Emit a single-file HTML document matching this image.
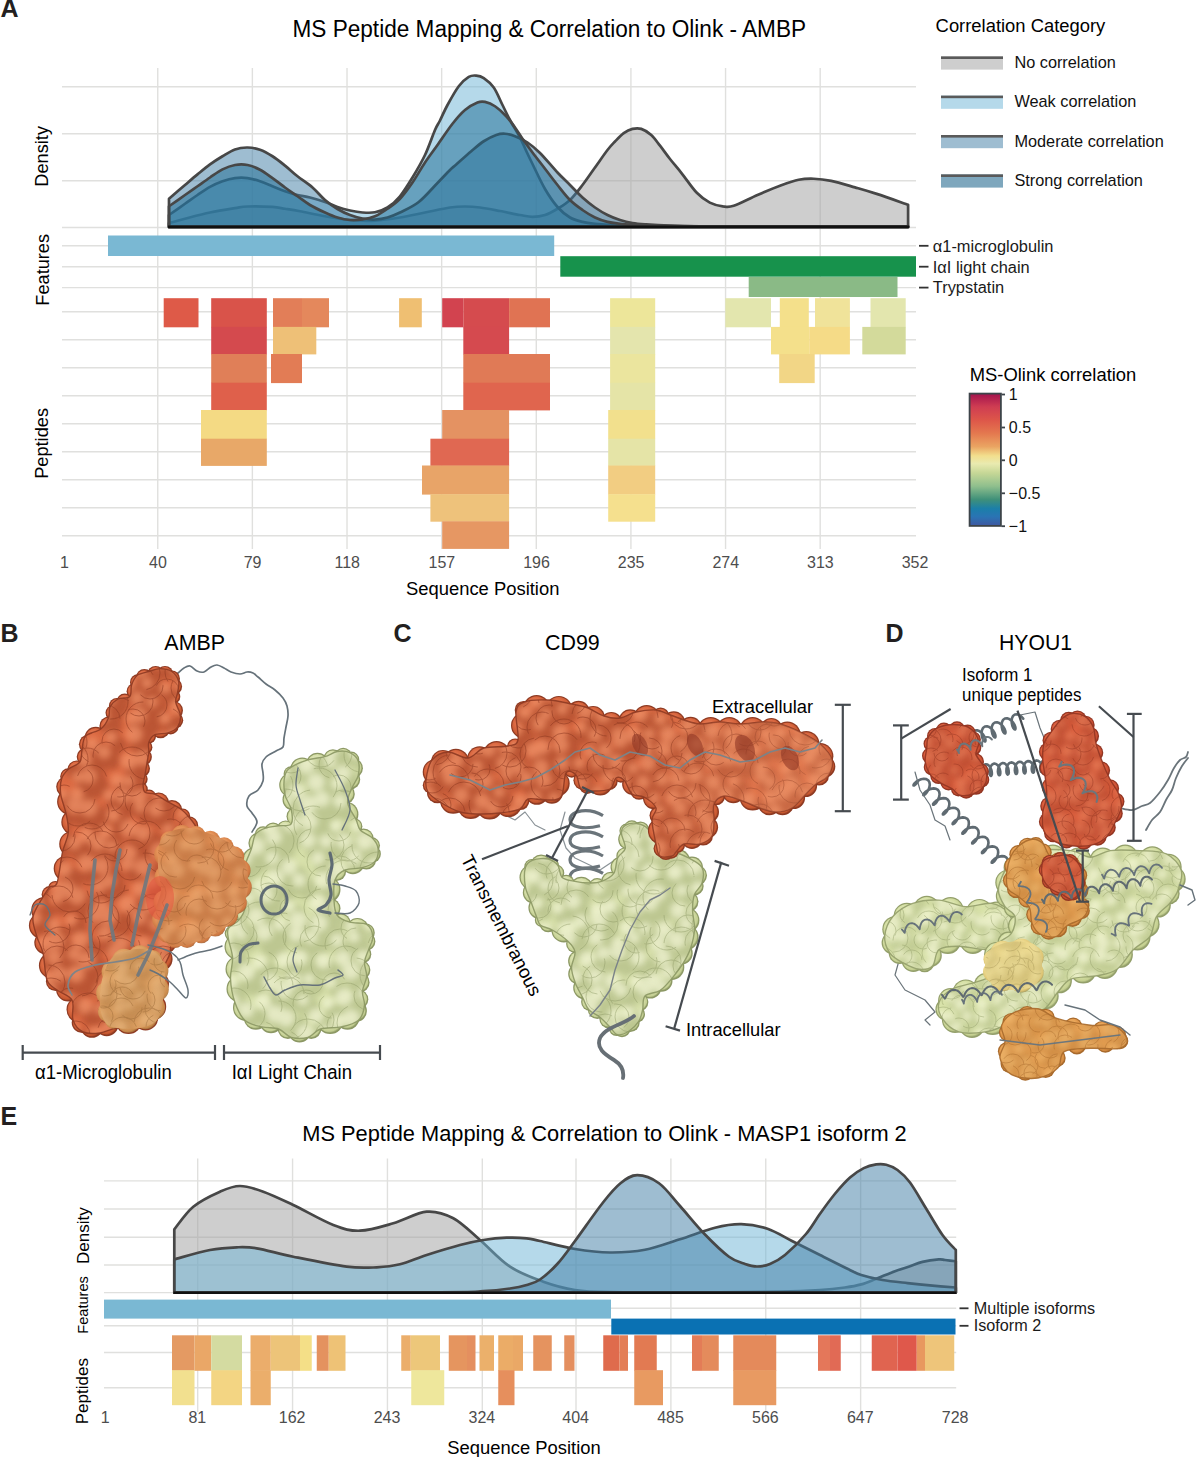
<!DOCTYPE html>
<html><head><meta charset="utf-8"><style>
html,body{margin:0;padding:0;background:#fff;}
body{width:1200px;height:1457px;overflow:hidden;}
svg{display:block;font-family:"Liberation Sans", sans-serif;}
</style></head><body>
<svg width="1200" height="1457" viewBox="0 0 1200 1457">
<rect width="1200" height="1457" fill="#fff"/>
<text transform="translate(0.5,17.4) scale(1,1.04)" font-size="25" text-anchor="start" fill="#231f20" font-weight="bold" >A</text>
<text transform="translate(292.5,37) scale(1,1.04)" font-size="22.6" text-anchor="start" fill="#000" font-weight="normal" >MS Peptide Mapping &amp; Correlation to Olink - AMBP</text>
<line x1="157.75" y1="68" x2="157.75" y2="549" stroke="#e0e0de" stroke-width="1.4" />
<line x1="252.38" y1="68" x2="252.38" y2="549" stroke="#e0e0de" stroke-width="1.4" />
<line x1="347.02" y1="68" x2="347.02" y2="549" stroke="#e0e0de" stroke-width="1.4" />
<line x1="441.65" y1="68" x2="441.65" y2="549" stroke="#e0e0de" stroke-width="1.4" />
<line x1="536.28" y1="68" x2="536.28" y2="549" stroke="#e0e0de" stroke-width="1.4" />
<line x1="630.92" y1="68" x2="630.92" y2="549" stroke="#e0e0de" stroke-width="1.4" />
<line x1="725.55" y1="68" x2="725.55" y2="549" stroke="#e0e0de" stroke-width="1.4" />
<line x1="820.18" y1="68" x2="820.18" y2="549" stroke="#e0e0de" stroke-width="1.4" />
<line x1="62" y1="86.75" x2="916" y2="86.75" stroke="#e0e0de" stroke-width="1.4" />
<line x1="62" y1="133.75" x2="916" y2="133.75" stroke="#e0e0de" stroke-width="1.4" />
<line x1="62" y1="180.75" x2="916" y2="180.75" stroke="#e0e0de" stroke-width="1.4" />
<line x1="62" y1="227.5" x2="916" y2="227.5" stroke="#e0e0de" stroke-width="1.4" />
<line x1="62" y1="245.8" x2="916" y2="245.8" stroke="#e0e0de" stroke-width="1.4" />
<line x1="62" y1="266.7" x2="916" y2="266.7" stroke="#e0e0de" stroke-width="1.4" />
<line x1="62" y1="287.6" x2="916" y2="287.6" stroke="#e0e0de" stroke-width="1.4" />
<line x1="62" y1="311.7" x2="916" y2="311.7" stroke="#e0e0de" stroke-width="1.4" />
<line x1="62" y1="339.7" x2="916" y2="339.7" stroke="#e0e0de" stroke-width="1.4" />
<line x1="62" y1="367.7" x2="916" y2="367.7" stroke="#e0e0de" stroke-width="1.4" />
<line x1="62" y1="395.7" x2="916" y2="395.7" stroke="#e0e0de" stroke-width="1.4" />
<line x1="62" y1="423.7" x2="916" y2="423.7" stroke="#e0e0de" stroke-width="1.4" />
<line x1="62" y1="451.7" x2="916" y2="451.7" stroke="#e0e0de" stroke-width="1.4" />
<line x1="62" y1="479.7" x2="916" y2="479.7" stroke="#e0e0de" stroke-width="1.4" />
<line x1="62" y1="507.7" x2="916" y2="507.7" stroke="#e0e0de" stroke-width="1.4" />
<line x1="62" y1="535.7" x2="916" y2="535.7" stroke="#e0e0de" stroke-width="1.4" />
<path d="M169,226.9 L169,223.1 C171.67,222.38 178.17,220.52 185.00,218.75 C191.83,216.98 201.67,214.28 210.00,212.50 C218.33,210.72 228.75,209.10 235.00,208.10 C241.25,207.10 241.25,206.70 247.50,206.50 C253.75,206.30 266.25,206.53 272.50,206.90 C278.75,207.28 280.42,208.03 285.00,208.75 C289.58,209.47 293.33,210.00 300.00,211.25 C306.67,212.50 316.67,214.79 325.00,216.25 C333.33,217.71 341.67,219.28 350.00,220.00 C358.33,220.72 366.67,221.02 375.00,220.60 C383.33,220.18 391.67,218.85 400.00,217.50 C408.33,216.15 416.67,214.17 425.00,212.50 C433.33,210.83 443.33,208.50 450.00,207.50 C456.67,206.50 460.00,206.50 465.00,206.50 C470.00,206.50 474.17,206.75 480.00,207.50 C485.83,208.25 493.33,209.75 500.00,211.00 C506.67,212.25 514.58,214.02 520.00,215.00 C525.42,215.98 528.33,216.90 532.50,216.90 C536.67,216.90 540.83,216.36 545.00,215.00 C549.17,213.64 553.33,211.25 557.50,208.75 C561.67,206.25 565.83,203.96 570.00,200.00 C574.17,196.04 578.33,190.42 582.50,185.00 C586.67,179.58 590.83,173.33 595.00,167.50 C599.17,161.67 604.17,154.33 607.50,150.00 C610.83,145.67 612.29,144.32 615.00,141.50 C617.71,138.68 620.83,135.20 623.75,133.10 C626.67,131.00 629.58,129.60 632.50,128.90 C635.42,128.20 638.12,127.88 641.25,128.90 C644.38,129.92 648.12,132.20 651.25,135.00 C654.38,137.80 656.88,141.70 660.00,145.70 C663.12,149.70 666.38,154.40 670.00,159.00 C673.62,163.60 677.23,167.67 681.70,173.30 C686.17,178.93 692.12,187.92 696.80,192.80 C701.48,197.68 705.47,200.35 709.80,202.60 C714.13,204.85 718.82,205.77 722.80,206.30 C726.78,206.83 727.92,207.68 733.70,205.80 C739.48,203.92 749.57,198.43 757.50,195.00 C765.43,191.57 774.43,187.78 781.30,185.25 C788.17,182.72 793.28,180.88 798.70,179.80 C804.12,178.72 808.38,178.57 813.80,178.75 C819.22,178.93 824.33,179.46 831.20,180.90 C838.07,182.34 847.42,185.23 855.00,187.40 C862.58,189.57 867.85,191.01 876.70,193.90 C885.55,196.79 902.87,202.94 908.10,204.75 L908.1,226.9 Z" fill="#9d9d9d" fill-opacity="0.5" stroke="none"/>
<path d="M169,226.9 L169,223.1 C171.67,222.38 178.17,220.52 185.00,218.75 C191.83,216.98 201.67,214.28 210.00,212.50 C218.33,210.72 228.75,209.10 235.00,208.10 C241.25,207.10 241.25,206.70 247.50,206.50 C253.75,206.30 266.25,206.53 272.50,206.90 C278.75,207.28 280.42,208.03 285.00,208.75 C289.58,209.47 293.33,210.00 300.00,211.25 C306.67,212.50 316.67,214.79 325.00,216.25 C333.33,217.71 341.67,219.28 350.00,220.00 C358.33,220.72 366.67,221.02 375.00,220.60 C383.33,220.18 391.67,218.85 400.00,217.50 C408.33,216.15 416.67,214.17 425.00,212.50 C433.33,210.83 443.33,208.50 450.00,207.50 C456.67,206.50 460.00,206.50 465.00,206.50 C470.00,206.50 474.17,206.75 480.00,207.50 C485.83,208.25 493.33,209.75 500.00,211.00 C506.67,212.25 514.58,214.02 520.00,215.00 C525.42,215.98 528.33,216.90 532.50,216.90 C536.67,216.90 540.83,216.36 545.00,215.00 C549.17,213.64 553.33,211.25 557.50,208.75 C561.67,206.25 565.83,203.96 570.00,200.00 C574.17,196.04 578.33,190.42 582.50,185.00 C586.67,179.58 590.83,173.33 595.00,167.50 C599.17,161.67 604.17,154.33 607.50,150.00 C610.83,145.67 612.29,144.32 615.00,141.50 C617.71,138.68 620.83,135.20 623.75,133.10 C626.67,131.00 629.58,129.60 632.50,128.90 C635.42,128.20 638.12,127.88 641.25,128.90 C644.38,129.92 648.12,132.20 651.25,135.00 C654.38,137.80 656.88,141.70 660.00,145.70 C663.12,149.70 666.38,154.40 670.00,159.00 C673.62,163.60 677.23,167.67 681.70,173.30 C686.17,178.93 692.12,187.92 696.80,192.80 C701.48,197.68 705.47,200.35 709.80,202.60 C714.13,204.85 718.82,205.77 722.80,206.30 C726.78,206.83 727.92,207.68 733.70,205.80 C739.48,203.92 749.57,198.43 757.50,195.00 C765.43,191.57 774.43,187.78 781.30,185.25 C788.17,182.72 793.28,180.88 798.70,179.80 C804.12,178.72 808.38,178.57 813.80,178.75 C819.22,178.93 824.33,179.46 831.20,180.90 C838.07,182.34 847.42,185.23 855.00,187.40 C862.58,189.57 867.85,191.01 876.70,193.90 C885.55,196.79 902.87,202.94 908.10,204.75 L908.1,226.9 Z" fill="none" stroke="#474747" stroke-width="2.7" stroke-linejoin="round"/>
<path d="M169,226.9 L169,215 C171.67,213.12 180.25,207.08 185.00,203.75 C189.75,200.42 193.33,197.81 197.50,195.00 C201.67,192.19 205.83,189.19 210.00,186.90 C214.17,184.61 218.33,182.72 222.50,181.25 C226.67,179.78 230.83,178.62 235.00,178.10 C239.17,177.57 243.33,177.57 247.50,178.10 C251.67,178.62 255.83,179.89 260.00,181.25 C264.17,182.61 268.33,184.58 272.50,186.25 C276.67,187.92 280.83,189.79 285.00,191.25 C289.17,192.71 293.33,193.96 297.50,195.00 C301.67,196.04 305.42,196.33 310.00,197.50 C314.58,198.67 320.42,200.42 325.00,202.00 C329.58,203.58 333.33,205.58 337.50,207.00 C341.67,208.42 345.83,209.58 350.00,210.50 C354.17,211.42 358.33,212.20 362.50,212.50 C366.67,212.80 370.83,213.13 375.00,212.30 C379.17,211.47 383.33,210.18 387.50,207.50 C391.67,204.82 395.83,201.25 400.00,196.25 C404.17,191.25 408.33,184.38 412.50,177.50 C416.67,170.62 421.25,162.92 425.00,155.00 C428.75,147.08 432.50,135.75 435.00,130.00 C437.50,124.25 437.92,124.67 440.00,120.50 C442.08,116.33 444.38,110.71 447.50,105.00 C450.62,99.29 455.21,90.93 458.75,86.25 C462.29,81.57 465.83,78.68 468.75,76.90 C471.67,75.12 473.75,75.40 476.25,75.60 C478.75,75.80 480.83,76.12 483.75,78.10 C486.67,80.08 490.62,83.02 493.75,87.50 C496.88,91.98 499.79,99.58 502.50,105.00 C505.21,110.42 507.08,114.58 510.00,120.00 C512.92,125.42 517.29,132.33 520.00,137.50 C522.71,142.67 524.17,146.58 526.25,151.00 C528.33,155.42 529.38,157.67 532.50,164.00 C535.62,170.33 540.83,181.83 545.00,189.00 C549.17,196.17 553.33,202.25 557.50,207.00 C561.67,211.75 565.83,215.02 570.00,217.50 C574.17,219.98 578.33,220.86 582.50,221.90 C586.67,222.94 588.75,223.15 595.00,223.75 C601.25,224.35 609.17,225.07 620.00,225.50 C630.83,225.93 612.00,226.12 660.00,226.30 C708.00,226.48 866.67,226.55 908.00,226.60 L908,226.9 Z" fill="#6cb4d6" fill-opacity="0.5" stroke="none"/>
<path d="M169,226.9 L169,215 C171.67,213.12 180.25,207.08 185.00,203.75 C189.75,200.42 193.33,197.81 197.50,195.00 C201.67,192.19 205.83,189.19 210.00,186.90 C214.17,184.61 218.33,182.72 222.50,181.25 C226.67,179.78 230.83,178.62 235.00,178.10 C239.17,177.57 243.33,177.57 247.50,178.10 C251.67,178.62 255.83,179.89 260.00,181.25 C264.17,182.61 268.33,184.58 272.50,186.25 C276.67,187.92 280.83,189.79 285.00,191.25 C289.17,192.71 293.33,193.96 297.50,195.00 C301.67,196.04 305.42,196.33 310.00,197.50 C314.58,198.67 320.42,200.42 325.00,202.00 C329.58,203.58 333.33,205.58 337.50,207.00 C341.67,208.42 345.83,209.58 350.00,210.50 C354.17,211.42 358.33,212.20 362.50,212.50 C366.67,212.80 370.83,213.13 375.00,212.30 C379.17,211.47 383.33,210.18 387.50,207.50 C391.67,204.82 395.83,201.25 400.00,196.25 C404.17,191.25 408.33,184.38 412.50,177.50 C416.67,170.62 421.25,162.92 425.00,155.00 C428.75,147.08 432.50,135.75 435.00,130.00 C437.50,124.25 437.92,124.67 440.00,120.50 C442.08,116.33 444.38,110.71 447.50,105.00 C450.62,99.29 455.21,90.93 458.75,86.25 C462.29,81.57 465.83,78.68 468.75,76.90 C471.67,75.12 473.75,75.40 476.25,75.60 C478.75,75.80 480.83,76.12 483.75,78.10 C486.67,80.08 490.62,83.02 493.75,87.50 C496.88,91.98 499.79,99.58 502.50,105.00 C505.21,110.42 507.08,114.58 510.00,120.00 C512.92,125.42 517.29,132.33 520.00,137.50 C522.71,142.67 524.17,146.58 526.25,151.00 C528.33,155.42 529.38,157.67 532.50,164.00 C535.62,170.33 540.83,181.83 545.00,189.00 C549.17,196.17 553.33,202.25 557.50,207.00 C561.67,211.75 565.83,215.02 570.00,217.50 C574.17,219.98 578.33,220.86 582.50,221.90 C586.67,222.94 588.75,223.15 595.00,223.75 C601.25,224.35 609.17,225.07 620.00,225.50 C630.83,225.93 612.00,226.12 660.00,226.30 C708.00,226.48 866.67,226.55 908.00,226.60 L908,226.9 Z" fill="none" stroke="#474747" stroke-width="2.7" stroke-linejoin="round"/>
<path d="M169,226.9 L169,198.75 C171.67,196.46 180.25,189.06 185.00,185.00 C189.75,180.94 193.33,177.83 197.50,174.40 C201.67,170.97 205.83,167.43 210.00,164.40 C214.17,161.38 218.33,158.75 222.50,156.25 C226.67,153.75 230.83,150.86 235.00,149.40 C239.17,147.94 243.33,147.44 247.50,147.50 C251.67,147.56 255.83,148.29 260.00,149.75 C264.17,151.21 268.33,153.61 272.50,156.25 C276.67,158.89 280.83,162.27 285.00,165.60 C289.17,168.93 292.92,172.60 297.50,176.25 C302.08,179.90 307.92,183.54 312.50,187.50 C317.08,191.46 320.83,196.42 325.00,200.00 C329.17,203.58 333.33,206.50 337.50,209.00 C341.67,211.50 345.83,213.42 350.00,215.00 C354.17,216.58 358.33,217.75 362.50,218.50 C366.67,219.25 370.83,219.67 375.00,219.50 C379.17,219.33 383.33,218.67 387.50,217.50 C391.67,216.33 394.79,215.08 400.00,212.50 C405.21,209.92 412.50,206.92 418.75,202.00 C425.00,197.08 432.29,188.33 437.50,183.00 C442.71,177.67 446.88,173.08 450.00,170.00 C453.12,166.92 452.71,167.62 456.25,164.50 C459.79,161.38 466.67,155.12 471.25,151.25 C475.83,147.38 479.58,143.96 483.75,141.25 C487.92,138.54 492.71,136.25 496.25,135.00 C499.79,133.75 501.88,133.54 505.00,133.75 C508.12,133.96 511.25,134.79 515.00,136.25 C518.75,137.71 523.33,139.71 527.50,142.50 C531.67,145.29 535.00,148.00 540.00,153.00 C545.00,158.00 552.50,167.17 557.50,172.50 C562.50,177.83 565.83,180.83 570.00,185.00 C574.17,189.17 578.33,193.75 582.50,197.50 C586.67,201.25 590.83,204.58 595.00,207.50 C599.17,210.42 603.33,212.92 607.50,215.00 C611.67,217.08 615.83,218.65 620.00,220.00 C624.17,221.35 628.33,222.37 632.50,223.10 C636.67,223.83 638.75,223.98 645.00,224.40 C651.25,224.82 657.50,225.27 670.00,225.60 C682.50,225.93 680.33,226.23 720.00,226.40 C759.67,226.57 876.67,226.57 908.00,226.60 L908,226.9 Z" fill="#3d7ca3" fill-opacity="0.5" stroke="none"/>
<path d="M169,226.9 L169,198.75 C171.67,196.46 180.25,189.06 185.00,185.00 C189.75,180.94 193.33,177.83 197.50,174.40 C201.67,170.97 205.83,167.43 210.00,164.40 C214.17,161.38 218.33,158.75 222.50,156.25 C226.67,153.75 230.83,150.86 235.00,149.40 C239.17,147.94 243.33,147.44 247.50,147.50 C251.67,147.56 255.83,148.29 260.00,149.75 C264.17,151.21 268.33,153.61 272.50,156.25 C276.67,158.89 280.83,162.27 285.00,165.60 C289.17,168.93 292.92,172.60 297.50,176.25 C302.08,179.90 307.92,183.54 312.50,187.50 C317.08,191.46 320.83,196.42 325.00,200.00 C329.17,203.58 333.33,206.50 337.50,209.00 C341.67,211.50 345.83,213.42 350.00,215.00 C354.17,216.58 358.33,217.75 362.50,218.50 C366.67,219.25 370.83,219.67 375.00,219.50 C379.17,219.33 383.33,218.67 387.50,217.50 C391.67,216.33 394.79,215.08 400.00,212.50 C405.21,209.92 412.50,206.92 418.75,202.00 C425.00,197.08 432.29,188.33 437.50,183.00 C442.71,177.67 446.88,173.08 450.00,170.00 C453.12,166.92 452.71,167.62 456.25,164.50 C459.79,161.38 466.67,155.12 471.25,151.25 C475.83,147.38 479.58,143.96 483.75,141.25 C487.92,138.54 492.71,136.25 496.25,135.00 C499.79,133.75 501.88,133.54 505.00,133.75 C508.12,133.96 511.25,134.79 515.00,136.25 C518.75,137.71 523.33,139.71 527.50,142.50 C531.67,145.29 535.00,148.00 540.00,153.00 C545.00,158.00 552.50,167.17 557.50,172.50 C562.50,177.83 565.83,180.83 570.00,185.00 C574.17,189.17 578.33,193.75 582.50,197.50 C586.67,201.25 590.83,204.58 595.00,207.50 C599.17,210.42 603.33,212.92 607.50,215.00 C611.67,217.08 615.83,218.65 620.00,220.00 C624.17,221.35 628.33,222.37 632.50,223.10 C636.67,223.83 638.75,223.98 645.00,224.40 C651.25,224.82 657.50,225.27 670.00,225.60 C682.50,225.93 680.33,226.23 720.00,226.40 C759.67,226.57 876.67,226.57 908.00,226.60 L908,226.9 Z" fill="none" stroke="#474747" stroke-width="2.7" stroke-linejoin="round"/>
<path d="M169,226.9 L169,206.25 C171.67,204.38 180.25,198.33 185.00,195.00 C189.75,191.67 193.33,189.17 197.50,186.25 C201.67,183.33 205.83,180.31 210.00,177.50 C214.17,174.69 218.33,171.48 222.50,169.40 C226.67,167.32 230.83,165.73 235.00,165.00 C239.17,164.27 243.33,164.21 247.50,165.00 C251.67,165.79 255.83,167.57 260.00,169.75 C264.17,171.93 268.33,175.14 272.50,178.10 C276.67,181.06 280.83,184.47 285.00,187.50 C289.17,190.53 293.33,193.33 297.50,196.25 C301.67,199.17 305.42,202.29 310.00,205.00 C314.58,207.71 320.42,210.42 325.00,212.50 C329.58,214.58 333.33,216.25 337.50,217.50 C341.67,218.75 345.83,219.68 350.00,220.00 C354.17,220.32 358.33,220.03 362.50,219.40 C366.67,218.78 370.83,218.03 375.00,216.25 C379.17,214.47 383.33,211.67 387.50,208.75 C391.67,205.83 395.83,203.12 400.00,198.75 C404.17,194.38 408.33,188.54 412.50,182.50 C416.67,176.46 420.83,168.75 425.00,162.50 C429.17,156.25 432.92,151.46 437.50,145.00 C442.08,138.54 447.92,129.58 452.50,123.75 C457.08,117.92 460.83,113.54 465.00,110.00 C469.17,106.46 474.17,103.85 477.50,102.50 C480.83,101.15 482.08,101.28 485.00,101.90 C487.92,102.53 491.46,103.86 495.00,106.25 C498.54,108.64 502.92,112.71 506.25,116.25 C509.58,119.79 512.29,123.75 515.00,127.50 C517.71,131.25 519.58,134.58 522.50,138.75 C525.42,142.92 528.75,147.50 532.50,152.50 C536.25,157.50 540.83,163.33 545.00,168.75 C549.17,174.17 553.33,179.79 557.50,185.00 C561.67,190.21 565.83,195.83 570.00,200.00 C574.17,204.17 578.33,207.08 582.50,210.00 C586.67,212.92 590.83,215.52 595.00,217.50 C599.17,219.48 603.33,220.86 607.50,221.90 C611.67,222.94 615.83,223.30 620.00,223.75 C624.17,224.20 625.83,224.26 632.50,224.60 C639.17,224.94 645.42,225.50 660.00,225.80 C674.58,226.10 678.67,226.27 720.00,226.40 C761.33,226.53 876.67,226.57 908.00,226.60 L908,226.9 Z" fill="#1a6a92" fill-opacity="0.5" stroke="none"/>
<path d="M169,226.9 L169,206.25 C171.67,204.38 180.25,198.33 185.00,195.00 C189.75,191.67 193.33,189.17 197.50,186.25 C201.67,183.33 205.83,180.31 210.00,177.50 C214.17,174.69 218.33,171.48 222.50,169.40 C226.67,167.32 230.83,165.73 235.00,165.00 C239.17,164.27 243.33,164.21 247.50,165.00 C251.67,165.79 255.83,167.57 260.00,169.75 C264.17,171.93 268.33,175.14 272.50,178.10 C276.67,181.06 280.83,184.47 285.00,187.50 C289.17,190.53 293.33,193.33 297.50,196.25 C301.67,199.17 305.42,202.29 310.00,205.00 C314.58,207.71 320.42,210.42 325.00,212.50 C329.58,214.58 333.33,216.25 337.50,217.50 C341.67,218.75 345.83,219.68 350.00,220.00 C354.17,220.32 358.33,220.03 362.50,219.40 C366.67,218.78 370.83,218.03 375.00,216.25 C379.17,214.47 383.33,211.67 387.50,208.75 C391.67,205.83 395.83,203.12 400.00,198.75 C404.17,194.38 408.33,188.54 412.50,182.50 C416.67,176.46 420.83,168.75 425.00,162.50 C429.17,156.25 432.92,151.46 437.50,145.00 C442.08,138.54 447.92,129.58 452.50,123.75 C457.08,117.92 460.83,113.54 465.00,110.00 C469.17,106.46 474.17,103.85 477.50,102.50 C480.83,101.15 482.08,101.28 485.00,101.90 C487.92,102.53 491.46,103.86 495.00,106.25 C498.54,108.64 502.92,112.71 506.25,116.25 C509.58,119.79 512.29,123.75 515.00,127.50 C517.71,131.25 519.58,134.58 522.50,138.75 C525.42,142.92 528.75,147.50 532.50,152.50 C536.25,157.50 540.83,163.33 545.00,168.75 C549.17,174.17 553.33,179.79 557.50,185.00 C561.67,190.21 565.83,195.83 570.00,200.00 C574.17,204.17 578.33,207.08 582.50,210.00 C586.67,212.92 590.83,215.52 595.00,217.50 C599.17,219.48 603.33,220.86 607.50,221.90 C611.67,222.94 615.83,223.30 620.00,223.75 C624.17,224.20 625.83,224.26 632.50,224.60 C639.17,224.94 645.42,225.50 660.00,225.80 C674.58,226.10 678.67,226.27 720.00,226.40 C761.33,226.53 876.67,226.57 908.00,226.60 L908,226.9 Z" fill="none" stroke="#474747" stroke-width="2.7" stroke-linejoin="round"/>
<line x1="168" y1="226.9" x2="909.2" y2="226.9" stroke="#111" stroke-width="2.6" />
<rect x="108.00" y="235.50" width="446.20" height="20.50" fill="#7ab8d3" />
<rect x="560.30" y="256.20" width="355.70" height="20.50" fill="#17924c" />
<rect x="748.70" y="277.00" width="148.80" height="20.00" fill="#8aba86" />
<line x1="919" y1="245.8" x2="928.5" y2="245.8" stroke="#333" stroke-width="1.8" />
<line x1="919" y1="266.7" x2="928.5" y2="266.7" stroke="#333" stroke-width="1.8" />
<line x1="919" y1="287.6" x2="928.5" y2="287.6" stroke="#333" stroke-width="1.8" />
<text transform="translate(932.8,252.1) scale(1,1.04)" font-size="16.4" text-anchor="start" fill="#1a1a1a" font-weight="normal" >α1-microglobulin</text>
<text transform="translate(932.8,272.8) scale(1,1.04)" font-size="16.4" text-anchor="start" fill="#1a1a1a" font-weight="normal" >IαI light chain</text>
<text transform="translate(932.8,293.2) scale(1,1.04)" font-size="16.4" text-anchor="start" fill="#1a1a1a" font-weight="normal" >Trypstatin</text>
<rect x="163.70" y="298.20" width="34.80" height="29.10" fill="#de5a48" />
<rect x="211.20" y="298.20" width="55.60" height="29.10" fill="#d9534a" />
<rect x="211.20" y="326.90" width="55.60" height="27.50" fill="#d44a4e" />
<rect x="211.20" y="354.00" width="55.60" height="29.10" fill="#e07f58" />
<rect x="211.20" y="382.70" width="55.60" height="27.70" fill="#df604b" />
<rect x="201.00" y="410.00" width="65.80" height="29.10" fill="#f4da84" />
<rect x="201.00" y="438.70" width="65.80" height="27.20" fill="#e8a868" />
<rect x="273.00" y="298.20" width="29.00" height="29.10" fill="#e27e58" />
<rect x="302.00" y="298.20" width="27.00" height="29.10" fill="#e4885c" />
<rect x="273.00" y="326.90" width="43.30" height="27.50" fill="#eec077" />
<rect x="271.00" y="354.00" width="31.00" height="29.10" fill="#e27c55" />
<rect x="399.10" y="298.20" width="22.70" height="29.10" fill="#efbf72" />
<rect x="442.20" y="298.20" width="21.10" height="29.10" fill="#d2434f" />
<rect x="463.30" y="298.20" width="45.80" height="29.10" fill="#d54b4e" />
<rect x="463.30" y="326.90" width="45.80" height="27.50" fill="#d54a4f" />
<rect x="509.10" y="298.20" width="40.90" height="29.10" fill="#e07353" />
<rect x="463.30" y="354.00" width="86.70" height="29.10" fill="#e07a56" />
<rect x="463.30" y="382.70" width="86.70" height="27.70" fill="#e0654e" />
<rect x="442.20" y="410.00" width="66.90" height="29.10" fill="#e49262" />
<rect x="430.40" y="438.70" width="78.70" height="27.20" fill="#e06852" />
<rect x="422.00" y="465.50" width="87.10" height="29.10" fill="#e8a468" />
<rect x="430.40" y="494.20" width="78.70" height="27.50" fill="#eec27b" />
<rect x="442.20" y="521.30" width="66.90" height="27.60" fill="#e69763" />
<rect x="610.10" y="298.20" width="45.10" height="29.10" fill="#ede69a" />
<rect x="610.10" y="326.90" width="45.10" height="27.50" fill="#e4e5ad" />
<rect x="610.10" y="354.00" width="45.10" height="29.10" fill="#ebe59e" />
<rect x="610.10" y="382.70" width="45.10" height="27.70" fill="#e5e4a7" />
<rect x="608.20" y="410.00" width="47.00" height="29.10" fill="#f2e08d" />
<rect x="608.20" y="438.70" width="47.00" height="27.20" fill="#e5e4a7" />
<rect x="608.20" y="465.50" width="47.00" height="29.10" fill="#f2cd82" />
<rect x="608.20" y="494.20" width="47.00" height="27.50" fill="#f5e08e" />
<rect x="725.30" y="298.20" width="45.70" height="29.10" fill="#e3e6ae" />
<rect x="779.80" y="298.20" width="29.00" height="29.10" fill="#f4e08b" />
<rect x="815.00" y="298.20" width="34.90" height="29.10" fill="#f0e39a" />
<rect x="870.50" y="298.20" width="35.20" height="29.10" fill="#e3e6ae" />
<rect x="771.00" y="326.90" width="38.20" height="27.50" fill="#f4e08b" />
<rect x="809.20" y="326.90" width="40.70" height="27.50" fill="#f5db87" />
<rect x="862.30" y="326.90" width="43.40" height="27.50" fill="#d3da9b" />
<rect x="779.20" y="354.00" width="35.50" height="29.10" fill="#f2d686" />
<text transform="translate(64.52,568) scale(1,1.04)" font-size="16" text-anchor="middle" fill="#4d4d4d" font-weight="normal" >1</text>
<text transform="translate(157.95,568) scale(1,1.04)" font-size="16" text-anchor="middle" fill="#4d4d4d" font-weight="normal" >40</text>
<text transform="translate(252.58,568) scale(1,1.04)" font-size="16" text-anchor="middle" fill="#4d4d4d" font-weight="normal" >79</text>
<text transform="translate(347.22,568) scale(1,1.04)" font-size="16" text-anchor="middle" fill="#4d4d4d" font-weight="normal" >118</text>
<text transform="translate(441.85,568) scale(1,1.04)" font-size="16" text-anchor="middle" fill="#4d4d4d" font-weight="normal" >157</text>
<text transform="translate(536.48,568) scale(1,1.04)" font-size="16" text-anchor="middle" fill="#4d4d4d" font-weight="normal" >196</text>
<text transform="translate(631.12,568) scale(1,1.04)" font-size="16" text-anchor="middle" fill="#4d4d4d" font-weight="normal" >235</text>
<text transform="translate(725.75,568) scale(1,1.04)" font-size="16" text-anchor="middle" fill="#4d4d4d" font-weight="normal" >274</text>
<text transform="translate(820.38,568) scale(1,1.04)" font-size="16" text-anchor="middle" fill="#4d4d4d" font-weight="normal" >313</text>
<text transform="translate(915.02,568) scale(1,1.04)" font-size="16" text-anchor="middle" fill="#4d4d4d" font-weight="normal" >352</text>
<text transform="translate(482.7,595.3) scale(1,1.04)" font-size="18.4" text-anchor="middle" fill="#000" font-weight="normal" >Sequence Position</text>
<text x="0" y="0" font-size="18.2" text-anchor="middle" fill="#000" transform="translate(47.6,156.3) rotate(-90)">Density</text>
<text x="0" y="0" font-size="18.2" text-anchor="middle" fill="#000" transform="translate(48.6,269.8) rotate(-90)">Features</text>
<text x="0" y="0" font-size="18.2" text-anchor="middle" fill="#000" transform="translate(47.6,443.4) rotate(-90)">Peptides</text>
<text transform="translate(935.6,31.8) scale(1,1.04)" font-size="18.4" text-anchor="start" fill="#000" font-weight="normal" >Correlation Category</text>
<rect x="941.00" y="56.40" width="62.00" height="13.20" fill="#cecece" />
<rect x="941.00" y="56.40" width="62.00" height="2.60" fill="#5a5a5a" />
<text transform="translate(1014.4,68.2) scale(1,1.04)" font-size="16.3" text-anchor="start" fill="#111" font-weight="normal" >No correlation</text>
<rect x="941.00" y="95.60" width="62.00" height="13.20" fill="#b5d9ea" />
<rect x="941.00" y="95.60" width="62.00" height="2.60" fill="#5a5a5a" />
<text transform="translate(1014.4,107.39999999999999) scale(1,1.04)" font-size="16.3" text-anchor="start" fill="#111" font-weight="normal" >Weak correlation</text>
<rect x="941.00" y="135.00" width="62.00" height="13.20" fill="#9ebdd1" />
<rect x="941.00" y="135.00" width="62.00" height="2.60" fill="#5a5a5a" />
<text transform="translate(1014.4,146.8) scale(1,1.04)" font-size="16.3" text-anchor="start" fill="#111" font-weight="normal" >Moderate correlation</text>
<rect x="941.00" y="174.40" width="62.00" height="13.20" fill="#7ea7bd" />
<rect x="941.00" y="174.40" width="62.00" height="2.60" fill="#5a5a5a" />
<text transform="translate(1014.4,186.20000000000002) scale(1,1.04)" font-size="16.3" text-anchor="start" fill="#111" font-weight="normal" >Strong correlation</text>
<defs><linearGradient id="cb" x1="0" y1="0" x2="0" y2="1">
<stop offset="0" stop-color="#a3124d"/><stop offset="0.1" stop-color="#cf3d52"/><stop offset="0.2" stop-color="#dd5649"/>
<stop offset="0.3" stop-color="#e4784f"/><stop offset="0.4" stop-color="#eaa462"/><stop offset="0.47" stop-color="#f2df8d"/>
<stop offset="0.53" stop-color="#e9eab0"/><stop offset="0.6" stop-color="#c6d796"/><stop offset="0.7" stop-color="#8fbf8d"/>
<stop offset="0.8" stop-color="#3f9079"/><stop offset="0.87" stop-color="#1b7fa9"/><stop offset="0.93" stop-color="#2a74b4"/><stop offset="1" stop-color="#3f57a0"/>
</linearGradient></defs>
<rect x="969.6" y="393.6" width="31.3" height="132.3" fill="url(#cb)" stroke="#3d4449" stroke-width="1.8"/>
<text transform="translate(969.7,380.8) scale(1,1.04)" font-size="18.4" text-anchor="start" fill="#000" font-weight="normal" >MS-Olink correlation</text>
<line x1="1001.5" y1="394.5" x2="1005" y2="394.5" stroke="#3d4449" stroke-width="1.8" />
<text transform="translate(1008.8,400.1) scale(1,1.04)" font-size="16" text-anchor="start" fill="#111" font-weight="normal" >1</text>
<line x1="1001.5" y1="427.5" x2="1005" y2="427.5" stroke="#3d4449" stroke-width="1.8" />
<text transform="translate(1008.8,433.1) scale(1,1.04)" font-size="16" text-anchor="start" fill="#111" font-weight="normal" >0.5</text>
<line x1="1001.5" y1="460.3" x2="1005" y2="460.3" stroke="#3d4449" stroke-width="1.8" />
<text transform="translate(1008.8,465.90000000000003) scale(1,1.04)" font-size="16" text-anchor="start" fill="#111" font-weight="normal" >0</text>
<line x1="1001.5" y1="493.3" x2="1005" y2="493.3" stroke="#3d4449" stroke-width="1.8" />
<text transform="translate(1008.8,498.90000000000003) scale(1,1.04)" font-size="16" text-anchor="start" fill="#111" font-weight="normal" >−0.5</text>
<line x1="1001.5" y1="526.2" x2="1005" y2="526.2" stroke="#3d4449" stroke-width="1.8" />
<text transform="translate(1008.8,531.8000000000001) scale(1,1.04)" font-size="16" text-anchor="start" fill="#111" font-weight="normal" >−1</text>
<defs>
<radialGradient id="g_or" cx="0.42" cy="0.38" r="0.62" fx="0.38" fy="0.32"><stop offset="0" stop-color="#f2946a"/><stop offset="0.45" stop-color="#dc6a43"/><stop offset="0.85" stop-color="#c5572f"/><stop offset="1" stop-color="#8e3a22"/></radialGradient>
<radialGradient id="g_rd" cx="0.42" cy="0.38" r="0.62" fx="0.38" fy="0.32"><stop offset="0" stop-color="#f08a64"/><stop offset="0.45" stop-color="#dc5f3e"/><stop offset="0.85" stop-color="#c44c30"/><stop offset="1" stop-color="#923522"/></radialGradient>
<radialGradient id="g_yo" cx="0.42" cy="0.38" r="0.62" fx="0.38" fy="0.32"><stop offset="0" stop-color="#f6c47a"/><stop offset="0.45" stop-color="#e8a255"/><stop offset="0.85" stop-color="#d48a40"/><stop offset="1" stop-color="#a86a2c"/></radialGradient>
<radialGradient id="g_tan" cx="0.42" cy="0.38" r="0.62" fx="0.38" fy="0.32"><stop offset="0" stop-color="#f4c98a"/><stop offset="0.45" stop-color="#e7ad68"/><stop offset="0.85" stop-color="#d49650"/><stop offset="1" stop-color="#a87838"/></radialGradient>
<radialGradient id="g_gr" cx="0.42" cy="0.38" r="0.62" fx="0.38" fy="0.32"><stop offset="0" stop-color="#f4f7d8"/><stop offset="0.45" stop-color="#d8e1ab"/><stop offset="0.85" stop-color="#c3ce92"/><stop offset="1" stop-color="#8c9864"/></radialGradient>
<radialGradient id="g_ye" cx="0.42" cy="0.38" r="0.62" fx="0.38" fy="0.32"><stop offset="0" stop-color="#f8eaa8"/><stop offset="0.45" stop-color="#ecd88c"/><stop offset="0.85" stop-color="#dcc474"/><stop offset="1" stop-color="#a89858"/></radialGradient>
<radialGradient id="g_gl" cx="0.42" cy="0.38" r="0.62" fx="0.38" fy="0.32"><stop offset="0" stop-color="#f4f7d6"/><stop offset="0.45" stop-color="#d8e2a8"/><stop offset="0.85" stop-color="#c4cf90"/><stop offset="1" stop-color="#939f6a"/></radialGradient>
<radialGradient id="g_yb" cx="0.42" cy="0.38" r="0.62" fx="0.38" fy="0.32"><stop offset="0" stop-color="#f2b27a"/><stop offset="0.45" stop-color="#e28f55"/><stop offset="0.85" stop-color="#cc7842"/><stop offset="1" stop-color="#9a5a2e"/></radialGradient>
<radialGradient id="g_tb" cx="0.42" cy="0.38" r="0.62" fx="0.38" fy="0.32"><stop offset="0" stop-color="#f0c088"/><stop offset="0.45" stop-color="#dea062"/><stop offset="0.85" stop-color="#c88a4c"/><stop offset="1" stop-color="#9a6a38"/></radialGradient>
<radialGradient id="s_or" cx="0.45" cy="0.42" r="0.6" fx="0.4" fy="0.35"><stop offset="0" stop-color="#f2946a" stop-opacity="0.85"/><stop offset="0.55" stop-color="#dc6a43"/><stop offset="0.88" stop-color="#c5572f"/><stop offset="1" stop-color="#8e3a22" stop-opacity="0.85"/></radialGradient>
<radialGradient id="s_rd" cx="0.45" cy="0.42" r="0.6" fx="0.4" fy="0.35"><stop offset="0" stop-color="#f08a64" stop-opacity="0.85"/><stop offset="0.55" stop-color="#dc5f3e"/><stop offset="0.88" stop-color="#c44c30"/><stop offset="1" stop-color="#923522" stop-opacity="0.85"/></radialGradient>
<radialGradient id="s_yo" cx="0.45" cy="0.42" r="0.6" fx="0.4" fy="0.35"><stop offset="0" stop-color="#f6c47a" stop-opacity="0.85"/><stop offset="0.55" stop-color="#e8a255"/><stop offset="0.88" stop-color="#d48a40"/><stop offset="1" stop-color="#a86a2c" stop-opacity="0.85"/></radialGradient>
<radialGradient id="s_tan" cx="0.45" cy="0.42" r="0.6" fx="0.4" fy="0.35"><stop offset="0" stop-color="#f4c98a" stop-opacity="0.85"/><stop offset="0.55" stop-color="#e7ad68"/><stop offset="0.88" stop-color="#d49650"/><stop offset="1" stop-color="#a87838" stop-opacity="0.85"/></radialGradient>
<radialGradient id="s_gr" cx="0.45" cy="0.42" r="0.6" fx="0.4" fy="0.35"><stop offset="0" stop-color="#f4f7d8" stop-opacity="0.85"/><stop offset="0.55" stop-color="#d8e1ab"/><stop offset="0.88" stop-color="#c3ce92"/><stop offset="1" stop-color="#8c9864" stop-opacity="0.85"/></radialGradient>
<radialGradient id="s_ye" cx="0.45" cy="0.42" r="0.6" fx="0.4" fy="0.35"><stop offset="0" stop-color="#f8eaa8" stop-opacity="0.85"/><stop offset="0.55" stop-color="#ecd88c"/><stop offset="0.88" stop-color="#dcc474"/><stop offset="1" stop-color="#a89858" stop-opacity="0.85"/></radialGradient>
<radialGradient id="s_gl" cx="0.45" cy="0.42" r="0.6" fx="0.4" fy="0.35"><stop offset="0" stop-color="#f4f7d6" stop-opacity="0.85"/><stop offset="0.55" stop-color="#d8e2a8"/><stop offset="0.88" stop-color="#c4cf90"/><stop offset="1" stop-color="#939f6a" stop-opacity="0.85"/></radialGradient>
<radialGradient id="s_yb" cx="0.45" cy="0.42" r="0.6" fx="0.4" fy="0.35"><stop offset="0" stop-color="#f2b27a" stop-opacity="0.85"/><stop offset="0.55" stop-color="#e28f55"/><stop offset="0.88" stop-color="#cc7842"/><stop offset="1" stop-color="#9a5a2e" stop-opacity="0.85"/></radialGradient>
<radialGradient id="s_tb" cx="0.45" cy="0.42" r="0.6" fx="0.4" fy="0.35"><stop offset="0" stop-color="#f0c088" stop-opacity="0.85"/><stop offset="0.55" stop-color="#dea062"/><stop offset="0.88" stop-color="#c88a4c"/><stop offset="1" stop-color="#9a6a38" stop-opacity="0.85"/></radialGradient>
<filter id="blur3" x="-20%" y="-20%" width="140%" height="140%"><feGaussianBlur stdDeviation="3"/></filter>
</defs>
<text transform="translate(0.5,641.8) scale(1,1.04)" font-size="25" text-anchor="start" fill="#231f20" font-weight="bold" >B</text>
<text transform="translate(194.7,650) scale(1,1.04)" font-size="21.4" text-anchor="middle" fill="#000" font-weight="normal" >AMBP</text>
<path d="M178.0,673.0 C179.0,672.2 182.0,669.2 184.0,668.0 C186.0,666.8 187.8,665.5 190.0,666.0 C192.2,666.5 194.7,670.0 197.0,671.0 C199.3,672.0 201.7,672.7 204.0,672.0 C206.3,671.3 208.8,668.2 211.0,667.0 C213.2,665.8 214.8,664.8 217.0,665.0 C219.2,665.2 221.7,666.8 224.0,668.0 C226.3,669.2 228.3,671.0 231.0,672.0 C233.7,673.0 237.3,674.0 240.0,674.0 C242.7,674.0 244.8,672.2 247.0,672.0 C249.2,671.8 251.2,672.2 253.0,673.0 C254.8,673.8 255.8,675.2 258.0,677.0 C260.2,678.8 263.2,681.8 266.0,684.0 C268.8,686.2 272.2,687.7 275.0,690.0 C277.8,692.3 281.0,695.3 283.0,698.0 C285.0,700.7 286.2,703.0 287.0,706.0 C287.8,709.0 288.2,712.5 288.0,716.0 C287.8,719.5 286.7,723.3 286.0,727.0 C285.3,730.7 284.5,734.7 284.0,738.0 C283.5,741.3 284.3,744.8 283.0,747.0 C281.7,749.2 278.8,749.3 276.0,751.0 C273.2,752.7 268.3,754.8 266.0,757.0 C263.7,759.2 262.5,761.3 262.0,764.0 C261.5,766.7 262.8,770.2 263.0,773.0 C263.2,775.8 263.8,778.2 263.0,781.0 C262.2,783.8 260.3,787.5 258.0,790.0 C255.7,792.5 250.8,793.3 249.0,796.0 C247.2,798.7 246.5,803.2 247.0,806.0 C247.5,808.8 250.3,810.3 252.0,813.0 C253.7,815.7 257.0,818.8 257.0,822.0 C257.0,825.2 252.8,830.3 252.0,832.0" fill="none" stroke="#66727a" stroke-width="1.7" stroke-linecap="round" />
<clipPath id="clp1"><path d="M284.9,775.6 C285.9,771.1 287.4,769.8 291.2,767.2 C295.0,764.6 302.3,761.6 307.9,759.9 C313.5,758.1 319.8,758.1 324.7,756.7 C329.6,755.3 333.1,752.2 337.3,751.5 C341.5,750.8 346.3,751.0 349.8,752.6 C353.3,754.2 356.8,757.1 358.2,760.9 C359.6,764.7 359.2,771.0 358.2,775.6 C357.1,780.2 353.6,783.7 351.9,788.2 C350.1,792.7 347.0,797.6 347.7,802.8 C348.4,808.0 354.0,815.1 356.1,819.6 C358.2,824.1 357.5,826.9 360.3,830.0 C363.1,833.1 369.8,835.2 372.8,838.4 C375.8,841.5 377.8,845.1 378.1,848.9 C378.5,852.7 377.5,858.3 374.9,861.4 C372.3,864.5 367.4,866.3 362.4,867.7 C357.4,869.1 349.6,868.0 345.0,870.0 C340.4,872.0 336.8,875.0 335.0,880.0 C333.2,885.0 333.7,894.2 334.0,900.0 C334.3,905.8 334.4,911.3 337.0,915.0 C339.6,918.7 344.9,920.7 349.8,922.2 C354.7,923.8 362.8,921.9 366.6,924.3 C370.4,926.7 372.5,932.6 372.8,936.8 C373.1,941.0 370.1,945.2 368.7,949.4 C367.3,953.6 364.9,957.5 364.5,962.0 C364.1,966.5 367.0,971.7 366.6,976.6 C366.2,981.5 362.8,986.4 362.4,991.3 C362.0,996.2 365.2,1001.0 364.5,1005.9 C363.8,1010.8 362.1,1017.1 358.2,1020.6 C354.3,1024.1 347.7,1025.5 341.4,1026.9 C335.1,1028.3 326.1,1027.3 320.5,1029.0 C314.9,1030.7 312.8,1035.9 307.9,1037.3 C303.0,1038.7 296.1,1038.7 291.2,1037.3 C286.3,1035.9 283.5,1030.7 278.6,1029.0 C273.7,1027.3 267.5,1028.3 261.9,1026.9 C256.3,1025.5 249.6,1024.8 245.1,1020.6 C240.6,1016.4 237.1,1008.7 234.7,1001.7 C232.3,994.7 230.8,986.0 230.5,978.7 C230.2,971.4 232.9,964.4 232.6,957.8 C232.2,951.2 229.1,943.8 228.4,938.9 C227.7,934.0 226.7,931.5 228.4,928.4 C230.1,925.3 236.0,923.6 238.8,920.1 C241.6,916.6 244.4,913.1 245.1,907.5 C245.8,901.9 243.0,893.6 243.0,886.6 C243.0,879.6 243.7,871.9 245.1,865.6 C246.5,859.3 249.7,854.1 251.4,848.9 C253.2,843.7 253.1,837.7 255.6,834.2 C258.1,830.7 262.3,829.3 266.1,827.9 C269.9,826.5 274.4,826.5 278.6,825.8 C282.8,825.1 289.1,826.6 291.2,823.8 C293.3,821.0 292.2,814.0 291.2,809.1 C290.1,804.2 285.9,800.0 284.9,794.4 C283.8,788.8 283.8,780.1 284.9,775.6Z"/></clipPath>
<circle cx="291.1" cy="773.7" r="7.5" fill="#8c9864"/>
<circle cx="302.2" cy="769.6" r="12.1" fill="#8c9864"/>
<circle cx="317.5" cy="764.3" r="11.5" fill="#8c9864"/>
<circle cx="332.9" cy="758.6" r="9.4" fill="#8c9864"/>
<circle cx="343.2" cy="756.5" r="8.7" fill="#8c9864"/>
<circle cx="351.0" cy="759.8" r="8.3" fill="#8c9864"/>
<circle cx="352.9" cy="768.2" r="10.0" fill="#8c9864"/>
<circle cx="350.5" cy="779.6" r="9.7" fill="#8c9864"/>
<circle cx="344.5" cy="794.0" r="10.3" fill="#8c9864"/>
<circle cx="345.9" cy="814.2" r="12.5" fill="#8c9864"/>
<circle cx="354.5" cy="826.3" r="7.9" fill="#8c9864"/>
<circle cx="363.5" cy="838.7" r="10.2" fill="#8c9864"/>
<circle cx="371.7" cy="845.6" r="8.3" fill="#8c9864"/>
<circle cx="372.0" cy="854.0" r="8.9" fill="#8c9864"/>
<circle cx="366.4" cy="860.0" r="9.6" fill="#8c9864"/>
<circle cx="352.9" cy="862.6" r="11.7" fill="#8c9864"/>
<circle cx="336.4" cy="871.4" r="9.7" fill="#8c9864"/>
<circle cx="327.3" cy="889.6" r="13.2" fill="#8c9864"/>
<circle cx="330.1" cy="908.6" r="10.4" fill="#8c9864"/>
<circle cx="340.8" cy="923.2" r="10.0" fill="#8c9864"/>
<circle cx="357.4" cy="929.3" r="11.4" fill="#8c9864"/>
<circle cx="365.2" cy="932.8" r="9.6" fill="#8c9864"/>
<circle cx="366.2" cy="941.6" r="9.2" fill="#8c9864"/>
<circle cx="362.1" cy="954.2" r="9.2" fill="#8c9864"/>
<circle cx="360.3" cy="970.1" r="10.1" fill="#8c9864"/>
<circle cx="359.2" cy="982.4" r="10.4" fill="#8c9864"/>
<circle cx="358.2" cy="999.4" r="10.1" fill="#8c9864"/>
<circle cx="356.1" cy="1011.0" r="10.8" fill="#8c9864"/>
<circle cx="347.5" cy="1017.7" r="12.0" fill="#8c9864"/>
<circle cx="330.2" cy="1020.8" r="13.2" fill="#8c9864"/>
<circle cx="311.2" cy="1028.6" r="10.3" fill="#8c9864"/>
<circle cx="299.5" cy="1031.3" r="11.2" fill="#8c9864"/>
<circle cx="287.9" cy="1028.6" r="10.3" fill="#8c9864"/>
<circle cx="271.0" cy="1021.9" r="11.3" fill="#8c9864"/>
<circle cx="255.8" cy="1017.7" r="12.0" fill="#8c9864"/>
<circle cx="246.2" cy="1007.7" r="13.2" fill="#8c9864"/>
<circle cx="239.7" cy="988.9" r="13.2" fill="#8c9864"/>
<circle cx="238.7" cy="969.0" r="13.2" fill="#8c9864"/>
<circle cx="237.3" cy="946.8" r="12.8" fill="#8c9864"/>
<circle cx="232.2" cy="933.6" r="7.5" fill="#8c9864"/>
<circle cx="236.6" cy="928.0" r="9.2" fill="#8c9864"/>
<circle cx="246.5" cy="916.1" r="9.7" fill="#8c9864"/>
<circle cx="251.2" cy="896.3" r="13.2" fill="#8c9864"/>
<circle cx="251.2" cy="876.8" r="13.2" fill="#8c9864"/>
<circle cx="254.3" cy="859.5" r="11.9" fill="#8c9864"/>
<circle cx="258.8" cy="843.1" r="10.4" fill="#8c9864"/>
<circle cx="263.1" cy="834.8" r="8.5" fill="#8c9864"/>
<circle cx="273.1" cy="831.3" r="8.8" fill="#8c9864"/>
<circle cx="285.6" cy="829.3" r="8.9" fill="#8c9864"/>
<circle cx="296.5" cy="816.5" r="10.0" fill="#8c9864"/>
<circle cx="293.3" cy="799.5" r="10.8" fill="#8c9864"/>
<circle cx="291.7" cy="785.0" r="12.5" fill="#8c9864"/>
<circle cx="291.1" cy="773.7" r="6.3" fill="url(#s_gr)"/>
<circle cx="302.2" cy="769.6" r="10.9" fill="url(#s_gr)"/>
<circle cx="317.5" cy="764.3" r="10.3" fill="url(#s_gr)"/>
<circle cx="332.9" cy="758.6" r="8.2" fill="url(#s_gr)"/>
<circle cx="343.2" cy="756.5" r="7.5" fill="url(#s_gr)"/>
<circle cx="351.0" cy="759.8" r="7.1" fill="url(#s_gr)"/>
<circle cx="352.9" cy="768.2" r="8.8" fill="url(#s_gr)"/>
<circle cx="350.5" cy="779.6" r="8.5" fill="url(#s_gr)"/>
<circle cx="344.5" cy="794.0" r="9.1" fill="url(#s_gr)"/>
<circle cx="345.9" cy="814.2" r="11.3" fill="url(#s_gr)"/>
<circle cx="354.5" cy="826.3" r="6.7" fill="url(#s_gr)"/>
<circle cx="363.5" cy="838.7" r="9.0" fill="url(#s_gr)"/>
<circle cx="371.7" cy="845.6" r="7.1" fill="url(#s_gr)"/>
<circle cx="372.0" cy="854.0" r="7.7" fill="url(#s_gr)"/>
<circle cx="366.4" cy="860.0" r="8.4" fill="url(#s_gr)"/>
<circle cx="352.9" cy="862.6" r="10.5" fill="url(#s_gr)"/>
<circle cx="336.4" cy="871.4" r="8.5" fill="url(#s_gr)"/>
<circle cx="327.3" cy="889.6" r="12.0" fill="url(#s_gr)"/>
<circle cx="330.1" cy="908.6" r="9.2" fill="url(#s_gr)"/>
<circle cx="340.8" cy="923.2" r="8.8" fill="url(#s_gr)"/>
<circle cx="357.4" cy="929.3" r="10.2" fill="url(#s_gr)"/>
<circle cx="365.2" cy="932.8" r="8.4" fill="url(#s_gr)"/>
<circle cx="366.2" cy="941.6" r="8.0" fill="url(#s_gr)"/>
<circle cx="362.1" cy="954.2" r="8.0" fill="url(#s_gr)"/>
<circle cx="360.3" cy="970.1" r="8.9" fill="url(#s_gr)"/>
<circle cx="359.2" cy="982.4" r="9.2" fill="url(#s_gr)"/>
<circle cx="358.2" cy="999.4" r="8.9" fill="url(#s_gr)"/>
<circle cx="356.1" cy="1011.0" r="9.6" fill="url(#s_gr)"/>
<circle cx="347.5" cy="1017.7" r="10.8" fill="url(#s_gr)"/>
<circle cx="330.2" cy="1020.8" r="12.0" fill="url(#s_gr)"/>
<circle cx="311.2" cy="1028.6" r="9.1" fill="url(#s_gr)"/>
<circle cx="299.5" cy="1031.3" r="10.0" fill="url(#s_gr)"/>
<circle cx="287.9" cy="1028.6" r="9.1" fill="url(#s_gr)"/>
<circle cx="271.0" cy="1021.9" r="10.1" fill="url(#s_gr)"/>
<circle cx="255.8" cy="1017.7" r="10.8" fill="url(#s_gr)"/>
<circle cx="246.2" cy="1007.7" r="12.0" fill="url(#s_gr)"/>
<circle cx="239.7" cy="988.9" r="12.0" fill="url(#s_gr)"/>
<circle cx="238.7" cy="969.0" r="12.0" fill="url(#s_gr)"/>
<circle cx="237.3" cy="946.8" r="11.6" fill="url(#s_gr)"/>
<circle cx="232.2" cy="933.6" r="6.3" fill="url(#s_gr)"/>
<circle cx="236.6" cy="928.0" r="8.0" fill="url(#s_gr)"/>
<circle cx="246.5" cy="916.1" r="8.5" fill="url(#s_gr)"/>
<circle cx="251.2" cy="896.3" r="12.0" fill="url(#s_gr)"/>
<circle cx="251.2" cy="876.8" r="12.0" fill="url(#s_gr)"/>
<circle cx="254.3" cy="859.5" r="10.7" fill="url(#s_gr)"/>
<circle cx="258.8" cy="843.1" r="9.2" fill="url(#s_gr)"/>
<circle cx="263.1" cy="834.8" r="7.3" fill="url(#s_gr)"/>
<circle cx="273.1" cy="831.3" r="7.6" fill="url(#s_gr)"/>
<circle cx="285.6" cy="829.3" r="7.7" fill="url(#s_gr)"/>
<circle cx="296.5" cy="816.5" r="8.8" fill="url(#s_gr)"/>
<circle cx="293.3" cy="799.5" r="9.6" fill="url(#s_gr)"/>
<circle cx="291.7" cy="785.0" r="11.3" fill="url(#s_gr)"/>
<path d="M284.9,775.6 C285.9,771.1 287.4,769.8 291.2,767.2 C295.0,764.6 302.3,761.6 307.9,759.9 C313.5,758.1 319.8,758.1 324.7,756.7 C329.6,755.3 333.1,752.2 337.3,751.5 C341.5,750.8 346.3,751.0 349.8,752.6 C353.3,754.2 356.8,757.1 358.2,760.9 C359.6,764.7 359.2,771.0 358.2,775.6 C357.1,780.2 353.6,783.7 351.9,788.2 C350.1,792.7 347.0,797.6 347.7,802.8 C348.4,808.0 354.0,815.1 356.1,819.6 C358.2,824.1 357.5,826.9 360.3,830.0 C363.1,833.1 369.8,835.2 372.8,838.4 C375.8,841.5 377.8,845.1 378.1,848.9 C378.5,852.7 377.5,858.3 374.9,861.4 C372.3,864.5 367.4,866.3 362.4,867.7 C357.4,869.1 349.6,868.0 345.0,870.0 C340.4,872.0 336.8,875.0 335.0,880.0 C333.2,885.0 333.7,894.2 334.0,900.0 C334.3,905.8 334.4,911.3 337.0,915.0 C339.6,918.7 344.9,920.7 349.8,922.2 C354.7,923.8 362.8,921.9 366.6,924.3 C370.4,926.7 372.5,932.6 372.8,936.8 C373.1,941.0 370.1,945.2 368.7,949.4 C367.3,953.6 364.9,957.5 364.5,962.0 C364.1,966.5 367.0,971.7 366.6,976.6 C366.2,981.5 362.8,986.4 362.4,991.3 C362.0,996.2 365.2,1001.0 364.5,1005.9 C363.8,1010.8 362.1,1017.1 358.2,1020.6 C354.3,1024.1 347.7,1025.5 341.4,1026.9 C335.1,1028.3 326.1,1027.3 320.5,1029.0 C314.9,1030.7 312.8,1035.9 307.9,1037.3 C303.0,1038.7 296.1,1038.7 291.2,1037.3 C286.3,1035.9 283.5,1030.7 278.6,1029.0 C273.7,1027.3 267.5,1028.3 261.9,1026.9 C256.3,1025.5 249.6,1024.8 245.1,1020.6 C240.6,1016.4 237.1,1008.7 234.7,1001.7 C232.3,994.7 230.8,986.0 230.5,978.7 C230.2,971.4 232.9,964.4 232.6,957.8 C232.2,951.2 229.1,943.8 228.4,938.9 C227.7,934.0 226.7,931.5 228.4,928.4 C230.1,925.3 236.0,923.6 238.8,920.1 C241.6,916.6 244.4,913.1 245.1,907.5 C245.8,901.9 243.0,893.6 243.0,886.6 C243.0,879.6 243.7,871.9 245.1,865.6 C246.5,859.3 249.7,854.1 251.4,848.9 C253.2,843.7 253.1,837.7 255.6,834.2 C258.1,830.7 262.3,829.3 266.1,827.9 C269.9,826.5 274.4,826.5 278.6,825.8 C282.8,825.1 289.1,826.6 291.2,823.8 C293.3,821.0 292.2,814.0 291.2,809.1 C290.1,804.2 285.9,800.0 284.9,794.4 C283.8,788.8 283.8,780.1 284.9,775.6Z" fill="#d8e1ab"/>
<g clip-path="url(#clp1)">
<g filter="url(#blur3)" opacity="0.35" fill="#8c9864">
<circle cx="296" cy="764" r="11"/>
<circle cx="327" cy="758" r="12"/>
<circle cx="340" cy="761" r="14"/>
<circle cx="367" cy="761" r="13"/>
<circle cx="291" cy="782" r="11"/>
<circle cx="316" cy="777" r="14"/>
<circle cx="337" cy="771" r="10"/>
<circle cx="351" cy="783" r="11"/>
<circle cx="281" cy="793" r="14"/>
<circle cx="306" cy="802" r="12"/>
<circle cx="325" cy="793" r="13"/>
<circle cx="344" cy="792" r="9"/>
<circle cx="293" cy="814" r="14"/>
<circle cx="318" cy="817" r="14"/>
<circle cx="331" cy="810" r="12"/>
<circle cx="348" cy="811" r="11"/>
<circle cx="256" cy="836" r="12"/>
<circle cx="280" cy="837" r="14"/>
<circle cx="300" cy="834" r="13"/>
<circle cx="320" cy="833" r="14"/>
<circle cx="343" cy="834" r="9"/>
<circle cx="364" cy="834" r="9"/>
<circle cx="247" cy="853" r="13"/>
<circle cx="265" cy="857" r="13"/>
<circle cx="283" cy="848" r="13"/>
<circle cx="317" cy="850" r="11"/>
<circle cx="334" cy="851" r="11"/>
<circle cx="353" cy="852" r="12"/>
<circle cx="375" cy="853" r="13"/>
<circle cx="393" cy="855" r="13"/>
<circle cx="252" cy="868" r="11"/>
<circle cx="280" cy="867" r="11"/>
<circle cx="297" cy="877" r="11"/>
<circle cx="326" cy="868" r="11"/>
<circle cx="346" cy="877" r="11"/>
<circle cx="362" cy="868" r="12"/>
<circle cx="385" cy="878" r="13"/>
<circle cx="241" cy="890" r="13"/>
<circle cx="268" cy="895" r="11"/>
<circle cx="285" cy="890" r="13"/>
<circle cx="308" cy="889" r="11"/>
<circle cx="333" cy="892" r="14"/>
<circle cx="351" cy="886" r="14"/>
<circle cx="237" cy="916" r="12"/>
<circle cx="256" cy="908" r="11"/>
<circle cx="274" cy="905" r="12"/>
<circle cx="296" cy="914" r="9"/>
<circle cx="328" cy="915" r="14"/>
<circle cx="349" cy="916" r="12"/>
<circle cx="244" cy="936" r="12"/>
<circle cx="266" cy="928" r="14"/>
<circle cx="288" cy="933" r="11"/>
<circle cx="308" cy="931" r="13"/>
<circle cx="330" cy="935" r="14"/>
<circle cx="358" cy="933" r="9"/>
<circle cx="377" cy="933" r="9"/>
<circle cx="233" cy="950" r="13"/>
<circle cx="248" cy="942" r="10"/>
<circle cx="274" cy="945" r="14"/>
<circle cx="305" cy="944" r="12"/>
<circle cx="319" cy="946" r="11"/>
<circle cx="345" cy="950" r="11"/>
<circle cx="361" cy="946" r="10"/>
<circle cx="388" cy="952" r="11"/>
<circle cx="239" cy="964" r="11"/>
<circle cx="268" cy="972" r="11"/>
<circle cx="293" cy="970" r="11"/>
<circle cx="310" cy="969" r="13"/>
<circle cx="332" cy="971" r="11"/>
<circle cx="352" cy="969" r="13"/>
<circle cx="371" cy="967" r="11"/>
<circle cx="238" cy="991" r="10"/>
<circle cx="256" cy="983" r="13"/>
<circle cx="281" cy="993" r="13"/>
<circle cx="302" cy="991" r="12"/>
<circle cx="315" cy="987" r="9"/>
<circle cx="338" cy="990" r="9"/>
<circle cx="361" cy="983" r="14"/>
<circle cx="384" cy="982" r="13"/>
<circle cx="240" cy="1012" r="13"/>
<circle cx="271" cy="1013" r="12"/>
<circle cx="293" cy="1001" r="13"/>
<circle cx="310" cy="1008" r="10"/>
<circle cx="335" cy="1011" r="9"/>
<circle cx="353" cy="1008" r="13"/>
<circle cx="373" cy="1002" r="10"/>
<circle cx="255" cy="1020" r="12"/>
<circle cx="285" cy="1025" r="13"/>
<circle cx="296" cy="1029" r="13"/>
<circle cx="324" cy="1026" r="12"/>
<circle cx="345" cy="1030" r="10"/>
<circle cx="362" cy="1030" r="14"/>
<circle cx="267" cy="1042" r="10"/>
<circle cx="291" cy="1050" r="11"/>
<circle cx="314" cy="1045" r="13"/>
<circle cx="333" cy="1041" r="10"/>
<circle cx="348" cy="1044" r="11"/>
</g>
<g filter="url(#blur3)" opacity="0.7" fill="#f4f7d8">
<circle cx="288" cy="754" r="8"/>
<circle cx="318" cy="747" r="8"/>
<circle cx="330" cy="749" r="9"/>
<circle cx="357" cy="751" r="8"/>
<circle cx="283" cy="773" r="7"/>
<circle cx="306" cy="765" r="9"/>
<circle cx="330" cy="762" r="6"/>
<circle cx="343" cy="773" r="8"/>
<circle cx="271" cy="781" r="9"/>
<circle cx="297" cy="791" r="8"/>
<circle cx="316" cy="782" r="9"/>
<circle cx="337" cy="784" r="6"/>
<circle cx="283" cy="802" r="9"/>
<circle cx="308" cy="804" r="9"/>
<circle cx="322" cy="799" r="8"/>
<circle cx="340" cy="801" r="7"/>
<circle cx="247" cy="826" r="8"/>
<circle cx="269" cy="825" r="9"/>
<circle cx="291" cy="823" r="9"/>
<circle cx="309" cy="821" r="9"/>
<circle cx="336" cy="826" r="6"/>
<circle cx="357" cy="826" r="6"/>
<circle cx="238" cy="843" r="8"/>
<circle cx="256" cy="846" r="9"/>
<circle cx="274" cy="837" r="8"/>
<circle cx="308" cy="840" r="8"/>
<circle cx="326" cy="841" r="7"/>
<circle cx="344" cy="841" r="8"/>
<circle cx="365" cy="841" r="9"/>
<circle cx="384" cy="844" r="9"/>
<circle cx="244" cy="858" r="8"/>
<circle cx="272" cy="858" r="7"/>
<circle cx="289" cy="867" r="8"/>
<circle cx="318" cy="858" r="7"/>
<circle cx="337" cy="868" r="8"/>
<circle cx="354" cy="857" r="8"/>
<circle cx="375" cy="866" r="9"/>
<circle cx="232" cy="878" r="9"/>
<circle cx="260" cy="886" r="7"/>
<circle cx="275" cy="878" r="9"/>
<circle cx="299" cy="880" r="7"/>
<circle cx="323" cy="880" r="9"/>
<circle cx="341" cy="874" r="9"/>
<circle cx="228" cy="905" r="8"/>
<circle cx="248" cy="898" r="7"/>
<circle cx="266" cy="895" r="8"/>
<circle cx="289" cy="906" r="6"/>
<circle cx="318" cy="903" r="9"/>
<circle cx="340" cy="906" r="8"/>
<circle cx="235" cy="925" r="8"/>
<circle cx="256" cy="916" r="9"/>
<circle cx="280" cy="924" r="7"/>
<circle cx="298" cy="920" r="9"/>
<circle cx="319" cy="923" r="9"/>
<circle cx="351" cy="925" r="6"/>
<circle cx="371" cy="925" r="6"/>
<circle cx="224" cy="938" r="9"/>
<circle cx="241" cy="934" r="6"/>
<circle cx="264" cy="932" r="9"/>
<circle cx="296" cy="934" r="8"/>
<circle cx="311" cy="937" r="7"/>
<circle cx="337" cy="940" r="7"/>
<circle cx="354" cy="937" r="6"/>
<circle cx="380" cy="942" r="7"/>
<circle cx="231" cy="954" r="7"/>
<circle cx="260" cy="962" r="7"/>
<circle cx="284" cy="960" r="8"/>
<circle cx="300" cy="958" r="8"/>
<circle cx="323" cy="961" r="8"/>
<circle cx="343" cy="958" r="8"/>
<circle cx="363" cy="957" r="7"/>
<circle cx="231" cy="982" r="7"/>
<circle cx="246" cy="972" r="9"/>
<circle cx="271" cy="982" r="9"/>
<circle cx="293" cy="980" r="8"/>
<circle cx="309" cy="979" r="6"/>
<circle cx="331" cy="982" r="6"/>
<circle cx="351" cy="971" r="9"/>
<circle cx="375" cy="970" r="9"/>
<circle cx="231" cy="1001" r="8"/>
<circle cx="263" cy="1002" r="8"/>
<circle cx="284" cy="990" r="9"/>
<circle cx="303" cy="1000" r="6"/>
<circle cx="328" cy="1003" r="6"/>
<circle cx="344" cy="997" r="9"/>
<circle cx="365" cy="993" r="7"/>
<circle cx="246" cy="1010" r="8"/>
<circle cx="275" cy="1014" r="9"/>
<circle cx="286" cy="1018" r="9"/>
<circle cx="316" cy="1016" r="8"/>
<circle cx="338" cy="1021" r="7"/>
<circle cx="351" cy="1018" r="9"/>
<circle cx="260" cy="1033" r="7"/>
<circle cx="283" cy="1041" r="7"/>
<circle cx="305" cy="1033" r="9"/>
<circle cx="326" cy="1032" r="7"/>
<circle cx="340" cy="1035" r="7"/>
</g>
<g fill="none" stroke="#8c9864" stroke-width="1" opacity="0.45">
<circle cx="291" cy="758" r="15" stroke-dasharray="38 58" stroke-dashoffset="82"/>
<circle cx="321" cy="751" r="16" stroke-dasharray="41 62" stroke-dashoffset="93"/>
<circle cx="334" cy="753" r="18" stroke-dasharray="45 68" stroke-dashoffset="29"/>
<circle cx="361" cy="755" r="17" stroke-dasharray="42 63" stroke-dashoffset="91"/>
<circle cx="286" cy="776" r="15" stroke-dasharray="37 56" stroke-dashoffset="29"/>
<circle cx="309" cy="770" r="19" stroke-dasharray="47 70" stroke-dashoffset="49"/>
<circle cx="332" cy="765" r="13" stroke-dasharray="33 49" stroke-dashoffset="59"/>
<circle cx="346" cy="777" r="15" stroke-dasharray="38 57" stroke-dashoffset="8"/>
<circle cx="275" cy="785" r="18" stroke-dasharray="45 68" stroke-dashoffset="10"/>
<circle cx="301" cy="795" r="16" stroke-dasharray="40 60" stroke-dashoffset="84"/>
<circle cx="319" cy="786" r="18" stroke-dasharray="45 67" stroke-dashoffset="33"/>
<circle cx="339" cy="787" r="12" stroke-dasharray="31 47" stroke-dashoffset="28"/>
<circle cx="286" cy="807" r="18" stroke-dasharray="46 68" stroke-dashoffset="66"/>
<circle cx="312" cy="809" r="19" stroke-dasharray="48 72" stroke-dashoffset="81"/>
<circle cx="325" cy="803" r="16" stroke-dasharray="41 61" stroke-dashoffset="1"/>
<circle cx="343" cy="805" r="15" stroke-dasharray="37 56" stroke-dashoffset="31"/>
<circle cx="251" cy="830" r="16" stroke-dasharray="41 61" stroke-dashoffset="44"/>
<circle cx="273" cy="830" r="19" stroke-dasharray="47 70" stroke-dashoffset="57"/>
<circle cx="294" cy="827" r="17" stroke-dasharray="43 64" stroke-dashoffset="22"/>
<circle cx="313" cy="825" r="19" stroke-dasharray="47 71" stroke-dashoffset="69"/>
<circle cx="339" cy="829" r="12" stroke-dasharray="30 46" stroke-dashoffset="73"/>
<circle cx="359" cy="829" r="12" stroke-dasharray="31 46" stroke-dashoffset="30"/>
<circle cx="241" cy="847" r="17" stroke-dasharray="42 63" stroke-dashoffset="57"/>
<circle cx="259" cy="850" r="17" stroke-dasharray="43 65" stroke-dashoffset="13"/>
<circle cx="277" cy="841" r="17" stroke-dasharray="42 63" stroke-dashoffset="29"/>
<circle cx="312" cy="844" r="15" stroke-dasharray="38 57" stroke-dashoffset="64"/>
<circle cx="329" cy="845" r="15" stroke-dasharray="37 55" stroke-dashoffset="10"/>
<circle cx="347" cy="845" r="16" stroke-dasharray="41 61" stroke-dashoffset="90"/>
<circle cx="369" cy="846" r="17" stroke-dasharray="44 66" stroke-dashoffset="99"/>
<circle cx="387" cy="848" r="17" stroke-dasharray="43 65" stroke-dashoffset="10"/>
<circle cx="247" cy="862" r="15" stroke-dasharray="38 57" stroke-dashoffset="89"/>
<circle cx="275" cy="861" r="14" stroke-dasharray="36 54" stroke-dashoffset="34"/>
<circle cx="292" cy="871" r="15" stroke-dasharray="38 57" stroke-dashoffset="73"/>
<circle cx="321" cy="862" r="14" stroke-dasharray="36 54" stroke-dashoffset="68"/>
<circle cx="340" cy="871" r="15" stroke-dasharray="38 57" stroke-dashoffset="28"/>
<circle cx="357" cy="861" r="16" stroke-dasharray="39 59" stroke-dashoffset="67"/>
<circle cx="378" cy="870" r="18" stroke-dasharray="45 67" stroke-dashoffset="73"/>
<circle cx="235" cy="883" r="18" stroke-dasharray="44 67" stroke-dashoffset="89"/>
<circle cx="263" cy="890" r="14" stroke-dasharray="36 54" stroke-dashoffset="24"/>
<circle cx="279" cy="883" r="18" stroke-dasharray="44 66" stroke-dashoffset="83"/>
<circle cx="302" cy="883" r="15" stroke-dasharray="37 56" stroke-dashoffset="90"/>
<circle cx="326" cy="884" r="18" stroke-dasharray="46 70" stroke-dashoffset="78"/>
<circle cx="345" cy="879" r="19" stroke-dasharray="47 70" stroke-dashoffset="63"/>
<circle cx="232" cy="909" r="17" stroke-dasharray="42 63" stroke-dashoffset="12"/>
<circle cx="251" cy="902" r="14" stroke-dasharray="36 54" stroke-dashoffset="45"/>
<circle cx="269" cy="899" r="16" stroke-dasharray="41 61" stroke-dashoffset="36"/>
<circle cx="292" cy="909" r="12" stroke-dasharray="31 46" stroke-dashoffset="56"/>
<circle cx="322" cy="907" r="18" stroke-dasharray="46 70" stroke-dashoffset="79"/>
<circle cx="344" cy="910" r="16" stroke-dasharray="40 60" stroke-dashoffset="57"/>
<circle cx="238" cy="930" r="16" stroke-dasharray="41 61" stroke-dashoffset="19"/>
<circle cx="259" cy="920" r="18" stroke-dasharray="45 68" stroke-dashoffset="73"/>
<circle cx="283" cy="927" r="14" stroke-dasharray="36 55" stroke-dashoffset="57"/>
<circle cx="301" cy="924" r="18" stroke-dasharray="45 67" stroke-dashoffset="20"/>
<circle cx="323" cy="928" r="18" stroke-dasharray="46 70" stroke-dashoffset="103"/>
<circle cx="353" cy="928" r="12" stroke-dasharray="30 45" stroke-dashoffset="50"/>
<circle cx="373" cy="929" r="12" stroke-dasharray="31 47" stroke-dashoffset="10"/>
<circle cx="227" cy="943" r="17" stroke-dasharray="44 66" stroke-dashoffset="102"/>
<circle cx="244" cy="937" r="13" stroke-dasharray="32 49" stroke-dashoffset="11"/>
<circle cx="267" cy="937" r="19" stroke-dasharray="47 71" stroke-dashoffset="39"/>
<circle cx="299" cy="937" r="16" stroke-dasharray="39 58" stroke-dashoffset="70"/>
<circle cx="314" cy="940" r="14" stroke-dasharray="36 55" stroke-dashoffset="54"/>
<circle cx="340" cy="944" r="15" stroke-dasharray="37 55" stroke-dashoffset="51"/>
<circle cx="356" cy="941" r="13" stroke-dasharray="32 49" stroke-dashoffset="52"/>
<circle cx="383" cy="946" r="15" stroke-dasharray="37 55" stroke-dashoffset="42"/>
<circle cx="234" cy="958" r="15" stroke-dasharray="37 55" stroke-dashoffset="29"/>
<circle cx="263" cy="966" r="15" stroke-dasharray="37 55" stroke-dashoffset="16"/>
<circle cx="287" cy="964" r="15" stroke-dasharray="38 57" stroke-dashoffset="6"/>
<circle cx="304" cy="962" r="17" stroke-dasharray="43 64" stroke-dashoffset="76"/>
<circle cx="326" cy="965" r="15" stroke-dasharray="38 57" stroke-dashoffset="72"/>
<circle cx="346" cy="963" r="17" stroke-dasharray="42 64" stroke-dashoffset="58"/>
<circle cx="366" cy="961" r="15" stroke-dasharray="38 56" stroke-dashoffset="70"/>
<circle cx="234" cy="985" r="14" stroke-dasharray="35 52" stroke-dashoffset="31"/>
<circle cx="250" cy="976" r="18" stroke-dasharray="44 67" stroke-dashoffset="30"/>
<circle cx="275" cy="986" r="18" stroke-dasharray="44 66" stroke-dashoffset="42"/>
<circle cx="297" cy="984" r="16" stroke-dasharray="40 60" stroke-dashoffset="87"/>
<circle cx="311" cy="982" r="12" stroke-dasharray="30 45" stroke-dashoffset="3"/>
<circle cx="334" cy="985" r="12" stroke-dasharray="31 46" stroke-dashoffset="39"/>
<circle cx="355" cy="976" r="18" stroke-dasharray="46 68" stroke-dashoffset="28"/>
<circle cx="378" cy="975" r="18" stroke-dasharray="45 67" stroke-dashoffset="86"/>
<circle cx="234" cy="1005" r="17" stroke-dasharray="42 63" stroke-dashoffset="37"/>
<circle cx="266" cy="1006" r="16" stroke-dasharray="40 61" stroke-dashoffset="34"/>
<circle cx="287" cy="994" r="17" stroke-dasharray="44 65" stroke-dashoffset="44"/>
<circle cx="306" cy="1003" r="13" stroke-dasharray="32 48" stroke-dashoffset="43"/>
<circle cx="331" cy="1006" r="12" stroke-dasharray="31 47" stroke-dashoffset="60"/>
<circle cx="347" cy="1001" r="18" stroke-dasharray="45 67" stroke-dashoffset="39"/>
<circle cx="368" cy="996" r="14" stroke-dasharray="35 52" stroke-dashoffset="73"/>
<circle cx="249" cy="1014" r="16" stroke-dasharray="39 58" stroke-dashoffset="11"/>
<circle cx="279" cy="1018" r="17" stroke-dasharray="43 65" stroke-dashoffset="29"/>
<circle cx="290" cy="1022" r="17" stroke-dasharray="43 65" stroke-dashoffset="11"/>
<circle cx="319" cy="1020" r="15" stroke-dasharray="39 58" stroke-dashoffset="11"/>
<circle cx="340" cy="1025" r="13" stroke-dasharray="33 49" stroke-dashoffset="64"/>
<circle cx="355" cy="1023" r="18" stroke-dasharray="46 69" stroke-dashoffset="84"/>
<circle cx="263" cy="1036" r="14" stroke-dasharray="34 51" stroke-dashoffset="16"/>
<circle cx="286" cy="1045" r="14" stroke-dasharray="35 53" stroke-dashoffset="17"/>
<circle cx="308" cy="1037" r="18" stroke-dasharray="45 68" stroke-dashoffset="47"/>
<circle cx="329" cy="1036" r="14" stroke-dasharray="34 51" stroke-dashoffset="63"/>
<circle cx="343" cy="1038" r="15" stroke-dasharray="37 55" stroke-dashoffset="75"/>
</g></g>
<path d="M284.9,775.6 C285.9,771.1 287.4,769.8 291.2,767.2 C295.0,764.6 302.3,761.6 307.9,759.9 C313.5,758.1 319.8,758.1 324.7,756.7 C329.6,755.3 333.1,752.2 337.3,751.5 C341.5,750.8 346.3,751.0 349.8,752.6 C353.3,754.2 356.8,757.1 358.2,760.9 C359.6,764.7 359.2,771.0 358.2,775.6 C357.1,780.2 353.6,783.7 351.9,788.2 C350.1,792.7 347.0,797.6 347.7,802.8 C348.4,808.0 354.0,815.1 356.1,819.6 C358.2,824.1 357.5,826.9 360.3,830.0 C363.1,833.1 369.8,835.2 372.8,838.4 C375.8,841.5 377.8,845.1 378.1,848.9 C378.5,852.7 377.5,858.3 374.9,861.4 C372.3,864.5 367.4,866.3 362.4,867.7 C357.4,869.1 349.6,868.0 345.0,870.0 C340.4,872.0 336.8,875.0 335.0,880.0 C333.2,885.0 333.7,894.2 334.0,900.0 C334.3,905.8 334.4,911.3 337.0,915.0 C339.6,918.7 344.9,920.7 349.8,922.2 C354.7,923.8 362.8,921.9 366.6,924.3 C370.4,926.7 372.5,932.6 372.8,936.8 C373.1,941.0 370.1,945.2 368.7,949.4 C367.3,953.6 364.9,957.5 364.5,962.0 C364.1,966.5 367.0,971.7 366.6,976.6 C366.2,981.5 362.8,986.4 362.4,991.3 C362.0,996.2 365.2,1001.0 364.5,1005.9 C363.8,1010.8 362.1,1017.1 358.2,1020.6 C354.3,1024.1 347.7,1025.5 341.4,1026.9 C335.1,1028.3 326.1,1027.3 320.5,1029.0 C314.9,1030.7 312.8,1035.9 307.9,1037.3 C303.0,1038.7 296.1,1038.7 291.2,1037.3 C286.3,1035.9 283.5,1030.7 278.6,1029.0 C273.7,1027.3 267.5,1028.3 261.9,1026.9 C256.3,1025.5 249.6,1024.8 245.1,1020.6 C240.6,1016.4 237.1,1008.7 234.7,1001.7 C232.3,994.7 230.8,986.0 230.5,978.7 C230.2,971.4 232.9,964.4 232.6,957.8 C232.2,951.2 229.1,943.8 228.4,938.9 C227.7,934.0 226.7,931.5 228.4,928.4 C230.1,925.3 236.0,923.6 238.8,920.1 C241.6,916.6 244.4,913.1 245.1,907.5 C245.8,901.9 243.0,893.6 243.0,886.6 C243.0,879.6 243.7,871.9 245.1,865.6 C246.5,859.3 249.7,854.1 251.4,848.9 C253.2,843.7 253.1,837.7 255.6,834.2 C258.1,830.7 262.3,829.3 266.1,827.9 C269.9,826.5 274.4,826.5 278.6,825.8 C282.8,825.1 289.1,826.6 291.2,823.8 C293.3,821.0 292.2,814.0 291.2,809.1 C290.1,804.2 285.9,800.0 284.9,794.4 C283.8,788.8 283.8,780.1 284.9,775.6Z" fill="none" stroke="#8c9864" stroke-width="1.4" stroke-opacity="0.9"/>
<clipPath id="clp2"><path d="M131.6,684.9 C132.9,681.4 134.4,677.5 137.3,675.3 C140.2,673.1 145.0,672.6 148.8,671.5 C152.6,670.4 156.5,668.6 160.3,668.6 C164.1,668.6 168.8,669.4 171.8,671.5 C174.9,673.6 177.6,677.6 178.6,681.1 C179.6,684.6 178.1,689.1 177.6,692.6 C177.1,696.1 175.2,698.4 175.7,702.2 C176.2,706.0 180.2,711.5 180.5,715.6 C180.8,719.8 179.7,724.2 177.6,727.1 C175.5,730.0 171.8,731.5 168.0,732.8 C164.2,734.1 157.8,733.2 154.6,734.8 C151.4,736.4 149.8,739.6 148.8,742.5 C147.8,745.4 149.1,748.5 148.8,752.0 C148.5,755.5 147.5,759.7 146.9,763.5 C146.3,767.3 145.6,771.5 145.0,775.0 C144.4,778.5 143.1,781.7 143.1,784.6 C143.1,787.5 143.1,790.7 145.0,792.3 C146.9,793.9 150.8,792.6 154.6,794.2 C158.4,795.8 163.5,799.2 168.0,801.8 C172.5,804.3 177.9,806.9 181.4,809.5 C184.9,812.1 186.5,814.0 189.1,817.2 C191.7,820.4 195.0,824.1 196.8,828.7 C198.6,833.3 201.1,838.1 200.0,845.0 C198.9,851.9 193.3,860.8 190.0,870.0 C186.7,879.2 183.0,890.0 180.0,900.0 C177.0,910.0 173.7,921.2 172.0,930.0 C170.3,938.8 171.5,946.3 170.0,953.0 C168.5,959.7 164.2,962.7 163.0,970.0 C161.8,977.3 164.0,988.7 163.0,997.0 C162.0,1005.3 160.8,1014.8 157.0,1020.0 C153.2,1025.2 146.7,1026.7 140.0,1028.0 C133.3,1029.3 123.7,1027.2 117.0,1028.0 C110.3,1028.8 105.7,1032.3 100.0,1033.0 C94.3,1033.7 87.5,1034.2 83.0,1032.0 C78.5,1029.8 74.8,1025.3 73.0,1020.0 C71.2,1014.7 74.7,1005.0 72.0,1000.0 C69.3,995.0 61.2,993.3 57.0,990.0 C52.8,986.7 49.3,986.2 47.0,980.0 C44.7,973.8 44.7,960.2 43.0,953.0 C41.3,945.8 38.7,943.0 37.0,937.0 C35.3,931.0 32.0,923.7 33.0,917.0 C34.0,910.3 40.2,902.0 43.0,897.0 C45.8,892.0 47.7,889.3 50.0,887.0 C52.3,884.7 54.9,888.9 57.0,883.0 C59.1,877.1 60.7,860.1 62.6,851.7 C64.5,843.3 67.7,838.9 68.3,832.5 C68.9,826.1 67.3,819.7 66.0,813.3 C64.7,806.9 61.4,800.0 60.7,794.2 C60.0,788.5 60.3,782.9 61.6,778.8 C62.9,774.6 65.3,772.1 68.3,769.3 C71.3,766.5 77.5,765.2 79.8,762.0 C82.1,758.8 81.0,754.3 82.0,750.0 C83.0,745.7 82.4,739.5 85.6,736.0 C88.8,732.5 97.1,732.1 100.9,729.0 C104.7,725.9 107.1,721.2 108.6,717.5 C110.1,713.8 108.4,710.1 110.0,707.0 C111.6,703.9 114.7,700.8 118.0,699.0 C121.3,697.2 127.4,698.8 129.7,696.4 C132.0,694.0 130.3,688.4 131.6,684.9Z"/></clipPath>
<circle cx="137.9" cy="682.2" r="7.9" fill="#8e3a22"/>
<circle cx="144.4" cy="677.5" r="8.5" fill="#8e3a22"/>
<circle cx="155.6" cy="674.2" r="8.3" fill="#8e3a22"/>
<circle cx="165.0" cy="674.2" r="8.3" fill="#8e3a22"/>
<circle cx="171.7" cy="678.7" r="8.3" fill="#8e3a22"/>
<circle cx="174.0" cy="686.5" r="8.1" fill="#8e3a22"/>
<circle cx="173.1" cy="696.7" r="7.2" fill="#8e3a22"/>
<circle cx="173.3" cy="710.6" r="9.7" fill="#8e3a22"/>
<circle cx="174.9" cy="720.3" r="8.3" fill="#8e3a22"/>
<circle cx="170.7" cy="726.5" r="7.9" fill="#8e3a22"/>
<circle cx="160.6" cy="729.0" r="9.3" fill="#8e3a22"/>
<circle cx="148.8" cy="736.5" r="7.2" fill="#8e3a22"/>
<circle cx="145.2" cy="747.2" r="7.2" fill="#8e3a22"/>
<circle cx="143.7" cy="757.1" r="8.2" fill="#8e3a22"/>
<circle cx="141.8" cy="768.6" r="8.2" fill="#8e3a22"/>
<circle cx="140.5" cy="779.1" r="7.2" fill="#8e3a22"/>
<circle cx="140.6" cy="789.3" r="7.2" fill="#8e3a22"/>
<circle cx="149.1" cy="796.8" r="7.2" fill="#8e3a22"/>
<circle cx="158.6" cy="802.8" r="10.4" fill="#8e3a22"/>
<circle cx="171.9" cy="810.5" r="10.5" fill="#8e3a22"/>
<circle cx="182.5" cy="816.1" r="7.7" fill="#8e3a22"/>
<circle cx="188.8" cy="825.7" r="9.5" fill="#8e3a22"/>
<circle cx="192.5" cy="838.0" r="11.2" fill="#8e3a22"/>
<circle cx="188.3" cy="854.8" r="13.2" fill="#8e3a22"/>
<circle cx="178.2" cy="882.7" r="13.2" fill="#8e3a22"/>
<circle cx="169.0" cy="913.1" r="13.2" fill="#8e3a22"/>
<circle cx="163.8" cy="940.9" r="13.2" fill="#8e3a22"/>
<circle cx="160.4" cy="959.0" r="12.2" fill="#8e3a22"/>
<circle cx="155.8" cy="983.5" r="13.2" fill="#8e3a22"/>
<circle cx="153.0" cy="1006.7" r="13.2" fill="#8e3a22"/>
<circle cx="145.6" cy="1017.9" r="12.5" fill="#8e3a22"/>
<circle cx="128.5" cy="1020.8" r="13.2" fill="#8e3a22"/>
<circle cx="106.7" cy="1024.4" r="11.8" fill="#8e3a22"/>
<circle cx="91.9" cy="1026.4" r="11.4" fill="#8e3a22"/>
<circle cx="82.3" cy="1022.4" r="10.6" fill="#8e3a22"/>
<circle cx="79.7" cy="1009.6" r="13.2" fill="#8e3a22"/>
<circle cx="68.1" cy="989.6" r="12.0" fill="#8e3a22"/>
<circle cx="55.6" cy="981.4" r="9.7" fill="#8e3a22"/>
<circle cx="52.1" cy="965.4" r="13.2" fill="#8e3a22"/>
<circle cx="45.8" cy="942.8" r="11.5" fill="#8e3a22"/>
<circle cx="42.1" cy="925.6" r="13.2" fill="#8e3a22"/>
<circle cx="44.4" cy="910.2" r="13.2" fill="#8e3a22"/>
<circle cx="50.1" cy="894.5" r="8.5" fill="#8e3a22"/>
<circle cx="55.3" cy="888.1" r="7.2" fill="#8e3a22"/>
<circle cx="66.9" cy="868.6" r="13.2" fill="#8e3a22"/>
<circle cx="72.4" cy="844.1" r="13.2" fill="#8e3a22"/>
<circle cx="74.1" cy="822.1" r="12.8" fill="#8e3a22"/>
<circle cx="70.2" cy="801.8" r="13.1" fill="#8e3a22"/>
<circle cx="66.7" cy="786.8" r="10.5" fill="#8e3a22"/>
<circle cx="68.4" cy="776.5" r="8.2" fill="#8e3a22"/>
<circle cx="76.7" cy="769.8" r="9.4" fill="#8e3a22"/>
<circle cx="85.2" cy="756.8" r="8.5" fill="#8e3a22"/>
<circle cx="88.8" cy="744.3" r="9.9" fill="#8e3a22"/>
<circle cx="95.8" cy="738.0" r="11.3" fill="#8e3a22"/>
<circle cx="108.9" cy="726.0" r="9.5" fill="#8e3a22"/>
<circle cx="113.1" cy="712.8" r="7.6" fill="#8e3a22"/>
<circle cx="116.9" cy="705.9" r="8.0" fill="#8e3a22"/>
<circle cx="124.8" cy="701.9" r="8.4" fill="#8e3a22"/>
<circle cx="134.8" cy="691.3" r="8.2" fill="#8e3a22"/>
<circle cx="137.9" cy="682.2" r="6.7" fill="url(#s_or)"/>
<circle cx="144.4" cy="677.5" r="7.3" fill="url(#s_or)"/>
<circle cx="155.6" cy="674.2" r="7.1" fill="url(#s_or)"/>
<circle cx="165.0" cy="674.2" r="7.1" fill="url(#s_or)"/>
<circle cx="171.7" cy="678.7" r="7.1" fill="url(#s_or)"/>
<circle cx="174.0" cy="686.5" r="6.9" fill="url(#s_or)"/>
<circle cx="173.1" cy="696.7" r="6.0" fill="url(#s_or)"/>
<circle cx="173.3" cy="710.6" r="8.5" fill="url(#s_or)"/>
<circle cx="174.9" cy="720.3" r="7.1" fill="url(#s_or)"/>
<circle cx="170.7" cy="726.5" r="6.7" fill="url(#s_or)"/>
<circle cx="160.6" cy="729.0" r="8.1" fill="url(#s_or)"/>
<circle cx="148.8" cy="736.5" r="6.0" fill="url(#s_or)"/>
<circle cx="145.2" cy="747.2" r="6.0" fill="url(#s_or)"/>
<circle cx="143.7" cy="757.1" r="7.0" fill="url(#s_or)"/>
<circle cx="141.8" cy="768.6" r="7.0" fill="url(#s_or)"/>
<circle cx="140.5" cy="779.1" r="6.0" fill="url(#s_or)"/>
<circle cx="140.6" cy="789.3" r="6.0" fill="url(#s_or)"/>
<circle cx="149.1" cy="796.8" r="6.0" fill="url(#s_or)"/>
<circle cx="158.6" cy="802.8" r="9.2" fill="url(#s_or)"/>
<circle cx="171.9" cy="810.5" r="9.3" fill="url(#s_or)"/>
<circle cx="182.5" cy="816.1" r="6.5" fill="url(#s_or)"/>
<circle cx="188.8" cy="825.7" r="8.3" fill="url(#s_or)"/>
<circle cx="192.5" cy="838.0" r="10.0" fill="url(#s_or)"/>
<circle cx="188.3" cy="854.8" r="12.0" fill="url(#s_or)"/>
<circle cx="178.2" cy="882.7" r="12.0" fill="url(#s_or)"/>
<circle cx="169.0" cy="913.1" r="12.0" fill="url(#s_or)"/>
<circle cx="163.8" cy="940.9" r="12.0" fill="url(#s_or)"/>
<circle cx="160.4" cy="959.0" r="11.0" fill="url(#s_or)"/>
<circle cx="155.8" cy="983.5" r="12.0" fill="url(#s_or)"/>
<circle cx="153.0" cy="1006.7" r="12.0" fill="url(#s_or)"/>
<circle cx="145.6" cy="1017.9" r="11.3" fill="url(#s_or)"/>
<circle cx="128.5" cy="1020.8" r="12.0" fill="url(#s_or)"/>
<circle cx="106.7" cy="1024.4" r="10.6" fill="url(#s_or)"/>
<circle cx="91.9" cy="1026.4" r="10.2" fill="url(#s_or)"/>
<circle cx="82.3" cy="1022.4" r="9.4" fill="url(#s_or)"/>
<circle cx="79.7" cy="1009.6" r="12.0" fill="url(#s_or)"/>
<circle cx="68.1" cy="989.6" r="10.8" fill="url(#s_or)"/>
<circle cx="55.6" cy="981.4" r="8.5" fill="url(#s_or)"/>
<circle cx="52.1" cy="965.4" r="12.0" fill="url(#s_or)"/>
<circle cx="45.8" cy="942.8" r="10.3" fill="url(#s_or)"/>
<circle cx="42.1" cy="925.6" r="12.0" fill="url(#s_or)"/>
<circle cx="44.4" cy="910.2" r="12.0" fill="url(#s_or)"/>
<circle cx="50.1" cy="894.5" r="7.3" fill="url(#s_or)"/>
<circle cx="55.3" cy="888.1" r="6.0" fill="url(#s_or)"/>
<circle cx="66.9" cy="868.6" r="12.0" fill="url(#s_or)"/>
<circle cx="72.4" cy="844.1" r="12.0" fill="url(#s_or)"/>
<circle cx="74.1" cy="822.1" r="11.6" fill="url(#s_or)"/>
<circle cx="70.2" cy="801.8" r="11.9" fill="url(#s_or)"/>
<circle cx="66.7" cy="786.8" r="9.3" fill="url(#s_or)"/>
<circle cx="68.4" cy="776.5" r="7.0" fill="url(#s_or)"/>
<circle cx="76.7" cy="769.8" r="8.2" fill="url(#s_or)"/>
<circle cx="85.2" cy="756.8" r="7.3" fill="url(#s_or)"/>
<circle cx="88.8" cy="744.3" r="8.7" fill="url(#s_or)"/>
<circle cx="95.8" cy="738.0" r="10.1" fill="url(#s_or)"/>
<circle cx="108.9" cy="726.0" r="8.3" fill="url(#s_or)"/>
<circle cx="113.1" cy="712.8" r="6.4" fill="url(#s_or)"/>
<circle cx="116.9" cy="705.9" r="6.8" fill="url(#s_or)"/>
<circle cx="124.8" cy="701.9" r="7.2" fill="url(#s_or)"/>
<circle cx="134.8" cy="691.3" r="7.0" fill="url(#s_or)"/>
<path d="M131.6,684.9 C132.9,681.4 134.4,677.5 137.3,675.3 C140.2,673.1 145.0,672.6 148.8,671.5 C152.6,670.4 156.5,668.6 160.3,668.6 C164.1,668.6 168.8,669.4 171.8,671.5 C174.9,673.6 177.6,677.6 178.6,681.1 C179.6,684.6 178.1,689.1 177.6,692.6 C177.1,696.1 175.2,698.4 175.7,702.2 C176.2,706.0 180.2,711.5 180.5,715.6 C180.8,719.8 179.7,724.2 177.6,727.1 C175.5,730.0 171.8,731.5 168.0,732.8 C164.2,734.1 157.8,733.2 154.6,734.8 C151.4,736.4 149.8,739.6 148.8,742.5 C147.8,745.4 149.1,748.5 148.8,752.0 C148.5,755.5 147.5,759.7 146.9,763.5 C146.3,767.3 145.6,771.5 145.0,775.0 C144.4,778.5 143.1,781.7 143.1,784.6 C143.1,787.5 143.1,790.7 145.0,792.3 C146.9,793.9 150.8,792.6 154.6,794.2 C158.4,795.8 163.5,799.2 168.0,801.8 C172.5,804.3 177.9,806.9 181.4,809.5 C184.9,812.1 186.5,814.0 189.1,817.2 C191.7,820.4 195.0,824.1 196.8,828.7 C198.6,833.3 201.1,838.1 200.0,845.0 C198.9,851.9 193.3,860.8 190.0,870.0 C186.7,879.2 183.0,890.0 180.0,900.0 C177.0,910.0 173.7,921.2 172.0,930.0 C170.3,938.8 171.5,946.3 170.0,953.0 C168.5,959.7 164.2,962.7 163.0,970.0 C161.8,977.3 164.0,988.7 163.0,997.0 C162.0,1005.3 160.8,1014.8 157.0,1020.0 C153.2,1025.2 146.7,1026.7 140.0,1028.0 C133.3,1029.3 123.7,1027.2 117.0,1028.0 C110.3,1028.8 105.7,1032.3 100.0,1033.0 C94.3,1033.7 87.5,1034.2 83.0,1032.0 C78.5,1029.8 74.8,1025.3 73.0,1020.0 C71.2,1014.7 74.7,1005.0 72.0,1000.0 C69.3,995.0 61.2,993.3 57.0,990.0 C52.8,986.7 49.3,986.2 47.0,980.0 C44.7,973.8 44.7,960.2 43.0,953.0 C41.3,945.8 38.7,943.0 37.0,937.0 C35.3,931.0 32.0,923.7 33.0,917.0 C34.0,910.3 40.2,902.0 43.0,897.0 C45.8,892.0 47.7,889.3 50.0,887.0 C52.3,884.7 54.9,888.9 57.0,883.0 C59.1,877.1 60.7,860.1 62.6,851.7 C64.5,843.3 67.7,838.9 68.3,832.5 C68.9,826.1 67.3,819.7 66.0,813.3 C64.7,806.9 61.4,800.0 60.7,794.2 C60.0,788.5 60.3,782.9 61.6,778.8 C62.9,774.6 65.3,772.1 68.3,769.3 C71.3,766.5 77.5,765.2 79.8,762.0 C82.1,758.8 81.0,754.3 82.0,750.0 C83.0,745.7 82.4,739.5 85.6,736.0 C88.8,732.5 97.1,732.1 100.9,729.0 C104.7,725.9 107.1,721.2 108.6,717.5 C110.1,713.8 108.4,710.1 110.0,707.0 C111.6,703.9 114.7,700.8 118.0,699.0 C121.3,697.2 127.4,698.8 129.7,696.4 C132.0,694.0 130.3,688.4 131.6,684.9Z" fill="#dc6a43"/>
<g clip-path="url(#clp2)">
<g filter="url(#blur3)" opacity="0.42" fill="#8e3a22">
<circle cx="149" cy="679" r="13"/>
<circle cx="168" cy="670" r="10"/>
<circle cx="188" cy="678" r="13"/>
<circle cx="118" cy="695" r="13"/>
<circle cx="137" cy="693" r="11"/>
<circle cx="154" cy="691" r="10"/>
<circle cx="171" cy="696" r="9"/>
<circle cx="190" cy="694" r="10"/>
<circle cx="117" cy="708" r="12"/>
<circle cx="144" cy="707" r="10"/>
<circle cx="159" cy="710" r="9"/>
<circle cx="189" cy="717" r="13"/>
<circle cx="111" cy="725" r="11"/>
<circle cx="138" cy="726" r="9"/>
<circle cx="149" cy="726" r="13"/>
<circle cx="172" cy="726" r="9"/>
<circle cx="76" cy="749" r="12"/>
<circle cx="100" cy="754" r="11"/>
<circle cx="118" cy="745" r="9"/>
<circle cx="143" cy="745" r="13"/>
<circle cx="167" cy="747" r="9"/>
<circle cx="182" cy="744" r="10"/>
<circle cx="77" cy="766" r="13"/>
<circle cx="93" cy="770" r="12"/>
<circle cx="111" cy="760" r="10"/>
<circle cx="138" cy="772" r="13"/>
<circle cx="152" cy="769" r="13"/>
<circle cx="85" cy="785" r="9"/>
<circle cx="97" cy="786" r="12"/>
<circle cx="125" cy="789" r="10"/>
<circle cx="136" cy="788" r="9"/>
<circle cx="68" cy="802" r="9"/>
<circle cx="85" cy="804" r="11"/>
<circle cx="116" cy="803" r="10"/>
<circle cx="131" cy="806" r="11"/>
<circle cx="148" cy="808" r="13"/>
<circle cx="169" cy="803" r="11"/>
<circle cx="60" cy="821" r="13"/>
<circle cx="85" cy="816" r="13"/>
<circle cx="98" cy="819" r="13"/>
<circle cx="121" cy="824" r="10"/>
<circle cx="147" cy="816" r="10"/>
<circle cx="164" cy="819" r="11"/>
<circle cx="189" cy="822" r="9"/>
<circle cx="204" cy="821" r="11"/>
<circle cx="66" cy="843" r="11"/>
<circle cx="94" cy="845" r="12"/>
<circle cx="114" cy="840" r="10"/>
<circle cx="139" cy="840" r="13"/>
<circle cx="152" cy="844" r="13"/>
<circle cx="175" cy="837" r="10"/>
<circle cx="200" cy="838" r="12"/>
<circle cx="211" cy="833" r="10"/>
<circle cx="57" cy="858" r="11"/>
<circle cx="82" cy="852" r="11"/>
<circle cx="107" cy="854" r="12"/>
<circle cx="119" cy="854" r="9"/>
<circle cx="138" cy="864" r="13"/>
<circle cx="169" cy="862" r="13"/>
<circle cx="181" cy="858" r="11"/>
<circle cx="208" cy="863" r="12"/>
<circle cx="72" cy="879" r="12"/>
<circle cx="96" cy="874" r="13"/>
<circle cx="111" cy="878" r="13"/>
<circle cx="135" cy="873" r="10"/>
<circle cx="153" cy="878" r="13"/>
<circle cx="180" cy="874" r="11"/>
<circle cx="200" cy="873" r="11"/>
<circle cx="40" cy="895" r="11"/>
<circle cx="64" cy="895" r="10"/>
<circle cx="76" cy="901" r="13"/>
<circle cx="106" cy="895" r="10"/>
<circle cx="117" cy="890" r="10"/>
<circle cx="149" cy="899" r="13"/>
<circle cx="159" cy="890" r="10"/>
<circle cx="192" cy="890" r="13"/>
<circle cx="45" cy="912" r="10"/>
<circle cx="64" cy="906" r="10"/>
<circle cx="87" cy="908" r="13"/>
<circle cx="110" cy="918" r="12"/>
<circle cx="137" cy="915" r="13"/>
<circle cx="159" cy="915" r="12"/>
<circle cx="177" cy="915" r="11"/>
<circle cx="197" cy="909" r="13"/>
<circle cx="43" cy="927" r="11"/>
<circle cx="61" cy="935" r="10"/>
<circle cx="78" cy="928" r="9"/>
<circle cx="107" cy="925" r="13"/>
<circle cx="119" cy="927" r="13"/>
<circle cx="147" cy="927" r="11"/>
<circle cx="163" cy="932" r="10"/>
<circle cx="190" cy="937" r="12"/>
<circle cx="53" cy="953" r="12"/>
<circle cx="66" cy="951" r="13"/>
<circle cx="89" cy="951" r="13"/>
<circle cx="113" cy="943" r="12"/>
<circle cx="130" cy="954" r="12"/>
<circle cx="152" cy="954" r="12"/>
<circle cx="174" cy="954" r="13"/>
<circle cx="44" cy="964" r="9"/>
<circle cx="62" cy="967" r="11"/>
<circle cx="81" cy="963" r="10"/>
<circle cx="97" cy="971" r="13"/>
<circle cx="126" cy="963" r="13"/>
<circle cx="146" cy="966" r="9"/>
<circle cx="169" cy="969" r="12"/>
<circle cx="178" cy="969" r="9"/>
<circle cx="54" cy="989" r="13"/>
<circle cx="67" cy="984" r="12"/>
<circle cx="86" cy="985" r="13"/>
<circle cx="115" cy="989" r="10"/>
<circle cx="136" cy="989" r="12"/>
<circle cx="152" cy="980" r="9"/>
<circle cx="57" cy="1002" r="13"/>
<circle cx="75" cy="1006" r="9"/>
<circle cx="107" cy="998" r="9"/>
<circle cx="119" cy="1009" r="12"/>
<circle cx="147" cy="1003" r="10"/>
<circle cx="163" cy="1004" r="13"/>
<circle cx="182" cy="1001" r="13"/>
<circle cx="94" cy="1016" r="12"/>
<circle cx="107" cy="1017" r="9"/>
<circle cx="132" cy="1021" r="13"/>
<circle cx="156" cy="1021" r="13"/>
<circle cx="172" cy="1019" r="13"/>
<circle cx="81" cy="1040" r="11"/>
<circle cx="105" cy="1045" r="12"/>
<circle cx="116" cy="1035" r="10"/>
<circle cx="139" cy="1040" r="10"/>
<circle cx="166" cy="1038" r="11"/>
</g>
<g filter="url(#blur3)" opacity="0.7" fill="#f2946a">
<circle cx="140" cy="669" r="8"/>
<circle cx="160" cy="661" r="7"/>
<circle cx="178" cy="667" r="9"/>
<circle cx="108" cy="683" r="9"/>
<circle cx="129" cy="683" r="7"/>
<circle cx="147" cy="683" r="6"/>
<circle cx="165" cy="688" r="6"/>
<circle cx="182" cy="685" r="7"/>
<circle cx="108" cy="698" r="8"/>
<circle cx="137" cy="698" r="7"/>
<circle cx="152" cy="702" r="6"/>
<circle cx="179" cy="706" r="9"/>
<circle cx="103" cy="715" r="7"/>
<circle cx="131" cy="718" r="6"/>
<circle cx="139" cy="715" r="8"/>
<circle cx="165" cy="718" r="6"/>
<circle cx="67" cy="738" r="8"/>
<circle cx="92" cy="744" r="7"/>
<circle cx="111" cy="737" r="6"/>
<circle cx="134" cy="734" r="9"/>
<circle cx="161" cy="739" r="6"/>
<circle cx="174" cy="735" r="7"/>
<circle cx="67" cy="754" r="9"/>
<circle cx="84" cy="759" r="8"/>
<circle cx="104" cy="752" r="7"/>
<circle cx="129" cy="761" r="9"/>
<circle cx="143" cy="758" r="8"/>
<circle cx="78" cy="777" r="6"/>
<circle cx="89" cy="776" r="8"/>
<circle cx="117" cy="780" r="7"/>
<circle cx="129" cy="781" r="6"/>
<circle cx="62" cy="794" r="6"/>
<circle cx="77" cy="794" r="7"/>
<circle cx="109" cy="795" r="6"/>
<circle cx="123" cy="796" r="8"/>
<circle cx="139" cy="797" r="8"/>
<circle cx="161" cy="793" r="7"/>
<circle cx="51" cy="810" r="9"/>
<circle cx="75" cy="805" r="9"/>
<circle cx="89" cy="808" r="9"/>
<circle cx="113" cy="815" r="7"/>
<circle cx="140" cy="807" r="6"/>
<circle cx="156" cy="809" r="8"/>
<circle cx="183" cy="814" r="6"/>
<circle cx="196" cy="812" r="7"/>
<circle cx="58" cy="834" r="7"/>
<circle cx="86" cy="835" r="8"/>
<circle cx="106" cy="831" r="7"/>
<circle cx="129" cy="828" r="9"/>
<circle cx="143" cy="833" r="8"/>
<circle cx="168" cy="829" r="6"/>
<circle cx="191" cy="827" r="8"/>
<circle cx="204" cy="825" r="6"/>
<circle cx="50" cy="849" r="7"/>
<circle cx="74" cy="843" r="7"/>
<circle cx="98" cy="843" r="8"/>
<circle cx="112" cy="846" r="6"/>
<circle cx="129" cy="853" r="8"/>
<circle cx="159" cy="851" r="9"/>
<circle cx="173" cy="849" r="7"/>
<circle cx="199" cy="853" r="8"/>
<circle cx="64" cy="869" r="8"/>
<circle cx="86" cy="863" r="9"/>
<circle cx="102" cy="866" r="9"/>
<circle cx="127" cy="864" r="7"/>
<circle cx="143" cy="867" r="9"/>
<circle cx="172" cy="865" r="7"/>
<circle cx="192" cy="863" r="7"/>
<circle cx="33" cy="886" r="7"/>
<circle cx="57" cy="886" r="6"/>
<circle cx="66" cy="889" r="9"/>
<circle cx="99" cy="886" r="7"/>
<circle cx="109" cy="881" r="7"/>
<circle cx="140" cy="889" r="8"/>
<circle cx="152" cy="881" r="7"/>
<circle cx="182" cy="879" r="8"/>
<circle cx="38" cy="903" r="6"/>
<circle cx="57" cy="897" r="7"/>
<circle cx="77" cy="896" r="9"/>
<circle cx="101" cy="907" r="8"/>
<circle cx="127" cy="904" r="9"/>
<circle cx="150" cy="905" r="8"/>
<circle cx="169" cy="905" r="8"/>
<circle cx="187" cy="897" r="9"/>
<circle cx="35" cy="918" r="7"/>
<circle cx="54" cy="925" r="7"/>
<circle cx="71" cy="920" r="6"/>
<circle cx="97" cy="914" r="9"/>
<circle cx="109" cy="916" r="9"/>
<circle cx="139" cy="917" r="8"/>
<circle cx="156" cy="924" r="7"/>
<circle cx="181" cy="927" r="8"/>
<circle cx="45" cy="943" r="8"/>
<circle cx="56" cy="940" r="9"/>
<circle cx="80" cy="940" r="9"/>
<circle cx="105" cy="933" r="8"/>
<circle cx="121" cy="943" r="8"/>
<circle cx="143" cy="944" r="8"/>
<circle cx="164" cy="943" r="9"/>
<circle cx="37" cy="956" r="6"/>
<circle cx="54" cy="957" r="8"/>
<circle cx="74" cy="954" r="7"/>
<circle cx="87" cy="960" r="9"/>
<circle cx="116" cy="952" r="9"/>
<circle cx="140" cy="958" r="6"/>
<circle cx="160" cy="959" r="8"/>
<circle cx="171" cy="961" r="6"/>
<circle cx="45" cy="978" r="8"/>
<circle cx="59" cy="974" r="8"/>
<circle cx="76" cy="974" r="9"/>
<circle cx="107" cy="980" r="7"/>
<circle cx="127" cy="979" r="8"/>
<circle cx="145" cy="972" r="6"/>
<circle cx="48" cy="990" r="9"/>
<circle cx="68" cy="998" r="6"/>
<circle cx="100" cy="990" r="6"/>
<circle cx="110" cy="999" r="8"/>
<circle cx="140" cy="994" r="6"/>
<circle cx="153" cy="992" r="9"/>
<circle cx="172" cy="990" r="9"/>
<circle cx="85" cy="1006" r="8"/>
<circle cx="100" cy="1009" r="6"/>
<circle cx="122" cy="1009" r="9"/>
<circle cx="146" cy="1010" r="9"/>
<circle cx="162" cy="1008" r="9"/>
<circle cx="73" cy="1031" r="7"/>
<circle cx="96" cy="1034" r="8"/>
<circle cx="109" cy="1026" r="7"/>
<circle cx="132" cy="1032" r="7"/>
<circle cx="158" cy="1028" r="7"/>
</g>
<g fill="none" stroke="#8e3a22" stroke-width="1" opacity="0.55">
<circle cx="143" cy="673" r="17" stroke-dasharray="42 63" stroke-dashoffset="19"/>
<circle cx="163" cy="665" r="14" stroke-dasharray="35 52" stroke-dashoffset="54"/>
<circle cx="182" cy="672" r="17" stroke-dasharray="43 65" stroke-dashoffset="65"/>
<circle cx="112" cy="688" r="17" stroke-dasharray="43 65" stroke-dashoffset="65"/>
<circle cx="132" cy="687" r="14" stroke-dasharray="36 55" stroke-dashoffset="66"/>
<circle cx="150" cy="686" r="13" stroke-dasharray="33 49" stroke-dashoffset="2"/>
<circle cx="167" cy="691" r="12" stroke-dasharray="31 46" stroke-dashoffset="34"/>
<circle cx="185" cy="688" r="14" stroke-dasharray="34 52" stroke-dashoffset="69"/>
<circle cx="111" cy="702" r="17" stroke-dasharray="42 63" stroke-dashoffset="14"/>
<circle cx="139" cy="702" r="14" stroke-dasharray="35 53" stroke-dashoffset="4"/>
<circle cx="155" cy="705" r="12" stroke-dasharray="31 46" stroke-dashoffset="14"/>
<circle cx="182" cy="710" r="18" stroke-dasharray="45 67" stroke-dashoffset="32"/>
<circle cx="106" cy="719" r="14" stroke-dasharray="36 54" stroke-dashoffset="39"/>
<circle cx="133" cy="721" r="12" stroke-dasharray="30 45" stroke-dashoffset="24"/>
<circle cx="143" cy="719" r="17" stroke-dasharray="42 63" stroke-dashoffset="67"/>
<circle cx="168" cy="721" r="13" stroke-dasharray="32 47" stroke-dashoffset="13"/>
<circle cx="70" cy="742" r="17" stroke-dasharray="42 63" stroke-dashoffset="36"/>
<circle cx="95" cy="748" r="15" stroke-dasharray="37 56" stroke-dashoffset="63"/>
<circle cx="114" cy="741" r="12" stroke-dasharray="31 46" stroke-dashoffset="42"/>
<circle cx="137" cy="739" r="17" stroke-dasharray="44 65" stroke-dashoffset="104"/>
<circle cx="163" cy="742" r="12" stroke-dasharray="31 46" stroke-dashoffset="72"/>
<circle cx="177" cy="738" r="13" stroke-dasharray="33 50" stroke-dashoffset="21"/>
<circle cx="71" cy="759" r="17" stroke-dasharray="44 66" stroke-dashoffset="37"/>
<circle cx="87" cy="764" r="16" stroke-dasharray="41 62" stroke-dashoffset="56"/>
<circle cx="106" cy="755" r="13" stroke-dasharray="33 50" stroke-dashoffset="45"/>
<circle cx="132" cy="765" r="18" stroke-dasharray="44 66" stroke-dashoffset="40"/>
<circle cx="146" cy="762" r="17" stroke-dasharray="42 63" stroke-dashoffset="91"/>
<circle cx="81" cy="780" r="12" stroke-dasharray="31 47" stroke-dashoffset="15"/>
<circle cx="92" cy="780" r="15" stroke-dasharray="39 58" stroke-dashoffset="46"/>
<circle cx="120" cy="784" r="13" stroke-dasharray="33 50" stroke-dashoffset="10"/>
<circle cx="132" cy="784" r="12" stroke-dasharray="30 46" stroke-dashoffset="67"/>
<circle cx="64" cy="797" r="12" stroke-dasharray="31 46" stroke-dashoffset="46"/>
<circle cx="80" cy="798" r="15" stroke-dasharray="38 56" stroke-dashoffset="93"/>
<circle cx="111" cy="798" r="13" stroke-dasharray="32 48" stroke-dashoffset="12"/>
<circle cx="126" cy="800" r="15" stroke-dasharray="38 57" stroke-dashoffset="68"/>
<circle cx="142" cy="801" r="17" stroke-dasharray="43 64" stroke-dashoffset="64"/>
<circle cx="164" cy="797" r="14" stroke-dasharray="36 54" stroke-dashoffset="5"/>
<circle cx="54" cy="814" r="17" stroke-dasharray="43 65" stroke-dashoffset="88"/>
<circle cx="78" cy="809" r="17" stroke-dasharray="43 65" stroke-dashoffset="95"/>
<circle cx="92" cy="812" r="17" stroke-dasharray="43 64" stroke-dashoffset="9"/>
<circle cx="116" cy="819" r="13" stroke-dasharray="33 49" stroke-dashoffset="77"/>
<circle cx="143" cy="811" r="13" stroke-dasharray="32 49" stroke-dashoffset="64"/>
<circle cx="159" cy="813" r="15" stroke-dasharray="38 57" stroke-dashoffset="58"/>
<circle cx="185" cy="817" r="12" stroke-dasharray="30 45" stroke-dashoffset="41"/>
<circle cx="199" cy="815" r="15" stroke-dasharray="37 56" stroke-dashoffset="25"/>
<circle cx="61" cy="837" r="14" stroke-dasharray="36 53" stroke-dashoffset="5"/>
<circle cx="89" cy="839" r="16" stroke-dasharray="40 59" stroke-dashoffset="47"/>
<circle cx="109" cy="834" r="14" stroke-dasharray="35 52" stroke-dashoffset="76"/>
<circle cx="133" cy="833" r="17" stroke-dasharray="44 66" stroke-dashoffset="23"/>
<circle cx="146" cy="838" r="17" stroke-dasharray="42 63" stroke-dashoffset="50"/>
<circle cx="171" cy="832" r="13" stroke-dasharray="32 48" stroke-dashoffset="23"/>
<circle cx="194" cy="831" r="16" stroke-dasharray="40 60" stroke-dashoffset="69"/>
<circle cx="207" cy="828" r="13" stroke-dasharray="32 48" stroke-dashoffset="78"/>
<circle cx="52" cy="852" r="14" stroke-dasharray="35 53" stroke-dashoffset="79"/>
<circle cx="77" cy="846" r="14" stroke-dasharray="36 54" stroke-dashoffset="26"/>
<circle cx="101" cy="847" r="16" stroke-dasharray="40 60" stroke-dashoffset="42"/>
<circle cx="115" cy="849" r="12" stroke-dasharray="31 46" stroke-dashoffset="0"/>
<circle cx="132" cy="857" r="17" stroke-dasharray="43 64" stroke-dashoffset="56"/>
<circle cx="163" cy="855" r="18" stroke-dasharray="45 67" stroke-dashoffset="95"/>
<circle cx="176" cy="852" r="15" stroke-dasharray="38 56" stroke-dashoffset="79"/>
<circle cx="202" cy="857" r="17" stroke-dasharray="42 62" stroke-dashoffset="7"/>
<circle cx="67" cy="873" r="16" stroke-dasharray="39 59" stroke-dashoffset="43"/>
<circle cx="90" cy="867" r="18" stroke-dasharray="44 66" stroke-dashoffset="9"/>
<circle cx="105" cy="871" r="17" stroke-dasharray="44 66" stroke-dashoffset="46"/>
<circle cx="130" cy="867" r="13" stroke-dasharray="34 50" stroke-dashoffset="77"/>
<circle cx="146" cy="871" r="18" stroke-dasharray="45 68" stroke-dashoffset="32"/>
<circle cx="175" cy="868" r="14" stroke-dasharray="36 54" stroke-dashoffset="77"/>
<circle cx="195" cy="867" r="14" stroke-dasharray="36 55" stroke-dashoffset="87"/>
<circle cx="35" cy="889" r="14" stroke-dasharray="36 53" stroke-dashoffset="73"/>
<circle cx="60" cy="889" r="13" stroke-dasharray="33 49" stroke-dashoffset="16"/>
<circle cx="70" cy="894" r="18" stroke-dasharray="45 68" stroke-dashoffset="103"/>
<circle cx="101" cy="889" r="14" stroke-dasharray="35 52" stroke-dashoffset="80"/>
<circle cx="112" cy="885" r="13" stroke-dasharray="34 50" stroke-dashoffset="84"/>
<circle cx="143" cy="893" r="17" stroke-dasharray="42 63" stroke-dashoffset="1"/>
<circle cx="155" cy="885" r="14" stroke-dasharray="35 52" stroke-dashoffset="0"/>
<circle cx="186" cy="884" r="17" stroke-dasharray="42 63" stroke-dashoffset="31"/>
<circle cx="41" cy="906" r="13" stroke-dasharray="33 49" stroke-dashoffset="42"/>
<circle cx="59" cy="900" r="14" stroke-dasharray="35 52" stroke-dashoffset="37"/>
<circle cx="81" cy="901" r="18" stroke-dasharray="45 68" stroke-dashoffset="10"/>
<circle cx="104" cy="911" r="16" stroke-dasharray="41 61" stroke-dashoffset="65"/>
<circle cx="130" cy="908" r="18" stroke-dasharray="45 67" stroke-dashoffset="74"/>
<circle cx="153" cy="909" r="15" stroke-dasharray="39 58" stroke-dashoffset="61"/>
<circle cx="172" cy="909" r="15" stroke-dasharray="38 58" stroke-dashoffset="49"/>
<circle cx="191" cy="902" r="17" stroke-dasharray="43 64" stroke-dashoffset="59"/>
<circle cx="38" cy="921" r="14" stroke-dasharray="36 54" stroke-dashoffset="62"/>
<circle cx="56" cy="929" r="14" stroke-dasharray="35 53" stroke-dashoffset="6"/>
<circle cx="74" cy="923" r="12" stroke-dasharray="31 46" stroke-dashoffset="33"/>
<circle cx="101" cy="918" r="18" stroke-dasharray="45 67" stroke-dashoffset="15"/>
<circle cx="113" cy="920" r="17" stroke-dasharray="43 64" stroke-dashoffset="11"/>
<circle cx="142" cy="921" r="15" stroke-dasharray="39 58" stroke-dashoffset="73"/>
<circle cx="159" cy="927" r="13" stroke-dasharray="33 49" stroke-dashoffset="27"/>
<circle cx="184" cy="931" r="16" stroke-dasharray="41 61" stroke-dashoffset="35"/>
<circle cx="48" cy="947" r="16" stroke-dasharray="39 59" stroke-dashoffset="27"/>
<circle cx="60" cy="944" r="17" stroke-dasharray="44 66" stroke-dashoffset="64"/>
<circle cx="83" cy="945" r="17" stroke-dasharray="44 66" stroke-dashoffset="13"/>
<circle cx="108" cy="937" r="16" stroke-dasharray="40 60" stroke-dashoffset="64"/>
<circle cx="124" cy="947" r="16" stroke-dasharray="40 60" stroke-dashoffset="7"/>
<circle cx="146" cy="948" r="16" stroke-dasharray="40 59" stroke-dashoffset="95"/>
<circle cx="167" cy="947" r="17" stroke-dasharray="44 65" stroke-dashoffset="17"/>
<circle cx="39" cy="959" r="12" stroke-dasharray="31 47" stroke-dashoffset="60"/>
<circle cx="57" cy="961" r="15" stroke-dasharray="38 58" stroke-dashoffset="52"/>
<circle cx="76" cy="958" r="13" stroke-dasharray="33 50" stroke-dashoffset="35"/>
<circle cx="91" cy="964" r="17" stroke-dasharray="44 66" stroke-dashoffset="33"/>
<circle cx="119" cy="956" r="18" stroke-dasharray="45 67" stroke-dashoffset="40"/>
<circle cx="142" cy="961" r="12" stroke-dasharray="30 45" stroke-dashoffset="57"/>
<circle cx="163" cy="962" r="16" stroke-dasharray="40 59" stroke-dashoffset="52"/>
<circle cx="174" cy="964" r="12" stroke-dasharray="31 46" stroke-dashoffset="41"/>
<circle cx="48" cy="982" r="17" stroke-dasharray="42 64" stroke-dashoffset="26"/>
<circle cx="62" cy="978" r="16" stroke-dasharray="39 59" stroke-dashoffset="61"/>
<circle cx="80" cy="978" r="18" stroke-dasharray="45 67" stroke-dashoffset="19"/>
<circle cx="110" cy="984" r="14" stroke-dasharray="35 52" stroke-dashoffset="42"/>
<circle cx="130" cy="983" r="16" stroke-dasharray="41 61" stroke-dashoffset="66"/>
<circle cx="148" cy="975" r="12" stroke-dasharray="30 46" stroke-dashoffset="41"/>
<circle cx="51" cy="995" r="17" stroke-dasharray="44 66" stroke-dashoffset="64"/>
<circle cx="70" cy="1001" r="13" stroke-dasharray="31 47" stroke-dashoffset="45"/>
<circle cx="102" cy="993" r="13" stroke-dasharray="32 47" stroke-dashoffset="15"/>
<circle cx="113" cy="1003" r="16" stroke-dasharray="40 60" stroke-dashoffset="96"/>
<circle cx="143" cy="997" r="13" stroke-dasharray="32 48" stroke-dashoffset="54"/>
<circle cx="157" cy="997" r="18" stroke-dasharray="45 68" stroke-dashoffset="82"/>
<circle cx="176" cy="994" r="17" stroke-dasharray="43 64" stroke-dashoffset="102"/>
<circle cx="88" cy="1010" r="17" stroke-dasharray="42 63" stroke-dashoffset="47"/>
<circle cx="102" cy="1012" r="12" stroke-dasharray="31 46" stroke-dashoffset="26"/>
<circle cx="125" cy="1014" r="18" stroke-dasharray="45 67" stroke-dashoffset="34"/>
<circle cx="150" cy="1014" r="18" stroke-dasharray="45 68" stroke-dashoffset="36"/>
<circle cx="165" cy="1012" r="18" stroke-dasharray="45 67" stroke-dashoffset="33"/>
<circle cx="76" cy="1035" r="14" stroke-dasharray="36 53" stroke-dashoffset="28"/>
<circle cx="99" cy="1038" r="17" stroke-dasharray="42 62" stroke-dashoffset="22"/>
<circle cx="111" cy="1030" r="13" stroke-dasharray="33 50" stroke-dashoffset="40"/>
<circle cx="135" cy="1035" r="13" stroke-dasharray="33 50" stroke-dashoffset="24"/>
<circle cx="161" cy="1032" r="14" stroke-dasharray="36 53" stroke-dashoffset="33"/>
</g></g>
<path d="M131.6,684.9 C132.9,681.4 134.4,677.5 137.3,675.3 C140.2,673.1 145.0,672.6 148.8,671.5 C152.6,670.4 156.5,668.6 160.3,668.6 C164.1,668.6 168.8,669.4 171.8,671.5 C174.9,673.6 177.6,677.6 178.6,681.1 C179.6,684.6 178.1,689.1 177.6,692.6 C177.1,696.1 175.2,698.4 175.7,702.2 C176.2,706.0 180.2,711.5 180.5,715.6 C180.8,719.8 179.7,724.2 177.6,727.1 C175.5,730.0 171.8,731.5 168.0,732.8 C164.2,734.1 157.8,733.2 154.6,734.8 C151.4,736.4 149.8,739.6 148.8,742.5 C147.8,745.4 149.1,748.5 148.8,752.0 C148.5,755.5 147.5,759.7 146.9,763.5 C146.3,767.3 145.6,771.5 145.0,775.0 C144.4,778.5 143.1,781.7 143.1,784.6 C143.1,787.5 143.1,790.7 145.0,792.3 C146.9,793.9 150.8,792.6 154.6,794.2 C158.4,795.8 163.5,799.2 168.0,801.8 C172.5,804.3 177.9,806.9 181.4,809.5 C184.9,812.1 186.5,814.0 189.1,817.2 C191.7,820.4 195.0,824.1 196.8,828.7 C198.6,833.3 201.1,838.1 200.0,845.0 C198.9,851.9 193.3,860.8 190.0,870.0 C186.7,879.2 183.0,890.0 180.0,900.0 C177.0,910.0 173.7,921.2 172.0,930.0 C170.3,938.8 171.5,946.3 170.0,953.0 C168.5,959.7 164.2,962.7 163.0,970.0 C161.8,977.3 164.0,988.7 163.0,997.0 C162.0,1005.3 160.8,1014.8 157.0,1020.0 C153.2,1025.2 146.7,1026.7 140.0,1028.0 C133.3,1029.3 123.7,1027.2 117.0,1028.0 C110.3,1028.8 105.7,1032.3 100.0,1033.0 C94.3,1033.7 87.5,1034.2 83.0,1032.0 C78.5,1029.8 74.8,1025.3 73.0,1020.0 C71.2,1014.7 74.7,1005.0 72.0,1000.0 C69.3,995.0 61.2,993.3 57.0,990.0 C52.8,986.7 49.3,986.2 47.0,980.0 C44.7,973.8 44.7,960.2 43.0,953.0 C41.3,945.8 38.7,943.0 37.0,937.0 C35.3,931.0 32.0,923.7 33.0,917.0 C34.0,910.3 40.2,902.0 43.0,897.0 C45.8,892.0 47.7,889.3 50.0,887.0 C52.3,884.7 54.9,888.9 57.0,883.0 C59.1,877.1 60.7,860.1 62.6,851.7 C64.5,843.3 67.7,838.9 68.3,832.5 C68.9,826.1 67.3,819.7 66.0,813.3 C64.7,806.9 61.4,800.0 60.7,794.2 C60.0,788.5 60.3,782.9 61.6,778.8 C62.9,774.6 65.3,772.1 68.3,769.3 C71.3,766.5 77.5,765.2 79.8,762.0 C82.1,758.8 81.0,754.3 82.0,750.0 C83.0,745.7 82.4,739.5 85.6,736.0 C88.8,732.5 97.1,732.1 100.9,729.0 C104.7,725.9 107.1,721.2 108.6,717.5 C110.1,713.8 108.4,710.1 110.0,707.0 C111.6,703.9 114.7,700.8 118.0,699.0 C121.3,697.2 127.4,698.8 129.7,696.4 C132.0,694.0 130.3,688.4 131.6,684.9Z" fill="none" stroke="#8e3a22" stroke-width="1.4" stroke-opacity="0.9"/>
<clipPath id="clp3"><path d="M112.0,958.0 C116.7,953.0 123.7,951.3 130.0,950.0 C136.3,948.7 144.7,948.3 150.0,950.0 C155.3,951.7 159.5,955.0 162.0,960.0 C164.5,965.0 164.8,973.3 165.0,980.0 C165.2,986.7 164.3,993.3 163.0,1000.0 C161.7,1006.7 160.8,1015.3 157.0,1020.0 C153.2,1024.7 146.7,1026.7 140.0,1028.0 C133.3,1029.3 122.8,1029.0 117.0,1028.0 C111.2,1027.0 107.8,1025.8 105.0,1022.0 C102.2,1018.2 100.5,1012.0 100.0,1005.0 C99.5,998.0 100.0,987.8 102.0,980.0 C104.0,972.2 107.3,963.0 112.0,958.0Z"/></clipPath>
<circle cx="123.9" cy="960.5" r="11.8" fill="url(#s_tb)"/>
<circle cx="140.0" cy="957.2" r="12.0" fill="url(#s_tb)"/>
<circle cx="152.4" cy="959.3" r="9.4" fill="url(#s_tb)"/>
<circle cx="156.4" cy="971.1" r="12.0" fill="url(#s_tb)"/>
<circle cx="156.8" cy="989.3" r="12.0" fill="url(#s_tb)"/>
<circle cx="153.1" cy="1007.9" r="12.0" fill="url(#s_tb)"/>
<circle cx="145.6" cy="1017.9" r="11.3" fill="url(#s_tb)"/>
<circle cx="128.5" cy="1020.8" r="12.0" fill="url(#s_tb)"/>
<circle cx="113.2" cy="1020.7" r="8.0" fill="url(#s_tb)"/>
<circle cx="108.6" cy="1011.7" r="10.6" fill="url(#s_tb)"/>
<circle cx="108.2" cy="993.1" r="12.0" fill="url(#s_tb)"/>
<circle cx="113.6" cy="972.0" r="12.0" fill="url(#s_tb)"/>
<path d="M112.0,958.0 C116.7,953.0 123.7,951.3 130.0,950.0 C136.3,948.7 144.7,948.3 150.0,950.0 C155.3,951.7 159.5,955.0 162.0,960.0 C164.5,965.0 164.8,973.3 165.0,980.0 C165.2,986.7 164.3,993.3 163.0,1000.0 C161.7,1006.7 160.8,1015.3 157.0,1020.0 C153.2,1024.7 146.7,1026.7 140.0,1028.0 C133.3,1029.3 122.8,1029.0 117.0,1028.0 C111.2,1027.0 107.8,1025.8 105.0,1022.0 C102.2,1018.2 100.5,1012.0 100.0,1005.0 C99.5,998.0 100.0,987.8 102.0,980.0 C104.0,972.2 107.3,963.0 112.0,958.0Z" fill="#dea062"/>
<g clip-path="url(#clp3)">
<g filter="url(#blur3)" opacity="0.35" fill="#9a6a38">
<circle cx="106" cy="958" r="10"/>
<circle cx="128" cy="958" r="11"/>
<circle cx="136" cy="956" r="11"/>
<circle cx="159" cy="959" r="8"/>
<circle cx="114" cy="965" r="8"/>
<circle cx="129" cy="976" r="10"/>
<circle cx="145" cy="973" r="8"/>
<circle cx="168" cy="966" r="8"/>
<circle cx="109" cy="990" r="9"/>
<circle cx="128" cy="987" r="10"/>
<circle cx="138" cy="991" r="10"/>
<circle cx="163" cy="990" r="9"/>
<circle cx="174" cy="982" r="8"/>
<circle cx="109" cy="1000" r="10"/>
<circle cx="126" cy="1004" r="9"/>
<circle cx="147" cy="1005" r="9"/>
<circle cx="166" cy="1002" r="10"/>
<circle cx="106" cy="1020" r="8"/>
<circle cx="126" cy="1016" r="10"/>
<circle cx="135" cy="1012" r="8"/>
<circle cx="164" cy="1015" r="10"/>
<circle cx="112" cy="1034" r="10"/>
<circle cx="128" cy="1037" r="10"/>
<circle cx="154" cy="1029" r="11"/>
<circle cx="163" cy="1032" r="10"/>
</g>
<g filter="url(#blur3)" opacity="0.55" fill="#f0c088">
<circle cx="99" cy="949" r="7"/>
<circle cx="120" cy="949" r="7"/>
<circle cx="128" cy="946" r="7"/>
<circle cx="153" cy="952" r="5"/>
<circle cx="108" cy="958" r="6"/>
<circle cx="122" cy="967" r="7"/>
<circle cx="139" cy="966" r="5"/>
<circle cx="162" cy="959" r="5"/>
<circle cx="103" cy="982" r="6"/>
<circle cx="120" cy="978" r="7"/>
<circle cx="130" cy="983" r="7"/>
<circle cx="157" cy="983" r="6"/>
<circle cx="168" cy="975" r="5"/>
<circle cx="102" cy="992" r="7"/>
<circle cx="119" cy="996" r="6"/>
<circle cx="140" cy="997" r="6"/>
<circle cx="158" cy="993" r="7"/>
<circle cx="101" cy="1014" r="5"/>
<circle cx="119" cy="1008" r="6"/>
<circle cx="129" cy="1005" r="5"/>
<circle cx="156" cy="1006" r="7"/>
<circle cx="105" cy="1025" r="7"/>
<circle cx="120" cy="1027" r="7"/>
<circle cx="146" cy="1020" r="7"/>
<circle cx="156" cy="1023" r="7"/>
</g>
<g fill="none" stroke="#9a6a38" stroke-width="1" opacity="0.45">
<circle cx="101" cy="953" r="14" stroke-dasharray="35 53" stroke-dashoffset="73"/>
<circle cx="123" cy="953" r="15" stroke-dasharray="37 55" stroke-dashoffset="42"/>
<circle cx="131" cy="950" r="15" stroke-dasharray="37 55" stroke-dashoffset="39"/>
<circle cx="156" cy="954" r="11" stroke-dasharray="27 40" stroke-dashoffset="4"/>
<circle cx="110" cy="960" r="11" stroke-dasharray="28 42" stroke-dashoffset="64"/>
<circle cx="125" cy="970" r="14" stroke-dasharray="35 52" stroke-dashoffset="3"/>
<circle cx="141" cy="969" r="11" stroke-dasharray="27 40" stroke-dashoffset="33"/>
<circle cx="164" cy="962" r="10" stroke-dasharray="25 38" stroke-dashoffset="53"/>
<circle cx="105" cy="985" r="11" stroke-dasharray="29 43" stroke-dashoffset="9"/>
<circle cx="123" cy="982" r="13" stroke-dasharray="34 50" stroke-dashoffset="62"/>
<circle cx="133" cy="986" r="13" stroke-dasharray="34 51" stroke-dashoffset="80"/>
<circle cx="159" cy="986" r="11" stroke-dasharray="29 43" stroke-dashoffset="46"/>
<circle cx="171" cy="978" r="11" stroke-dasharray="27 40" stroke-dashoffset="53"/>
<circle cx="104" cy="995" r="13" stroke-dasharray="33 49" stroke-dashoffset="9"/>
<circle cx="122" cy="999" r="12" stroke-dasharray="29 44" stroke-dashoffset="32"/>
<circle cx="143" cy="1000" r="12" stroke-dasharray="31 47" stroke-dashoffset="12"/>
<circle cx="161" cy="997" r="14" stroke-dasharray="34 51" stroke-dashoffset="72"/>
<circle cx="103" cy="1016" r="10" stroke-dasharray="25 38" stroke-dashoffset="19"/>
<circle cx="121" cy="1011" r="13" stroke-dasharray="32 49" stroke-dashoffset="37"/>
<circle cx="131" cy="1008" r="11" stroke-dasharray="27 41" stroke-dashoffset="68"/>
<circle cx="159" cy="1009" r="14" stroke-dasharray="35 52" stroke-dashoffset="74"/>
<circle cx="107" cy="1029" r="14" stroke-dasharray="35 52" stroke-dashoffset="85"/>
<circle cx="123" cy="1031" r="14" stroke-dasharray="35 53" stroke-dashoffset="40"/>
<circle cx="149" cy="1023" r="15" stroke-dasharray="37 56" stroke-dashoffset="45"/>
<circle cx="159" cy="1027" r="13" stroke-dasharray="33 49" stroke-dashoffset="60"/>
</g></g>
<clipPath id="clp4"><path d="M160.0,842.0 C162.3,836.2 167.0,833.3 172.0,831.0 C177.0,828.7 184.5,827.8 190.0,828.0 C195.5,828.2 200.0,830.3 205.0,832.0 C210.0,833.7 215.2,835.7 220.0,838.0 C224.8,840.3 230.0,842.3 234.0,846.0 C238.0,849.7 241.7,854.7 244.0,860.0 C246.3,865.3 247.7,871.7 248.0,878.0 C248.3,884.3 247.7,892.0 246.0,898.0 C244.3,904.0 241.3,909.2 238.0,914.0 C234.7,918.8 230.5,923.3 226.0,927.0 C221.5,930.7 216.0,933.5 211.0,936.0 C206.0,938.5 201.0,940.3 196.0,942.0 C191.0,943.7 185.8,945.8 181.0,946.0 C176.2,946.2 170.8,945.7 167.0,943.0 C163.2,940.3 159.8,935.5 158.0,930.0 C156.2,924.5 155.5,916.7 156.0,910.0 C156.5,903.3 160.7,897.3 161.0,890.0 C161.3,882.7 158.2,874.0 158.0,866.0 C157.8,858.0 157.7,847.8 160.0,842.0Z"/></clipPath>
<circle cx="170.0" cy="840.8" r="9.8" fill="url(#s_yb)"/>
<circle cx="182.1" cy="836.0" r="10.9" fill="url(#s_yb)"/>
<circle cx="196.1" cy="835.4" r="9.3" fill="url(#s_yb)"/>
<circle cx="210.3" cy="840.4" r="9.7" fill="url(#s_yb)"/>
<circle cx="224.1" cy="847.0" r="9.7" fill="url(#s_yb)"/>
<circle cx="234.0" cy="856.6" r="10.3" fill="url(#s_yb)"/>
<circle cx="239.5" cy="870.4" r="11.1" fill="url(#s_yb)"/>
<circle cx="239.8" cy="887.3" r="12.0" fill="url(#s_yb)"/>
<circle cx="236.2" cy="903.1" r="10.7" fill="url(#s_yb)"/>
<circle cx="227.3" cy="916.2" r="10.6" fill="url(#s_yb)"/>
<circle cx="215.3" cy="926.1" r="10.5" fill="url(#s_yb)"/>
<circle cx="201.3" cy="933.6" r="9.7" fill="url(#s_yb)"/>
<circle cx="187.1" cy="938.6" r="9.3" fill="url(#s_yb)"/>
<circle cx="175.1" cy="939.5" r="8.6" fill="url(#s_yb)"/>
<circle cx="167.2" cy="933.3" r="9.5" fill="url(#s_yb)"/>
<circle cx="164.2" cy="919.3" r="12.0" fill="url(#s_yb)"/>
<circle cx="165.5" cy="901.7" r="12.0" fill="url(#s_yb)"/>
<circle cx="166.6" cy="877.1" r="12.0" fill="url(#s_yb)"/>
<circle cx="166.2" cy="854.6" r="12.0" fill="url(#s_yb)"/>
<path d="M160.0,842.0 C162.3,836.2 167.0,833.3 172.0,831.0 C177.0,828.7 184.5,827.8 190.0,828.0 C195.5,828.2 200.0,830.3 205.0,832.0 C210.0,833.7 215.2,835.7 220.0,838.0 C224.8,840.3 230.0,842.3 234.0,846.0 C238.0,849.7 241.7,854.7 244.0,860.0 C246.3,865.3 247.7,871.7 248.0,878.0 C248.3,884.3 247.7,892.0 246.0,898.0 C244.3,904.0 241.3,909.2 238.0,914.0 C234.7,918.8 230.5,923.3 226.0,927.0 C221.5,930.7 216.0,933.5 211.0,936.0 C206.0,938.5 201.0,940.3 196.0,942.0 C191.0,943.7 185.8,945.8 181.0,946.0 C176.2,946.2 170.8,945.7 167.0,943.0 C163.2,940.3 159.8,935.5 158.0,930.0 C156.2,924.5 155.5,916.7 156.0,910.0 C156.5,903.3 160.7,897.3 161.0,890.0 C161.3,882.7 158.2,874.0 158.0,866.0 C157.8,858.0 157.7,847.8 160.0,842.0Z" fill="#e28f55"/>
<g clip-path="url(#clp4)">
<g filter="url(#blur3)" opacity="0.35" fill="#9a5a2e">
<circle cx="164" cy="837" r="10"/>
<circle cx="177" cy="828" r="11"/>
<circle cx="198" cy="836" r="10"/>
<circle cx="221" cy="831" r="11"/>
<circle cx="174" cy="848" r="11"/>
<circle cx="191" cy="854" r="10"/>
<circle cx="204" cy="854" r="11"/>
<circle cx="226" cy="845" r="9"/>
<circle cx="249" cy="848" r="12"/>
<circle cx="160" cy="872" r="12"/>
<circle cx="180" cy="869" r="11"/>
<circle cx="201" cy="871" r="8"/>
<circle cx="216" cy="867" r="9"/>
<circle cx="238" cy="863" r="12"/>
<circle cx="256" cy="862" r="11"/>
<circle cx="168" cy="879" r="10"/>
<circle cx="186" cy="880" r="11"/>
<circle cx="211" cy="878" r="11"/>
<circle cx="222" cy="882" r="12"/>
<circle cx="247" cy="881" r="10"/>
<circle cx="265" cy="880" r="12"/>
<circle cx="156" cy="899" r="11"/>
<circle cx="178" cy="904" r="9"/>
<circle cx="204" cy="904" r="11"/>
<circle cx="223" cy="900" r="11"/>
<circle cx="240" cy="900" r="10"/>
<circle cx="257" cy="898" r="9"/>
<circle cx="173" cy="913" r="10"/>
<circle cx="192" cy="911" r="8"/>
<circle cx="204" cy="917" r="10"/>
<circle cx="225" cy="916" r="12"/>
<circle cx="244" cy="916" r="12"/>
<circle cx="160" cy="928" r="10"/>
<circle cx="177" cy="936" r="9"/>
<circle cx="201" cy="939" r="12"/>
<circle cx="216" cy="933" r="9"/>
<circle cx="236" cy="933" r="11"/>
<circle cx="169" cy="943" r="8"/>
<circle cx="193" cy="945" r="11"/>
<circle cx="207" cy="955" r="11"/>
<circle cx="223" cy="947" r="12"/>
</g>
<g filter="url(#blur3)" opacity="0.55" fill="#f2b27a">
<circle cx="157" cy="828" r="7"/>
<circle cx="169" cy="819" r="7"/>
<circle cx="191" cy="828" r="6"/>
<circle cx="213" cy="822" r="8"/>
<circle cx="166" cy="838" r="8"/>
<circle cx="184" cy="845" r="6"/>
<circle cx="196" cy="844" r="8"/>
<circle cx="219" cy="837" r="6"/>
<circle cx="240" cy="838" r="8"/>
<circle cx="151" cy="862" r="8"/>
<circle cx="172" cy="859" r="7"/>
<circle cx="195" cy="864" r="6"/>
<circle cx="209" cy="859" r="6"/>
<circle cx="230" cy="853" r="8"/>
<circle cx="248" cy="853" r="7"/>
<circle cx="161" cy="871" r="7"/>
<circle cx="177" cy="870" r="8"/>
<circle cx="203" cy="868" r="7"/>
<circle cx="214" cy="872" r="8"/>
<circle cx="240" cy="872" r="6"/>
<circle cx="256" cy="869" r="8"/>
<circle cx="148" cy="890" r="7"/>
<circle cx="171" cy="897" r="6"/>
<circle cx="197" cy="895" r="7"/>
<circle cx="214" cy="890" r="8"/>
<circle cx="233" cy="891" r="7"/>
<circle cx="251" cy="890" r="6"/>
<circle cx="166" cy="905" r="7"/>
<circle cx="186" cy="904" r="6"/>
<circle cx="197" cy="908" r="6"/>
<circle cx="217" cy="906" r="8"/>
<circle cx="236" cy="906" r="8"/>
<circle cx="153" cy="920" r="6"/>
<circle cx="170" cy="927" r="6"/>
<circle cx="193" cy="929" r="8"/>
<circle cx="209" cy="925" r="6"/>
<circle cx="228" cy="923" r="7"/>
<circle cx="163" cy="936" r="6"/>
<circle cx="185" cy="936" r="7"/>
<circle cx="199" cy="945" r="8"/>
<circle cx="214" cy="936" r="8"/>
</g>
<g fill="none" stroke="#9a5a2e" stroke-width="1" opacity="0.45">
<circle cx="159" cy="832" r="13" stroke-dasharray="34 51" stroke-dashoffset="77"/>
<circle cx="172" cy="822" r="14" stroke-dasharray="36 54" stroke-dashoffset="82"/>
<circle cx="194" cy="831" r="13" stroke-dasharray="32 49" stroke-dashoffset="72"/>
<circle cx="216" cy="825" r="15" stroke-dasharray="38 57" stroke-dashoffset="43"/>
<circle cx="169" cy="842" r="15" stroke-dasharray="38 57" stroke-dashoffset="65"/>
<circle cx="187" cy="848" r="13" stroke-dasharray="32 48" stroke-dashoffset="63"/>
<circle cx="199" cy="848" r="15" stroke-dasharray="38 57" stroke-dashoffset="13"/>
<circle cx="222" cy="840" r="12" stroke-dasharray="30 45" stroke-dashoffset="71"/>
<circle cx="243" cy="842" r="16" stroke-dasharray="40 59" stroke-dashoffset="90"/>
<circle cx="154" cy="866" r="16" stroke-dasharray="39 59" stroke-dashoffset="43"/>
<circle cx="175" cy="863" r="14" stroke-dasharray="36 55" stroke-dashoffset="71"/>
<circle cx="197" cy="866" r="11" stroke-dasharray="28 42" stroke-dashoffset="31"/>
<circle cx="211" cy="862" r="13" stroke-dasharray="31 47" stroke-dashoffset="22"/>
<circle cx="233" cy="856" r="15" stroke-dasharray="39 58" stroke-dashoffset="69"/>
<circle cx="251" cy="857" r="14" stroke-dasharray="36 54" stroke-dashoffset="6"/>
<circle cx="163" cy="874" r="13" stroke-dasharray="34 51" stroke-dashoffset="67"/>
<circle cx="180" cy="874" r="15" stroke-dasharray="39 58" stroke-dashoffset="94"/>
<circle cx="206" cy="872" r="15" stroke-dasharray="37 56" stroke-dashoffset="27"/>
<circle cx="217" cy="876" r="16" stroke-dasharray="39 59" stroke-dashoffset="92"/>
<circle cx="243" cy="875" r="13" stroke-dasharray="32 49" stroke-dashoffset="7"/>
<circle cx="259" cy="873" r="16" stroke-dasharray="40 60" stroke-dashoffset="86"/>
<circle cx="151" cy="893" r="15" stroke-dasharray="37 56" stroke-dashoffset="26"/>
<circle cx="174" cy="900" r="12" stroke-dasharray="31 46" stroke-dashoffset="74"/>
<circle cx="199" cy="899" r="14" stroke-dasharray="36 54" stroke-dashoffset="39"/>
<circle cx="217" cy="894" r="15" stroke-dasharray="38 57" stroke-dashoffset="88"/>
<circle cx="235" cy="894" r="13" stroke-dasharray="34 50" stroke-dashoffset="3"/>
<circle cx="253" cy="893" r="11" stroke-dasharray="29 43" stroke-dashoffset="6"/>
<circle cx="168" cy="908" r="13" stroke-dasharray="34 51" stroke-dashoffset="69"/>
<circle cx="188" cy="907" r="11" stroke-dasharray="28 42" stroke-dashoffset="45"/>
<circle cx="199" cy="912" r="13" stroke-dasharray="32 48" stroke-dashoffset="43"/>
<circle cx="220" cy="910" r="16" stroke-dasharray="39 59" stroke-dashoffset="3"/>
<circle cx="239" cy="910" r="15" stroke-dasharray="39 58" stroke-dashoffset="17"/>
<circle cx="156" cy="923" r="13" stroke-dasharray="32 49" stroke-dashoffset="30"/>
<circle cx="173" cy="931" r="13" stroke-dasharray="32 48" stroke-dashoffset="4"/>
<circle cx="196" cy="933" r="16" stroke-dasharray="39 59" stroke-dashoffset="97"/>
<circle cx="212" cy="928" r="13" stroke-dasharray="32 48" stroke-dashoffset="61"/>
<circle cx="231" cy="927" r="15" stroke-dasharray="38 56" stroke-dashoffset="89"/>
<circle cx="165" cy="939" r="11" stroke-dasharray="28 42" stroke-dashoffset="49"/>
<circle cx="188" cy="939" r="15" stroke-dasharray="37 55" stroke-dashoffset="31"/>
<circle cx="202" cy="949" r="15" stroke-dasharray="38 58" stroke-dashoffset="7"/>
<circle cx="218" cy="940" r="16" stroke-dasharray="40 59" stroke-dashoffset="72"/>
</g></g>
<ellipse cx="160" cy="898" rx="14" ry="22" fill="#e5553f" opacity="0.55"/>
<polyline points="120.0,850.0 116.0,870.0 112.0,895.0 110.0,920.0 114.0,940.0" fill="none" stroke="#6f787e" stroke-width="3.6" stroke-linejoin="round" stroke-linecap="round" opacity="0.9"/>
<polyline points="150.0,865.0 144.0,890.0 138.0,915.0 132.0,945.0" fill="none" stroke="#6f787e" stroke-width="3.6" stroke-linejoin="round" stroke-linecap="round" opacity="0.9"/>
<polyline points="167.0,905.0 158.0,930.0 148.0,955.0 138.0,975.0" fill="none" stroke="#6f787e" stroke-width="3.6" stroke-linejoin="round" stroke-linecap="round" opacity="0.9"/>
<polyline points="95.0,860.0 92.0,890.0 90.0,930.0 92.0,960.0" fill="none" stroke="#6f787e" stroke-width="3.6" stroke-linejoin="round" stroke-linecap="round" opacity="0.9"/>
<path d="M72.0,995.0 C71.3,993.3 67.5,988.8 68.0,985.0 C68.5,981.2 70.5,975.3 75.0,972.0 C79.5,968.7 88.3,966.7 95.0,965.0 C101.7,963.3 108.3,963.2 115.0,962.0 C121.7,960.8 129.2,960.0 135.0,958.0 C140.8,956.0 147.5,951.3 150.0,950.0" fill="none" stroke="#7d8489" stroke-width="1.6" stroke-linecap="round" />
<path d="M148.0,945.0 C150.0,945.5 156.0,946.7 160.0,948.0 C164.0,949.3 168.7,950.7 172.0,953.0 C175.3,955.3 178.2,958.3 180.0,962.0 C181.8,965.7 181.7,970.3 183.0,975.0 C184.3,979.7 187.5,986.2 188.0,990.0 C188.5,993.8 187.7,998.0 186.0,998.0 C184.3,998.0 180.7,992.7 178.0,990.0 C175.3,987.3 173.0,984.5 170.0,982.0 C167.0,979.5 163.3,977.0 160.0,975.0 C156.7,973.0 151.7,970.8 150.0,970.0" fill="none" stroke="#66727a" stroke-width="1.5" stroke-linecap="round" />
<path d="M178.0,960.0 C180.0,959.2 186.3,956.3 190.0,955.0 C193.7,953.7 196.7,952.8 200.0,952.0 C203.3,951.2 206.3,951.0 210.0,950.0 C213.7,949.0 220.0,946.7 222.0,946.0" fill="none" stroke="#66727a" stroke-width="1.5" stroke-linecap="round" />
<ellipse cx="274" cy="900" rx="13" ry="14" fill="none" stroke="#5f6b73" stroke-width="3"/>
<path d="M330.0,853.0 C330.3,855.0 332.2,860.5 332.0,865.0 C331.8,869.5 329.2,875.0 329.0,880.0 C328.8,885.0 331.5,890.8 331.0,895.0 C330.5,899.2 328.2,902.5 326.0,905.0 C323.8,907.5 317.3,908.7 318.0,910.0 C318.7,911.3 328.0,912.5 330.0,913.0" fill="none" stroke="#5f6b73" stroke-width="3.2" stroke-linecap="round" />
<path d="M333.0,884.0 C335.0,884.3 341.2,884.8 345.0,886.0 C348.8,887.2 353.7,888.2 356.0,891.0 C358.3,893.8 360.0,899.3 359.0,903.0 C358.0,906.7 354.0,911.3 350.0,913.0 C346.0,914.7 337.5,913.0 335.0,913.0" fill="none" stroke="#66727a" stroke-width="1.4" stroke-linecap="round" />
<path d="M258.0,943.0 C256.3,943.3 250.8,943.5 248.0,945.0 C245.2,946.5 242.3,949.2 241.0,952.0 C239.7,954.8 240.2,960.3 240.0,962.0" fill="none" stroke="#5f6b73" stroke-width="3" stroke-linecap="round" />
<path d="M264.0,977.0 C265.0,978.8 268.0,985.0 270.0,988.0 C272.0,991.0 273.5,994.7 276.0,995.0 C278.5,995.3 281.0,991.7 285.0,990.0 C289.0,988.3 294.2,985.8 300.0,985.0 C305.8,984.2 314.2,986.2 320.0,985.0 C325.8,983.8 331.2,979.7 335.0,978.0 C338.8,976.3 342.5,976.3 343.0,975.0 C343.5,973.7 338.8,970.8 338.0,970.0" fill="none" stroke="#66727a" stroke-width="1.5" stroke-linecap="round" />
<path d="M296.0,948.0 C295.5,950.0 292.8,956.0 293.0,960.0 C293.2,964.0 296.3,970.0 297.0,972.0" fill="none" stroke="#66727a" stroke-width="1.3" stroke-linecap="round" />
<path d="M298.0,768.0 C297.7,770.8 295.7,779.7 296.0,785.0 C296.3,790.3 298.5,795.0 300.0,800.0 C301.5,805.0 304.2,812.5 305.0,815.0" fill="none" stroke="#66727a" stroke-width="1.3" stroke-linecap="round" />
<path d="M335.0,770.0 C336.7,773.3 342.5,783.3 345.0,790.0 C347.5,796.7 350.5,803.3 350.0,810.0 C349.5,816.7 343.3,826.7 342.0,830.0" fill="none" stroke="#66727a" stroke-width="1.3" stroke-linecap="round" />
<path d="M30.0,915.0 C30.8,913.3 32.5,906.7 35.0,905.0 C37.5,903.3 42.5,903.3 45.0,905.0 C47.5,906.7 50.0,911.7 50.0,915.0 C50.0,918.3 44.2,921.7 45.0,925.0 C45.8,928.3 53.3,933.3 55.0,935.0" fill="none" stroke="#66727a" stroke-width="1.3" stroke-linecap="round" />
<line x1="22.7" y1="1052.7" x2="215.0" y2="1052.7" stroke="#464b50" stroke-width="2.2" />
<line x1="22.7" y1="1045.0" x2="22.7" y2="1060.0" stroke="#464b50" stroke-width="2.2" />
<line x1="215.0" y1="1045.0" x2="215.0" y2="1060.0" stroke="#464b50" stroke-width="2.2" />
<line x1="224.0" y1="1052.7" x2="380.0" y2="1052.7" stroke="#464b50" stroke-width="2.2" />
<line x1="224.0" y1="1045.0" x2="224.0" y2="1060.0" stroke="#464b50" stroke-width="2.2" />
<line x1="380.0" y1="1045.0" x2="380.0" y2="1060.0" stroke="#464b50" stroke-width="2.2" />
<text transform="translate(35,1079.3) scale(1,1.04)" font-size="18.6" text-anchor="start" fill="#000" font-weight="normal" >α1-Microglobulin</text>
<text transform="translate(231.7,1079.3) scale(1,1.04)" font-size="18.6" text-anchor="start" fill="#000" font-weight="normal" >IαI Light Chain</text>
<text transform="translate(393.5,642) scale(1,1.04)" font-size="25" text-anchor="start" fill="#231f20" font-weight="bold" >C</text>
<text transform="translate(572.4,650) scale(1,1.04)" font-size="21.4" text-anchor="middle" fill="#000" font-weight="normal" >CD99</text>
<polyline points="565.0,812.0 560.0,830.0 566.0,848.0 575.0,858.0 600.0,870.0 615.0,860.0" fill="none" stroke="#8a9297" stroke-width="1.2" stroke-linejoin="round" stroke-linecap="round" />
<path d="M603,815.7 C590,807.7 570,809.7 570,819.7 C570,827.7 585,829.7 600,825.7" fill="none" stroke="#6a747a" stroke-width="3.2"/>
<path d="M603,836.8 C590,828.8 570,830.8 570,840.8 C570,848.8 585,850.8 600,846.8" fill="none" stroke="#6a747a" stroke-width="3.2"/>
<path d="M603,856 C590,848 570,850 570,860 C570,868 585,870 600,866" fill="none" stroke="#6a747a" stroke-width="3.2"/>
<path d="M603,873.3 C590,865.3 570,867.3 570,877.3 C570,885.3 585,887.3 600,883.3" fill="none" stroke="#6a747a" stroke-width="3.2"/>
<polyline points="637.0,780.0 650.0,800.0 662.0,818.0 675.0,828.0 690.0,832.0 705.0,830.0" fill="none" stroke="#6a747a" stroke-width="2.6" stroke-linejoin="round" stroke-linecap="round" />
<polyline points="500.0,800.0 505.0,815.0 515.0,820.0 525.0,812.0 535.0,825.0 545.0,830.0" fill="none" stroke="#8a9297" stroke-width="1.2" stroke-linejoin="round" stroke-linecap="round" />
<clipPath id="clp5"><path d="M525.4,867.6 C526.7,863.1 529.2,861.4 533.0,860.0 C536.8,858.6 544.2,858.0 548.4,859.0 C552.6,860.0 555.8,862.7 558.0,865.7 C560.2,868.7 559.3,874.6 561.9,877.2 C564.5,879.8 568.6,880.1 573.4,881.1 C578.2,882.1 585.9,883.0 590.7,883.0 C595.5,883.0 598.4,882.7 602.2,881.1 C606.1,879.5 611.2,877.2 613.8,873.4 C616.4,869.5 615.7,862.2 617.6,858.0 C619.5,853.8 624.7,852.6 625.3,848.4 C625.9,844.2 621.4,836.8 621.4,833.0 C621.4,829.2 622.7,827.0 625.3,825.4 C627.9,823.8 633.0,822.8 636.8,823.4 C640.6,824.0 645.1,825.7 648.3,829.2 C651.5,832.7 654.1,840.4 656.0,844.6 C657.9,848.8 657.0,852.9 659.9,854.2 C662.8,855.5 668.5,851.7 673.3,852.3 C678.1,852.9 683.9,855.5 688.7,858.0 C693.5,860.5 699.9,863.4 702.1,867.6 C704.3,871.8 703.4,878.5 702.1,883.0 C700.8,887.5 696.1,890.0 694.5,894.5 C692.9,899.0 692.5,904.1 692.5,909.9 C692.5,915.7 694.8,922.7 694.5,929.1 C694.2,935.5 692.5,942.5 690.6,948.3 C688.7,954.1 686.1,958.6 682.9,963.7 C679.7,968.8 675.2,974.6 671.4,979.1 C667.6,983.6 664.3,987.8 659.9,990.6 C655.5,993.4 647.9,992.8 645.0,996.0 C642.1,999.2 643.6,1005.6 642.6,1009.8 C641.6,1014.0 641.0,1017.9 638.7,1021.4 C636.5,1024.9 632.6,1028.8 629.1,1031.0 C625.6,1033.2 620.8,1035.5 617.6,1034.8 C614.4,1034.1 612.8,1030.0 609.9,1027.1 C607.0,1024.2 603.8,1020.4 600.3,1017.5 C596.8,1014.6 591.7,1013.0 588.8,1009.8 C585.9,1006.6 585.2,1002.8 583.0,998.3 C580.8,993.8 577.2,988.0 575.3,982.9 C573.4,977.8 571.5,972.8 571.5,967.6 C571.5,962.5 575.6,956.4 575.0,952.0 C574.4,947.6 571.4,944.7 567.6,941.0 C563.8,937.3 556.8,932.6 552.3,930.0 C547.8,927.4 543.3,927.4 540.7,925.3 C538.1,923.2 538.5,921.5 536.9,917.6 C535.3,913.8 533.0,907.3 531.1,902.2 C529.2,897.1 526.4,892.7 525.4,886.9 C524.4,881.1 524.1,872.1 525.4,867.6Z"/></clipPath>
<circle cx="531.9" cy="866.5" r="7.6" fill="#8c9864"/>
<circle cx="541.1" cy="865.0" r="10.5" fill="#8c9864"/>
<circle cx="550.8" cy="865.8" r="8.2" fill="#8c9864"/>
<circle cx="555.8" cy="872.9" r="8.5" fill="#8c9864"/>
<circle cx="566.2" cy="883.3" r="8.5" fill="#8c9864"/>
<circle cx="581.4" cy="888.3" r="11.6" fill="#8c9864"/>
<circle cx="597.1" cy="886.2" r="8.2" fill="#8c9864"/>
<circle cx="610.8" cy="881.4" r="9.6" fill="#8c9864"/>
<circle cx="621.2" cy="867.1" r="10.7" fill="#8c9864"/>
<circle cx="624.9" cy="856.0" r="8.6" fill="#8c9864"/>
<circle cx="628.9" cy="839.3" r="10.7" fill="#8c9864"/>
<circle cx="626.6" cy="830.8" r="7.2" fill="#8c9864"/>
<circle cx="631.8" cy="828.5" r="8.2" fill="#8c9864"/>
<circle cx="640.5" cy="830.4" r="8.9" fill="#8c9864"/>
<circle cx="646.6" cy="839.7" r="11.5" fill="#8c9864"/>
<circle cx="654.5" cy="850.8" r="7.4" fill="#8c9864"/>
<circle cx="667.3" cy="858.1" r="9.3" fill="#8c9864"/>
<circle cx="678.9" cy="860.7" r="11.1" fill="#8c9864"/>
<circle cx="691.9" cy="867.6" r="11.1" fill="#8c9864"/>
<circle cx="696.6" cy="875.3" r="10.4" fill="#8c9864"/>
<circle cx="694.2" cy="886.0" r="9.5" fill="#8c9864"/>
<circle cx="688.0" cy="901.5" r="10.5" fill="#8c9864"/>
<circle cx="686.6" cy="920.2" r="12.8" fill="#8c9864"/>
<circle cx="685.6" cy="937.3" r="13.0" fill="#8c9864"/>
<circle cx="681.2" cy="953.2" r="11.5" fill="#8c9864"/>
<circle cx="671.6" cy="967.3" r="12.7" fill="#8c9864"/>
<circle cx="661.5" cy="980.7" r="11.0" fill="#8c9864"/>
<circle cx="650.5" cy="987.9" r="10.7" fill="#8c9864"/>
<circle cx="638.8" cy="1002.0" r="9.6" fill="#8c9864"/>
<circle cx="636.5" cy="1014.2" r="8.5" fill="#8c9864"/>
<circle cx="630.4" cy="1022.7" r="9.3" fill="#8c9864"/>
<circle cx="622.0" cy="1028.8" r="8.5" fill="#8c9864"/>
<circle cx="616.5" cy="1028.2" r="7.7" fill="#8c9864"/>
<circle cx="608.6" cy="1018.8" r="9.3" fill="#8c9864"/>
<circle cx="597.3" cy="1009.5" r="9.5" fill="#8c9864"/>
<circle cx="590.0" cy="1002.0" r="8.9" fill="#8c9864"/>
<circle cx="584.7" cy="987.8" r="11.5" fill="#8c9864"/>
<circle cx="578.9" cy="973.9" r="10.7" fill="#8c9864"/>
<circle cx="578.9" cy="961.1" r="10.8" fill="#8c9864"/>
<circle cx="575.3" cy="943.8" r="9.2" fill="#8c9864"/>
<circle cx="563.9" cy="930.0" r="12.5" fill="#8c9864"/>
<circle cx="548.2" cy="923.5" r="8.7" fill="#8c9864"/>
<circle cx="542.0" cy="919.9" r="7.2" fill="#8c9864"/>
<circle cx="539.5" cy="907.8" r="11.1" fill="#8c9864"/>
<circle cx="533.8" cy="892.5" r="11.0" fill="#8c9864"/>
<circle cx="532.3" cy="877.2" r="12.8" fill="#8c9864"/>
<circle cx="531.9" cy="866.5" r="6.4" fill="url(#s_gr)"/>
<circle cx="541.1" cy="865.0" r="9.3" fill="url(#s_gr)"/>
<circle cx="550.8" cy="865.8" r="7.0" fill="url(#s_gr)"/>
<circle cx="555.8" cy="872.9" r="7.3" fill="url(#s_gr)"/>
<circle cx="566.2" cy="883.3" r="7.3" fill="url(#s_gr)"/>
<circle cx="581.4" cy="888.3" r="10.4" fill="url(#s_gr)"/>
<circle cx="597.1" cy="886.2" r="7.0" fill="url(#s_gr)"/>
<circle cx="610.8" cy="881.4" r="8.4" fill="url(#s_gr)"/>
<circle cx="621.2" cy="867.1" r="9.5" fill="url(#s_gr)"/>
<circle cx="624.9" cy="856.0" r="7.4" fill="url(#s_gr)"/>
<circle cx="628.9" cy="839.3" r="9.5" fill="url(#s_gr)"/>
<circle cx="626.6" cy="830.8" r="6.0" fill="url(#s_gr)"/>
<circle cx="631.8" cy="828.5" r="7.0" fill="url(#s_gr)"/>
<circle cx="640.5" cy="830.4" r="7.7" fill="url(#s_gr)"/>
<circle cx="646.6" cy="839.7" r="10.3" fill="url(#s_gr)"/>
<circle cx="654.5" cy="850.8" r="6.2" fill="url(#s_gr)"/>
<circle cx="667.3" cy="858.1" r="8.1" fill="url(#s_gr)"/>
<circle cx="678.9" cy="860.7" r="9.9" fill="url(#s_gr)"/>
<circle cx="691.9" cy="867.6" r="9.9" fill="url(#s_gr)"/>
<circle cx="696.6" cy="875.3" r="9.2" fill="url(#s_gr)"/>
<circle cx="694.2" cy="886.0" r="8.3" fill="url(#s_gr)"/>
<circle cx="688.0" cy="901.5" r="9.3" fill="url(#s_gr)"/>
<circle cx="686.6" cy="920.2" r="11.6" fill="url(#s_gr)"/>
<circle cx="685.6" cy="937.3" r="11.8" fill="url(#s_gr)"/>
<circle cx="681.2" cy="953.2" r="10.3" fill="url(#s_gr)"/>
<circle cx="671.6" cy="967.3" r="11.5" fill="url(#s_gr)"/>
<circle cx="661.5" cy="980.7" r="9.8" fill="url(#s_gr)"/>
<circle cx="650.5" cy="987.9" r="9.5" fill="url(#s_gr)"/>
<circle cx="638.8" cy="1002.0" r="8.4" fill="url(#s_gr)"/>
<circle cx="636.5" cy="1014.2" r="7.3" fill="url(#s_gr)"/>
<circle cx="630.4" cy="1022.7" r="8.1" fill="url(#s_gr)"/>
<circle cx="622.0" cy="1028.8" r="7.3" fill="url(#s_gr)"/>
<circle cx="616.5" cy="1028.2" r="6.5" fill="url(#s_gr)"/>
<circle cx="608.6" cy="1018.8" r="8.1" fill="url(#s_gr)"/>
<circle cx="597.3" cy="1009.5" r="8.3" fill="url(#s_gr)"/>
<circle cx="590.0" cy="1002.0" r="7.7" fill="url(#s_gr)"/>
<circle cx="584.7" cy="987.8" r="10.3" fill="url(#s_gr)"/>
<circle cx="578.9" cy="973.9" r="9.5" fill="url(#s_gr)"/>
<circle cx="578.9" cy="961.1" r="9.6" fill="url(#s_gr)"/>
<circle cx="575.3" cy="943.8" r="8.0" fill="url(#s_gr)"/>
<circle cx="563.9" cy="930.0" r="11.3" fill="url(#s_gr)"/>
<circle cx="548.2" cy="923.5" r="7.5" fill="url(#s_gr)"/>
<circle cx="542.0" cy="919.9" r="6.0" fill="url(#s_gr)"/>
<circle cx="539.5" cy="907.8" r="9.9" fill="url(#s_gr)"/>
<circle cx="533.8" cy="892.5" r="9.8" fill="url(#s_gr)"/>
<circle cx="532.3" cy="877.2" r="11.6" fill="url(#s_gr)"/>
<path d="M525.4,867.6 C526.7,863.1 529.2,861.4 533.0,860.0 C536.8,858.6 544.2,858.0 548.4,859.0 C552.6,860.0 555.8,862.7 558.0,865.7 C560.2,868.7 559.3,874.6 561.9,877.2 C564.5,879.8 568.6,880.1 573.4,881.1 C578.2,882.1 585.9,883.0 590.7,883.0 C595.5,883.0 598.4,882.7 602.2,881.1 C606.1,879.5 611.2,877.2 613.8,873.4 C616.4,869.5 615.7,862.2 617.6,858.0 C619.5,853.8 624.7,852.6 625.3,848.4 C625.9,844.2 621.4,836.8 621.4,833.0 C621.4,829.2 622.7,827.0 625.3,825.4 C627.9,823.8 633.0,822.8 636.8,823.4 C640.6,824.0 645.1,825.7 648.3,829.2 C651.5,832.7 654.1,840.4 656.0,844.6 C657.9,848.8 657.0,852.9 659.9,854.2 C662.8,855.5 668.5,851.7 673.3,852.3 C678.1,852.9 683.9,855.5 688.7,858.0 C693.5,860.5 699.9,863.4 702.1,867.6 C704.3,871.8 703.4,878.5 702.1,883.0 C700.8,887.5 696.1,890.0 694.5,894.5 C692.9,899.0 692.5,904.1 692.5,909.9 C692.5,915.7 694.8,922.7 694.5,929.1 C694.2,935.5 692.5,942.5 690.6,948.3 C688.7,954.1 686.1,958.6 682.9,963.7 C679.7,968.8 675.2,974.6 671.4,979.1 C667.6,983.6 664.3,987.8 659.9,990.6 C655.5,993.4 647.9,992.8 645.0,996.0 C642.1,999.2 643.6,1005.6 642.6,1009.8 C641.6,1014.0 641.0,1017.9 638.7,1021.4 C636.5,1024.9 632.6,1028.8 629.1,1031.0 C625.6,1033.2 620.8,1035.5 617.6,1034.8 C614.4,1034.1 612.8,1030.0 609.9,1027.1 C607.0,1024.2 603.8,1020.4 600.3,1017.5 C596.8,1014.6 591.7,1013.0 588.8,1009.8 C585.9,1006.6 585.2,1002.8 583.0,998.3 C580.8,993.8 577.2,988.0 575.3,982.9 C573.4,977.8 571.5,972.8 571.5,967.6 C571.5,962.5 575.6,956.4 575.0,952.0 C574.4,947.6 571.4,944.7 567.6,941.0 C563.8,937.3 556.8,932.6 552.3,930.0 C547.8,927.4 543.3,927.4 540.7,925.3 C538.1,923.2 538.5,921.5 536.9,917.6 C535.3,913.8 533.0,907.3 531.1,902.2 C529.2,897.1 526.4,892.7 525.4,886.9 C524.4,881.1 524.1,872.1 525.4,867.6Z" fill="#d8e1ab"/>
<g clip-path="url(#clp5)">
<g filter="url(#blur3)" opacity="0.35" fill="#8c9864">
<circle cx="628" cy="832" r="13"/>
<circle cx="653" cy="829" r="13"/>
<circle cx="665" cy="833" r="10"/>
<circle cx="624" cy="849" r="10"/>
<circle cx="642" cy="848" r="13"/>
<circle cx="664" cy="845" r="13"/>
<circle cx="677" cy="846" r="12"/>
<circle cx="536" cy="862" r="12"/>
<circle cx="552" cy="865" r="11"/>
<circle cx="575" cy="869" r="11"/>
<circle cx="613" cy="871" r="13"/>
<circle cx="628" cy="863" r="12"/>
<circle cx="644" cy="863" r="10"/>
<circle cx="667" cy="860" r="12"/>
<circle cx="686" cy="861" r="11"/>
<circle cx="542" cy="887" r="13"/>
<circle cx="565" cy="879" r="11"/>
<circle cx="580" cy="887" r="13"/>
<circle cx="596" cy="877" r="10"/>
<circle cx="618" cy="882" r="12"/>
<circle cx="638" cy="875" r="11"/>
<circle cx="660" cy="883" r="13"/>
<circle cx="683" cy="882" r="12"/>
<circle cx="704" cy="877" r="13"/>
<circle cx="529" cy="897" r="9"/>
<circle cx="551" cy="893" r="9"/>
<circle cx="567" cy="895" r="11"/>
<circle cx="585" cy="892" r="10"/>
<circle cx="605" cy="896" r="9"/>
<circle cx="634" cy="900" r="10"/>
<circle cx="647" cy="897" r="11"/>
<circle cx="667" cy="904" r="13"/>
<circle cx="689" cy="898" r="9"/>
<circle cx="705" cy="897" r="10"/>
<circle cx="544" cy="911" r="9"/>
<circle cx="565" cy="916" r="10"/>
<circle cx="581" cy="911" r="11"/>
<circle cx="607" cy="921" r="12"/>
<circle cx="617" cy="914" r="10"/>
<circle cx="644" cy="917" r="13"/>
<circle cx="659" cy="914" r="13"/>
<circle cx="687" cy="921" r="13"/>
<circle cx="704" cy="919" r="10"/>
<circle cx="553" cy="939" r="11"/>
<circle cx="577" cy="941" r="13"/>
<circle cx="588" cy="930" r="10"/>
<circle cx="607" cy="931" r="12"/>
<circle cx="635" cy="938" r="11"/>
<circle cx="652" cy="936" r="9"/>
<circle cx="673" cy="939" r="13"/>
<circle cx="693" cy="933" r="10"/>
<circle cx="715" cy="933" r="13"/>
<circle cx="565" cy="953" r="10"/>
<circle cx="577" cy="948" r="13"/>
<circle cx="605" cy="948" r="13"/>
<circle cx="626" cy="953" r="11"/>
<circle cx="640" cy="946" r="9"/>
<circle cx="666" cy="953" r="11"/>
<circle cx="687" cy="951" r="13"/>
<circle cx="704" cy="947" r="10"/>
<circle cx="571" cy="973" r="11"/>
<circle cx="596" cy="969" r="11"/>
<circle cx="611" cy="963" r="11"/>
<circle cx="627" cy="963" r="13"/>
<circle cx="647" cy="969" r="12"/>
<circle cx="671" cy="967" r="11"/>
<circle cx="690" cy="971" r="9"/>
<circle cx="582" cy="986" r="11"/>
<circle cx="603" cy="986" r="11"/>
<circle cx="621" cy="992" r="12"/>
<circle cx="645" cy="991" r="10"/>
<circle cx="662" cy="992" r="13"/>
<circle cx="676" cy="981" r="11"/>
<circle cx="591" cy="1010" r="13"/>
<circle cx="607" cy="1003" r="11"/>
<circle cx="628" cy="999" r="10"/>
<circle cx="653" cy="998" r="11"/>
<circle cx="670" cy="997" r="10"/>
<circle cx="599" cy="1018" r="13"/>
<circle cx="621" cy="1022" r="9"/>
<circle cx="635" cy="1023" r="11"/>
<circle cx="656" cy="1026" r="12"/>
<circle cx="610" cy="1034" r="11"/>
<circle cx="624" cy="1034" r="9"/>
<circle cx="617" cy="1051" r="9"/>
</g>
<g filter="url(#blur3)" opacity="0.7" fill="#f4f7d8">
<circle cx="619" cy="821" r="9"/>
<circle cx="643" cy="818" r="9"/>
<circle cx="657" cy="824" r="7"/>
<circle cx="616" cy="840" r="7"/>
<circle cx="633" cy="837" r="9"/>
<circle cx="655" cy="834" r="9"/>
<circle cx="668" cy="836" r="8"/>
<circle cx="527" cy="852" r="8"/>
<circle cx="544" cy="855" r="7"/>
<circle cx="567" cy="860" r="7"/>
<circle cx="604" cy="860" r="8"/>
<circle cx="620" cy="853" r="8"/>
<circle cx="637" cy="854" r="7"/>
<circle cx="657" cy="849" r="8"/>
<circle cx="678" cy="852" r="7"/>
<circle cx="533" cy="876" r="8"/>
<circle cx="557" cy="869" r="7"/>
<circle cx="570" cy="876" r="9"/>
<circle cx="589" cy="868" r="7"/>
<circle cx="609" cy="872" r="8"/>
<circle cx="630" cy="866" r="7"/>
<circle cx="650" cy="872" r="9"/>
<circle cx="675" cy="872" r="8"/>
<circle cx="694" cy="866" r="9"/>
<circle cx="522" cy="889" r="6"/>
<circle cx="545" cy="885" r="6"/>
<circle cx="559" cy="885" r="7"/>
<circle cx="577" cy="884" r="6"/>
<circle cx="598" cy="888" r="6"/>
<circle cx="627" cy="891" r="6"/>
<circle cx="640" cy="888" r="7"/>
<circle cx="657" cy="893" r="9"/>
<circle cx="682" cy="890" r="6"/>
<circle cx="698" cy="888" r="7"/>
<circle cx="537" cy="903" r="6"/>
<circle cx="558" cy="908" r="6"/>
<circle cx="573" cy="901" r="8"/>
<circle cx="598" cy="911" r="8"/>
<circle cx="610" cy="906" r="7"/>
<circle cx="635" cy="907" r="8"/>
<circle cx="650" cy="903" r="8"/>
<circle cx="678" cy="910" r="8"/>
<circle cx="697" cy="910" r="7"/>
<circle cx="545" cy="930" r="7"/>
<circle cx="567" cy="929" r="9"/>
<circle cx="581" cy="921" r="7"/>
<circle cx="599" cy="920" r="8"/>
<circle cx="627" cy="928" r="7"/>
<circle cx="645" cy="928" r="6"/>
<circle cx="664" cy="929" r="8"/>
<circle cx="686" cy="924" r="7"/>
<circle cx="706" cy="922" r="8"/>
<circle cx="558" cy="945" r="7"/>
<circle cx="567" cy="937" r="9"/>
<circle cx="596" cy="937" r="8"/>
<circle cx="618" cy="944" r="7"/>
<circle cx="634" cy="938" r="6"/>
<circle cx="658" cy="943" r="8"/>
<circle cx="677" cy="940" r="9"/>
<circle cx="697" cy="938" r="7"/>
<circle cx="563" cy="964" r="7"/>
<circle cx="587" cy="959" r="8"/>
<circle cx="603" cy="953" r="7"/>
<circle cx="618" cy="952" r="8"/>
<circle cx="638" cy="958" r="8"/>
<circle cx="663" cy="957" r="8"/>
<circle cx="684" cy="963" r="6"/>
<circle cx="574" cy="976" r="8"/>
<circle cx="595" cy="976" r="8"/>
<circle cx="612" cy="981" r="8"/>
<circle cx="637" cy="982" r="7"/>
<circle cx="653" cy="981" r="9"/>
<circle cx="668" cy="972" r="7"/>
<circle cx="582" cy="999" r="8"/>
<circle cx="598" cy="993" r="8"/>
<circle cx="621" cy="990" r="7"/>
<circle cx="645" cy="988" r="8"/>
<circle cx="662" cy="988" r="7"/>
<circle cx="589" cy="1006" r="9"/>
<circle cx="614" cy="1014" r="6"/>
<circle cx="627" cy="1013" r="7"/>
<circle cx="647" cy="1016" r="8"/>
<circle cx="603" cy="1025" r="7"/>
<circle cx="617" cy="1026" r="6"/>
<circle cx="610" cy="1042" r="6"/>
</g>
<g fill="none" stroke="#8c9864" stroke-width="1" opacity="0.45">
<circle cx="622" cy="825" r="18" stroke-dasharray="44 67" stroke-dashoffset="34"/>
<circle cx="646" cy="822" r="18" stroke-dasharray="45 67" stroke-dashoffset="40"/>
<circle cx="660" cy="828" r="14" stroke-dasharray="35 52" stroke-dashoffset="0"/>
<circle cx="619" cy="843" r="13" stroke-dasharray="34 51" stroke-dashoffset="32"/>
<circle cx="636" cy="841" r="17" stroke-dasharray="43 65" stroke-dashoffset="51"/>
<circle cx="658" cy="838" r="18" stroke-dasharray="45 67" stroke-dashoffset="56"/>
<circle cx="671" cy="840" r="17" stroke-dasharray="42 62" stroke-dashoffset="21"/>
<circle cx="530" cy="856" r="16" stroke-dasharray="41 61" stroke-dashoffset="51"/>
<circle cx="547" cy="859" r="15" stroke-dasharray="37 56" stroke-dashoffset="0"/>
<circle cx="569" cy="864" r="15" stroke-dasharray="37 56" stroke-dashoffset="25"/>
<circle cx="607" cy="864" r="17" stroke-dasharray="43 64" stroke-dashoffset="10"/>
<circle cx="623" cy="857" r="16" stroke-dasharray="40 60" stroke-dashoffset="40"/>
<circle cx="640" cy="858" r="13" stroke-dasharray="33 49" stroke-dashoffset="3"/>
<circle cx="661" cy="853" r="17" stroke-dasharray="42 63" stroke-dashoffset="2"/>
<circle cx="681" cy="855" r="14" stroke-dasharray="36 54" stroke-dashoffset="27"/>
<circle cx="536" cy="880" r="17" stroke-dasharray="43 64" stroke-dashoffset="25"/>
<circle cx="560" cy="873" r="14" stroke-dasharray="36 55" stroke-dashoffset="53"/>
<circle cx="574" cy="880" r="18" stroke-dasharray="45 67" stroke-dashoffset="59"/>
<circle cx="591" cy="872" r="13" stroke-dasharray="34 50" stroke-dashoffset="63"/>
<circle cx="612" cy="875" r="16" stroke-dasharray="39 59" stroke-dashoffset="64"/>
<circle cx="633" cy="870" r="15" stroke-dasharray="36 55" stroke-dashoffset="65"/>
<circle cx="654" cy="876" r="18" stroke-dasharray="45 67" stroke-dashoffset="98"/>
<circle cx="678" cy="876" r="16" stroke-dasharray="39 59" stroke-dashoffset="38"/>
<circle cx="698" cy="870" r="17" stroke-dasharray="44 66" stroke-dashoffset="36"/>
<circle cx="524" cy="892" r="13" stroke-dasharray="32 48" stroke-dashoffset="78"/>
<circle cx="547" cy="888" r="12" stroke-dasharray="31 47" stroke-dashoffset="12"/>
<circle cx="562" cy="889" r="14" stroke-dasharray="35 53" stroke-dashoffset="64"/>
<circle cx="580" cy="887" r="13" stroke-dasharray="32 49" stroke-dashoffset="52"/>
<circle cx="601" cy="891" r="12" stroke-dasharray="31 46" stroke-dashoffset="3"/>
<circle cx="630" cy="894" r="13" stroke-dasharray="32 49" stroke-dashoffset="68"/>
<circle cx="642" cy="891" r="14" stroke-dasharray="36 53" stroke-dashoffset="79"/>
<circle cx="661" cy="897" r="18" stroke-dasharray="45 68" stroke-dashoffset="71"/>
<circle cx="685" cy="893" r="13" stroke-dasharray="31 47" stroke-dashoffset="58"/>
<circle cx="701" cy="891" r="14" stroke-dasharray="34 51" stroke-dashoffset="69"/>
<circle cx="539" cy="906" r="12" stroke-dasharray="31 46" stroke-dashoffset="11"/>
<circle cx="561" cy="911" r="13" stroke-dasharray="32 49" stroke-dashoffset="42"/>
<circle cx="576" cy="905" r="15" stroke-dasharray="38 57" stroke-dashoffset="48"/>
<circle cx="601" cy="915" r="16" stroke-dasharray="41 61" stroke-dashoffset="85"/>
<circle cx="613" cy="909" r="13" stroke-dasharray="33 49" stroke-dashoffset="66"/>
<circle cx="639" cy="911" r="17" stroke-dasharray="42 63" stroke-dashoffset="87"/>
<circle cx="653" cy="907" r="17" stroke-dasharray="42 64" stroke-dashoffset="62"/>
<circle cx="681" cy="915" r="17" stroke-dasharray="42 63" stroke-dashoffset="94"/>
<circle cx="699" cy="913" r="13" stroke-dasharray="34 50" stroke-dashoffset="57"/>
<circle cx="548" cy="933" r="15" stroke-dasharray="37 55" stroke-dashoffset="64"/>
<circle cx="571" cy="934" r="18" stroke-dasharray="45 67" stroke-dashoffset="26"/>
<circle cx="584" cy="924" r="13" stroke-dasharray="34 50" stroke-dashoffset="3"/>
<circle cx="602" cy="924" r="16" stroke-dasharray="40 59" stroke-dashoffset="13"/>
<circle cx="630" cy="932" r="15" stroke-dasharray="37 56" stroke-dashoffset="34"/>
<circle cx="647" cy="931" r="13" stroke-dasharray="31 47" stroke-dashoffset="8"/>
<circle cx="667" cy="933" r="17" stroke-dasharray="42 63" stroke-dashoffset="88"/>
<circle cx="688" cy="928" r="13" stroke-dasharray="33 49" stroke-dashoffset="46"/>
<circle cx="709" cy="926" r="17" stroke-dasharray="42 63" stroke-dashoffset="66"/>
<circle cx="561" cy="948" r="13" stroke-dasharray="33 49" stroke-dashoffset="51"/>
<circle cx="571" cy="941" r="17" stroke-dasharray="44 66" stroke-dashoffset="75"/>
<circle cx="599" cy="941" r="17" stroke-dasharray="43 64" stroke-dashoffset="52"/>
<circle cx="621" cy="947" r="14" stroke-dasharray="35 53" stroke-dashoffset="0"/>
<circle cx="636" cy="941" r="12" stroke-dasharray="30 46" stroke-dashoffset="61"/>
<circle cx="661" cy="947" r="15" stroke-dasharray="38 57" stroke-dashoffset="71"/>
<circle cx="681" cy="944" r="17" stroke-dasharray="43 65" stroke-dashoffset="54"/>
<circle cx="699" cy="942" r="14" stroke-dasharray="34 51" stroke-dashoffset="45"/>
<circle cx="566" cy="967" r="15" stroke-dasharray="37 55" stroke-dashoffset="60"/>
<circle cx="590" cy="963" r="15" stroke-dasharray="38 57" stroke-dashoffset="6"/>
<circle cx="606" cy="957" r="15" stroke-dasharray="37 55" stroke-dashoffset="68"/>
<circle cx="622" cy="957" r="17" stroke-dasharray="42 63" stroke-dashoffset="27"/>
<circle cx="641" cy="962" r="16" stroke-dasharray="41 62" stroke-dashoffset="8"/>
<circle cx="666" cy="961" r="15" stroke-dasharray="38 57" stroke-dashoffset="25"/>
<circle cx="686" cy="966" r="13" stroke-dasharray="32 48" stroke-dashoffset="58"/>
<circle cx="577" cy="980" r="15" stroke-dasharray="38 57" stroke-dashoffset="19"/>
<circle cx="598" cy="979" r="15" stroke-dasharray="38 57" stroke-dashoffset="71"/>
<circle cx="615" cy="985" r="16" stroke-dasharray="41 61" stroke-dashoffset="99"/>
<circle cx="640" cy="985" r="14" stroke-dasharray="34 51" stroke-dashoffset="42"/>
<circle cx="656" cy="985" r="17" stroke-dasharray="43 64" stroke-dashoffset="41"/>
<circle cx="671" cy="975" r="15" stroke-dasharray="37 55" stroke-dashoffset="44"/>
<circle cx="585" cy="1003" r="17" stroke-dasharray="43 64" stroke-dashoffset="73"/>
<circle cx="601" cy="997" r="15" stroke-dasharray="38 57" stroke-dashoffset="73"/>
<circle cx="623" cy="994" r="14" stroke-dasharray="35 52" stroke-dashoffset="54"/>
<circle cx="648" cy="992" r="15" stroke-dasharray="39 58" stroke-dashoffset="62"/>
<circle cx="665" cy="992" r="14" stroke-dasharray="35 53" stroke-dashoffset="7"/>
<circle cx="593" cy="1011" r="18" stroke-dasharray="44 66" stroke-dashoffset="16"/>
<circle cx="616" cy="1017" r="13" stroke-dasharray="32 47" stroke-dashoffset="20"/>
<circle cx="630" cy="1017" r="15" stroke-dasharray="37 55" stroke-dashoffset="68"/>
<circle cx="650" cy="1020" r="16" stroke-dasharray="40 60" stroke-dashoffset="30"/>
<circle cx="605" cy="1028" r="14" stroke-dasharray="35 53" stroke-dashoffset="50"/>
<circle cx="620" cy="1029" r="12" stroke-dasharray="30 46" stroke-dashoffset="1"/>
<circle cx="612" cy="1046" r="13" stroke-dasharray="31 47" stroke-dashoffset="5"/>
</g></g>
<path d="M525.4,867.6 C526.7,863.1 529.2,861.4 533.0,860.0 C536.8,858.6 544.2,858.0 548.4,859.0 C552.6,860.0 555.8,862.7 558.0,865.7 C560.2,868.7 559.3,874.6 561.9,877.2 C564.5,879.8 568.6,880.1 573.4,881.1 C578.2,882.1 585.9,883.0 590.7,883.0 C595.5,883.0 598.4,882.7 602.2,881.1 C606.1,879.5 611.2,877.2 613.8,873.4 C616.4,869.5 615.7,862.2 617.6,858.0 C619.5,853.8 624.7,852.6 625.3,848.4 C625.9,844.2 621.4,836.8 621.4,833.0 C621.4,829.2 622.7,827.0 625.3,825.4 C627.9,823.8 633.0,822.8 636.8,823.4 C640.6,824.0 645.1,825.7 648.3,829.2 C651.5,832.7 654.1,840.4 656.0,844.6 C657.9,848.8 657.0,852.9 659.9,854.2 C662.8,855.5 668.5,851.7 673.3,852.3 C678.1,852.9 683.9,855.5 688.7,858.0 C693.5,860.5 699.9,863.4 702.1,867.6 C704.3,871.8 703.4,878.5 702.1,883.0 C700.8,887.5 696.1,890.0 694.5,894.5 C692.9,899.0 692.5,904.1 692.5,909.9 C692.5,915.7 694.8,922.7 694.5,929.1 C694.2,935.5 692.5,942.5 690.6,948.3 C688.7,954.1 686.1,958.6 682.9,963.7 C679.7,968.8 675.2,974.6 671.4,979.1 C667.6,983.6 664.3,987.8 659.9,990.6 C655.5,993.4 647.9,992.8 645.0,996.0 C642.1,999.2 643.6,1005.6 642.6,1009.8 C641.6,1014.0 641.0,1017.9 638.7,1021.4 C636.5,1024.9 632.6,1028.8 629.1,1031.0 C625.6,1033.2 620.8,1035.5 617.6,1034.8 C614.4,1034.1 612.8,1030.0 609.9,1027.1 C607.0,1024.2 603.8,1020.4 600.3,1017.5 C596.8,1014.6 591.7,1013.0 588.8,1009.8 C585.9,1006.6 585.2,1002.8 583.0,998.3 C580.8,993.8 577.2,988.0 575.3,982.9 C573.4,977.8 571.5,972.8 571.5,967.6 C571.5,962.5 575.6,956.4 575.0,952.0 C574.4,947.6 571.4,944.7 567.6,941.0 C563.8,937.3 556.8,932.6 552.3,930.0 C547.8,927.4 543.3,927.4 540.7,925.3 C538.1,923.2 538.5,921.5 536.9,917.6 C535.3,913.8 533.0,907.3 531.1,902.2 C529.2,897.1 526.4,892.7 525.4,886.9 C524.4,881.1 524.1,872.1 525.4,867.6Z" fill="none" stroke="#8c9864" stroke-width="1.4" stroke-opacity="0.9"/>
<clipPath id="clp6"><path d="M426.0,780.0 C426.7,774.7 428.3,764.7 432.0,760.0 C435.7,755.3 442.0,752.3 448.0,752.0 C454.0,751.7 462.0,758.7 468.0,758.0 C474.0,757.3 477.3,750.0 484.0,748.0 C490.7,746.0 502.3,747.3 508.0,746.0 C513.7,744.7 516.7,745.7 518.0,740.0 C519.3,734.3 515.0,718.3 516.0,712.0 C517.0,705.7 518.7,704.0 524.0,702.0 C529.3,700.0 540.0,699.7 548.0,700.0 C556.0,700.3 565.3,702.7 572.0,704.0 C578.7,705.3 582.7,706.0 588.0,708.0 C593.3,710.0 598.7,714.3 604.0,716.0 C609.3,717.7 614.7,718.7 620.0,718.0 C625.3,717.3 630.0,713.3 636.0,712.0 C642.0,710.7 650.7,709.7 656.0,710.0 C661.3,710.3 663.3,712.3 668.0,714.0 C672.7,715.7 678.7,718.3 684.0,720.0 C689.3,721.7 694.0,723.7 700.0,724.0 C706.0,724.3 713.3,722.0 720.0,722.0 C726.7,722.0 732.7,724.0 740.0,724.0 C747.3,724.0 757.3,722.0 764.0,722.0 C770.7,722.0 774.0,722.3 780.0,724.0 C786.0,725.7 793.3,728.7 800.0,732.0 C806.7,735.3 814.7,739.3 820.0,744.0 C825.3,748.7 830.7,754.7 832.0,760.0 C833.3,765.3 830.7,772.0 828.0,776.0 C825.3,780.0 820.0,780.7 816.0,784.0 C812.0,787.3 808.0,792.0 804.0,796.0 C800.0,800.0 796.7,805.3 792.0,808.0 C787.3,810.7 781.3,812.0 776.0,812.0 C770.7,812.0 766.0,810.0 760.0,808.0 C754.0,806.0 746.0,802.0 740.0,800.0 C734.0,798.0 728.3,795.3 724.0,796.0 C719.7,796.7 715.7,800.0 714.0,804.0 C712.3,808.0 714.3,814.7 714.0,820.0 C713.7,825.3 714.3,832.0 712.0,836.0 C709.7,840.0 704.7,842.7 700.0,844.0 C695.3,845.3 688.0,842.7 684.0,844.0 C680.0,845.3 678.0,850.0 676.0,852.0 C674.0,854.0 674.7,855.3 672.0,856.0 C669.3,856.7 662.7,858.0 660.0,856.0 C657.3,854.0 657.3,850.0 656.0,844.0 C654.7,838.0 652.0,826.0 652.0,820.0 C652.0,814.0 657.3,811.8 656.0,808.0 C654.7,804.2 648.0,799.3 644.0,797.0 C640.0,794.7 635.3,796.8 632.0,794.0 C628.7,791.2 626.7,782.7 624.0,780.0 C621.3,777.3 618.3,776.5 616.0,778.0 C613.7,779.5 614.0,786.8 610.0,789.0 C606.0,791.2 596.8,791.0 592.0,791.0 C587.2,791.0 583.7,791.7 581.0,789.0 C578.3,786.3 578.5,777.7 576.0,775.0 C573.5,772.3 568.5,769.3 566.0,773.0 C563.5,776.7 564.5,792.5 561.0,797.0 C557.5,801.5 550.5,799.7 545.0,800.0 C539.5,800.3 532.2,797.5 528.0,799.0 C523.8,800.5 524.7,806.7 520.0,809.0 C515.3,811.3 506.7,812.2 500.0,813.0 C493.3,813.8 486.7,814.2 480.0,814.0 C473.3,813.8 466.7,814.0 460.0,812.0 C453.3,810.0 445.3,805.3 440.0,802.0 C434.7,798.7 430.3,795.7 428.0,792.0 C425.7,788.3 425.3,785.3 426.0,780.0Z"/></clipPath>
<circle cx="435.9" cy="772.1" r="13.2" fill="#8e3a22"/>
<circle cx="442.9" cy="761.8" r="11.9" fill="#8e3a22"/>
<circle cx="455.9" cy="761.9" r="13.2" fill="#8e3a22"/>
<circle cx="479.6" cy="758.8" r="12.5" fill="#8e3a22"/>
<circle cx="496.6" cy="754.2" r="13.2" fill="#8e3a22"/>
<circle cx="515.2" cy="746.6" r="8.2" fill="#8e3a22"/>
<circle cx="524.2" cy="725.5" r="13.2" fill="#8e3a22"/>
<circle cx="523.6" cy="709.9" r="8.9" fill="#8e3a22"/>
<circle cx="536.6" cy="708.2" r="13.2" fill="#8e3a22"/>
<circle cx="558.8" cy="709.1" r="13.2" fill="#8e3a22"/>
<circle cx="578.6" cy="711.8" r="11.1" fill="#8e3a22"/>
<circle cx="593.1" cy="717.8" r="11.9" fill="#8e3a22"/>
<circle cx="611.3" cy="722.8" r="10.9" fill="#8e3a22"/>
<circle cx="630.2" cy="720.8" r="11.5" fill="#8e3a22"/>
<circle cx="646.7" cy="718.2" r="13.2" fill="#8e3a22"/>
<circle cx="660.6" cy="716.3" r="8.8" fill="#8e3a22"/>
<circle cx="673.8" cy="722.8" r="11.5" fill="#8e3a22"/>
<circle cx="690.6" cy="727.8" r="11.1" fill="#8e3a22"/>
<circle cx="710.7" cy="730.2" r="13.2" fill="#8e3a22"/>
<circle cx="729.3" cy="730.2" r="13.2" fill="#8e3a22"/>
<circle cx="752.6" cy="730.2" r="13.2" fill="#8e3a22"/>
<circle cx="771.3" cy="728.8" r="10.9" fill="#8e3a22"/>
<circle cx="787.3" cy="734.7" r="13.2" fill="#8e3a22"/>
<circle cx="806.3" cy="744.2" r="13.2" fill="#8e3a22"/>
<circle cx="820.2" cy="756.3" r="13.2" fill="#8e3a22"/>
<circle cx="824.2" cy="766.6" r="11.1" fill="#8e3a22"/>
<circle cx="819.1" cy="775.7" r="9.9" fill="#8e3a22"/>
<circle cx="805.7" cy="785.7" r="11.4" fill="#8e3a22"/>
<circle cx="793.7" cy="797.7" r="11.4" fill="#8e3a22"/>
<circle cx="782.6" cy="804.2" r="11.1" fill="#8e3a22"/>
<circle cx="769.4" cy="804.2" r="11.1" fill="#8e3a22"/>
<circle cx="752.7" cy="797.3" r="13.2" fill="#8e3a22"/>
<circle cx="733.4" cy="792.2" r="11.1" fill="#8e3a22"/>
<circle cx="716.1" cy="796.4" r="8.9" fill="#8e3a22"/>
<circle cx="708.2" cy="812.0" r="10.8" fill="#8e3a22"/>
<circle cx="707.2" cy="827.3" r="10.9" fill="#8e3a22"/>
<circle cx="703.1" cy="835.7" r="9.9" fill="#8e3a22"/>
<circle cx="692.0" cy="838.2" r="10.8" fill="#8e3a22"/>
<circle cx="677.1" cy="845.1" r="8.0" fill="#8e3a22"/>
<circle cx="671.5" cy="851.5" r="7.2" fill="#8e3a22"/>
<circle cx="666.0" cy="851.7" r="8.4" fill="#8e3a22"/>
<circle cx="662.3" cy="848.6" r="8.8" fill="#8e3a22"/>
<circle cx="661.1" cy="830.8" r="13.2" fill="#8e3a22"/>
<circle cx="658.3" cy="815.4" r="8.8" fill="#8e3a22"/>
<circle cx="654.0" cy="798.2" r="11.0" fill="#8e3a22"/>
<circle cx="639.1" cy="791.2" r="8.6" fill="#8e3a22"/>
<circle cx="633.0" cy="784.1" r="10.9" fill="#8e3a22"/>
<circle cx="620.9" cy="775.5" r="7.2" fill="#8e3a22"/>
<circle cx="609.0" cy="781.3" r="8.7" fill="#8e3a22"/>
<circle cx="600.3" cy="783.5" r="12.1" fill="#8e3a22"/>
<circle cx="587.2" cy="786.0" r="7.9" fill="#8e3a22"/>
<circle cx="583.5" cy="780.2" r="10.1" fill="#8e3a22"/>
<circle cx="571.7" cy="770.4" r="7.3" fill="#8e3a22"/>
<circle cx="556.5" cy="783.5" r="13.2" fill="#8e3a22"/>
<circle cx="551.9" cy="792.7" r="11.0" fill="#8e3a22"/>
<circle cx="536.9" cy="793.4" r="11.4" fill="#8e3a22"/>
<circle cx="520.4" cy="801.1" r="8.9" fill="#8e3a22"/>
<circle cx="508.6" cy="803.9" r="13.2" fill="#8e3a22"/>
<circle cx="489.6" cy="806.3" r="13.2" fill="#8e3a22"/>
<circle cx="470.7" cy="805.8" r="13.2" fill="#8e3a22"/>
<circle cx="453.2" cy="800.6" r="13.2" fill="#8e3a22"/>
<circle cx="437.6" cy="792.7" r="10.6" fill="#8e3a22"/>
<circle cx="431.3" cy="785.3" r="8.5" fill="#8e3a22"/>
<circle cx="435.9" cy="772.1" r="12.0" fill="url(#s_or)"/>
<circle cx="442.9" cy="761.8" r="10.7" fill="url(#s_or)"/>
<circle cx="455.9" cy="761.9" r="12.0" fill="url(#s_or)"/>
<circle cx="479.6" cy="758.8" r="11.3" fill="url(#s_or)"/>
<circle cx="496.6" cy="754.2" r="12.0" fill="url(#s_or)"/>
<circle cx="515.2" cy="746.6" r="7.0" fill="url(#s_or)"/>
<circle cx="524.2" cy="725.5" r="12.0" fill="url(#s_or)"/>
<circle cx="523.6" cy="709.9" r="7.7" fill="url(#s_or)"/>
<circle cx="536.6" cy="708.2" r="12.0" fill="url(#s_or)"/>
<circle cx="558.8" cy="709.1" r="12.0" fill="url(#s_or)"/>
<circle cx="578.6" cy="711.8" r="9.9" fill="url(#s_or)"/>
<circle cx="593.1" cy="717.8" r="10.7" fill="url(#s_or)"/>
<circle cx="611.3" cy="722.8" r="9.7" fill="url(#s_or)"/>
<circle cx="630.2" cy="720.8" r="10.3" fill="url(#s_or)"/>
<circle cx="646.7" cy="718.2" r="12.0" fill="url(#s_or)"/>
<circle cx="660.6" cy="716.3" r="7.6" fill="url(#s_or)"/>
<circle cx="673.8" cy="722.8" r="10.3" fill="url(#s_or)"/>
<circle cx="690.6" cy="727.8" r="9.9" fill="url(#s_or)"/>
<circle cx="710.7" cy="730.2" r="12.0" fill="url(#s_or)"/>
<circle cx="729.3" cy="730.2" r="12.0" fill="url(#s_or)"/>
<circle cx="752.6" cy="730.2" r="12.0" fill="url(#s_or)"/>
<circle cx="771.3" cy="728.8" r="9.7" fill="url(#s_or)"/>
<circle cx="787.3" cy="734.7" r="12.0" fill="url(#s_or)"/>
<circle cx="806.3" cy="744.2" r="12.0" fill="url(#s_or)"/>
<circle cx="820.2" cy="756.3" r="12.0" fill="url(#s_or)"/>
<circle cx="824.2" cy="766.6" r="9.9" fill="url(#s_or)"/>
<circle cx="819.1" cy="775.7" r="8.7" fill="url(#s_or)"/>
<circle cx="805.7" cy="785.7" r="10.2" fill="url(#s_or)"/>
<circle cx="793.7" cy="797.7" r="10.2" fill="url(#s_or)"/>
<circle cx="782.6" cy="804.2" r="9.9" fill="url(#s_or)"/>
<circle cx="769.4" cy="804.2" r="9.9" fill="url(#s_or)"/>
<circle cx="752.7" cy="797.3" r="12.0" fill="url(#s_or)"/>
<circle cx="733.4" cy="792.2" r="9.9" fill="url(#s_or)"/>
<circle cx="716.1" cy="796.4" r="7.7" fill="url(#s_or)"/>
<circle cx="708.2" cy="812.0" r="9.6" fill="url(#s_or)"/>
<circle cx="707.2" cy="827.3" r="9.7" fill="url(#s_or)"/>
<circle cx="703.1" cy="835.7" r="8.7" fill="url(#s_or)"/>
<circle cx="692.0" cy="838.2" r="9.6" fill="url(#s_or)"/>
<circle cx="677.1" cy="845.1" r="6.8" fill="url(#s_or)"/>
<circle cx="671.5" cy="851.5" r="6.0" fill="url(#s_or)"/>
<circle cx="666.0" cy="851.7" r="7.2" fill="url(#s_or)"/>
<circle cx="662.3" cy="848.6" r="7.6" fill="url(#s_or)"/>
<circle cx="661.1" cy="830.8" r="12.0" fill="url(#s_or)"/>
<circle cx="658.3" cy="815.4" r="7.6" fill="url(#s_or)"/>
<circle cx="654.0" cy="798.2" r="9.8" fill="url(#s_or)"/>
<circle cx="639.1" cy="791.2" r="7.4" fill="url(#s_or)"/>
<circle cx="633.0" cy="784.1" r="9.7" fill="url(#s_or)"/>
<circle cx="620.9" cy="775.5" r="6.0" fill="url(#s_or)"/>
<circle cx="609.0" cy="781.3" r="7.5" fill="url(#s_or)"/>
<circle cx="600.3" cy="783.5" r="10.9" fill="url(#s_or)"/>
<circle cx="587.2" cy="786.0" r="6.7" fill="url(#s_or)"/>
<circle cx="583.5" cy="780.2" r="8.9" fill="url(#s_or)"/>
<circle cx="571.7" cy="770.4" r="6.1" fill="url(#s_or)"/>
<circle cx="556.5" cy="783.5" r="12.0" fill="url(#s_or)"/>
<circle cx="551.9" cy="792.7" r="9.8" fill="url(#s_or)"/>
<circle cx="536.9" cy="793.4" r="10.2" fill="url(#s_or)"/>
<circle cx="520.4" cy="801.1" r="7.7" fill="url(#s_or)"/>
<circle cx="508.6" cy="803.9" r="12.0" fill="url(#s_or)"/>
<circle cx="489.6" cy="806.3" r="12.0" fill="url(#s_or)"/>
<circle cx="470.7" cy="805.8" r="12.0" fill="url(#s_or)"/>
<circle cx="453.2" cy="800.6" r="12.0" fill="url(#s_or)"/>
<circle cx="437.6" cy="792.7" r="9.4" fill="url(#s_or)"/>
<circle cx="431.3" cy="785.3" r="7.3" fill="url(#s_or)"/>
<path d="M426.0,780.0 C426.7,774.7 428.3,764.7 432.0,760.0 C435.7,755.3 442.0,752.3 448.0,752.0 C454.0,751.7 462.0,758.7 468.0,758.0 C474.0,757.3 477.3,750.0 484.0,748.0 C490.7,746.0 502.3,747.3 508.0,746.0 C513.7,744.7 516.7,745.7 518.0,740.0 C519.3,734.3 515.0,718.3 516.0,712.0 C517.0,705.7 518.7,704.0 524.0,702.0 C529.3,700.0 540.0,699.7 548.0,700.0 C556.0,700.3 565.3,702.7 572.0,704.0 C578.7,705.3 582.7,706.0 588.0,708.0 C593.3,710.0 598.7,714.3 604.0,716.0 C609.3,717.7 614.7,718.7 620.0,718.0 C625.3,717.3 630.0,713.3 636.0,712.0 C642.0,710.7 650.7,709.7 656.0,710.0 C661.3,710.3 663.3,712.3 668.0,714.0 C672.7,715.7 678.7,718.3 684.0,720.0 C689.3,721.7 694.0,723.7 700.0,724.0 C706.0,724.3 713.3,722.0 720.0,722.0 C726.7,722.0 732.7,724.0 740.0,724.0 C747.3,724.0 757.3,722.0 764.0,722.0 C770.7,722.0 774.0,722.3 780.0,724.0 C786.0,725.7 793.3,728.7 800.0,732.0 C806.7,735.3 814.7,739.3 820.0,744.0 C825.3,748.7 830.7,754.7 832.0,760.0 C833.3,765.3 830.7,772.0 828.0,776.0 C825.3,780.0 820.0,780.7 816.0,784.0 C812.0,787.3 808.0,792.0 804.0,796.0 C800.0,800.0 796.7,805.3 792.0,808.0 C787.3,810.7 781.3,812.0 776.0,812.0 C770.7,812.0 766.0,810.0 760.0,808.0 C754.0,806.0 746.0,802.0 740.0,800.0 C734.0,798.0 728.3,795.3 724.0,796.0 C719.7,796.7 715.7,800.0 714.0,804.0 C712.3,808.0 714.3,814.7 714.0,820.0 C713.7,825.3 714.3,832.0 712.0,836.0 C709.7,840.0 704.7,842.7 700.0,844.0 C695.3,845.3 688.0,842.7 684.0,844.0 C680.0,845.3 678.0,850.0 676.0,852.0 C674.0,854.0 674.7,855.3 672.0,856.0 C669.3,856.7 662.7,858.0 660.0,856.0 C657.3,854.0 657.3,850.0 656.0,844.0 C654.7,838.0 652.0,826.0 652.0,820.0 C652.0,814.0 657.3,811.8 656.0,808.0 C654.7,804.2 648.0,799.3 644.0,797.0 C640.0,794.7 635.3,796.8 632.0,794.0 C628.7,791.2 626.7,782.7 624.0,780.0 C621.3,777.3 618.3,776.5 616.0,778.0 C613.7,779.5 614.0,786.8 610.0,789.0 C606.0,791.2 596.8,791.0 592.0,791.0 C587.2,791.0 583.7,791.7 581.0,789.0 C578.3,786.3 578.5,777.7 576.0,775.0 C573.5,772.3 568.5,769.3 566.0,773.0 C563.5,776.7 564.5,792.5 561.0,797.0 C557.5,801.5 550.5,799.7 545.0,800.0 C539.5,800.3 532.2,797.5 528.0,799.0 C523.8,800.5 524.7,806.7 520.0,809.0 C515.3,811.3 506.7,812.2 500.0,813.0 C493.3,813.8 486.7,814.2 480.0,814.0 C473.3,813.8 466.7,814.0 460.0,812.0 C453.3,810.0 445.3,805.3 440.0,802.0 C434.7,798.7 430.3,795.7 428.0,792.0 C425.7,788.3 425.3,785.3 426.0,780.0Z" fill="#dc6a43"/>
<g clip-path="url(#clp6)">
<g filter="url(#blur3)" opacity="0.42" fill="#8e3a22">
<circle cx="522" cy="700" r="9"/>
<circle cx="544" cy="710" r="10"/>
<circle cx="561" cy="704" r="13"/>
<circle cx="578" cy="707" r="10"/>
<circle cx="604" cy="704" r="11"/>
<circle cx="663" cy="705" r="9"/>
<circle cx="514" cy="718" r="10"/>
<circle cx="532" cy="721" r="10"/>
<circle cx="553" cy="723" r="10"/>
<circle cx="568" cy="716" r="9"/>
<circle cx="593" cy="721" r="12"/>
<circle cx="612" cy="726" r="13"/>
<circle cx="625" cy="716" r="9"/>
<circle cx="649" cy="724" r="12"/>
<circle cx="666" cy="726" r="8"/>
<circle cx="692" cy="720" r="12"/>
<circle cx="702" cy="728" r="12"/>
<circle cx="730" cy="722" r="9"/>
<circle cx="749" cy="720" r="9"/>
<circle cx="765" cy="722" r="10"/>
<circle cx="779" cy="718" r="11"/>
<circle cx="484" cy="745" r="12"/>
<circle cx="506" cy="740" r="9"/>
<circle cx="523" cy="740" r="12"/>
<circle cx="547" cy="733" r="11"/>
<circle cx="569" cy="742" r="12"/>
<circle cx="588" cy="735" r="10"/>
<circle cx="602" cy="744" r="10"/>
<circle cx="626" cy="743" r="11"/>
<circle cx="642" cy="745" r="12"/>
<circle cx="656" cy="742" r="9"/>
<circle cx="677" cy="745" r="12"/>
<circle cx="695" cy="737" r="11"/>
<circle cx="721" cy="742" r="12"/>
<circle cx="738" cy="743" r="11"/>
<circle cx="752" cy="738" r="10"/>
<circle cx="773" cy="742" r="9"/>
<circle cx="787" cy="741" r="9"/>
<circle cx="811" cy="735" r="12"/>
<circle cx="828" cy="737" r="12"/>
<circle cx="440" cy="755" r="13"/>
<circle cx="462" cy="757" r="9"/>
<circle cx="483" cy="757" r="12"/>
<circle cx="497" cy="759" r="12"/>
<circle cx="516" cy="758" r="12"/>
<circle cx="542" cy="761" r="12"/>
<circle cx="551" cy="757" r="11"/>
<circle cx="569" cy="756" r="12"/>
<circle cx="596" cy="759" r="9"/>
<circle cx="613" cy="760" r="11"/>
<circle cx="629" cy="751" r="12"/>
<circle cx="653" cy="757" r="10"/>
<circle cx="673" cy="759" r="12"/>
<circle cx="688" cy="753" r="10"/>
<circle cx="705" cy="753" r="11"/>
<circle cx="721" cy="757" r="10"/>
<circle cx="740" cy="752" r="10"/>
<circle cx="762" cy="757" r="9"/>
<circle cx="779" cy="752" r="9"/>
<circle cx="803" cy="750" r="8"/>
<circle cx="822" cy="759" r="12"/>
<circle cx="841" cy="754" r="12"/>
<circle cx="434" cy="772" r="11"/>
<circle cx="456" cy="778" r="12"/>
<circle cx="465" cy="770" r="10"/>
<circle cx="483" cy="774" r="9"/>
<circle cx="512" cy="773" r="11"/>
<circle cx="525" cy="777" r="11"/>
<circle cx="550" cy="777" r="11"/>
<circle cx="569" cy="771" r="10"/>
<circle cx="586" cy="772" r="10"/>
<circle cx="603" cy="771" r="9"/>
<circle cx="626" cy="773" r="13"/>
<circle cx="640" cy="776" r="10"/>
<circle cx="656" cy="773" r="12"/>
<circle cx="681" cy="772" r="9"/>
<circle cx="695" cy="766" r="10"/>
<circle cx="721" cy="770" r="11"/>
<circle cx="737" cy="768" r="11"/>
<circle cx="749" cy="768" r="11"/>
<circle cx="768" cy="777" r="10"/>
<circle cx="793" cy="776" r="9"/>
<circle cx="817" cy="767" r="11"/>
<circle cx="831" cy="777" r="10"/>
<circle cx="436" cy="785" r="10"/>
<circle cx="458" cy="788" r="12"/>
<circle cx="476" cy="789" r="8"/>
<circle cx="494" cy="792" r="12"/>
<circle cx="514" cy="782" r="9"/>
<circle cx="534" cy="787" r="11"/>
<circle cx="553" cy="791" r="12"/>
<circle cx="577" cy="791" r="11"/>
<circle cx="589" cy="792" r="10"/>
<circle cx="616" cy="788" r="11"/>
<circle cx="630" cy="790" r="10"/>
<circle cx="650" cy="791" r="10"/>
<circle cx="669" cy="788" r="10"/>
<circle cx="687" cy="789" r="11"/>
<circle cx="703" cy="785" r="12"/>
<circle cx="721" cy="792" r="12"/>
<circle cx="741" cy="789" r="9"/>
<circle cx="767" cy="784" r="9"/>
<circle cx="777" cy="790" r="9"/>
<circle cx="800" cy="794" r="12"/>
<circle cx="823" cy="789" r="11"/>
<circle cx="833" cy="791" r="10"/>
<circle cx="436" cy="805" r="12"/>
<circle cx="443" cy="809" r="9"/>
<circle cx="470" cy="806" r="13"/>
<circle cx="491" cy="811" r="12"/>
<circle cx="505" cy="800" r="9"/>
<circle cx="529" cy="810" r="11"/>
<circle cx="543" cy="806" r="11"/>
<circle cx="560" cy="806" r="9"/>
<circle cx="577" cy="800" r="10"/>
<circle cx="604" cy="801" r="10"/>
<circle cx="623" cy="802" r="11"/>
<circle cx="640" cy="803" r="9"/>
<circle cx="660" cy="806" r="9"/>
<circle cx="682" cy="807" r="12"/>
<circle cx="701" cy="805" r="11"/>
<circle cx="713" cy="806" r="9"/>
<circle cx="734" cy="806" r="12"/>
<circle cx="757" cy="810" r="12"/>
<circle cx="779" cy="806" r="11"/>
<circle cx="792" cy="802" r="12"/>
<circle cx="812" cy="800" r="9"/>
<circle cx="439" cy="822" r="13"/>
<circle cx="456" cy="819" r="11"/>
<circle cx="482" cy="826" r="10"/>
<circle cx="500" cy="817" r="10"/>
<circle cx="520" cy="823" r="10"/>
<circle cx="537" cy="821" r="11"/>
<circle cx="645" cy="822" r="9"/>
<circle cx="666" cy="820" r="10"/>
<circle cx="687" cy="817" r="10"/>
<circle cx="711" cy="824" r="13"/>
<circle cx="730" cy="821" r="10"/>
<circle cx="765" cy="824" r="11"/>
<circle cx="782" cy="820" r="10"/>
<circle cx="800" cy="824" r="9"/>
<circle cx="659" cy="839" r="11"/>
<circle cx="677" cy="836" r="10"/>
<circle cx="692" cy="834" r="10"/>
<circle cx="717" cy="834" r="12"/>
<circle cx="729" cy="833" r="10"/>
<circle cx="650" cy="856" r="11"/>
<circle cx="669" cy="858" r="13"/>
<circle cx="690" cy="849" r="11"/>
<circle cx="709" cy="856" r="12"/>
<circle cx="721" cy="849" r="12"/>
<circle cx="663" cy="867" r="10"/>
<circle cx="684" cy="874" r="12"/>
</g>
<g filter="url(#blur3)" opacity="0.7" fill="#f2946a">
<circle cx="515" cy="691" r="6"/>
<circle cx="536" cy="701" r="7"/>
<circle cx="551" cy="693" r="8"/>
<circle cx="570" cy="698" r="7"/>
<circle cx="596" cy="694" r="8"/>
<circle cx="657" cy="697" r="6"/>
<circle cx="507" cy="709" r="7"/>
<circle cx="525" cy="712" r="7"/>
<circle cx="546" cy="714" r="6"/>
<circle cx="562" cy="709" r="6"/>
<circle cx="585" cy="711" r="8"/>
<circle cx="603" cy="715" r="8"/>
<circle cx="618" cy="708" r="6"/>
<circle cx="640" cy="714" r="8"/>
<circle cx="660" cy="719" r="6"/>
<circle cx="683" cy="709" r="8"/>
<circle cx="693" cy="718" r="8"/>
<circle cx="724" cy="714" r="6"/>
<circle cx="743" cy="713" r="6"/>
<circle cx="757" cy="713" r="7"/>
<circle cx="771" cy="709" r="7"/>
<circle cx="475" cy="735" r="8"/>
<circle cx="500" cy="732" r="6"/>
<circle cx="515" cy="729" r="8"/>
<circle cx="539" cy="724" r="7"/>
<circle cx="560" cy="732" r="8"/>
<circle cx="581" cy="727" r="6"/>
<circle cx="595" cy="735" r="7"/>
<circle cx="618" cy="734" r="7"/>
<circle cx="633" cy="734" r="8"/>
<circle cx="649" cy="734" r="6"/>
<circle cx="668" cy="734" r="8"/>
<circle cx="687" cy="727" r="7"/>
<circle cx="712" cy="731" r="8"/>
<circle cx="730" cy="733" r="7"/>
<circle cx="745" cy="729" r="7"/>
<circle cx="766" cy="734" r="6"/>
<circle cx="780" cy="733" r="6"/>
<circle cx="802" cy="725" r="8"/>
<circle cx="819" cy="727" r="8"/>
<circle cx="431" cy="744" r="8"/>
<circle cx="455" cy="749" r="6"/>
<circle cx="474" cy="747" r="8"/>
<circle cx="488" cy="749" r="8"/>
<circle cx="507" cy="747" r="8"/>
<circle cx="533" cy="750" r="8"/>
<circle cx="542" cy="747" r="8"/>
<circle cx="561" cy="745" r="8"/>
<circle cx="590" cy="752" r="6"/>
<circle cx="605" cy="750" r="7"/>
<circle cx="620" cy="740" r="8"/>
<circle cx="646" cy="748" r="7"/>
<circle cx="664" cy="749" r="8"/>
<circle cx="681" cy="744" r="6"/>
<circle cx="697" cy="744" r="7"/>
<circle cx="713" cy="749" r="7"/>
<circle cx="733" cy="743" r="7"/>
<circle cx="755" cy="750" r="6"/>
<circle cx="772" cy="744" r="6"/>
<circle cx="797" cy="742" r="6"/>
<circle cx="813" cy="748" r="8"/>
<circle cx="832" cy="744" r="8"/>
<circle cx="426" cy="762" r="7"/>
<circle cx="447" cy="768" r="8"/>
<circle cx="457" cy="761" r="7"/>
<circle cx="477" cy="766" r="6"/>
<circle cx="503" cy="763" r="7"/>
<circle cx="517" cy="767" r="7"/>
<circle cx="541" cy="767" r="8"/>
<circle cx="562" cy="763" r="7"/>
<circle cx="579" cy="763" r="6"/>
<circle cx="597" cy="763" r="6"/>
<circle cx="616" cy="762" r="8"/>
<circle cx="633" cy="768" r="6"/>
<circle cx="648" cy="763" r="8"/>
<circle cx="674" cy="765" r="6"/>
<circle cx="688" cy="758" r="7"/>
<circle cx="713" cy="761" r="8"/>
<circle cx="728" cy="758" r="8"/>
<circle cx="741" cy="759" r="7"/>
<circle cx="761" cy="768" r="7"/>
<circle cx="786" cy="769" r="6"/>
<circle cx="809" cy="757" r="7"/>
<circle cx="824" cy="768" r="7"/>
<circle cx="429" cy="776" r="7"/>
<circle cx="450" cy="777" r="8"/>
<circle cx="470" cy="781" r="6"/>
<circle cx="485" cy="781" r="8"/>
<circle cx="507" cy="774" r="6"/>
<circle cx="526" cy="778" r="7"/>
<circle cx="544" cy="780" r="8"/>
<circle cx="569" cy="782" r="7"/>
<circle cx="582" cy="783" r="6"/>
<circle cx="608" cy="778" r="7"/>
<circle cx="623" cy="781" r="7"/>
<circle cx="643" cy="782" r="7"/>
<circle cx="662" cy="779" r="7"/>
<circle cx="678" cy="779" r="8"/>
<circle cx="695" cy="775" r="8"/>
<circle cx="713" cy="782" r="8"/>
<circle cx="734" cy="781" r="6"/>
<circle cx="761" cy="776" r="6"/>
<circle cx="770" cy="782" r="6"/>
<circle cx="791" cy="784" r="8"/>
<circle cx="815" cy="780" r="7"/>
<circle cx="826" cy="783" r="6"/>
<circle cx="427" cy="794" r="8"/>
<circle cx="437" cy="802" r="6"/>
<circle cx="461" cy="795" r="8"/>
<circle cx="482" cy="801" r="8"/>
<circle cx="499" cy="792" r="6"/>
<circle cx="520" cy="801" r="7"/>
<circle cx="535" cy="797" r="7"/>
<circle cx="554" cy="798" r="6"/>
<circle cx="570" cy="791" r="7"/>
<circle cx="597" cy="793" r="7"/>
<circle cx="615" cy="793" r="7"/>
<circle cx="634" cy="795" r="6"/>
<circle cx="654" cy="798" r="6"/>
<circle cx="673" cy="797" r="8"/>
<circle cx="692" cy="795" r="8"/>
<circle cx="707" cy="798" r="6"/>
<circle cx="725" cy="795" r="8"/>
<circle cx="748" cy="800" r="8"/>
<circle cx="770" cy="797" r="7"/>
<circle cx="783" cy="792" r="8"/>
<circle cx="805" cy="792" r="6"/>
<circle cx="429" cy="811" r="8"/>
<circle cx="447" cy="809" r="7"/>
<circle cx="475" cy="817" r="7"/>
<circle cx="493" cy="808" r="7"/>
<circle cx="513" cy="814" r="7"/>
<circle cx="529" cy="812" r="7"/>
<circle cx="639" cy="814" r="6"/>
<circle cx="659" cy="811" r="6"/>
<circle cx="680" cy="808" r="7"/>
<circle cx="702" cy="813" r="8"/>
<circle cx="723" cy="812" r="7"/>
<circle cx="758" cy="814" r="7"/>
<circle cx="775" cy="811" r="7"/>
<circle cx="794" cy="816" r="6"/>
<circle cx="651" cy="829" r="7"/>
<circle cx="670" cy="827" r="6"/>
<circle cx="685" cy="825" r="7"/>
<circle cx="709" cy="824" r="8"/>
<circle cx="722" cy="825" r="7"/>
<circle cx="642" cy="846" r="7"/>
<circle cx="659" cy="847" r="8"/>
<circle cx="682" cy="840" r="7"/>
<circle cx="700" cy="845" r="8"/>
<circle cx="712" cy="839" r="8"/>
<circle cx="656" cy="858" r="7"/>
<circle cx="676" cy="864" r="8"/>
</g>
<g fill="none" stroke="#8e3a22" stroke-width="1" opacity="0.55">
<circle cx="518" cy="695" r="13" stroke-dasharray="32 48" stroke-dashoffset="17"/>
<circle cx="539" cy="705" r="13" stroke-dasharray="33 50" stroke-dashoffset="31"/>
<circle cx="555" cy="697" r="17" stroke-dasharray="43 64" stroke-dashoffset="60"/>
<circle cx="573" cy="701" r="13" stroke-dasharray="33 50" stroke-dashoffset="17"/>
<circle cx="599" cy="698" r="15" stroke-dasharray="38 57" stroke-dashoffset="43"/>
<circle cx="659" cy="700" r="12" stroke-dasharray="31 46" stroke-dashoffset="23"/>
<circle cx="510" cy="713" r="14" stroke-dasharray="34 51" stroke-dashoffset="62"/>
<circle cx="527" cy="716" r="14" stroke-dasharray="34 52" stroke-dashoffset="68"/>
<circle cx="549" cy="718" r="13" stroke-dasharray="32 48" stroke-dashoffset="47"/>
<circle cx="564" cy="712" r="12" stroke-dasharray="29 44" stroke-dashoffset="63"/>
<circle cx="588" cy="715" r="16" stroke-dasharray="40 60" stroke-dashoffset="49"/>
<circle cx="607" cy="719" r="17" stroke-dasharray="42 64" stroke-dashoffset="79"/>
<circle cx="621" cy="711" r="12" stroke-dasharray="30 45" stroke-dashoffset="7"/>
<circle cx="643" cy="717" r="15" stroke-dasharray="39 58" stroke-dashoffset="38"/>
<circle cx="662" cy="722" r="11" stroke-dasharray="28 42" stroke-dashoffset="22"/>
<circle cx="686" cy="713" r="16" stroke-dasharray="41 61" stroke-dashoffset="91"/>
<circle cx="696" cy="722" r="16" stroke-dasharray="39 59" stroke-dashoffset="49"/>
<circle cx="726" cy="717" r="12" stroke-dasharray="30 45" stroke-dashoffset="29"/>
<circle cx="745" cy="716" r="12" stroke-dasharray="29 43" stroke-dashoffset="48"/>
<circle cx="760" cy="716" r="14" stroke-dasharray="35 52" stroke-dashoffset="83"/>
<circle cx="774" cy="712" r="14" stroke-dasharray="36 55" stroke-dashoffset="76"/>
<circle cx="478" cy="738" r="16" stroke-dasharray="39 59" stroke-dashoffset="78"/>
<circle cx="502" cy="735" r="12" stroke-dasharray="31 46" stroke-dashoffset="51"/>
<circle cx="518" cy="733" r="15" stroke-dasharray="39 58" stroke-dashoffset="78"/>
<circle cx="542" cy="727" r="15" stroke-dasharray="37 55" stroke-dashoffset="52"/>
<circle cx="564" cy="736" r="17" stroke-dasharray="42 62" stroke-dashoffset="40"/>
<circle cx="583" cy="730" r="13" stroke-dasharray="32 48" stroke-dashoffset="25"/>
<circle cx="598" cy="738" r="13" stroke-dasharray="33 50" stroke-dashoffset="22"/>
<circle cx="621" cy="737" r="14" stroke-dasharray="35 53" stroke-dashoffset="30"/>
<circle cx="636" cy="738" r="16" stroke-dasharray="39 59" stroke-dashoffset="49"/>
<circle cx="652" cy="737" r="12" stroke-dasharray="31 46" stroke-dashoffset="66"/>
<circle cx="672" cy="738" r="16" stroke-dasharray="40 61" stroke-dashoffset="24"/>
<circle cx="690" cy="731" r="15" stroke-dasharray="37 55" stroke-dashoffset="36"/>
<circle cx="715" cy="735" r="17" stroke-dasharray="42 63" stroke-dashoffset="27"/>
<circle cx="733" cy="737" r="15" stroke-dasharray="37 55" stroke-dashoffset="44"/>
<circle cx="747" cy="732" r="14" stroke-dasharray="35 53" stroke-dashoffset="5"/>
<circle cx="768" cy="737" r="13" stroke-dasharray="32 48" stroke-dashoffset="49"/>
<circle cx="782" cy="736" r="13" stroke-dasharray="32 48" stroke-dashoffset="68"/>
<circle cx="805" cy="729" r="16" stroke-dasharray="40 60" stroke-dashoffset="91"/>
<circle cx="822" cy="731" r="16" stroke-dasharray="40 60" stroke-dashoffset="36"/>
<circle cx="434" cy="748" r="17" stroke-dasharray="42 63" stroke-dashoffset="18"/>
<circle cx="458" cy="752" r="12" stroke-dasharray="31 47" stroke-dashoffset="57"/>
<circle cx="477" cy="751" r="16" stroke-dasharray="40 60" stroke-dashoffset="76"/>
<circle cx="491" cy="753" r="16" stroke-dasharray="40 59" stroke-dashoffset="19"/>
<circle cx="510" cy="751" r="16" stroke-dasharray="39 59" stroke-dashoffset="6"/>
<circle cx="536" cy="754" r="16" stroke-dasharray="40 59" stroke-dashoffset="66"/>
<circle cx="545" cy="751" r="15" stroke-dasharray="38 57" stroke-dashoffset="36"/>
<circle cx="564" cy="749" r="16" stroke-dasharray="41 61" stroke-dashoffset="53"/>
<circle cx="592" cy="754" r="12" stroke-dasharray="29 44" stroke-dashoffset="41"/>
<circle cx="608" cy="754" r="15" stroke-dasharray="37 56" stroke-dashoffset="83"/>
<circle cx="623" cy="744" r="17" stroke-dasharray="42 62" stroke-dashoffset="13"/>
<circle cx="649" cy="751" r="13" stroke-dasharray="33 50" stroke-dashoffset="22"/>
<circle cx="667" cy="753" r="15" stroke-dasharray="39 58" stroke-dashoffset="3"/>
<circle cx="684" cy="748" r="13" stroke-dasharray="32 48" stroke-dashoffset="55"/>
<circle cx="700" cy="748" r="14" stroke-dasharray="35 53" stroke-dashoffset="7"/>
<circle cx="716" cy="752" r="13" stroke-dasharray="33 49" stroke-dashoffset="70"/>
<circle cx="736" cy="747" r="13" stroke-dasharray="34 50" stroke-dashoffset="51"/>
<circle cx="758" cy="753" r="12" stroke-dasharray="29 44" stroke-dashoffset="37"/>
<circle cx="774" cy="747" r="12" stroke-dasharray="30 45" stroke-dashoffset="20"/>
<circle cx="799" cy="745" r="11" stroke-dasharray="28 43" stroke-dashoffset="62"/>
<circle cx="816" cy="752" r="16" stroke-dasharray="40 60" stroke-dashoffset="11"/>
<circle cx="835" cy="748" r="16" stroke-dasharray="41 61" stroke-dashoffset="59"/>
<circle cx="429" cy="766" r="14" stroke-dasharray="36 54" stroke-dashoffset="75"/>
<circle cx="450" cy="772" r="17" stroke-dasharray="42 63" stroke-dashoffset="69"/>
<circle cx="460" cy="764" r="13" stroke-dasharray="34 51" stroke-dashoffset="4"/>
<circle cx="479" cy="769" r="11" stroke-dasharray="29 43" stroke-dashoffset="8"/>
<circle cx="506" cy="767" r="15" stroke-dasharray="37 55" stroke-dashoffset="26"/>
<circle cx="520" cy="771" r="14" stroke-dasharray="36 55" stroke-dashoffset="66"/>
<circle cx="545" cy="771" r="15" stroke-dasharray="38 57" stroke-dashoffset="13"/>
<circle cx="565" cy="766" r="13" stroke-dasharray="33 50" stroke-dashoffset="79"/>
<circle cx="582" cy="766" r="13" stroke-dasharray="32 48" stroke-dashoffset="72"/>
<circle cx="599" cy="766" r="12" stroke-dasharray="30 44" stroke-dashoffset="42"/>
<circle cx="620" cy="766" r="17" stroke-dasharray="42 63" stroke-dashoffset="93"/>
<circle cx="635" cy="771" r="13" stroke-dasharray="32 48" stroke-dashoffset="51"/>
<circle cx="651" cy="766" r="16" stroke-dasharray="39 59" stroke-dashoffset="16"/>
<circle cx="677" cy="768" r="12" stroke-dasharray="30 44" stroke-dashoffset="30"/>
<circle cx="691" cy="761" r="13" stroke-dasharray="33 50" stroke-dashoffset="2"/>
<circle cx="716" cy="764" r="15" stroke-dasharray="38 57" stroke-dashoffset="42"/>
<circle cx="731" cy="762" r="15" stroke-dasharray="38 57" stroke-dashoffset="94"/>
<circle cx="744" cy="763" r="14" stroke-dasharray="36 55" stroke-dashoffset="37"/>
<circle cx="764" cy="771" r="14" stroke-dasharray="34 51" stroke-dashoffset="57"/>
<circle cx="788" cy="771" r="12" stroke-dasharray="29 44" stroke-dashoffset="26"/>
<circle cx="812" cy="761" r="15" stroke-dasharray="37 55" stroke-dashoffset="62"/>
<circle cx="827" cy="772" r="13" stroke-dasharray="33 50" stroke-dashoffset="28"/>
<circle cx="432" cy="780" r="13" stroke-dasharray="33 50" stroke-dashoffset="76"/>
<circle cx="453" cy="781" r="16" stroke-dasharray="40 60" stroke-dashoffset="41"/>
<circle cx="472" cy="784" r="11" stroke-dasharray="28 42" stroke-dashoffset="19"/>
<circle cx="488" cy="785" r="16" stroke-dasharray="41 62" stroke-dashoffset="44"/>
<circle cx="509" cy="777" r="12" stroke-dasharray="31 47" stroke-dashoffset="6"/>
<circle cx="529" cy="781" r="14" stroke-dasharray="36 54" stroke-dashoffset="30"/>
<circle cx="547" cy="784" r="16" stroke-dasharray="39 59" stroke-dashoffset="73"/>
<circle cx="572" cy="785" r="15" stroke-dasharray="36 55" stroke-dashoffset="37"/>
<circle cx="585" cy="787" r="13" stroke-dasharray="32 48" stroke-dashoffset="36"/>
<circle cx="611" cy="782" r="15" stroke-dasharray="37 56" stroke-dashoffset="22"/>
<circle cx="625" cy="784" r="13" stroke-dasharray="33 49" stroke-dashoffset="68"/>
<circle cx="645" cy="785" r="13" stroke-dasharray="33 50" stroke-dashoffset="73"/>
<circle cx="665" cy="782" r="14" stroke-dasharray="35 52" stroke-dashoffset="36"/>
<circle cx="681" cy="783" r="15" stroke-dasharray="38 58" stroke-dashoffset="0"/>
<circle cx="698" cy="779" r="16" stroke-dasharray="40 60" stroke-dashoffset="43"/>
<circle cx="716" cy="786" r="16" stroke-dasharray="39 59" stroke-dashoffset="85"/>
<circle cx="736" cy="784" r="13" stroke-dasharray="31 47" stroke-dashoffset="51"/>
<circle cx="763" cy="779" r="12" stroke-dasharray="29 44" stroke-dashoffset="17"/>
<circle cx="772" cy="785" r="12" stroke-dasharray="31 46" stroke-dashoffset="8"/>
<circle cx="794" cy="788" r="15" stroke-dasharray="39 58" stroke-dashoffset="86"/>
<circle cx="818" cy="784" r="15" stroke-dasharray="37 56" stroke-dashoffset="7"/>
<circle cx="829" cy="786" r="13" stroke-dasharray="33 49" stroke-dashoffset="50"/>
<circle cx="430" cy="798" r="16" stroke-dasharray="41 62" stroke-dashoffset="62"/>
<circle cx="439" cy="805" r="12" stroke-dasharray="29 44" stroke-dashoffset="13"/>
<circle cx="464" cy="799" r="17" stroke-dasharray="43 64" stroke-dashoffset="47"/>
<circle cx="485" cy="805" r="16" stroke-dasharray="41 62" stroke-dashoffset="89"/>
<circle cx="501" cy="795" r="12" stroke-dasharray="30 45" stroke-dashoffset="74"/>
<circle cx="523" cy="804" r="15" stroke-dasharray="38 57" stroke-dashoffset="7"/>
<circle cx="538" cy="800" r="15" stroke-dasharray="38 56" stroke-dashoffset="3"/>
<circle cx="556" cy="801" r="12" stroke-dasharray="31 46" stroke-dashoffset="20"/>
<circle cx="573" cy="794" r="14" stroke-dasharray="35 53" stroke-dashoffset="4"/>
<circle cx="599" cy="796" r="13" stroke-dasharray="34 50" stroke-dashoffset="78"/>
<circle cx="618" cy="796" r="14" stroke-dasharray="36 53" stroke-dashoffset="7"/>
<circle cx="636" cy="798" r="12" stroke-dasharray="31 46" stroke-dashoffset="28"/>
<circle cx="656" cy="801" r="12" stroke-dasharray="30 46" stroke-dashoffset="65"/>
<circle cx="677" cy="801" r="16" stroke-dasharray="41 61" stroke-dashoffset="47"/>
<circle cx="695" cy="799" r="15" stroke-dasharray="38 58" stroke-dashoffset="22"/>
<circle cx="709" cy="801" r="11" stroke-dasharray="29 43" stroke-dashoffset="5"/>
<circle cx="728" cy="799" r="16" stroke-dasharray="41 62" stroke-dashoffset="23"/>
<circle cx="751" cy="804" r="16" stroke-dasharray="41 61" stroke-dashoffset="32"/>
<circle cx="773" cy="801" r="15" stroke-dasharray="37 55" stroke-dashoffset="78"/>
<circle cx="787" cy="796" r="16" stroke-dasharray="40 59" stroke-dashoffset="43"/>
<circle cx="807" cy="795" r="12" stroke-dasharray="31 47" stroke-dashoffset="43"/>
<circle cx="433" cy="815" r="17" stroke-dasharray="43 64" stroke-dashoffset="28"/>
<circle cx="450" cy="813" r="15" stroke-dasharray="37 55" stroke-dashoffset="37"/>
<circle cx="477" cy="821" r="13" stroke-dasharray="34 50" stroke-dashoffset="78"/>
<circle cx="496" cy="811" r="13" stroke-dasharray="33 50" stroke-dashoffset="10"/>
<circle cx="516" cy="818" r="14" stroke-dasharray="34 52" stroke-dashoffset="60"/>
<circle cx="532" cy="816" r="14" stroke-dasharray="36 54" stroke-dashoffset="28"/>
<circle cx="641" cy="817" r="11" stroke-dasharray="29 43" stroke-dashoffset="30"/>
<circle cx="662" cy="814" r="13" stroke-dasharray="32 49" stroke-dashoffset="58"/>
<circle cx="682" cy="812" r="14" stroke-dasharray="35 53" stroke-dashoffset="31"/>
<circle cx="705" cy="817" r="17" stroke-dasharray="42 63" stroke-dashoffset="52"/>
<circle cx="726" cy="815" r="14" stroke-dasharray="35 52" stroke-dashoffset="42"/>
<circle cx="760" cy="818" r="14" stroke-dasharray="35 53" stroke-dashoffset="43"/>
<circle cx="778" cy="815" r="14" stroke-dasharray="34 52" stroke-dashoffset="6"/>
<circle cx="796" cy="819" r="12" stroke-dasharray="30 45" stroke-dashoffset="29"/>
<circle cx="654" cy="833" r="14" stroke-dasharray="36 55" stroke-dashoffset="35"/>
<circle cx="672" cy="831" r="13" stroke-dasharray="33 49" stroke-dashoffset="34"/>
<circle cx="688" cy="829" r="14" stroke-dasharray="35 52" stroke-dashoffset="25"/>
<circle cx="712" cy="828" r="16" stroke-dasharray="40 61" stroke-dashoffset="45"/>
<circle cx="725" cy="828" r="14" stroke-dasharray="34 52" stroke-dashoffset="64"/>
<circle cx="645" cy="850" r="15" stroke-dasharray="37 56" stroke-dashoffset="7"/>
<circle cx="663" cy="851" r="17" stroke-dasharray="43 64" stroke-dashoffset="8"/>
<circle cx="685" cy="844" r="15" stroke-dasharray="37 56" stroke-dashoffset="50"/>
<circle cx="703" cy="849" r="17" stroke-dasharray="42 63" stroke-dashoffset="60"/>
<circle cx="715" cy="843" r="15" stroke-dasharray="39 58" stroke-dashoffset="77"/>
<circle cx="658" cy="861" r="14" stroke-dasharray="35 52" stroke-dashoffset="3"/>
<circle cx="679" cy="868" r="16" stroke-dasharray="39 59" stroke-dashoffset="1"/>
</g></g>
<path d="M426.0,780.0 C426.7,774.7 428.3,764.7 432.0,760.0 C435.7,755.3 442.0,752.3 448.0,752.0 C454.0,751.7 462.0,758.7 468.0,758.0 C474.0,757.3 477.3,750.0 484.0,748.0 C490.7,746.0 502.3,747.3 508.0,746.0 C513.7,744.7 516.7,745.7 518.0,740.0 C519.3,734.3 515.0,718.3 516.0,712.0 C517.0,705.7 518.7,704.0 524.0,702.0 C529.3,700.0 540.0,699.7 548.0,700.0 C556.0,700.3 565.3,702.7 572.0,704.0 C578.7,705.3 582.7,706.0 588.0,708.0 C593.3,710.0 598.7,714.3 604.0,716.0 C609.3,717.7 614.7,718.7 620.0,718.0 C625.3,717.3 630.0,713.3 636.0,712.0 C642.0,710.7 650.7,709.7 656.0,710.0 C661.3,710.3 663.3,712.3 668.0,714.0 C672.7,715.7 678.7,718.3 684.0,720.0 C689.3,721.7 694.0,723.7 700.0,724.0 C706.0,724.3 713.3,722.0 720.0,722.0 C726.7,722.0 732.7,724.0 740.0,724.0 C747.3,724.0 757.3,722.0 764.0,722.0 C770.7,722.0 774.0,722.3 780.0,724.0 C786.0,725.7 793.3,728.7 800.0,732.0 C806.7,735.3 814.7,739.3 820.0,744.0 C825.3,748.7 830.7,754.7 832.0,760.0 C833.3,765.3 830.7,772.0 828.0,776.0 C825.3,780.0 820.0,780.7 816.0,784.0 C812.0,787.3 808.0,792.0 804.0,796.0 C800.0,800.0 796.7,805.3 792.0,808.0 C787.3,810.7 781.3,812.0 776.0,812.0 C770.7,812.0 766.0,810.0 760.0,808.0 C754.0,806.0 746.0,802.0 740.0,800.0 C734.0,798.0 728.3,795.3 724.0,796.0 C719.7,796.7 715.7,800.0 714.0,804.0 C712.3,808.0 714.3,814.7 714.0,820.0 C713.7,825.3 714.3,832.0 712.0,836.0 C709.7,840.0 704.7,842.7 700.0,844.0 C695.3,845.3 688.0,842.7 684.0,844.0 C680.0,845.3 678.0,850.0 676.0,852.0 C674.0,854.0 674.7,855.3 672.0,856.0 C669.3,856.7 662.7,858.0 660.0,856.0 C657.3,854.0 657.3,850.0 656.0,844.0 C654.7,838.0 652.0,826.0 652.0,820.0 C652.0,814.0 657.3,811.8 656.0,808.0 C654.7,804.2 648.0,799.3 644.0,797.0 C640.0,794.7 635.3,796.8 632.0,794.0 C628.7,791.2 626.7,782.7 624.0,780.0 C621.3,777.3 618.3,776.5 616.0,778.0 C613.7,779.5 614.0,786.8 610.0,789.0 C606.0,791.2 596.8,791.0 592.0,791.0 C587.2,791.0 583.7,791.7 581.0,789.0 C578.3,786.3 578.5,777.7 576.0,775.0 C573.5,772.3 568.5,769.3 566.0,773.0 C563.5,776.7 564.5,792.5 561.0,797.0 C557.5,801.5 550.5,799.7 545.0,800.0 C539.5,800.3 532.2,797.5 528.0,799.0 C523.8,800.5 524.7,806.7 520.0,809.0 C515.3,811.3 506.7,812.2 500.0,813.0 C493.3,813.8 486.7,814.2 480.0,814.0 C473.3,813.8 466.7,814.0 460.0,812.0 C453.3,810.0 445.3,805.3 440.0,802.0 C434.7,798.7 430.3,795.7 428.0,792.0 C425.7,788.3 425.3,785.3 426.0,780.0Z" fill="none" stroke="#8e3a22" stroke-width="1.4" stroke-opacity="0.9"/>
<defs><linearGradient id="cRight" x1="0" y1="0" x2="1" y2="0"><stop offset="0" stop-color="#f2a070" stop-opacity="0"/><stop offset="1" stop-color="#f2a070" stop-opacity="0.35"/></linearGradient></defs>
<rect x="640" y="690" width="200" height="170" fill="url(#cRight)" clip-path="url(#clp6)"/>
<ellipse cx="745" cy="748" rx="9" ry="14" fill="#8a3322" opacity="0.55" transform="rotate(-25 745 748)"/>
<ellipse cx="790" cy="758" rx="8" ry="13" fill="#8a3322" opacity="0.55" transform="rotate(-25 790 758)"/>
<ellipse cx="640" cy="745" rx="7" ry="12" fill="#8a3322" opacity="0.55" transform="rotate(-25 640 745)"/>
<ellipse cx="695" cy="745" rx="7" ry="12" fill="#8a3322" opacity="0.55" transform="rotate(-25 695 745)"/>
<polyline points="450.0,775.0 470.0,780.0 490.0,790.0 505.0,785.0 520.0,782.0 535.0,778.0 550.0,770.0 565.0,760.0 575.0,752.0 590.0,748.0 600.0,755.0 615.0,760.0 630.0,752.0 650.0,756.0 665.0,765.0 680.0,768.0 690.0,760.0 705.0,752.0 720.0,755.0 740.0,762.0 755.0,760.0 770.0,752.0 785.0,748.0 800.0,752.0 815.0,748.0 822.0,740.0" fill="none" stroke="#7b8388" stroke-width="1.6" stroke-linejoin="round" stroke-linecap="round" />
<polyline points="590.0,1016.0 600.0,1005.0 610.0,990.0 615.0,970.0 622.0,950.0 630.0,930.0 640.0,912.0 650.0,900.0 660.0,895.0 670.0,888.0" fill="none" stroke="#7b8388" stroke-width="1.4" stroke-linejoin="round" stroke-linecap="round" />
<path d="M634,1016 C626,1024 606,1026 600,1038 C596,1048 604,1054 614,1060 C622,1065 624,1072 623,1078" fill="none" stroke="#676f75" stroke-width="3.8" stroke-linecap="round"/>
<line x1="842.8" y1="704.8" x2="842.8" y2="811.2" stroke="#464b50" stroke-width="2.2" />
<line x1="834.8" y1="704.8" x2="850.8" y2="704.8" stroke="#464b50" stroke-width="2.2" />
<line x1="834.8" y1="811.2" x2="850.8" y2="811.2" stroke="#464b50" stroke-width="2.2" />
<text transform="translate(712,712.8) scale(1,1.04)" font-size="18.4" text-anchor="start" fill="#000" font-weight="normal" >Extracellular</text>
<line x1="588.0" y1="790.0" x2="552.0" y2="858.0" stroke="#464b50" stroke-width="2.2" />
<line x1="582.0" y1="787.0" x2="594.0" y2="793.0" stroke="#464b50" stroke-width="2.2" />
<line x1="546.0" y1="855.0" x2="558.0" y2="861.0" stroke="#464b50" stroke-width="2.2" />
<line x1="568.0" y1="826.0" x2="482.0" y2="859.2" stroke="#464b50" stroke-width="2.2" />
<line x1="721.4" y1="861.9" x2="674.3" y2="1028.1" stroke="#464b50" stroke-width="2.2" />
<line x1="714.6" y1="860.9" x2="729.0" y2="865.7" stroke="#464b50" stroke-width="2.2" />
<line x1="665.6" y1="1026.2" x2="680.0" y2="1030.6" stroke="#464b50" stroke-width="2.2" />
<text transform="translate(686,1036) scale(1,1.04)" font-size="18.3" text-anchor="start" fill="#000" font-weight="normal" >Intracellular</text>
<text x="0" y="0" font-size="18.6" fill="#000" transform="translate(460.5,859) rotate(63)">Transmembranous</text>
<text transform="translate(885.5,641.6) scale(1,1.04)" font-size="25" text-anchor="start" fill="#231f20" font-weight="bold" >D</text>
<text transform="translate(1035.5,650.3) scale(1,1.04)" font-size="21.2" text-anchor="middle" fill="#000" font-weight="normal" >HYOU1</text>
<text transform="translate(962.1,681) scale(1,1.04)" font-size="16.9" text-anchor="start" fill="#000" font-weight="normal" >Isoform 1</text>
<text transform="translate(962.1,700.7) scale(1,1.04)" font-size="16.9" text-anchor="start" fill="#000" font-weight="normal" >unique peptides</text>
<polyline points="953.2,746.7 954.6,749.0 955.4,751.2 955.5,752.8 955.1,753.5 954.3,753.3 953.3,752.0 952.4,749.9 951.8,747.3 951.6,744.5 952.1,741.8 953.2,739.7 954.9,738.5 957.0,738.2 959.2,739.0 961.4,740.6 963.2,742.7 964.6,745.0 965.4,747.2 965.5,748.8 965.1,749.5 964.3,749.3 963.3,748.0 962.4,745.9 961.8,743.3 961.6,740.5 962.1,737.8 963.2,735.7 964.9,734.5 967.0,734.2 969.2,735.0 971.4,736.6 973.2,738.7 974.6,741.0 975.4,743.2 975.5,744.8 975.1,745.5 974.3,745.3 973.3,744.0 972.4,741.9 971.8,739.3 971.6,736.5 972.1,733.8 973.2,731.7 974.9,730.5 977.0,730.2 979.2,731.0 981.4,732.6 983.2,734.7 984.6,737.0 985.4,739.2 985.5,740.8 985.1,741.5 984.3,741.3 983.3,740.0 982.4,737.9 981.8,735.3 981.6,732.5 982.1,729.8 983.2,727.7 984.9,726.5 987.0,726.2 989.2,727.0 991.4,728.6 993.2,730.7 994.6,733.0 995.4,735.2 995.5,736.8 995.1,737.5 994.3,737.3 993.3,736.0 992.4,733.9 991.8,731.3 991.6,728.5 992.1,725.8 993.2,723.7 994.9,722.5 997.0,722.2 999.2,723.0 1001.4,724.6 1003.2,726.7 1004.6,729.0 1005.4,731.2 1005.5,732.8 1005.1,733.5 1004.3,733.3 1003.3,732.0 1002.4,729.9 1001.8,727.3 1001.6,724.5 1002.1,721.8 1003.2,719.7 1004.9,718.5 1007.0,718.2 1009.2,719.0 1011.4,720.6 1013.2,722.7 1014.6,725.0 1015.4,727.2 1015.5,728.8 1015.1,729.5 1014.3,729.3 1013.3,728.0 1012.4,725.9 1011.8,723.3 1011.6,720.5 1012.1,717.8 1013.2,715.7 1014.9,714.5 1017.0,714.2 1019.2,715.0 1021.4,716.6 1023.2,718.7" fill="none" stroke="#5f6a71" stroke-width="2.6" stroke-linejoin="round" stroke-linecap="round" />
<polyline points="966.0,771.8 966.5,774.0 966.5,776.0 966.1,777.3 965.6,777.8 964.9,777.4 964.4,776.2 964.1,774.2 964.2,771.9 964.8,769.6 965.9,767.5 967.3,766.1 968.9,765.5 970.6,765.9 972.2,767.1 973.5,768.9 974.4,771.1 974.9,773.4 974.9,775.4 974.6,776.7 974.0,777.2 973.4,776.8 972.8,775.5 972.6,773.6 972.7,771.3 973.3,768.9 974.3,766.9 975.7,765.5 977.3,764.9 979.1,765.2 980.6,766.4 982.0,768.3 982.9,770.5 983.4,772.8 983.4,774.7 983.1,776.0 982.5,776.6 981.8,776.1 981.3,774.9 981.0,772.9 981.1,770.6 981.7,768.3 982.8,766.3 984.2,764.8 985.8,764.3 987.5,764.6 989.1,765.8 990.4,767.6 991.4,769.9 991.8,772.1 991.9,774.1 991.5,775.4 990.9,775.9 990.3,775.5 989.7,774.2 989.5,772.3 989.6,770.0 990.2,767.7 991.2,765.6 992.6,764.2 994.3,763.6 996.0,764.0 997.6,765.1 998.9,767.0 999.8,769.2 1000.3,771.5 1000.3,773.4 1000.0,774.8 999.4,775.3 998.7,774.9 998.2,773.6 997.9,771.7 998.1,769.4 998.6,767.0 999.7,765.0 1001.1,763.6 1002.7,763.0 1004.4,763.3 1006.0,764.5 1007.3,766.4 1008.3,768.6 1008.7,770.9 1008.8,772.8 1008.4,774.1 1007.8,774.6 1007.2,774.2 1006.6,773.0 1006.4,771.0 1006.5,768.7 1007.1,766.4 1008.1,764.3 1009.5,762.9 1011.2,762.4 1012.9,762.7 1014.5,763.9 1015.8,765.7 1016.7,768.0 1017.2,770.2 1017.2,772.2 1016.9,773.5 1016.3,774.0 1015.6,773.6 1015.1,772.3 1014.8,770.4 1015.0,768.1 1015.5,765.7 1016.6,763.7 1018.0,762.3 1019.6,761.7 1021.3,762.1 1022.9,763.2 1024.2,765.1 1025.2,767.3 1025.6,769.6 1025.7,771.5 1025.3,772.9 1024.7,773.4 1024.1,773.0 1023.6,771.7 1023.3,769.8 1023.4,767.5 1024.0,765.1 1025.0,763.1 1026.4,761.7 1028.1,761.1 1029.8,761.4 1031.4,762.6 1032.7,764.5 1033.6,766.7 1034.1,769.0 1034.1,770.9 1033.8,772.2 1033.2,772.7 1032.5,772.3 1032.0,771.1 1031.7,769.1 1031.9,766.8 1032.5,764.5 1033.5,762.4 1034.9,761.0 1036.5,760.4 1038.2,760.8 1039.8,762.0 1041.2,763.8 1042.1,766.0 1042.6,768.3 1042.6,770.3 1042.2,771.6 1041.7,772.1 1041.0,771.7 1040.5,770.4 1040.2,768.5 1040.3,766.2 1040.9,763.8 1041.9,761.8 1043.3,760.4 1045.0,759.8 1046.7,760.1 1048.3,761.3 1049.6,763.2 1050.5,765.4 1051.0,767.7 1051.0,769.6 1050.7,771.0 1050.1,771.5 1049.5,771.1 1048.9,769.8 1048.7,767.9 1048.8,765.5 1049.4,763.2 1050.4,761.2 1051.8,759.8 1053.4,759.2 1055.1,759.5 1056.7,760.7 1058.1,762.5 1059.0,764.8" fill="none" stroke="#5f6a71" stroke-width="2.6" stroke-linejoin="round" stroke-linecap="round" />
<polyline points="918.5,780.5 917.0,782.8 915.5,784.5 914.2,785.4 913.5,785.4 913.6,784.7 914.4,783.4 916.1,781.9 918.4,780.4 921.1,779.3 923.8,778.8 926.3,779.1 928.3,780.3 929.4,782.2 929.8,784.7 929.3,787.4 928.3,790.1 926.8,792.4 925.3,794.1 924.0,795.0 923.3,795.1 923.3,794.3 924.2,793.1 925.9,791.5 928.2,790.0 930.9,788.9 933.6,788.4 936.1,788.8 938.0,789.9 939.2,791.9 939.6,794.3 939.1,797.1 938.0,799.8 936.6,802.1 935.1,803.8 933.8,804.7 933.1,804.7 933.1,804.0 934.0,802.7 935.7,801.2 938.0,799.7 940.6,798.6 943.4,798.1 945.9,798.4 947.8,799.6 949.0,801.5 949.4,804.0 948.9,806.8 947.8,809.5 946.4,811.8 944.8,813.5 943.6,814.4 942.9,814.4 942.9,813.7 943.8,812.4 945.4,810.9 947.7,809.4 950.4,808.3 953.2,807.8 955.6,808.1 957.6,809.3 958.8,811.2 959.1,813.7 958.7,816.4 957.6,819.1 956.1,821.4 954.6,823.1 953.4,824.0 952.6,824.1 952.7,823.3 953.5,822.1 955.2,820.5 957.5,819.0 960.2,817.9 962.9,817.4 965.4,817.8 967.4,818.9 968.6,820.9 968.9,823.3 968.5,826.1 967.4,828.8 965.9,831.1 964.4,832.8 963.1,833.7 962.4,833.7 962.4,833.0 963.3,831.7 965.0,830.2 967.3,828.7 970.0,827.6 972.7,827.1 975.2,827.4 977.1,828.6 978.3,830.5 978.7,833.0 978.2,835.8 977.2,838.5 975.7,840.8 974.2,842.5 972.9,843.4 972.2,843.4 972.2,842.7 973.1,841.4 974.8,839.9 977.1,838.4 979.8,837.3 982.5,836.8 985.0,837.1 986.9,838.3 988.1,840.2 988.5,842.7 988.0,845.4 986.9,848.1 985.5,850.4 983.9,852.1 982.7,853.0 982.0,853.1 982.0,852.3 982.9,851.1 984.5,849.5 986.8,848.0 989.5,846.9 992.3,846.4 994.8,846.8 996.7,847.9 997.9,849.9 998.2,852.3 997.8,855.1 996.7,857.8 995.2,860.1 993.7,861.8 992.5,862.7 991.7,862.7 991.8,862.0 992.6,860.7 994.3,859.2 996.6,857.7 999.3,856.6 1002.1,856.1 1004.5,856.4 1006.5,857.6 1007.7,859.5 1008.0,862.0 1007.6,864.8 1006.5,867.5" fill="none" stroke="#5f6a71" stroke-width="2.6" stroke-linejoin="round" stroke-linecap="round" />
<polyline points="915.0,772.0 920.0,790.0 930.0,805.0 935.0,820.0 945.0,826.0 950.0,840.0" fill="none" stroke="#6a747a" stroke-width="1.2" stroke-linejoin="round" stroke-linecap="round" />
<polyline points="1020.0,715.0 1035.0,712.0 1040.0,728.0 1045.0,740.0" fill="none" stroke="#6a747a" stroke-width="1.2" stroke-linejoin="round" stroke-linecap="round" />
<path d="M1120.0,808.0 C1122.0,808.3 1128.3,810.3 1132.0,810.0 C1135.7,809.7 1139.0,807.2 1142.0,806.0 C1145.0,804.8 1147.0,805.3 1150.0,803.0 C1153.0,800.7 1157.0,795.8 1160.0,792.0 C1163.0,788.2 1165.7,784.0 1168.0,780.0 C1170.3,776.0 1172.0,771.3 1174.0,768.0 C1176.0,764.7 1178.0,761.8 1180.0,760.0 C1182.0,758.2 1184.7,758.3 1186.0,757.0 C1187.3,755.7 1187.7,752.8 1188.0,752.0" fill="none" stroke="#6a747a" stroke-width="1.8" stroke-linecap="round" />
<path d="M1146.0,830.0 C1147.0,828.3 1149.7,823.0 1152.0,820.0 C1154.3,817.0 1157.7,815.3 1160.0,812.0 C1162.3,808.7 1164.0,803.7 1166.0,800.0 C1168.0,796.3 1170.3,793.7 1172.0,790.0 C1173.7,786.3 1174.3,782.0 1176.0,778.0 C1177.7,774.0 1180.0,769.3 1182.0,766.0 C1184.0,762.7 1187.0,759.3 1188.0,758.0" fill="none" stroke="#6a747a" stroke-width="1.8" stroke-linecap="round" />
<polyline points="900.0,957.0 895.0,975.0 905.0,990.0 925.0,1000.0 935.0,1012.0 925.0,1020.0 930.0,1025.0" fill="none" stroke="#6a747a" stroke-width="1.2" stroke-linejoin="round" stroke-linecap="round" />
<clipPath id="clp7"><path d="M884.7,936.3 C885.2,930.2 888.2,922.0 892.9,916.5 C897.6,911.0 905.0,906.1 912.7,903.4 C920.4,900.7 930.3,899.6 939.1,900.1 C947.9,900.6 956.6,906.1 965.4,906.6 C974.2,907.1 984.6,902.3 991.8,903.4 C998.9,904.5 1004.4,908.3 1008.3,913.2 C1012.1,918.1 1015.4,927.5 1014.9,933.0 C1014.4,938.5 1010.0,943.5 1005.0,946.2 C1000.0,949.0 992.9,949.5 985.2,949.5 C977.5,949.5 966.5,946.2 958.8,946.2 C951.1,946.2 943.5,946.2 939.1,949.5 C934.7,952.8 935.8,962.7 932.5,966.0 C929.2,969.3 924.2,969.8 919.3,969.3 C914.3,968.8 907.7,965.5 902.8,962.7 C897.9,960.0 892.7,957.2 889.7,952.8 C886.7,948.4 884.2,942.3 884.7,936.3Z"/></clipPath>
<circle cx="895.5" cy="929.2" r="13.2" fill="#939f6a"/>
<circle cx="906.8" cy="916.0" r="13.2" fill="#939f6a"/>
<circle cx="926.8" cy="908.9" r="13.2" fill="#939f6a"/>
<circle cx="950.5" cy="910.3" r="13.2" fill="#939f6a"/>
<circle cx="979.5" cy="912.1" r="13.2" fill="#939f6a"/>
<circle cx="996.5" cy="914.2" r="12.7" fill="#939f6a"/>
<circle cx="1004.8" cy="925.4" r="13.2" fill="#939f6a"/>
<circle cx="1005.2" cy="936.0" r="11.1" fill="#939f6a"/>
<circle cx="993.9" cy="940.7" r="13.2" fill="#939f6a"/>
<circle cx="972.9" cy="940.7" r="13.2" fill="#939f6a"/>
<circle cx="947.8" cy="940.8" r="13.2" fill="#939f6a"/>
<circle cx="929.9" cy="955.4" r="11.9" fill="#939f6a"/>
<circle cx="924.7" cy="962.9" r="9.4" fill="#939f6a"/>
<circle cx="913.4" cy="960.1" r="11.9" fill="#939f6a"/>
<circle cx="899.8" cy="953.0" r="11.1" fill="#939f6a"/>
<circle cx="893.1" cy="942.8" r="11.5" fill="#939f6a"/>
<circle cx="895.5" cy="929.2" r="12.0" fill="url(#s_gl)"/>
<circle cx="906.8" cy="916.0" r="12.0" fill="url(#s_gl)"/>
<circle cx="926.8" cy="908.9" r="12.0" fill="url(#s_gl)"/>
<circle cx="950.5" cy="910.3" r="12.0" fill="url(#s_gl)"/>
<circle cx="979.5" cy="912.1" r="12.0" fill="url(#s_gl)"/>
<circle cx="996.5" cy="914.2" r="11.5" fill="url(#s_gl)"/>
<circle cx="1004.8" cy="925.4" r="12.0" fill="url(#s_gl)"/>
<circle cx="1005.2" cy="936.0" r="9.9" fill="url(#s_gl)"/>
<circle cx="993.9" cy="940.7" r="12.0" fill="url(#s_gl)"/>
<circle cx="972.9" cy="940.7" r="12.0" fill="url(#s_gl)"/>
<circle cx="947.8" cy="940.8" r="12.0" fill="url(#s_gl)"/>
<circle cx="929.9" cy="955.4" r="10.7" fill="url(#s_gl)"/>
<circle cx="924.7" cy="962.9" r="8.2" fill="url(#s_gl)"/>
<circle cx="913.4" cy="960.1" r="10.7" fill="url(#s_gl)"/>
<circle cx="899.8" cy="953.0" r="9.9" fill="url(#s_gl)"/>
<circle cx="893.1" cy="942.8" r="10.3" fill="url(#s_gl)"/>
<path d="M884.7,936.3 C885.2,930.2 888.2,922.0 892.9,916.5 C897.6,911.0 905.0,906.1 912.7,903.4 C920.4,900.7 930.3,899.6 939.1,900.1 C947.9,900.6 956.6,906.1 965.4,906.6 C974.2,907.1 984.6,902.3 991.8,903.4 C998.9,904.5 1004.4,908.3 1008.3,913.2 C1012.1,918.1 1015.4,927.5 1014.9,933.0 C1014.4,938.5 1010.0,943.5 1005.0,946.2 C1000.0,949.0 992.9,949.5 985.2,949.5 C977.5,949.5 966.5,946.2 958.8,946.2 C951.1,946.2 943.5,946.2 939.1,949.5 C934.7,952.8 935.8,962.7 932.5,966.0 C929.2,969.3 924.2,969.8 919.3,969.3 C914.3,968.8 907.7,965.5 902.8,962.7 C897.9,960.0 892.7,957.2 889.7,952.8 C886.7,948.4 884.2,942.3 884.7,936.3Z" fill="#d8e2a8"/>
<g clip-path="url(#clp7)">
<g filter="url(#blur3)" opacity="0.3" fill="#939f6a">
<circle cx="918" cy="905" r="9"/>
<circle cx="939" cy="900" r="8"/>
<circle cx="949" cy="908" r="9"/>
<circle cx="965" cy="910" r="10"/>
<circle cx="995" cy="904" r="7"/>
<circle cx="897" cy="920" r="9"/>
<circle cx="914" cy="918" r="8"/>
<circle cx="934" cy="924" r="10"/>
<circle cx="946" cy="916" r="8"/>
<circle cx="959" cy="915" r="10"/>
<circle cx="976" cy="922" r="8"/>
<circle cx="996" cy="921" r="7"/>
<circle cx="1006" cy="922" r="9"/>
<circle cx="890" cy="935" r="8"/>
<circle cx="902" cy="932" r="10"/>
<circle cx="923" cy="928" r="8"/>
<circle cx="933" cy="929" r="10"/>
<circle cx="950" cy="933" r="8"/>
<circle cx="965" cy="934" r="7"/>
<circle cx="986" cy="929" r="8"/>
<circle cx="999" cy="931" r="10"/>
<circle cx="1020" cy="931" r="10"/>
<circle cx="1031" cy="932" r="10"/>
<circle cx="899" cy="944" r="10"/>
<circle cx="910" cy="945" r="10"/>
<circle cx="926" cy="944" r="7"/>
<circle cx="940" cy="947" r="8"/>
<circle cx="962" cy="945" r="8"/>
<circle cx="981" cy="946" r="9"/>
<circle cx="996" cy="943" r="7"/>
<circle cx="1012" cy="949" r="8"/>
<circle cx="1023" cy="950" r="10"/>
<circle cx="886" cy="965" r="10"/>
<circle cx="905" cy="959" r="7"/>
<circle cx="916" cy="964" r="8"/>
<circle cx="939" cy="959" r="10"/>
<circle cx="970" cy="956" r="8"/>
<circle cx="985" cy="964" r="9"/>
<circle cx="1012" cy="958" r="8"/>
<circle cx="897" cy="970" r="8"/>
<circle cx="917" cy="979" r="9"/>
<circle cx="930" cy="974" r="7"/>
<circle cx="941" cy="970" r="10"/>
</g>
<g filter="url(#blur3)" opacity="0.75" fill="#f4f7d6">
<circle cx="911" cy="897" r="6"/>
<circle cx="933" cy="894" r="5"/>
<circle cx="942" cy="900" r="6"/>
<circle cx="958" cy="901" r="7"/>
<circle cx="990" cy="898" r="5"/>
<circle cx="891" cy="912" r="6"/>
<circle cx="908" cy="911" r="5"/>
<circle cx="927" cy="915" r="7"/>
<circle cx="941" cy="910" r="5"/>
<circle cx="952" cy="907" r="6"/>
<circle cx="970" cy="915" r="5"/>
<circle cx="991" cy="915" r="5"/>
<circle cx="1000" cy="915" r="6"/>
<circle cx="884" cy="928" r="5"/>
<circle cx="894" cy="923" r="7"/>
<circle cx="917" cy="922" r="5"/>
<circle cx="926" cy="920" r="6"/>
<circle cx="943" cy="926" r="6"/>
<circle cx="960" cy="928" r="5"/>
<circle cx="980" cy="921" r="6"/>
<circle cx="991" cy="922" r="7"/>
<circle cx="1013" cy="923" r="7"/>
<circle cx="1023" cy="924" r="7"/>
<circle cx="891" cy="935" r="7"/>
<circle cx="903" cy="936" r="6"/>
<circle cx="921" cy="938" r="5"/>
<circle cx="935" cy="940" r="5"/>
<circle cx="955" cy="938" r="6"/>
<circle cx="975" cy="939" r="6"/>
<circle cx="990" cy="936" r="5"/>
<circle cx="1007" cy="942" r="5"/>
<circle cx="1015" cy="941" r="7"/>
<circle cx="879" cy="957" r="7"/>
<circle cx="900" cy="953" r="5"/>
<circle cx="910" cy="958" r="5"/>
<circle cx="932" cy="950" r="7"/>
<circle cx="965" cy="949" r="5"/>
<circle cx="979" cy="956" r="6"/>
<circle cx="1006" cy="951" r="6"/>
<circle cx="891" cy="963" r="5"/>
<circle cx="910" cy="971" r="6"/>
<circle cx="925" cy="968" r="5"/>
<circle cx="934" cy="962" r="7"/>
</g>
<g fill="none" stroke="#939f6a" stroke-width="1" opacity="0.45">
<circle cx="914" cy="900" r="12" stroke-dasharray="31 46" stroke-dashoffset="38"/>
<circle cx="936" cy="896" r="11" stroke-dasharray="26 40" stroke-dashoffset="41"/>
<circle cx="945" cy="903" r="12" stroke-dasharray="31 47" stroke-dashoffset="72"/>
<circle cx="960" cy="905" r="14" stroke-dasharray="35 52" stroke-dashoffset="22"/>
<circle cx="992" cy="900" r="9" stroke-dasharray="23 35" stroke-dashoffset="1"/>
<circle cx="893" cy="915" r="11" stroke-dasharray="29 43" stroke-dashoffset="22"/>
<circle cx="910" cy="914" r="10" stroke-dasharray="26 39" stroke-dashoffset="44"/>
<circle cx="929" cy="919" r="13" stroke-dasharray="33 50" stroke-dashoffset="17"/>
<circle cx="943" cy="912" r="10" stroke-dasharray="26 38" stroke-dashoffset="11"/>
<circle cx="955" cy="910" r="13" stroke-dasharray="32 48" stroke-dashoffset="73"/>
<circle cx="972" cy="917" r="11" stroke-dasharray="27 41" stroke-dashoffset="45"/>
<circle cx="993" cy="917" r="9" stroke-dasharray="23 34" stroke-dashoffset="25"/>
<circle cx="1002" cy="918" r="11" stroke-dasharray="29 43" stroke-dashoffset="64"/>
<circle cx="886" cy="931" r="10" stroke-dasharray="26 39" stroke-dashoffset="21"/>
<circle cx="897" cy="926" r="14" stroke-dasharray="35 52" stroke-dashoffset="58"/>
<circle cx="919" cy="924" r="10" stroke-dasharray="26 39" stroke-dashoffset="13"/>
<circle cx="929" cy="924" r="13" stroke-dasharray="33 49" stroke-dashoffset="35"/>
<circle cx="946" cy="929" r="11" stroke-dasharray="28 42" stroke-dashoffset="57"/>
<circle cx="962" cy="930" r="10" stroke-dasharray="24 36" stroke-dashoffset="55"/>
<circle cx="982" cy="924" r="11" stroke-dasharray="28 42" stroke-dashoffset="61"/>
<circle cx="994" cy="926" r="14" stroke-dasharray="35 52" stroke-dashoffset="33"/>
<circle cx="1016" cy="926" r="13" stroke-dasharray="34 51" stroke-dashoffset="49"/>
<circle cx="1026" cy="927" r="13" stroke-dasharray="33 50" stroke-dashoffset="26"/>
<circle cx="894" cy="938" r="14" stroke-dasharray="35 53" stroke-dashoffset="12"/>
<circle cx="906" cy="940" r="13" stroke-dasharray="32 48" stroke-dashoffset="40"/>
<circle cx="923" cy="940" r="9" stroke-dasharray="24 35" stroke-dashoffset="49"/>
<circle cx="937" cy="943" r="10" stroke-dasharray="26 39" stroke-dashoffset="54"/>
<circle cx="958" cy="941" r="11" stroke-dasharray="28 42" stroke-dashoffset="50"/>
<circle cx="977" cy="942" r="12" stroke-dasharray="30 45" stroke-dashoffset="71"/>
<circle cx="992" cy="939" r="10" stroke-dasharray="25 37" stroke-dashoffset="17"/>
<circle cx="1009" cy="945" r="10" stroke-dasharray="26 39" stroke-dashoffset="11"/>
<circle cx="1018" cy="944" r="14" stroke-dasharray="34 52" stroke-dashoffset="39"/>
<circle cx="882" cy="960" r="13" stroke-dasharray="34 51" stroke-dashoffset="23"/>
<circle cx="902" cy="955" r="10" stroke-dasharray="24 36" stroke-dashoffset="13"/>
<circle cx="912" cy="960" r="10" stroke-dasharray="26 38" stroke-dashoffset="27"/>
<circle cx="935" cy="953" r="13" stroke-dasharray="33 49" stroke-dashoffset="52"/>
<circle cx="967" cy="952" r="10" stroke-dasharray="25 38" stroke-dashoffset="31"/>
<circle cx="981" cy="959" r="12" stroke-dasharray="30 46" stroke-dashoffset="24"/>
<circle cx="1008" cy="954" r="11" stroke-dasharray="28 42" stroke-dashoffset="59"/>
<circle cx="893" cy="966" r="11" stroke-dasharray="27 41" stroke-dashoffset="67"/>
<circle cx="912" cy="974" r="12" stroke-dasharray="31 46" stroke-dashoffset="35"/>
<circle cx="927" cy="971" r="10" stroke-dasharray="24 37" stroke-dashoffset="5"/>
<circle cx="936" cy="965" r="14" stroke-dasharray="34 51" stroke-dashoffset="3"/>
</g></g>
<path d="M884.7,936.3 C885.2,930.2 888.2,922.0 892.9,916.5 C897.6,911.0 905.0,906.1 912.7,903.4 C920.4,900.7 930.3,899.6 939.1,900.1 C947.9,900.6 956.6,906.1 965.4,906.6 C974.2,907.1 984.6,902.3 991.8,903.4 C998.9,904.5 1004.4,908.3 1008.3,913.2 C1012.1,918.1 1015.4,927.5 1014.9,933.0 C1014.4,938.5 1010.0,943.5 1005.0,946.2 C1000.0,949.0 992.9,949.5 985.2,949.5 C977.5,949.5 966.5,946.2 958.8,946.2 C951.1,946.2 943.5,946.2 939.1,949.5 C934.7,952.8 935.8,962.7 932.5,966.0 C929.2,969.3 924.2,969.8 919.3,969.3 C914.3,968.8 907.7,965.5 902.8,962.7 C897.9,960.0 892.7,957.2 889.7,952.8 C886.7,948.4 884.2,942.3 884.7,936.3Z" fill="none" stroke="#939f6a" stroke-width="1.4" stroke-opacity="0.9"/>
<clipPath id="clp8"><path d="M1005.0,870.4 C1007.8,864.9 1010.0,860.5 1014.9,857.2 C1019.8,853.9 1025.3,851.7 1034.6,850.6 C1043.9,849.5 1061.6,849.5 1070.9,850.6 C1080.2,851.7 1084.0,857.2 1090.6,857.2 C1097.2,857.2 1102.2,851.7 1110.4,850.6 C1118.6,849.5 1130.7,850.1 1140.0,850.6 C1149.3,851.1 1159.5,850.6 1166.4,853.9 C1173.3,857.2 1179.4,864.3 1181.3,870.4 C1183.2,876.5 1179.9,884.7 1178.0,890.2 C1176.1,895.7 1173.3,899.0 1169.7,903.4 C1166.1,907.8 1159.8,911.0 1156.5,916.5 C1153.2,922.0 1153.8,930.8 1150.0,936.3 C1146.2,941.8 1139.0,944.0 1133.5,949.5 C1128.0,955.0 1123.0,964.9 1117.0,969.3 C1111.0,973.7 1104.9,974.2 1097.2,975.8 C1089.5,977.4 1077.5,976.4 1070.9,979.1 C1064.3,981.9 1062.1,987.3 1057.7,992.3 C1053.3,997.2 1050.0,1004.9 1044.5,1008.8 C1039.0,1012.6 1031.3,1012.6 1024.7,1015.4 C1018.1,1018.1 1011.6,1022.5 1005.0,1025.3 C998.4,1028.0 992.9,1030.8 985.2,1031.9 C977.5,1033.0 965.9,1034.1 958.8,1031.9 C951.7,1029.7 945.7,1023.7 942.4,1018.7 C939.1,1013.8 937.5,1007.2 939.1,1002.2 C940.8,997.2 946.3,992.3 952.3,989.0 C958.3,985.7 968.7,984.6 975.3,982.4 C981.9,980.2 987.9,978.5 991.8,975.8 C995.6,973.1 999.5,969.3 998.4,966.0 C997.3,962.7 985.2,960.0 985.2,956.1 C985.2,952.2 994.0,946.8 998.4,942.9 C1002.8,939.0 1008.9,937.4 1011.6,933.0 C1014.4,928.6 1016.0,920.9 1014.9,916.5 C1013.8,912.1 1007.8,911.0 1005.0,906.6 C1002.2,902.2 998.4,896.2 998.4,890.2 C998.4,884.2 1002.2,875.9 1005.0,870.4Z"/></clipPath>
<circle cx="1014.7" cy="867.4" r="11.1" fill="#939f6a"/>
<circle cx="1027.0" cy="860.7" r="13.2" fill="#939f6a"/>
<circle cx="1052.8" cy="857.8" r="13.2" fill="#939f6a"/>
<circle cx="1078.5" cy="860.7" r="13.2" fill="#939f6a"/>
<circle cx="1102.8" cy="860.7" r="13.2" fill="#939f6a"/>
<circle cx="1125.2" cy="857.8" r="13.2" fill="#939f6a"/>
<circle cx="1152.3" cy="859.4" r="13.2" fill="#939f6a"/>
<circle cx="1168.5" cy="867.0" r="13.2" fill="#939f6a"/>
<circle cx="1172.5" cy="879.1" r="13.2" fill="#939f6a"/>
<circle cx="1169.1" cy="893.8" r="10.6" fill="#939f6a"/>
<circle cx="1158.4" cy="905.2" r="12.4" fill="#939f6a"/>
<circle cx="1146.4" cy="924.2" r="13.2" fill="#939f6a"/>
<circle cx="1137.3" cy="937.3" r="13.2" fill="#939f6a"/>
<circle cx="1119.7" cy="954.8" r="13.2" fill="#939f6a"/>
<circle cx="1104.9" cy="965.7" r="13.2" fill="#939f6a"/>
<circle cx="1083.2" cy="970.3" r="13.2" fill="#939f6a"/>
<circle cx="1059.5" cy="980.9" r="12.4" fill="#939f6a"/>
<circle cx="1045.5" cy="996.1" r="13.2" fill="#939f6a"/>
<circle cx="1032.3" cy="1005.3" r="13.2" fill="#939f6a"/>
<circle cx="1011.6" cy="1013.9" r="13.2" fill="#939f6a"/>
<circle cx="992.8" cy="1021.8" r="13.2" fill="#939f6a"/>
<circle cx="972.0" cy="1024.7" r="13.2" fill="#939f6a"/>
<circle cx="955.1" cy="1019.7" r="13.2" fill="#939f6a"/>
<circle cx="946.7" cy="1009.3" r="11.3" fill="#939f6a"/>
<circle cx="950.5" cy="1000.4" r="12.4" fill="#939f6a"/>
<circle cx="965.8" cy="992.6" r="13.2" fill="#939f6a"/>
<circle cx="985.9" cy="985.0" r="11.9" fill="#939f6a"/>
<circle cx="998.6" cy="973.3" r="8.3" fill="#939f6a"/>
<circle cx="995.4" cy="956.3" r="11.1" fill="#939f6a"/>
<circle cx="996.6" cy="954.3" r="12.4" fill="#939f6a"/>
<circle cx="1008.6" cy="942.7" r="11.1" fill="#939f6a"/>
<circle cx="1019.2" cy="925.9" r="11.3" fill="#939f6a"/>
<circle cx="1013.5" cy="908.0" r="9.6" fill="#939f6a"/>
<circle cx="1007.6" cy="896.0" r="11.8" fill="#939f6a"/>
<circle cx="1008.5" cy="882.6" r="13.2" fill="#939f6a"/>
<circle cx="1014.7" cy="867.4" r="9.9" fill="url(#s_gl)"/>
<circle cx="1027.0" cy="860.7" r="12.0" fill="url(#s_gl)"/>
<circle cx="1052.8" cy="857.8" r="12.0" fill="url(#s_gl)"/>
<circle cx="1078.5" cy="860.7" r="12.0" fill="url(#s_gl)"/>
<circle cx="1102.8" cy="860.7" r="12.0" fill="url(#s_gl)"/>
<circle cx="1125.2" cy="857.8" r="12.0" fill="url(#s_gl)"/>
<circle cx="1152.3" cy="859.4" r="12.0" fill="url(#s_gl)"/>
<circle cx="1168.5" cy="867.0" r="12.0" fill="url(#s_gl)"/>
<circle cx="1172.5" cy="879.1" r="12.0" fill="url(#s_gl)"/>
<circle cx="1169.1" cy="893.8" r="9.4" fill="url(#s_gl)"/>
<circle cx="1158.4" cy="905.2" r="11.2" fill="url(#s_gl)"/>
<circle cx="1146.4" cy="924.2" r="12.0" fill="url(#s_gl)"/>
<circle cx="1137.3" cy="937.3" r="12.0" fill="url(#s_gl)"/>
<circle cx="1119.7" cy="954.8" r="12.0" fill="url(#s_gl)"/>
<circle cx="1104.9" cy="965.7" r="12.0" fill="url(#s_gl)"/>
<circle cx="1083.2" cy="970.3" r="12.0" fill="url(#s_gl)"/>
<circle cx="1059.5" cy="980.9" r="11.2" fill="url(#s_gl)"/>
<circle cx="1045.5" cy="996.1" r="12.0" fill="url(#s_gl)"/>
<circle cx="1032.3" cy="1005.3" r="12.0" fill="url(#s_gl)"/>
<circle cx="1011.6" cy="1013.9" r="12.0" fill="url(#s_gl)"/>
<circle cx="992.8" cy="1021.8" r="12.0" fill="url(#s_gl)"/>
<circle cx="972.0" cy="1024.7" r="12.0" fill="url(#s_gl)"/>
<circle cx="955.1" cy="1019.7" r="12.0" fill="url(#s_gl)"/>
<circle cx="946.7" cy="1009.3" r="10.1" fill="url(#s_gl)"/>
<circle cx="950.5" cy="1000.4" r="11.2" fill="url(#s_gl)"/>
<circle cx="965.8" cy="992.6" r="12.0" fill="url(#s_gl)"/>
<circle cx="985.9" cy="985.0" r="10.7" fill="url(#s_gl)"/>
<circle cx="998.6" cy="973.3" r="7.1" fill="url(#s_gl)"/>
<circle cx="995.4" cy="956.3" r="9.9" fill="url(#s_gl)"/>
<circle cx="996.6" cy="954.3" r="11.2" fill="url(#s_gl)"/>
<circle cx="1008.6" cy="942.7" r="9.9" fill="url(#s_gl)"/>
<circle cx="1019.2" cy="925.9" r="10.1" fill="url(#s_gl)"/>
<circle cx="1013.5" cy="908.0" r="8.4" fill="url(#s_gl)"/>
<circle cx="1007.6" cy="896.0" r="10.6" fill="url(#s_gl)"/>
<circle cx="1008.5" cy="882.6" r="12.0" fill="url(#s_gl)"/>
<path d="M1005.0,870.4 C1007.8,864.9 1010.0,860.5 1014.9,857.2 C1019.8,853.9 1025.3,851.7 1034.6,850.6 C1043.9,849.5 1061.6,849.5 1070.9,850.6 C1080.2,851.7 1084.0,857.2 1090.6,857.2 C1097.2,857.2 1102.2,851.7 1110.4,850.6 C1118.6,849.5 1130.7,850.1 1140.0,850.6 C1149.3,851.1 1159.5,850.6 1166.4,853.9 C1173.3,857.2 1179.4,864.3 1181.3,870.4 C1183.2,876.5 1179.9,884.7 1178.0,890.2 C1176.1,895.7 1173.3,899.0 1169.7,903.4 C1166.1,907.8 1159.8,911.0 1156.5,916.5 C1153.2,922.0 1153.8,930.8 1150.0,936.3 C1146.2,941.8 1139.0,944.0 1133.5,949.5 C1128.0,955.0 1123.0,964.9 1117.0,969.3 C1111.0,973.7 1104.9,974.2 1097.2,975.8 C1089.5,977.4 1077.5,976.4 1070.9,979.1 C1064.3,981.9 1062.1,987.3 1057.7,992.3 C1053.3,997.2 1050.0,1004.9 1044.5,1008.8 C1039.0,1012.6 1031.3,1012.6 1024.7,1015.4 C1018.1,1018.1 1011.6,1022.5 1005.0,1025.3 C998.4,1028.0 992.9,1030.8 985.2,1031.9 C977.5,1033.0 965.9,1034.1 958.8,1031.9 C951.7,1029.7 945.7,1023.7 942.4,1018.7 C939.1,1013.8 937.5,1007.2 939.1,1002.2 C940.8,997.2 946.3,992.3 952.3,989.0 C958.3,985.7 968.7,984.6 975.3,982.4 C981.9,980.2 987.9,978.5 991.8,975.8 C995.6,973.1 999.5,969.3 998.4,966.0 C997.3,962.7 985.2,960.0 985.2,956.1 C985.2,952.2 994.0,946.8 998.4,942.9 C1002.8,939.0 1008.9,937.4 1011.6,933.0 C1014.4,928.6 1016.0,920.9 1014.9,916.5 C1013.8,912.1 1007.8,911.0 1005.0,906.6 C1002.2,902.2 998.4,896.2 998.4,890.2 C998.4,884.2 1002.2,875.9 1005.0,870.4Z" fill="#d8e2a8"/>
<g clip-path="url(#clp8)">
<g filter="url(#blur3)" opacity="0.3" fill="#939f6a">
<circle cx="1028" cy="852" r="10"/>
<circle cx="1035" cy="857" r="8"/>
<circle cx="1053" cy="858" r="7"/>
<circle cx="1067" cy="859" r="9"/>
<circle cx="1084" cy="861" r="10"/>
<circle cx="1099" cy="854" r="7"/>
<circle cx="1117" cy="856" r="7"/>
<circle cx="1136" cy="850" r="7"/>
<circle cx="1154" cy="854" r="8"/>
<circle cx="1168" cy="855" r="8"/>
<circle cx="1179" cy="858" r="10"/>
<circle cx="1015" cy="866" r="8"/>
<circle cx="1029" cy="871" r="7"/>
<circle cx="1048" cy="866" r="9"/>
<circle cx="1058" cy="867" r="8"/>
<circle cx="1080" cy="865" r="8"/>
<circle cx="1092" cy="867" r="9"/>
<circle cx="1116" cy="870" r="10"/>
<circle cx="1124" cy="873" r="8"/>
<circle cx="1141" cy="872" r="10"/>
<circle cx="1155" cy="867" r="10"/>
<circle cx="1173" cy="866" r="7"/>
<circle cx="1188" cy="871" r="10"/>
<circle cx="1011" cy="886" r="7"/>
<circle cx="1021" cy="886" r="8"/>
<circle cx="1044" cy="884" r="9"/>
<circle cx="1057" cy="880" r="8"/>
<circle cx="1069" cy="885" r="9"/>
<circle cx="1083" cy="887" r="8"/>
<circle cx="1101" cy="883" r="10"/>
<circle cx="1120" cy="885" r="10"/>
<circle cx="1139" cy="885" r="8"/>
<circle cx="1152" cy="887" r="10"/>
<circle cx="1168" cy="881" r="8"/>
<circle cx="1185" cy="883" r="7"/>
<circle cx="1001" cy="898" r="9"/>
<circle cx="1012" cy="898" r="9"/>
<circle cx="1030" cy="894" r="8"/>
<circle cx="1045" cy="898" r="7"/>
<circle cx="1060" cy="896" r="9"/>
<circle cx="1082" cy="899" r="10"/>
<circle cx="1094" cy="892" r="9"/>
<circle cx="1111" cy="894" r="9"/>
<circle cx="1125" cy="894" r="8"/>
<circle cx="1147" cy="892" r="8"/>
<circle cx="1157" cy="894" r="8"/>
<circle cx="1172" cy="901" r="9"/>
<circle cx="1193" cy="894" r="8"/>
<circle cx="1012" cy="912" r="9"/>
<circle cx="1021" cy="913" r="8"/>
<circle cx="1039" cy="909" r="8"/>
<circle cx="1052" cy="908" r="9"/>
<circle cx="1069" cy="907" r="10"/>
<circle cx="1085" cy="915" r="9"/>
<circle cx="1103" cy="915" r="10"/>
<circle cx="1118" cy="908" r="9"/>
<circle cx="1139" cy="912" r="10"/>
<circle cx="1150" cy="912" r="8"/>
<circle cx="1166" cy="909" r="8"/>
<circle cx="1018" cy="920" r="8"/>
<circle cx="1026" cy="921" r="7"/>
<circle cx="1049" cy="922" r="7"/>
<circle cx="1061" cy="924" r="10"/>
<circle cx="1080" cy="921" r="9"/>
<circle cx="1096" cy="924" r="9"/>
<circle cx="1113" cy="928" r="9"/>
<circle cx="1129" cy="925" r="9"/>
<circle cx="1142" cy="924" r="9"/>
<circle cx="1162" cy="924" r="10"/>
<circle cx="1010" cy="941" r="10"/>
<circle cx="1028" cy="942" r="10"/>
<circle cx="1035" cy="937" r="10"/>
<circle cx="1055" cy="936" r="10"/>
<circle cx="1070" cy="939" r="8"/>
<circle cx="1085" cy="935" r="9"/>
<circle cx="1108" cy="944" r="10"/>
<circle cx="1123" cy="937" r="8"/>
<circle cx="1139" cy="940" r="9"/>
<circle cx="1146" cy="936" r="9"/>
<circle cx="980" cy="954" r="10"/>
<circle cx="1001" cy="950" r="8"/>
<circle cx="1012" cy="955" r="9"/>
<circle cx="1028" cy="953" r="9"/>
<circle cx="1048" cy="951" r="8"/>
<circle cx="1061" cy="957" r="8"/>
<circle cx="1079" cy="952" r="7"/>
<circle cx="1094" cy="949" r="8"/>
<circle cx="1111" cy="952" r="10"/>
<circle cx="1125" cy="951" r="9"/>
<circle cx="1142" cy="953" r="9"/>
<circle cx="991" cy="971" r="8"/>
<circle cx="1007" cy="966" r="9"/>
<circle cx="1026" cy="964" r="9"/>
<circle cx="1042" cy="967" r="9"/>
<circle cx="1056" cy="968" r="8"/>
<circle cx="1070" cy="963" r="10"/>
<circle cx="1091" cy="966" r="10"/>
<circle cx="1108" cy="964" r="10"/>
<circle cx="1118" cy="964" r="8"/>
<circle cx="1134" cy="961" r="7"/>
<circle cx="955" cy="985" r="9"/>
<circle cx="986" cy="982" r="10"/>
<circle cx="998" cy="982" r="10"/>
<circle cx="1011" cy="981" r="7"/>
<circle cx="1035" cy="984" r="9"/>
<circle cx="1046" cy="976" r="9"/>
<circle cx="1061" cy="979" r="7"/>
<circle cx="1083" cy="981" r="9"/>
<circle cx="1098" cy="984" r="9"/>
<circle cx="1131" cy="977" r="10"/>
<circle cx="956" cy="991" r="10"/>
<circle cx="971" cy="995" r="7"/>
<circle cx="995" cy="994" r="7"/>
<circle cx="1011" cy="999" r="10"/>
<circle cx="1021" cy="994" r="9"/>
<circle cx="1037" cy="995" r="9"/>
<circle cx="1058" cy="998" r="10"/>
<circle cx="1069" cy="997" r="8"/>
<circle cx="1084" cy="990" r="9"/>
<circle cx="1102" cy="990" r="9"/>
<circle cx="955" cy="1004" r="7"/>
<circle cx="967" cy="1012" r="9"/>
<circle cx="988" cy="1011" r="8"/>
<circle cx="1002" cy="1006" r="7"/>
<circle cx="1020" cy="1012" r="9"/>
<circle cx="1030" cy="1005" r="8"/>
<circle cx="1043" cy="1004" r="9"/>
<circle cx="947" cy="1024" r="9"/>
<circle cx="955" cy="1022" r="7"/>
<circle cx="973" cy="1022" r="7"/>
<circle cx="989" cy="1024" r="9"/>
<circle cx="1010" cy="1018" r="7"/>
<circle cx="1028" cy="1024" r="9"/>
<circle cx="1041" cy="1020" r="10"/>
<circle cx="955" cy="1039" r="9"/>
<circle cx="963" cy="1033" r="8"/>
<circle cx="985" cy="1039" r="7"/>
<circle cx="997" cy="1040" r="7"/>
<circle cx="1012" cy="1035" r="10"/>
<circle cx="994" cy="1046" r="10"/>
</g>
<g filter="url(#blur3)" opacity="0.75" fill="#f4f7d6">
<circle cx="1020" cy="843" r="7"/>
<circle cx="1029" cy="850" r="5"/>
<circle cx="1048" cy="852" r="5"/>
<circle cx="1061" cy="852" r="6"/>
<circle cx="1076" cy="852" r="7"/>
<circle cx="1093" cy="847" r="5"/>
<circle cx="1111" cy="849" r="5"/>
<circle cx="1131" cy="844" r="5"/>
<circle cx="1148" cy="847" r="6"/>
<circle cx="1162" cy="848" r="5"/>
<circle cx="1172" cy="849" r="7"/>
<circle cx="1009" cy="859" r="6"/>
<circle cx="1024" cy="865" r="5"/>
<circle cx="1041" cy="858" r="6"/>
<circle cx="1053" cy="860" r="5"/>
<circle cx="1074" cy="857" r="6"/>
<circle cx="1086" cy="860" r="6"/>
<circle cx="1109" cy="861" r="7"/>
<circle cx="1118" cy="866" r="5"/>
<circle cx="1133" cy="864" r="7"/>
<circle cx="1148" cy="859" r="6"/>
<circle cx="1168" cy="860" r="5"/>
<circle cx="1180" cy="862" r="7"/>
<circle cx="1005" cy="880" r="5"/>
<circle cx="1015" cy="879" r="5"/>
<circle cx="1037" cy="875" r="6"/>
<circle cx="1051" cy="873" r="5"/>
<circle cx="1062" cy="877" r="6"/>
<circle cx="1077" cy="879" r="6"/>
<circle cx="1094" cy="874" r="7"/>
<circle cx="1113" cy="876" r="7"/>
<circle cx="1133" cy="878" r="6"/>
<circle cx="1145" cy="879" r="6"/>
<circle cx="1162" cy="874" r="5"/>
<circle cx="1180" cy="877" r="5"/>
<circle cx="994" cy="890" r="6"/>
<circle cx="1005" cy="890" r="6"/>
<circle cx="1024" cy="887" r="6"/>
<circle cx="1039" cy="892" r="5"/>
<circle cx="1053" cy="887" r="6"/>
<circle cx="1075" cy="890" r="7"/>
<circle cx="1088" cy="885" r="6"/>
<circle cx="1104" cy="886" r="6"/>
<circle cx="1119" cy="887" r="5"/>
<circle cx="1141" cy="885" r="5"/>
<circle cx="1151" cy="887" r="6"/>
<circle cx="1166" cy="894" r="6"/>
<circle cx="1187" cy="886" r="6"/>
<circle cx="1005" cy="904" r="6"/>
<circle cx="1016" cy="906" r="5"/>
<circle cx="1033" cy="902" r="5"/>
<circle cx="1045" cy="901" r="6"/>
<circle cx="1062" cy="899" r="7"/>
<circle cx="1079" cy="907" r="6"/>
<circle cx="1095" cy="906" r="7"/>
<circle cx="1111" cy="900" r="6"/>
<circle cx="1132" cy="904" r="6"/>
<circle cx="1144" cy="905" r="5"/>
<circle cx="1160" cy="902" r="5"/>
<circle cx="1013" cy="913" r="5"/>
<circle cx="1020" cy="915" r="5"/>
<circle cx="1043" cy="916" r="5"/>
<circle cx="1053" cy="915" r="7"/>
<circle cx="1074" cy="913" r="6"/>
<circle cx="1089" cy="917" r="6"/>
<circle cx="1106" cy="920" r="6"/>
<circle cx="1122" cy="917" r="6"/>
<circle cx="1136" cy="916" r="6"/>
<circle cx="1154" cy="915" r="7"/>
<circle cx="1002" cy="932" r="7"/>
<circle cx="1021" cy="933" r="7"/>
<circle cx="1028" cy="928" r="7"/>
<circle cx="1048" cy="928" r="6"/>
<circle cx="1064" cy="932" r="5"/>
<circle cx="1078" cy="927" r="6"/>
<circle cx="1101" cy="936" r="6"/>
<circle cx="1117" cy="930" r="5"/>
<circle cx="1133" cy="932" r="6"/>
<circle cx="1140" cy="929" r="6"/>
<circle cx="973" cy="945" r="7"/>
<circle cx="995" cy="943" r="6"/>
<circle cx="1005" cy="947" r="6"/>
<circle cx="1022" cy="946" r="6"/>
<circle cx="1042" cy="944" r="5"/>
<circle cx="1056" cy="950" r="5"/>
<circle cx="1073" cy="945" r="5"/>
<circle cx="1088" cy="943" r="5"/>
<circle cx="1103" cy="943" r="7"/>
<circle cx="1119" cy="943" r="6"/>
<circle cx="1136" cy="945" r="6"/>
<circle cx="985" cy="963" r="5"/>
<circle cx="1000" cy="957" r="6"/>
<circle cx="1019" cy="957" r="6"/>
<circle cx="1035" cy="959" r="6"/>
<circle cx="1050" cy="961" r="5"/>
<circle cx="1063" cy="954" r="7"/>
<circle cx="1083" cy="957" r="7"/>
<circle cx="1100" cy="955" r="7"/>
<circle cx="1112" cy="958" r="5"/>
<circle cx="1128" cy="955" r="5"/>
<circle cx="949" cy="977" r="6"/>
<circle cx="979" cy="973" r="6"/>
<circle cx="990" cy="973" r="7"/>
<circle cx="1005" cy="975" r="5"/>
<circle cx="1028" cy="976" r="6"/>
<circle cx="1040" cy="968" r="6"/>
<circle cx="1056" cy="973" r="5"/>
<circle cx="1077" cy="973" r="6"/>
<circle cx="1092" cy="977" r="6"/>
<circle cx="1124" cy="968" r="6"/>
<circle cx="949" cy="982" r="7"/>
<circle cx="966" cy="988" r="5"/>
<circle cx="990" cy="988" r="5"/>
<circle cx="1003" cy="990" r="7"/>
<circle cx="1014" cy="986" r="6"/>
<circle cx="1031" cy="987" r="6"/>
<circle cx="1051" cy="990" r="6"/>
<circle cx="1063" cy="989" r="6"/>
<circle cx="1078" cy="982" r="6"/>
<circle cx="1095" cy="983" r="6"/>
<circle cx="950" cy="997" r="5"/>
<circle cx="960" cy="1004" r="6"/>
<circle cx="982" cy="1004" r="6"/>
<circle cx="997" cy="1000" r="5"/>
<circle cx="1013" cy="1004" r="6"/>
<circle cx="1025" cy="998" r="5"/>
<circle cx="1037" cy="997" r="6"/>
<circle cx="941" cy="1016" r="6"/>
<circle cx="950" cy="1016" r="5"/>
<circle cx="967" cy="1016" r="5"/>
<circle cx="982" cy="1017" r="6"/>
<circle cx="1005" cy="1012" r="5"/>
<circle cx="1021" cy="1016" r="6"/>
<circle cx="1033" cy="1011" r="7"/>
<circle cx="949" cy="1032" r="6"/>
<circle cx="957" cy="1026" r="5"/>
<circle cx="980" cy="1033" r="5"/>
<circle cx="992" cy="1034" r="5"/>
<circle cx="1004" cy="1026" r="7"/>
<circle cx="987" cy="1038" r="7"/>
</g>
<g fill="none" stroke="#939f6a" stroke-width="1" opacity="0.45">
<circle cx="1023" cy="846" r="13" stroke-dasharray="33 49" stroke-dashoffset="62"/>
<circle cx="1031" cy="852" r="11" stroke-dasharray="27 40" stroke-dashoffset="24"/>
<circle cx="1050" cy="854" r="9" stroke-dasharray="23 34" stroke-dashoffset="27"/>
<circle cx="1063" cy="855" r="12" stroke-dasharray="29 44" stroke-dashoffset="10"/>
<circle cx="1079" cy="855" r="14" stroke-dasharray="35 52" stroke-dashoffset="15"/>
<circle cx="1095" cy="850" r="10" stroke-dasharray="24 36" stroke-dashoffset="30"/>
<circle cx="1113" cy="852" r="10" stroke-dasharray="25 37" stroke-dashoffset="26"/>
<circle cx="1133" cy="846" r="10" stroke-dasharray="25 37" stroke-dashoffset="12"/>
<circle cx="1150" cy="850" r="11" stroke-dasharray="28 42" stroke-dashoffset="10"/>
<circle cx="1164" cy="850" r="11" stroke-dasharray="27 41" stroke-dashoffset="31"/>
<circle cx="1175" cy="853" r="14" stroke-dasharray="35 52" stroke-dashoffset="10"/>
<circle cx="1011" cy="862" r="11" stroke-dasharray="28 42" stroke-dashoffset="4"/>
<circle cx="1026" cy="867" r="10" stroke-dasharray="24 36" stroke-dashoffset="28"/>
<circle cx="1044" cy="861" r="12" stroke-dasharray="31 47" stroke-dashoffset="4"/>
<circle cx="1055" cy="862" r="11" stroke-dasharray="27 40" stroke-dashoffset="49"/>
<circle cx="1076" cy="860" r="11" stroke-dasharray="28 43" stroke-dashoffset="54"/>
<circle cx="1088" cy="862" r="11" stroke-dasharray="29 43" stroke-dashoffset="50"/>
<circle cx="1112" cy="864" r="14" stroke-dasharray="35 52" stroke-dashoffset="82"/>
<circle cx="1120" cy="869" r="11" stroke-dasharray="27 41" stroke-dashoffset="11"/>
<circle cx="1136" cy="867" r="14" stroke-dasharray="34 51" stroke-dashoffset="36"/>
<circle cx="1150" cy="862" r="13" stroke-dasharray="32 48" stroke-dashoffset="34"/>
<circle cx="1170" cy="862" r="9" stroke-dasharray="23 34" stroke-dashoffset="4"/>
<circle cx="1183" cy="866" r="14" stroke-dasharray="35 52" stroke-dashoffset="75"/>
<circle cx="1007" cy="882" r="10" stroke-dasharray="25 37" stroke-dashoffset="3"/>
<circle cx="1017" cy="882" r="10" stroke-dasharray="26 39" stroke-dashoffset="64"/>
<circle cx="1039" cy="879" r="12" stroke-dasharray="31 47" stroke-dashoffset="53"/>
<circle cx="1053" cy="876" r="10" stroke-dasharray="26 39" stroke-dashoffset="65"/>
<circle cx="1065" cy="880" r="12" stroke-dasharray="31 47" stroke-dashoffset="5"/>
<circle cx="1080" cy="882" r="11" stroke-dasharray="28 42" stroke-dashoffset="62"/>
<circle cx="1097" cy="878" r="14" stroke-dasharray="35 52" stroke-dashoffset="84"/>
<circle cx="1116" cy="880" r="14" stroke-dasharray="34 51" stroke-dashoffset="66"/>
<circle cx="1136" cy="881" r="11" stroke-dasharray="28 42" stroke-dashoffset="40"/>
<circle cx="1148" cy="882" r="13" stroke-dasharray="33 49" stroke-dashoffset="53"/>
<circle cx="1164" cy="877" r="11" stroke-dasharray="27 41" stroke-dashoffset="33"/>
<circle cx="1181" cy="879" r="9" stroke-dasharray="23 34" stroke-dashoffset="49"/>
<circle cx="997" cy="893" r="12" stroke-dasharray="30 46" stroke-dashoffset="44"/>
<circle cx="1007" cy="893" r="13" stroke-dasharray="31 47" stroke-dashoffset="43"/>
<circle cx="1026" cy="890" r="11" stroke-dasharray="28 42" stroke-dashoffset="28"/>
<circle cx="1041" cy="894" r="10" stroke-dasharray="24 37" stroke-dashoffset="38"/>
<circle cx="1055" cy="891" r="12" stroke-dasharray="31 47" stroke-dashoffset="46"/>
<circle cx="1078" cy="894" r="14" stroke-dasharray="34 52" stroke-dashoffset="81"/>
<circle cx="1090" cy="888" r="11" stroke-dasharray="29 43" stroke-dashoffset="56"/>
<circle cx="1107" cy="889" r="12" stroke-dasharray="31 47" stroke-dashoffset="26"/>
<circle cx="1122" cy="890" r="11" stroke-dasharray="27 40" stroke-dashoffset="48"/>
<circle cx="1143" cy="888" r="11" stroke-dasharray="27 41" stroke-dashoffset="16"/>
<circle cx="1153" cy="889" r="11" stroke-dasharray="28 42" stroke-dashoffset="34"/>
<circle cx="1168" cy="896" r="12" stroke-dasharray="29 43" stroke-dashoffset="38"/>
<circle cx="1189" cy="889" r="11" stroke-dasharray="28 43" stroke-dashoffset="52"/>
<circle cx="1008" cy="907" r="12" stroke-dasharray="31 47" stroke-dashoffset="6"/>
<circle cx="1018" cy="909" r="11" stroke-dasharray="27 40" stroke-dashoffset="10"/>
<circle cx="1035" cy="905" r="11" stroke-dasharray="26 40" stroke-dashoffset="12"/>
<circle cx="1048" cy="904" r="12" stroke-dasharray="29 44" stroke-dashoffset="46"/>
<circle cx="1065" cy="902" r="13" stroke-dasharray="33 49" stroke-dashoffset="14"/>
<circle cx="1081" cy="910" r="12" stroke-dasharray="30 45" stroke-dashoffset="42"/>
<circle cx="1098" cy="910" r="13" stroke-dasharray="34 51" stroke-dashoffset="75"/>
<circle cx="1113" cy="903" r="12" stroke-dasharray="31 46" stroke-dashoffset="33"/>
<circle cx="1134" cy="907" r="13" stroke-dasharray="32 49" stroke-dashoffset="18"/>
<circle cx="1146" cy="907" r="10" stroke-dasharray="26 39" stroke-dashoffset="39"/>
<circle cx="1162" cy="905" r="11" stroke-dasharray="27 41" stroke-dashoffset="28"/>
<circle cx="1015" cy="916" r="11" stroke-dasharray="26 40" stroke-dashoffset="29"/>
<circle cx="1022" cy="917" r="10" stroke-dasharray="25 37" stroke-dashoffset="11"/>
<circle cx="1045" cy="918" r="10" stroke-dasharray="25 38" stroke-dashoffset="43"/>
<circle cx="1056" cy="918" r="13" stroke-dasharray="33 50" stroke-dashoffset="29"/>
<circle cx="1076" cy="916" r="12" stroke-dasharray="31 47" stroke-dashoffset="77"/>
<circle cx="1091" cy="920" r="12" stroke-dasharray="29 44" stroke-dashoffset="36"/>
<circle cx="1109" cy="923" r="12" stroke-dasharray="29 43" stroke-dashoffset="49"/>
<circle cx="1124" cy="920" r="12" stroke-dasharray="31 46" stroke-dashoffset="71"/>
<circle cx="1138" cy="919" r="12" stroke-dasharray="29 44" stroke-dashoffset="72"/>
<circle cx="1157" cy="918" r="14" stroke-dasharray="34 51" stroke-dashoffset="2"/>
<circle cx="1005" cy="935" r="14" stroke-dasharray="35 52" stroke-dashoffset="81"/>
<circle cx="1024" cy="936" r="14" stroke-dasharray="35 52" stroke-dashoffset="9"/>
<circle cx="1031" cy="932" r="14" stroke-dasharray="34 51" stroke-dashoffset="81"/>
<circle cx="1051" cy="931" r="13" stroke-dasharray="32 48" stroke-dashoffset="63"/>
<circle cx="1066" cy="935" r="11" stroke-dasharray="27 40" stroke-dashoffset="17"/>
<circle cx="1081" cy="930" r="12" stroke-dasharray="30 45" stroke-dashoffset="54"/>
<circle cx="1103" cy="939" r="13" stroke-dasharray="32 48" stroke-dashoffset="45"/>
<circle cx="1119" cy="933" r="10" stroke-dasharray="26 40" stroke-dashoffset="30"/>
<circle cx="1135" cy="935" r="12" stroke-dasharray="31 47" stroke-dashoffset="49"/>
<circle cx="1142" cy="932" r="11" stroke-dasharray="29 43" stroke-dashoffset="33"/>
<circle cx="976" cy="948" r="14" stroke-dasharray="35 52" stroke-dashoffset="57"/>
<circle cx="997" cy="946" r="11" stroke-dasharray="28 42" stroke-dashoffset="48"/>
<circle cx="1007" cy="950" r="12" stroke-dasharray="31 46" stroke-dashoffset="0"/>
<circle cx="1024" cy="949" r="12" stroke-dasharray="30 45" stroke-dashoffset="48"/>
<circle cx="1044" cy="947" r="11" stroke-dasharray="27 40" stroke-dashoffset="47"/>
<circle cx="1058" cy="953" r="11" stroke-dasharray="27 40" stroke-dashoffset="58"/>
<circle cx="1075" cy="948" r="10" stroke-dasharray="25 37" stroke-dashoffset="33"/>
<circle cx="1090" cy="945" r="11" stroke-dasharray="27 40" stroke-dashoffset="36"/>
<circle cx="1106" cy="947" r="14" stroke-dasharray="34 52" stroke-dashoffset="12"/>
<circle cx="1121" cy="946" r="12" stroke-dasharray="31 46" stroke-dashoffset="15"/>
<circle cx="1138" cy="948" r="12" stroke-dasharray="31 46" stroke-dashoffset="69"/>
<circle cx="987" cy="966" r="11" stroke-dasharray="28 41" stroke-dashoffset="4"/>
<circle cx="1003" cy="961" r="13" stroke-dasharray="32 47" stroke-dashoffset="71"/>
<circle cx="1022" cy="959" r="12" stroke-dasharray="29 44" stroke-dashoffset="9"/>
<circle cx="1037" cy="962" r="12" stroke-dasharray="31 46" stroke-dashoffset="30"/>
<circle cx="1052" cy="964" r="11" stroke-dasharray="27 41" stroke-dashoffset="42"/>
<circle cx="1065" cy="957" r="13" stroke-dasharray="34 51" stroke-dashoffset="3"/>
<circle cx="1086" cy="961" r="14" stroke-dasharray="35 52" stroke-dashoffset="39"/>
<circle cx="1103" cy="959" r="13" stroke-dasharray="33 50" stroke-dashoffset="66"/>
<circle cx="1114" cy="960" r="10" stroke-dasharray="26 39" stroke-dashoffset="25"/>
<circle cx="1130" cy="958" r="9" stroke-dasharray="23 35" stroke-dashoffset="10"/>
<circle cx="951" cy="980" r="12" stroke-dasharray="29 44" stroke-dashoffset="4"/>
<circle cx="982" cy="976" r="13" stroke-dasharray="33 49" stroke-dashoffset="77"/>
<circle cx="993" cy="976" r="14" stroke-dasharray="34 51" stroke-dashoffset="9"/>
<circle cx="1007" cy="977" r="10" stroke-dasharray="25 37" stroke-dashoffset="42"/>
<circle cx="1030" cy="979" r="12" stroke-dasharray="31 46" stroke-dashoffset="49"/>
<circle cx="1042" cy="971" r="11" stroke-dasharray="29 43" stroke-dashoffset="20"/>
<circle cx="1058" cy="975" r="9" stroke-dasharray="24 35" stroke-dashoffset="33"/>
<circle cx="1079" cy="976" r="12" stroke-dasharray="30 45" stroke-dashoffset="51"/>
<circle cx="1094" cy="980" r="12" stroke-dasharray="30 44" stroke-dashoffset="15"/>
<circle cx="1127" cy="971" r="13" stroke-dasharray="33 49" stroke-dashoffset="20"/>
<circle cx="951" cy="985" r="14" stroke-dasharray="35 52" stroke-dashoffset="81"/>
<circle cx="968" cy="991" r="10" stroke-dasharray="24 36" stroke-dashoffset="13"/>
<circle cx="992" cy="990" r="10" stroke-dasharray="25 37" stroke-dashoffset="30"/>
<circle cx="1006" cy="993" r="14" stroke-dasharray="35 52" stroke-dashoffset="40"/>
<circle cx="1016" cy="989" r="12" stroke-dasharray="31 46" stroke-dashoffset="60"/>
<circle cx="1033" cy="990" r="13" stroke-dasharray="31 47" stroke-dashoffset="67"/>
<circle cx="1054" cy="993" r="13" stroke-dasharray="32 48" stroke-dashoffset="61"/>
<circle cx="1065" cy="992" r="11" stroke-dasharray="28 42" stroke-dashoffset="44"/>
<circle cx="1080" cy="985" r="12" stroke-dasharray="30 46" stroke-dashoffset="41"/>
<circle cx="1098" cy="986" r="11" stroke-dasharray="29 43" stroke-dashoffset="7"/>
<circle cx="952" cy="1000" r="10" stroke-dasharray="25 37" stroke-dashoffset="36"/>
<circle cx="962" cy="1007" r="12" stroke-dasharray="31 47" stroke-dashoffset="34"/>
<circle cx="984" cy="1006" r="11" stroke-dasharray="28 42" stroke-dashoffset="53"/>
<circle cx="999" cy="1002" r="9" stroke-dasharray="23 35" stroke-dashoffset="22"/>
<circle cx="1016" cy="1007" r="12" stroke-dasharray="31 46" stroke-dashoffset="9"/>
<circle cx="1027" cy="1001" r="10" stroke-dasharray="25 38" stroke-dashoffset="24"/>
<circle cx="1039" cy="1000" r="11" stroke-dasharray="29 43" stroke-dashoffset="60"/>
<circle cx="943" cy="1019" r="12" stroke-dasharray="31 46" stroke-dashoffset="38"/>
<circle cx="952" cy="1018" r="10" stroke-dasharray="25 37" stroke-dashoffset="41"/>
<circle cx="969" cy="1018" r="10" stroke-dasharray="25 37" stroke-dashoffset="3"/>
<circle cx="985" cy="1020" r="11" stroke-dasharray="29 43" stroke-dashoffset="16"/>
<circle cx="1007" cy="1014" r="9" stroke-dasharray="24 36" stroke-dashoffset="16"/>
<circle cx="1023" cy="1019" r="12" stroke-dasharray="31 47" stroke-dashoffset="38"/>
<circle cx="1036" cy="1014" r="14" stroke-dasharray="35 52" stroke-dashoffset="10"/>
<circle cx="951" cy="1035" r="12" stroke-dasharray="29 44" stroke-dashoffset="69"/>
<circle cx="959" cy="1028" r="10" stroke-dasharray="26 39" stroke-dashoffset="22"/>
<circle cx="982" cy="1036" r="9" stroke-dasharray="23 34" stroke-dashoffset="0"/>
<circle cx="994" cy="1036" r="10" stroke-dasharray="25 37" stroke-dashoffset="15"/>
<circle cx="1007" cy="1029" r="13" stroke-dasharray="34 51" stroke-dashoffset="42"/>
<circle cx="989" cy="1041" r="13" stroke-dasharray="34 50" stroke-dashoffset="52"/>
</g></g>
<path d="M1005.0,870.4 C1007.8,864.9 1010.0,860.5 1014.9,857.2 C1019.8,853.9 1025.3,851.7 1034.6,850.6 C1043.9,849.5 1061.6,849.5 1070.9,850.6 C1080.2,851.7 1084.0,857.2 1090.6,857.2 C1097.2,857.2 1102.2,851.7 1110.4,850.6 C1118.6,849.5 1130.7,850.1 1140.0,850.6 C1149.3,851.1 1159.5,850.6 1166.4,853.9 C1173.3,857.2 1179.4,864.3 1181.3,870.4 C1183.2,876.5 1179.9,884.7 1178.0,890.2 C1176.1,895.7 1173.3,899.0 1169.7,903.4 C1166.1,907.8 1159.8,911.0 1156.5,916.5 C1153.2,922.0 1153.8,930.8 1150.0,936.3 C1146.2,941.8 1139.0,944.0 1133.5,949.5 C1128.0,955.0 1123.0,964.9 1117.0,969.3 C1111.0,973.7 1104.9,974.2 1097.2,975.8 C1089.5,977.4 1077.5,976.4 1070.9,979.1 C1064.3,981.9 1062.1,987.3 1057.7,992.3 C1053.3,997.2 1050.0,1004.9 1044.5,1008.8 C1039.0,1012.6 1031.3,1012.6 1024.7,1015.4 C1018.1,1018.1 1011.6,1022.5 1005.0,1025.3 C998.4,1028.0 992.9,1030.8 985.2,1031.9 C977.5,1033.0 965.9,1034.1 958.8,1031.9 C951.7,1029.7 945.7,1023.7 942.4,1018.7 C939.1,1013.8 937.5,1007.2 939.1,1002.2 C940.8,997.2 946.3,992.3 952.3,989.0 C958.3,985.7 968.7,984.6 975.3,982.4 C981.9,980.2 987.9,978.5 991.8,975.8 C995.6,973.1 999.5,969.3 998.4,966.0 C997.3,962.7 985.2,960.0 985.2,956.1 C985.2,952.2 994.0,946.8 998.4,942.9 C1002.8,939.0 1008.9,937.4 1011.6,933.0 C1014.4,928.6 1016.0,920.9 1014.9,916.5 C1013.8,912.1 1007.8,911.0 1005.0,906.6 C1002.2,902.2 998.4,896.2 998.4,890.2 C998.4,884.2 1002.2,875.9 1005.0,870.4Z" fill="none" stroke="#939f6a" stroke-width="1.4" stroke-opacity="0.9"/>
<clipPath id="clp9"><path d="M990.0,950.0 C994.2,946.2 1002.5,942.8 1010.0,942.0 C1017.5,941.2 1029.7,941.2 1035.0,945.0 C1040.3,948.8 1042.0,958.3 1042.0,965.0 C1042.0,971.7 1040.3,980.8 1035.0,985.0 C1029.7,989.2 1017.5,990.5 1010.0,990.0 C1002.5,989.5 994.2,986.2 990.0,982.0 C985.8,977.8 985.0,970.3 985.0,965.0 C985.0,959.7 985.8,953.8 990.0,950.0Z"/></clipPath>
<circle cx="1002.7" cy="952.7" r="12.0" fill="url(#s_ye)"/>
<circle cx="1021.6" cy="950.6" r="12.0" fill="url(#s_ye)"/>
<circle cx="1031.7" cy="957.4" r="12.0" fill="url(#s_ye)"/>
<circle cx="1031.7" cy="972.6" r="12.0" fill="url(#s_ye)"/>
<circle cx="1021.1" cy="980.4" r="12.0" fill="url(#s_ye)"/>
<circle cx="1002.7" cy="979.3" r="12.0" fill="url(#s_ye)"/>
<circle cx="993.6" cy="971.7" r="10.6" fill="url(#s_ye)"/>
<circle cx="992.9" cy="959.3" r="9.5" fill="url(#s_ye)"/>
<path d="M990.0,950.0 C994.2,946.2 1002.5,942.8 1010.0,942.0 C1017.5,941.2 1029.7,941.2 1035.0,945.0 C1040.3,948.8 1042.0,958.3 1042.0,965.0 C1042.0,971.7 1040.3,980.8 1035.0,985.0 C1029.7,989.2 1017.5,990.5 1010.0,990.0 C1002.5,989.5 994.2,986.2 990.0,982.0 C985.8,977.8 985.0,970.3 985.0,965.0 C985.0,959.7 985.8,953.8 990.0,950.0Z" fill="#ecd88c"/>
<g clip-path="url(#clp9)">
<g filter="url(#blur3)" opacity="0.35" fill="#a89858">
<circle cx="987" cy="948" r="8"/>
<circle cx="1005" cy="943" r="7"/>
<circle cx="1014" cy="944" r="8"/>
<circle cx="1043" cy="946" r="9"/>
<circle cx="993" cy="962" r="8"/>
<circle cx="1012" cy="961" r="8"/>
<circle cx="1027" cy="960" r="7"/>
<circle cx="1041" cy="958" r="8"/>
<circle cx="987" cy="968" r="6"/>
<circle cx="1006" cy="974" r="9"/>
<circle cx="1018" cy="971" r="8"/>
<circle cx="1027" cy="972" r="7"/>
<circle cx="1042" cy="968" r="8"/>
<circle cx="995" cy="979" r="7"/>
<circle cx="1007" cy="980" r="7"/>
<circle cx="1023" cy="979" r="8"/>
<circle cx="1042" cy="982" r="8"/>
<circle cx="1000" cy="995" r="9"/>
<circle cx="1019" cy="997" r="7"/>
<circle cx="1034" cy="994" r="8"/>
<circle cx="1042" cy="999" r="8"/>
</g>
<g filter="url(#blur3)" opacity="0.55" fill="#f8eaa8">
<circle cx="981" cy="941" r="5"/>
<circle cx="1000" cy="937" r="4"/>
<circle cx="1008" cy="937" r="5"/>
<circle cx="1037" cy="939" r="6"/>
<circle cx="987" cy="954" r="6"/>
<circle cx="1006" cy="954" r="5"/>
<circle cx="1022" cy="954" r="5"/>
<circle cx="1035" cy="951" r="6"/>
<circle cx="983" cy="963" r="4"/>
<circle cx="999" cy="966" r="6"/>
<circle cx="1012" cy="964" r="5"/>
<circle cx="1022" cy="965" r="5"/>
<circle cx="1036" cy="961" r="5"/>
<circle cx="989" cy="973" r="5"/>
<circle cx="1002" cy="974" r="4"/>
<circle cx="1017" cy="972" r="5"/>
<circle cx="1036" cy="975" r="5"/>
<circle cx="994" cy="987" r="6"/>
<circle cx="1014" cy="991" r="4"/>
<circle cx="1028" cy="987" r="5"/>
<circle cx="1036" cy="992" r="5"/>
</g>
<g fill="none" stroke="#a89858" stroke-width="1" opacity="0.45">
<circle cx="983" cy="944" r="11" stroke-dasharray="27 40" stroke-dashoffset="30"/>
<circle cx="1002" cy="939" r="9" stroke-dasharray="22 34" stroke-dashoffset="19"/>
<circle cx="1010" cy="940" r="11" stroke-dasharray="27 41" stroke-dashoffset="6"/>
<circle cx="1039" cy="941" r="11" stroke-dasharray="29 43" stroke-dashoffset="0"/>
<circle cx="989" cy="957" r="11" stroke-dasharray="28 42" stroke-dashoffset="70"/>
<circle cx="1009" cy="957" r="11" stroke-dasharray="28 41" stroke-dashoffset="8"/>
<circle cx="1024" cy="957" r="9" stroke-dasharray="23 34" stroke-dashoffset="17"/>
<circle cx="1037" cy="954" r="11" stroke-dasharray="28 42" stroke-dashoffset="19"/>
<circle cx="984" cy="965" r="8" stroke-dasharray="21 32" stroke-dashoffset="32"/>
<circle cx="1002" cy="969" r="12" stroke-dasharray="30 45" stroke-dashoffset="6"/>
<circle cx="1015" cy="967" r="11" stroke-dasharray="28 41" stroke-dashoffset="32"/>
<circle cx="1024" cy="968" r="10" stroke-dasharray="25 37" stroke-dashoffset="23"/>
<circle cx="1038" cy="964" r="10" stroke-dasharray="25 38" stroke-dashoffset="53"/>
<circle cx="991" cy="975" r="10" stroke-dasharray="25 38" stroke-dashoffset="0"/>
<circle cx="1004" cy="976" r="9" stroke-dasharray="22 33" stroke-dashoffset="18"/>
<circle cx="1019" cy="975" r="11" stroke-dasharray="27 40" stroke-dashoffset="33"/>
<circle cx="1038" cy="978" r="11" stroke-dasharray="27 41" stroke-dashoffset="66"/>
<circle cx="996" cy="990" r="11" stroke-dasharray="29 43" stroke-dashoffset="37"/>
<circle cx="1016" cy="993" r="9" stroke-dasharray="22 33" stroke-dashoffset="26"/>
<circle cx="1030" cy="990" r="11" stroke-dasharray="27 41" stroke-dashoffset="46"/>
<circle cx="1038" cy="995" r="10" stroke-dasharray="26 39" stroke-dashoffset="19"/>
</g></g>
<clipPath id="clp10"><path d="M1001.7,1025.3 C1003.4,1020.4 1008.9,1014.9 1014.9,1012.1 C1020.9,1009.4 1030.8,1007.7 1037.9,1008.8 C1045.0,1009.9 1048.9,1016.0 1057.7,1018.7 C1066.5,1021.5 1081.3,1024.2 1090.6,1025.3 C1099.9,1026.4 1107.7,1023.1 1113.7,1025.3 C1119.8,1027.5 1125.8,1034.6 1126.9,1038.4 C1128.0,1042.2 1126.3,1046.7 1120.3,1048.3 C1114.2,1049.9 1099.9,1047.8 1090.6,1048.3 C1081.3,1048.8 1069.8,1048.3 1064.3,1051.6 C1058.8,1054.9 1062.1,1063.7 1057.7,1068.1 C1053.3,1072.5 1045.6,1076.9 1037.9,1078.0 C1030.2,1079.1 1017.9,1078.0 1011.6,1074.7 C1005.3,1071.4 1001.1,1063.7 1000.0,1058.2 C998.9,1052.7 1004.7,1047.2 1005.0,1041.7 C1005.3,1036.2 1000.1,1030.2 1001.7,1025.3Z"/></clipPath>
<circle cx="1011.7" cy="1022.1" r="9.2" fill="#a86a2c"/>
<circle cx="1027.1" cy="1015.2" r="9.2" fill="#a86a2c"/>
<circle cx="1045.7" cy="1018.0" r="9.2" fill="#a86a2c"/>
<circle cx="1073.2" cy="1026.7" r="9.2" fill="#a86a2c"/>
<circle cx="1102.2" cy="1030.1" r="9.2" fill="#a86a2c"/>
<circle cx="1116.9" cy="1035.3" r="9.2" fill="#a86a2c"/>
<circle cx="1120.0" cy="1041.0" r="8.3" fill="#a86a2c"/>
<circle cx="1105.4" cy="1043.5" r="9.2" fill="#a86a2c"/>
<circle cx="1076.9" cy="1045.2" r="9.2" fill="#a86a2c"/>
<circle cx="1056.5" cy="1058.1" r="9.2" fill="#a86a2c"/>
<circle cx="1045.7" cy="1068.8" r="9.2" fill="#a86a2c"/>
<circle cx="1025.3" cy="1071.6" r="9.2" fill="#a86a2c"/>
<circle cx="1009.7" cy="1063.7" r="9.2" fill="#a86a2c"/>
<circle cx="1007.1" cy="1051.3" r="9.2" fill="#a86a2c"/>
<circle cx="1008.1" cy="1032.6" r="9.2" fill="#a86a2c"/>
<circle cx="1011.7" cy="1022.1" r="8.0" fill="url(#s_yo)"/>
<circle cx="1027.1" cy="1015.2" r="8.0" fill="url(#s_yo)"/>
<circle cx="1045.7" cy="1018.0" r="8.0" fill="url(#s_yo)"/>
<circle cx="1073.2" cy="1026.7" r="8.0" fill="url(#s_yo)"/>
<circle cx="1102.2" cy="1030.1" r="8.0" fill="url(#s_yo)"/>
<circle cx="1116.9" cy="1035.3" r="8.0" fill="url(#s_yo)"/>
<circle cx="1120.0" cy="1041.0" r="7.1" fill="url(#s_yo)"/>
<circle cx="1105.4" cy="1043.5" r="8.0" fill="url(#s_yo)"/>
<circle cx="1076.9" cy="1045.2" r="8.0" fill="url(#s_yo)"/>
<circle cx="1056.5" cy="1058.1" r="8.0" fill="url(#s_yo)"/>
<circle cx="1045.7" cy="1068.8" r="8.0" fill="url(#s_yo)"/>
<circle cx="1025.3" cy="1071.6" r="8.0" fill="url(#s_yo)"/>
<circle cx="1009.7" cy="1063.7" r="8.0" fill="url(#s_yo)"/>
<circle cx="1007.1" cy="1051.3" r="8.0" fill="url(#s_yo)"/>
<circle cx="1008.1" cy="1032.6" r="8.0" fill="url(#s_yo)"/>
<path d="M1001.7,1025.3 C1003.4,1020.4 1008.9,1014.9 1014.9,1012.1 C1020.9,1009.4 1030.8,1007.7 1037.9,1008.8 C1045.0,1009.9 1048.9,1016.0 1057.7,1018.7 C1066.5,1021.5 1081.3,1024.2 1090.6,1025.3 C1099.9,1026.4 1107.7,1023.1 1113.7,1025.3 C1119.8,1027.5 1125.8,1034.6 1126.9,1038.4 C1128.0,1042.2 1126.3,1046.7 1120.3,1048.3 C1114.2,1049.9 1099.9,1047.8 1090.6,1048.3 C1081.3,1048.8 1069.8,1048.3 1064.3,1051.6 C1058.8,1054.9 1062.1,1063.7 1057.7,1068.1 C1053.3,1072.5 1045.6,1076.9 1037.9,1078.0 C1030.2,1079.1 1017.9,1078.0 1011.6,1074.7 C1005.3,1071.4 1001.1,1063.7 1000.0,1058.2 C998.9,1052.7 1004.7,1047.2 1005.0,1041.7 C1005.3,1036.2 1000.1,1030.2 1001.7,1025.3Z" fill="#e8a255"/>
<g clip-path="url(#clp10)">
<g filter="url(#blur3)" opacity="0.35" fill="#a86a2c">
<circle cx="1022" cy="1010" r="7"/>
<circle cx="1035" cy="1014" r="7"/>
<circle cx="1051" cy="1013" r="9"/>
<circle cx="1061" cy="1011" r="9"/>
<circle cx="1016" cy="1026" r="8"/>
<circle cx="1029" cy="1027" r="6"/>
<circle cx="1041" cy="1027" r="7"/>
<circle cx="1053" cy="1029" r="8"/>
<circle cx="1068" cy="1025" r="7"/>
<circle cx="1088" cy="1025" r="6"/>
<circle cx="1111" cy="1027" r="6"/>
<circle cx="1005" cy="1039" r="8"/>
<circle cx="1019" cy="1039" r="8"/>
<circle cx="1030" cy="1038" r="7"/>
<circle cx="1051" cy="1042" r="6"/>
<circle cx="1061" cy="1041" r="8"/>
<circle cx="1075" cy="1042" r="10"/>
<circle cx="1093" cy="1038" r="8"/>
<circle cx="1112" cy="1037" r="7"/>
<circle cx="1121" cy="1040" r="8"/>
<circle cx="1136" cy="1037" r="6"/>
<circle cx="1010" cy="1057" r="8"/>
<circle cx="1024" cy="1056" r="7"/>
<circle cx="1038" cy="1047" r="7"/>
<circle cx="1054" cy="1050" r="9"/>
<circle cx="1069" cy="1050" r="8"/>
<circle cx="1090" cy="1051" r="9"/>
<circle cx="1100" cy="1053" r="8"/>
<circle cx="1120" cy="1054" r="8"/>
<circle cx="1134" cy="1051" r="7"/>
<circle cx="1008" cy="1066" r="9"/>
<circle cx="1017" cy="1069" r="8"/>
<circle cx="1031" cy="1069" r="8"/>
<circle cx="1047" cy="1062" r="6"/>
<circle cx="1060" cy="1066" r="7"/>
<circle cx="1122" cy="1062" r="9"/>
<circle cx="1012" cy="1079" r="7"/>
<circle cx="1030" cy="1080" r="8"/>
<circle cx="1037" cy="1077" r="7"/>
<circle cx="1057" cy="1083" r="9"/>
<circle cx="1068" cy="1081" r="10"/>
<circle cx="1035" cy="1090" r="10"/>
</g>
<g filter="url(#blur3)" opacity="0.55" fill="#f6c47a">
<circle cx="1017" cy="1004" r="5"/>
<circle cx="1030" cy="1008" r="5"/>
<circle cx="1044" cy="1005" r="6"/>
<circle cx="1054" cy="1003" r="6"/>
<circle cx="1010" cy="1019" r="6"/>
<circle cx="1024" cy="1021" r="4"/>
<circle cx="1037" cy="1021" r="4"/>
<circle cx="1047" cy="1023" r="5"/>
<circle cx="1063" cy="1019" r="5"/>
<circle cx="1083" cy="1020" r="4"/>
<circle cx="1107" cy="1022" r="4"/>
<circle cx="1000" cy="1033" r="5"/>
<circle cx="1013" cy="1032" r="5"/>
<circle cx="1025" cy="1032" r="5"/>
<circle cx="1047" cy="1037" r="4"/>
<circle cx="1055" cy="1034" r="5"/>
<circle cx="1068" cy="1034" r="6"/>
<circle cx="1087" cy="1031" r="5"/>
<circle cx="1107" cy="1030" r="5"/>
<circle cx="1115" cy="1033" r="5"/>
<circle cx="1131" cy="1032" r="4"/>
<circle cx="1004" cy="1050" r="5"/>
<circle cx="1019" cy="1049" r="5"/>
<circle cx="1034" cy="1042" r="4"/>
<circle cx="1047" cy="1042" r="6"/>
<circle cx="1063" cy="1043" r="6"/>
<circle cx="1084" cy="1043" r="6"/>
<circle cx="1094" cy="1046" r="5"/>
<circle cx="1114" cy="1048" r="5"/>
<circle cx="1129" cy="1044" r="5"/>
<circle cx="1002" cy="1058" r="6"/>
<circle cx="1011" cy="1062" r="6"/>
<circle cx="1026" cy="1062" r="5"/>
<circle cx="1042" cy="1057" r="4"/>
<circle cx="1056" cy="1061" r="4"/>
<circle cx="1115" cy="1055" r="6"/>
<circle cx="1007" cy="1073" r="5"/>
<circle cx="1024" cy="1073" r="5"/>
<circle cx="1032" cy="1071" r="5"/>
<circle cx="1050" cy="1075" r="6"/>
<circle cx="1061" cy="1073" r="6"/>
<circle cx="1028" cy="1082" r="6"/>
</g>
<g fill="none" stroke="#a86a2c" stroke-width="1" opacity="0.45">
<circle cx="1019" cy="1007" r="9" stroke-dasharray="23 35" stroke-dashoffset="49"/>
<circle cx="1032" cy="1010" r="10" stroke-dasharray="24 36" stroke-dashoffset="26"/>
<circle cx="1047" cy="1008" r="12" stroke-dasharray="30 45" stroke-dashoffset="67"/>
<circle cx="1057" cy="1006" r="13" stroke-dasharray="31 47" stroke-dashoffset="5"/>
<circle cx="1012" cy="1021" r="11" stroke-dasharray="28 42" stroke-dashoffset="30"/>
<circle cx="1026" cy="1024" r="9" stroke-dasharray="22 32" stroke-dashoffset="31"/>
<circle cx="1038" cy="1023" r="9" stroke-dasharray="22 34" stroke-dashoffset="44"/>
<circle cx="1049" cy="1025" r="11" stroke-dasharray="27 40" stroke-dashoffset="28"/>
<circle cx="1065" cy="1021" r="9" stroke-dasharray="23 34" stroke-dashoffset="39"/>
<circle cx="1085" cy="1022" r="9" stroke-dasharray="21 32" stroke-dashoffset="52"/>
<circle cx="1108" cy="1024" r="9" stroke-dasharray="22 32" stroke-dashoffset="23"/>
<circle cx="1002" cy="1035" r="10" stroke-dasharray="26 39" stroke-dashoffset="13"/>
<circle cx="1015" cy="1034" r="11" stroke-dasharray="28 41" stroke-dashoffset="2"/>
<circle cx="1026" cy="1035" r="9" stroke-dasharray="23 35" stroke-dashoffset="50"/>
<circle cx="1048" cy="1039" r="8" stroke-dasharray="21 31" stroke-dashoffset="25"/>
<circle cx="1057" cy="1037" r="11" stroke-dasharray="27 41" stroke-dashoffset="26"/>
<circle cx="1071" cy="1037" r="13" stroke-dasharray="32 48" stroke-dashoffset="42"/>
<circle cx="1089" cy="1034" r="11" stroke-dasharray="27 41" stroke-dashoffset="8"/>
<circle cx="1109" cy="1033" r="10" stroke-dasharray="24 36" stroke-dashoffset="13"/>
<circle cx="1117" cy="1036" r="10" stroke-dasharray="26 39" stroke-dashoffset="15"/>
<circle cx="1133" cy="1034" r="8" stroke-dasharray="21 31" stroke-dashoffset="13"/>
<circle cx="1006" cy="1052" r="11" stroke-dasharray="27 41" stroke-dashoffset="59"/>
<circle cx="1021" cy="1052" r="10" stroke-dasharray="25 37" stroke-dashoffset="15"/>
<circle cx="1035" cy="1044" r="9" stroke-dasharray="22 33" stroke-dashoffset="5"/>
<circle cx="1050" cy="1046" r="12" stroke-dasharray="31 47" stroke-dashoffset="67"/>
<circle cx="1065" cy="1046" r="11" stroke-dasharray="28 42" stroke-dashoffset="39"/>
<circle cx="1086" cy="1046" r="12" stroke-dasharray="30 45" stroke-dashoffset="2"/>
<circle cx="1096" cy="1049" r="11" stroke-dasharray="28 41" stroke-dashoffset="47"/>
<circle cx="1116" cy="1050" r="11" stroke-dasharray="26 40" stroke-dashoffset="45"/>
<circle cx="1131" cy="1047" r="10" stroke-dasharray="25 37" stroke-dashoffset="40"/>
<circle cx="1004" cy="1061" r="12" stroke-dasharray="30 45" stroke-dashoffset="58"/>
<circle cx="1013" cy="1065" r="11" stroke-dasharray="28 42" stroke-dashoffset="29"/>
<circle cx="1028" cy="1065" r="10" stroke-dasharray="26 39" stroke-dashoffset="15"/>
<circle cx="1044" cy="1059" r="9" stroke-dasharray="21 32" stroke-dashoffset="40"/>
<circle cx="1057" cy="1063" r="9" stroke-dasharray="22 33" stroke-dashoffset="34"/>
<circle cx="1118" cy="1058" r="12" stroke-dasharray="29 44" stroke-dashoffset="51"/>
<circle cx="1009" cy="1075" r="10" stroke-dasharray="25 37" stroke-dashoffset="11"/>
<circle cx="1026" cy="1075" r="11" stroke-dasharray="27 41" stroke-dashoffset="25"/>
<circle cx="1033" cy="1073" r="9" stroke-dasharray="23 35" stroke-dashoffset="41"/>
<circle cx="1052" cy="1078" r="12" stroke-dasharray="31 46" stroke-dashoffset="30"/>
<circle cx="1064" cy="1076" r="13" stroke-dasharray="32 48" stroke-dashoffset="48"/>
<circle cx="1030" cy="1085" r="13" stroke-dasharray="32 48" stroke-dashoffset="38"/>
</g></g>
<path d="M1001.7,1025.3 C1003.4,1020.4 1008.9,1014.9 1014.9,1012.1 C1020.9,1009.4 1030.8,1007.7 1037.9,1008.8 C1045.0,1009.9 1048.9,1016.0 1057.7,1018.7 C1066.5,1021.5 1081.3,1024.2 1090.6,1025.3 C1099.9,1026.4 1107.7,1023.1 1113.7,1025.3 C1119.8,1027.5 1125.8,1034.6 1126.9,1038.4 C1128.0,1042.2 1126.3,1046.7 1120.3,1048.3 C1114.2,1049.9 1099.9,1047.8 1090.6,1048.3 C1081.3,1048.8 1069.8,1048.3 1064.3,1051.6 C1058.8,1054.9 1062.1,1063.7 1057.7,1068.1 C1053.3,1072.5 1045.6,1076.9 1037.9,1078.0 C1030.2,1079.1 1017.9,1078.0 1011.6,1074.7 C1005.3,1071.4 1001.1,1063.7 1000.0,1058.2 C998.9,1052.7 1004.7,1047.2 1005.0,1041.7 C1005.3,1036.2 1000.1,1030.2 1001.7,1025.3Z" fill="none" stroke="#a86a2c" stroke-width="1.4" stroke-opacity="0.9"/>
<clipPath id="clp11"><path d="M1018.7,846.0 C1022.2,843.1 1028.0,839.8 1032.0,839.3 C1036.0,838.8 1039.6,840.4 1042.7,843.3 C1045.8,846.2 1046.7,854.5 1050.7,856.7 C1054.7,858.9 1061.8,855.4 1066.7,856.7 C1071.6,858.0 1076.9,860.3 1080.0,864.7 C1083.1,869.1 1084.8,877.5 1085.3,883.3 C1085.8,889.1 1082.2,895.3 1082.7,899.3 C1083.2,903.3 1088.0,904.2 1088.0,907.3 C1088.0,910.4 1086.2,914.9 1082.7,918.0 C1079.2,921.1 1071.2,922.9 1066.7,926.0 C1062.2,929.1 1060.5,935.4 1056.0,936.7 C1051.5,938.0 1044.0,936.2 1040.0,934.0 C1036.0,931.8 1033.8,927.8 1032.0,923.3 C1030.2,918.8 1031.5,911.7 1029.3,907.3 C1027.1,902.9 1022.2,899.8 1018.7,896.7 C1015.2,893.6 1010.0,892.7 1008.0,888.7 C1006.0,884.7 1006.2,878.0 1006.7,872.7 C1007.2,867.4 1008.7,861.2 1010.7,856.7 C1012.7,852.2 1015.2,848.9 1018.7,846.0Z"/></clipPath>
<circle cx="1027.5" cy="846.9" r="9.2" fill="#a86a2c"/>
<circle cx="1035.9" cy="845.2" r="8.1" fill="#a86a2c"/>
<circle cx="1042.6" cy="852.5" r="9.2" fill="#a86a2c"/>
<circle cx="1058.7" cy="861.5" r="9.2" fill="#a86a2c"/>
<circle cx="1070.9" cy="864.8" r="9.2" fill="#a86a2c"/>
<circle cx="1078.0" cy="875.3" r="9.2" fill="#a86a2c"/>
<circle cx="1079.3" cy="890.5" r="9.2" fill="#a86a2c"/>
<circle cx="1082.3" cy="905.3" r="7.2" fill="#a86a2c"/>
<circle cx="1081.5" cy="910.7" r="8.4" fill="#a86a2c"/>
<circle cx="1072.6" cy="917.7" r="9.2" fill="#a86a2c"/>
<circle cx="1058.0" cy="928.0" r="9.2" fill="#a86a2c"/>
<circle cx="1048.8" cy="930.6" r="9.2" fill="#a86a2c"/>
<circle cx="1039.8" cy="925.8" r="9.2" fill="#a86a2c"/>
<circle cx="1035.4" cy="914.5" r="9.2" fill="#a86a2c"/>
<circle cx="1027.4" cy="898.6" r="9.2" fill="#a86a2c"/>
<circle cx="1016.2" cy="888.9" r="9.2" fill="#a86a2c"/>
<circle cx="1012.1" cy="880.3" r="9.2" fill="#a86a2c"/>
<circle cx="1013.4" cy="865.9" r="9.2" fill="#a86a2c"/>
<circle cx="1018.5" cy="854.2" r="9.2" fill="#a86a2c"/>
<circle cx="1027.5" cy="846.9" r="8.0" fill="url(#s_yo)"/>
<circle cx="1035.9" cy="845.2" r="6.9" fill="url(#s_yo)"/>
<circle cx="1042.6" cy="852.5" r="8.0" fill="url(#s_yo)"/>
<circle cx="1058.7" cy="861.5" r="8.0" fill="url(#s_yo)"/>
<circle cx="1070.9" cy="864.8" r="8.0" fill="url(#s_yo)"/>
<circle cx="1078.0" cy="875.3" r="8.0" fill="url(#s_yo)"/>
<circle cx="1079.3" cy="890.5" r="8.0" fill="url(#s_yo)"/>
<circle cx="1082.3" cy="905.3" r="6.0" fill="url(#s_yo)"/>
<circle cx="1081.5" cy="910.7" r="7.2" fill="url(#s_yo)"/>
<circle cx="1072.6" cy="917.7" r="8.0" fill="url(#s_yo)"/>
<circle cx="1058.0" cy="928.0" r="8.0" fill="url(#s_yo)"/>
<circle cx="1048.8" cy="930.6" r="8.0" fill="url(#s_yo)"/>
<circle cx="1039.8" cy="925.8" r="8.0" fill="url(#s_yo)"/>
<circle cx="1035.4" cy="914.5" r="8.0" fill="url(#s_yo)"/>
<circle cx="1027.4" cy="898.6" r="8.0" fill="url(#s_yo)"/>
<circle cx="1016.2" cy="888.9" r="8.0" fill="url(#s_yo)"/>
<circle cx="1012.1" cy="880.3" r="8.0" fill="url(#s_yo)"/>
<circle cx="1013.4" cy="865.9" r="8.0" fill="url(#s_yo)"/>
<circle cx="1018.5" cy="854.2" r="8.0" fill="url(#s_yo)"/>
<path d="M1018.7,846.0 C1022.2,843.1 1028.0,839.8 1032.0,839.3 C1036.0,838.8 1039.6,840.4 1042.7,843.3 C1045.8,846.2 1046.7,854.5 1050.7,856.7 C1054.7,858.9 1061.8,855.4 1066.7,856.7 C1071.6,858.0 1076.9,860.3 1080.0,864.7 C1083.1,869.1 1084.8,877.5 1085.3,883.3 C1085.8,889.1 1082.2,895.3 1082.7,899.3 C1083.2,903.3 1088.0,904.2 1088.0,907.3 C1088.0,910.4 1086.2,914.9 1082.7,918.0 C1079.2,921.1 1071.2,922.9 1066.7,926.0 C1062.2,929.1 1060.5,935.4 1056.0,936.7 C1051.5,938.0 1044.0,936.2 1040.0,934.0 C1036.0,931.8 1033.8,927.8 1032.0,923.3 C1030.2,918.8 1031.5,911.7 1029.3,907.3 C1027.1,902.9 1022.2,899.8 1018.7,896.7 C1015.2,893.6 1010.0,892.7 1008.0,888.7 C1006.0,884.7 1006.2,878.0 1006.7,872.7 C1007.2,867.4 1008.7,861.2 1010.7,856.7 C1012.7,852.2 1015.2,848.9 1018.7,846.0Z" fill="#e8a255"/>
<g clip-path="url(#clp11)">
<g filter="url(#blur3)" opacity="0.35" fill="#a86a2c">
<circle cx="1021" cy="847" r="6"/>
<circle cx="1044" cy="846" r="9"/>
<circle cx="1018" cy="854" r="8"/>
<circle cx="1032" cy="853" r="8"/>
<circle cx="1047" cy="858" r="9"/>
<circle cx="1065" cy="856" r="9"/>
<circle cx="1083" cy="857" r="10"/>
<circle cx="1015" cy="872" r="9"/>
<circle cx="1024" cy="870" r="9"/>
<circle cx="1036" cy="865" r="6"/>
<circle cx="1055" cy="873" r="8"/>
<circle cx="1069" cy="869" r="7"/>
<circle cx="1089" cy="868" r="7"/>
<circle cx="1021" cy="881" r="8"/>
<circle cx="1030" cy="887" r="9"/>
<circle cx="1048" cy="879" r="8"/>
<circle cx="1063" cy="887" r="9"/>
<circle cx="1079" cy="880" r="6"/>
<circle cx="1096" cy="886" r="7"/>
<circle cx="1011" cy="896" r="10"/>
<circle cx="1022" cy="892" r="9"/>
<circle cx="1041" cy="896" r="9"/>
<circle cx="1056" cy="897" r="7"/>
<circle cx="1066" cy="891" r="7"/>
<circle cx="1086" cy="894" r="7"/>
<circle cx="1036" cy="911" r="6"/>
<circle cx="1049" cy="907" r="7"/>
<circle cx="1063" cy="905" r="7"/>
<circle cx="1083" cy="908" r="9"/>
<circle cx="1094" cy="907" r="7"/>
<circle cx="1043" cy="919" r="9"/>
<circle cx="1057" cy="921" r="9"/>
<circle cx="1067" cy="918" r="7"/>
<circle cx="1087" cy="922" r="8"/>
<circle cx="1035" cy="938" r="8"/>
<circle cx="1049" cy="936" r="9"/>
<circle cx="1062" cy="933" r="8"/>
<circle cx="1078" cy="931" r="8"/>
<circle cx="1093" cy="932" r="9"/>
<circle cx="1038" cy="944" r="7"/>
<circle cx="1061" cy="945" r="9"/>
</g>
<g filter="url(#blur3)" opacity="0.55" fill="#f6c47a">
<circle cx="1017" cy="842" r="4"/>
<circle cx="1038" cy="838" r="6"/>
<circle cx="1012" cy="847" r="5"/>
<circle cx="1026" cy="846" r="5"/>
<circle cx="1040" cy="850" r="6"/>
<circle cx="1058" cy="848" r="6"/>
<circle cx="1076" cy="849" r="6"/>
<circle cx="1008" cy="864" r="6"/>
<circle cx="1017" cy="862" r="6"/>
<circle cx="1031" cy="860" r="4"/>
<circle cx="1049" cy="866" r="5"/>
<circle cx="1064" cy="863" r="4"/>
<circle cx="1084" cy="862" r="5"/>
<circle cx="1016" cy="874" r="5"/>
<circle cx="1023" cy="879" r="6"/>
<circle cx="1042" cy="872" r="5"/>
<circle cx="1056" cy="878" r="6"/>
<circle cx="1075" cy="874" r="4"/>
<circle cx="1091" cy="880" r="4"/>
<circle cx="1004" cy="888" r="6"/>
<circle cx="1015" cy="885" r="6"/>
<circle cx="1035" cy="888" r="6"/>
<circle cx="1051" cy="891" r="5"/>
<circle cx="1061" cy="885" r="5"/>
<circle cx="1081" cy="888" r="5"/>
<circle cx="1031" cy="906" r="4"/>
<circle cx="1044" cy="901" r="5"/>
<circle cx="1058" cy="899" r="5"/>
<circle cx="1076" cy="900" r="6"/>
<circle cx="1089" cy="900" r="5"/>
<circle cx="1036" cy="911" r="6"/>
<circle cx="1050" cy="913" r="6"/>
<circle cx="1061" cy="912" r="5"/>
<circle cx="1082" cy="915" r="5"/>
<circle cx="1028" cy="931" r="6"/>
<circle cx="1043" cy="928" r="6"/>
<circle cx="1056" cy="926" r="5"/>
<circle cx="1072" cy="925" r="5"/>
<circle cx="1087" cy="925" r="6"/>
<circle cx="1033" cy="938" r="5"/>
<circle cx="1054" cy="937" r="6"/>
</g>
<g fill="none" stroke="#a86a2c" stroke-width="1" opacity="0.45">
<circle cx="1019" cy="844" r="8" stroke-dasharray="20 30" stroke-dashoffset="45"/>
<circle cx="1040" cy="841" r="12" stroke-dasharray="31 46" stroke-dashoffset="18"/>
<circle cx="1014" cy="850" r="10" stroke-dasharray="26 39" stroke-dashoffset="10"/>
<circle cx="1028" cy="849" r="11" stroke-dasharray="27 41" stroke-dashoffset="59"/>
<circle cx="1043" cy="853" r="13" stroke-dasharray="32 48" stroke-dashoffset="4"/>
<circle cx="1061" cy="851" r="12" stroke-dasharray="31 46" stroke-dashoffset="32"/>
<circle cx="1079" cy="852" r="13" stroke-dasharray="32 48" stroke-dashoffset="34"/>
<circle cx="1011" cy="867" r="12" stroke-dasharray="29 44" stroke-dashoffset="64"/>
<circle cx="1020" cy="865" r="12" stroke-dasharray="31 47" stroke-dashoffset="29"/>
<circle cx="1033" cy="862" r="8" stroke-dasharray="21 31" stroke-dashoffset="29"/>
<circle cx="1051" cy="868" r="11" stroke-dasharray="27 41" stroke-dashoffset="34"/>
<circle cx="1066" cy="865" r="9" stroke-dasharray="22 34" stroke-dashoffset="27"/>
<circle cx="1086" cy="864" r="9" stroke-dasharray="23 35" stroke-dashoffset="27"/>
<circle cx="1018" cy="877" r="10" stroke-dasharray="26 38" stroke-dashoffset="30"/>
<circle cx="1025" cy="882" r="12" stroke-dasharray="30 45" stroke-dashoffset="45"/>
<circle cx="1044" cy="875" r="10" stroke-dasharray="26 39" stroke-dashoffset="28"/>
<circle cx="1058" cy="882" r="13" stroke-dasharray="32 48" stroke-dashoffset="34"/>
<circle cx="1076" cy="877" r="8" stroke-dasharray="21 31" stroke-dashoffset="48"/>
<circle cx="1093" cy="882" r="9" stroke-dasharray="22 33" stroke-dashoffset="54"/>
<circle cx="1007" cy="891" r="13" stroke-dasharray="32 49" stroke-dashoffset="20"/>
<circle cx="1018" cy="888" r="12" stroke-dasharray="31 46" stroke-dashoffset="73"/>
<circle cx="1037" cy="891" r="12" stroke-dasharray="30 45" stroke-dashoffset="2"/>
<circle cx="1053" cy="893" r="9" stroke-dasharray="23 35" stroke-dashoffset="19"/>
<circle cx="1063" cy="887" r="10" stroke-dasharray="24 36" stroke-dashoffset="55"/>
<circle cx="1083" cy="890" r="10" stroke-dasharray="24 37" stroke-dashoffset="10"/>
<circle cx="1033" cy="908" r="8" stroke-dasharray="20 30" stroke-dashoffset="34"/>
<circle cx="1046" cy="903" r="10" stroke-dasharray="25 37" stroke-dashoffset="62"/>
<circle cx="1059" cy="901" r="9" stroke-dasharray="23 35" stroke-dashoffset="36"/>
<circle cx="1079" cy="903" r="13" stroke-dasharray="32 47" stroke-dashoffset="36"/>
<circle cx="1091" cy="903" r="10" stroke-dasharray="24 36" stroke-dashoffset="2"/>
<circle cx="1039" cy="914" r="12" stroke-dasharray="31 46" stroke-dashoffset="35"/>
<circle cx="1052" cy="916" r="12" stroke-dasharray="31 47" stroke-dashoffset="36"/>
<circle cx="1063" cy="914" r="10" stroke-dasharray="24 37" stroke-dashoffset="48"/>
<circle cx="1084" cy="918" r="10" stroke-dasharray="26 39" stroke-dashoffset="26"/>
<circle cx="1031" cy="934" r="11" stroke-dasharray="28 43" stroke-dashoffset="57"/>
<circle cx="1045" cy="931" r="12" stroke-dasharray="30 44" stroke-dashoffset="30"/>
<circle cx="1058" cy="928" r="11" stroke-dasharray="27 41" stroke-dashoffset="43"/>
<circle cx="1074" cy="927" r="11" stroke-dasharray="27 40" stroke-dashoffset="51"/>
<circle cx="1089" cy="928" r="12" stroke-dasharray="29 43" stroke-dashoffset="12"/>
<circle cx="1035" cy="940" r="9" stroke-dasharray="24 35" stroke-dashoffset="56"/>
<circle cx="1056" cy="940" r="13" stroke-dasharray="32 47" stroke-dashoffset="36"/>
</g></g>
<path d="M1018.7,846.0 C1022.2,843.1 1028.0,839.8 1032.0,839.3 C1036.0,838.8 1039.6,840.4 1042.7,843.3 C1045.8,846.2 1046.7,854.5 1050.7,856.7 C1054.7,858.9 1061.8,855.4 1066.7,856.7 C1071.6,858.0 1076.9,860.3 1080.0,864.7 C1083.1,869.1 1084.8,877.5 1085.3,883.3 C1085.8,889.1 1082.2,895.3 1082.7,899.3 C1083.2,903.3 1088.0,904.2 1088.0,907.3 C1088.0,910.4 1086.2,914.9 1082.7,918.0 C1079.2,921.1 1071.2,922.9 1066.7,926.0 C1062.2,929.1 1060.5,935.4 1056.0,936.7 C1051.5,938.0 1044.0,936.2 1040.0,934.0 C1036.0,931.8 1033.8,927.8 1032.0,923.3 C1030.2,918.8 1031.5,911.7 1029.3,907.3 C1027.1,902.9 1022.2,899.8 1018.7,896.7 C1015.2,893.6 1010.0,892.7 1008.0,888.7 C1006.0,884.7 1006.2,878.0 1006.7,872.7 C1007.2,867.4 1008.7,861.2 1010.7,856.7 C1012.7,852.2 1015.2,848.9 1018.7,846.0Z" fill="none" stroke="#a86a2c" stroke-width="1.4" stroke-opacity="0.9"/>
<clipPath id="clp12"><path d="M1042.7,862.0 C1044.5,858.5 1049.3,857.8 1053.3,856.7 C1057.3,855.6 1062.7,854.4 1066.7,855.3 C1070.7,856.2 1074.6,858.7 1077.3,862.0 C1080.0,865.3 1082.2,870.4 1082.7,875.3 C1083.2,880.2 1081.8,887.3 1080.0,891.3 C1078.2,895.3 1075.1,898.8 1072.0,899.3 C1068.9,899.8 1064.8,895.8 1061.3,894.0 C1057.8,892.2 1053.8,891.4 1050.7,888.7 C1047.6,886.0 1044.0,882.5 1042.7,878.0 C1041.4,873.5 1040.9,865.5 1042.7,862.0Z"/></clipPath>
<circle cx="1049.9" cy="863.1" r="8.2" fill="#923522"/>
<circle cx="1060.4" cy="860.2" r="8.2" fill="#923522"/>
<circle cx="1069.8" cy="862.2" r="8.2" fill="#923522"/>
<circle cx="1076.1" cy="870.2" r="8.2" fill="#923522"/>
<circle cx="1077.2" cy="882.6" r="8.2" fill="#923522"/>
<circle cx="1073.1" cy="892.4" r="8.0" fill="#923522"/>
<circle cx="1068.5" cy="892.9" r="8.2" fill="#923522"/>
<circle cx="1057.9" cy="887.6" r="8.2" fill="#923522"/>
<circle cx="1050.1" cy="880.8" r="8.2" fill="#923522"/>
<circle cx="1046.9" cy="870.0" r="8.2" fill="#923522"/>
<circle cx="1049.9" cy="863.1" r="7.0" fill="url(#s_rd)"/>
<circle cx="1060.4" cy="860.2" r="7.0" fill="url(#s_rd)"/>
<circle cx="1069.8" cy="862.2" r="7.0" fill="url(#s_rd)"/>
<circle cx="1076.1" cy="870.2" r="7.0" fill="url(#s_rd)"/>
<circle cx="1077.2" cy="882.6" r="7.0" fill="url(#s_rd)"/>
<circle cx="1073.1" cy="892.4" r="6.8" fill="url(#s_rd)"/>
<circle cx="1068.5" cy="892.9" r="7.0" fill="url(#s_rd)"/>
<circle cx="1057.9" cy="887.6" r="7.0" fill="url(#s_rd)"/>
<circle cx="1050.1" cy="880.8" r="7.0" fill="url(#s_rd)"/>
<circle cx="1046.9" cy="870.0" r="7.0" fill="url(#s_rd)"/>
<path d="M1042.7,862.0 C1044.5,858.5 1049.3,857.8 1053.3,856.7 C1057.3,855.6 1062.7,854.4 1066.7,855.3 C1070.7,856.2 1074.6,858.7 1077.3,862.0 C1080.0,865.3 1082.2,870.4 1082.7,875.3 C1083.2,880.2 1081.8,887.3 1080.0,891.3 C1078.2,895.3 1075.1,898.8 1072.0,899.3 C1068.9,899.8 1064.8,895.8 1061.3,894.0 C1057.8,892.2 1053.8,891.4 1050.7,888.7 C1047.6,886.0 1044.0,882.5 1042.7,878.0 C1041.4,873.5 1040.9,865.5 1042.7,862.0Z" fill="#dc5f3e"/>
<g clip-path="url(#clp12)">
<g filter="url(#blur3)" opacity="0.35" fill="#923522">
<circle cx="1045" cy="859" r="7"/>
<circle cx="1059" cy="858" r="7"/>
<circle cx="1069" cy="859" r="5"/>
<circle cx="1056" cy="869" r="8"/>
<circle cx="1067" cy="871" r="5"/>
<circle cx="1078" cy="871" r="6"/>
<circle cx="1048" cy="880" r="7"/>
<circle cx="1060" cy="885" r="6"/>
<circle cx="1069" cy="886" r="8"/>
<circle cx="1087" cy="881" r="6"/>
<circle cx="1049" cy="895" r="7"/>
<circle cx="1062" cy="895" r="7"/>
<circle cx="1082" cy="893" r="8"/>
<circle cx="1091" cy="894" r="7"/>
<circle cx="1058" cy="903" r="7"/>
<circle cx="1073" cy="903" r="6"/>
</g>
<g filter="url(#blur3)" opacity="0.55" fill="#f08a64">
<circle cx="1040" cy="853" r="4"/>
<circle cx="1053" cy="852" r="5"/>
<circle cx="1065" cy="855" r="4"/>
<circle cx="1051" cy="862" r="5"/>
<circle cx="1063" cy="866" r="4"/>
<circle cx="1073" cy="866" r="4"/>
<circle cx="1043" cy="875" r="4"/>
<circle cx="1055" cy="879" r="4"/>
<circle cx="1063" cy="879" r="5"/>
<circle cx="1082" cy="876" r="4"/>
<circle cx="1044" cy="888" r="5"/>
<circle cx="1057" cy="890" r="4"/>
<circle cx="1076" cy="886" r="5"/>
<circle cx="1086" cy="888" r="4"/>
<circle cx="1053" cy="897" r="5"/>
<circle cx="1068" cy="898" r="4"/>
</g>
<g fill="none" stroke="#923522" stroke-width="1" opacity="0.45">
<circle cx="1042" cy="855" r="9" stroke-dasharray="22 33" stroke-dashoffset="14"/>
<circle cx="1055" cy="855" r="10" stroke-dasharray="24 36" stroke-dashoffset="11"/>
<circle cx="1067" cy="856" r="7" stroke-dasharray="18 27" stroke-dashoffset="0"/>
<circle cx="1053" cy="865" r="11" stroke-dasharray="27 40" stroke-dashoffset="35"/>
<circle cx="1065" cy="868" r="7" stroke-dasharray="18 27" stroke-dashoffset="41"/>
<circle cx="1075" cy="868" r="8" stroke-dasharray="21 31" stroke-dashoffset="5"/>
<circle cx="1045" cy="877" r="9" stroke-dasharray="22 33" stroke-dashoffset="8"/>
<circle cx="1057" cy="881" r="8" stroke-dasharray="21 31" stroke-dashoffset="20"/>
<circle cx="1065" cy="882" r="10" stroke-dasharray="26 39" stroke-dashoffset="3"/>
<circle cx="1084" cy="878" r="8" stroke-dasharray="20 30" stroke-dashoffset="23"/>
<circle cx="1046" cy="891" r="10" stroke-dasharray="25 37" stroke-dashoffset="45"/>
<circle cx="1058" cy="892" r="9" stroke-dasharray="23 34" stroke-dashoffset="26"/>
<circle cx="1078" cy="889" r="10" stroke-dasharray="26 38" stroke-dashoffset="2"/>
<circle cx="1088" cy="890" r="9" stroke-dasharray="23 34" stroke-dashoffset="2"/>
<circle cx="1055" cy="900" r="9" stroke-dasharray="23 35" stroke-dashoffset="11"/>
<circle cx="1070" cy="900" r="8" stroke-dasharray="21 31" stroke-dashoffset="35"/>
</g></g>
<path d="M1042.7,862.0 C1044.5,858.5 1049.3,857.8 1053.3,856.7 C1057.3,855.6 1062.7,854.4 1066.7,855.3 C1070.7,856.2 1074.6,858.7 1077.3,862.0 C1080.0,865.3 1082.2,870.4 1082.7,875.3 C1083.2,880.2 1081.8,887.3 1080.0,891.3 C1078.2,895.3 1075.1,898.8 1072.0,899.3 C1068.9,899.8 1064.8,895.8 1061.3,894.0 C1057.8,892.2 1053.8,891.4 1050.7,888.7 C1047.6,886.0 1044.0,882.5 1042.7,878.0 C1041.4,873.5 1040.9,865.5 1042.7,862.0Z" fill="none" stroke="#923522" stroke-width="1.4" stroke-opacity="0.9"/>
<clipPath id="clp13"><path d="M928.0,738.0 C929.5,734.7 932.5,730.9 936.0,728.7 C939.5,726.5 944.4,725.2 949.3,724.7 C954.2,724.2 961.1,724.7 965.3,726.0 C969.5,727.3 972.5,729.8 974.7,732.7 C976.9,735.6 978.5,739.8 978.7,743.3 C978.9,746.8 975.3,750.4 976.0,754.0 C976.7,757.6 980.9,761.2 982.7,764.7 C984.5,768.2 986.5,771.8 986.7,775.3 C986.9,778.8 986.2,782.9 984.0,786.0 C981.8,789.1 977.3,792.5 973.3,794.0 C969.3,795.5 963.5,796.2 960.0,795.3 C956.5,794.4 955.1,790.7 952.0,788.7 C948.9,786.7 944.8,785.5 941.3,783.3 C937.8,781.1 933.4,778.8 930.7,775.3 C928.0,771.8 926.0,766.4 925.3,762.0 C924.6,757.6 926.2,752.7 926.7,748.7 C927.2,744.7 926.5,741.3 928.0,738.0Z"/></clipPath>
<circle cx="935.2" cy="736.1" r="8.2" fill="#923522"/>
<circle cx="943.9" cy="730.7" r="8.2" fill="#923522"/>
<circle cx="957.0" cy="729.5" r="8.2" fill="#923522"/>
<circle cx="967.6" cy="732.7" r="8.1" fill="#923522"/>
<circle cx="972.9" cy="739.4" r="8.0" fill="#923522"/>
<circle cx="973.5" cy="747.7" r="7.8" fill="#923522"/>
<circle cx="975.8" cy="761.6" r="8.2" fill="#923522"/>
<circle cx="980.9" cy="771.4" r="8.0" fill="#923522"/>
<circle cx="981.5" cy="779.7" r="7.8" fill="#923522"/>
<circle cx="976.1" cy="786.6" r="8.2" fill="#923522"/>
<circle cx="966.2" cy="790.5" r="8.2" fill="#923522"/>
<circle cx="958.4" cy="789.1" r="7.4" fill="#923522"/>
<circle cx="948.5" cy="782.3" r="8.2" fill="#923522"/>
<circle cx="938.5" cy="775.9" r="8.2" fill="#923522"/>
<circle cx="931.9" cy="767.1" r="8.2" fill="#923522"/>
<circle cx="930.2" cy="755.8" r="8.2" fill="#923522"/>
<circle cx="931.2" cy="743.8" r="7.7" fill="#923522"/>
<circle cx="935.2" cy="736.1" r="7.0" fill="url(#s_rd)"/>
<circle cx="943.9" cy="730.7" r="7.0" fill="url(#s_rd)"/>
<circle cx="957.0" cy="729.5" r="7.0" fill="url(#s_rd)"/>
<circle cx="967.6" cy="732.7" r="6.9" fill="url(#s_rd)"/>
<circle cx="972.9" cy="739.4" r="6.8" fill="url(#s_rd)"/>
<circle cx="973.5" cy="747.7" r="6.6" fill="url(#s_rd)"/>
<circle cx="975.8" cy="761.6" r="7.0" fill="url(#s_rd)"/>
<circle cx="980.9" cy="771.4" r="6.8" fill="url(#s_rd)"/>
<circle cx="981.5" cy="779.7" r="6.6" fill="url(#s_rd)"/>
<circle cx="976.1" cy="786.6" r="7.0" fill="url(#s_rd)"/>
<circle cx="966.2" cy="790.5" r="7.0" fill="url(#s_rd)"/>
<circle cx="958.4" cy="789.1" r="6.2" fill="url(#s_rd)"/>
<circle cx="948.5" cy="782.3" r="7.0" fill="url(#s_rd)"/>
<circle cx="938.5" cy="775.9" r="7.0" fill="url(#s_rd)"/>
<circle cx="931.9" cy="767.1" r="7.0" fill="url(#s_rd)"/>
<circle cx="930.2" cy="755.8" r="7.0" fill="url(#s_rd)"/>
<circle cx="931.2" cy="743.8" r="6.5" fill="url(#s_rd)"/>
<path d="M928.0,738.0 C929.5,734.7 932.5,730.9 936.0,728.7 C939.5,726.5 944.4,725.2 949.3,724.7 C954.2,724.2 961.1,724.7 965.3,726.0 C969.5,727.3 972.5,729.8 974.7,732.7 C976.9,735.6 978.5,739.8 978.7,743.3 C978.9,746.8 975.3,750.4 976.0,754.0 C976.7,757.6 980.9,761.2 982.7,764.7 C984.5,768.2 986.5,771.8 986.7,775.3 C986.9,778.8 986.2,782.9 984.0,786.0 C981.8,789.1 977.3,792.5 973.3,794.0 C969.3,795.5 963.5,796.2 960.0,795.3 C956.5,794.4 955.1,790.7 952.0,788.7 C948.9,786.7 944.8,785.5 941.3,783.3 C937.8,781.1 933.4,778.8 930.7,775.3 C928.0,771.8 926.0,766.4 925.3,762.0 C924.6,757.6 926.2,752.7 926.7,748.7 C927.2,744.7 926.5,741.3 928.0,738.0Z" fill="#dc5f3e"/>
<g clip-path="url(#clp13)">
<g filter="url(#blur3)" opacity="0.35" fill="#923522">
<circle cx="930" cy="732" r="9"/>
<circle cx="941" cy="731" r="8"/>
<circle cx="957" cy="725" r="6"/>
<circle cx="969" cy="730" r="7"/>
<circle cx="933" cy="744" r="9"/>
<circle cx="947" cy="743" r="8"/>
<circle cx="968" cy="739" r="8"/>
<circle cx="981" cy="742" r="7"/>
<circle cx="988" cy="745" r="7"/>
<circle cx="933" cy="751" r="8"/>
<circle cx="945" cy="756" r="6"/>
<circle cx="956" cy="750" r="8"/>
<circle cx="969" cy="757" r="7"/>
<circle cx="987" cy="756" r="7"/>
<circle cx="935" cy="764" r="8"/>
<circle cx="947" cy="766" r="8"/>
<circle cx="964" cy="762" r="8"/>
<circle cx="981" cy="763" r="7"/>
<circle cx="943" cy="776" r="8"/>
<circle cx="958" cy="775" r="6"/>
<circle cx="974" cy="780" r="6"/>
<circle cx="985" cy="779" r="7"/>
<circle cx="935" cy="787" r="7"/>
<circle cx="946" cy="786" r="7"/>
<circle cx="967" cy="790" r="8"/>
<circle cx="981" cy="791" r="6"/>
<circle cx="996" cy="787" r="8"/>
<circle cx="968" cy="800" r="8"/>
<circle cx="985" cy="801" r="7"/>
</g>
<g filter="url(#blur3)" opacity="0.55" fill="#f08a64">
<circle cx="923" cy="724" r="6"/>
<circle cx="935" cy="724" r="5"/>
<circle cx="953" cy="719" r="4"/>
<circle cx="965" cy="725" r="5"/>
<circle cx="926" cy="737" r="6"/>
<circle cx="941" cy="736" r="5"/>
<circle cx="962" cy="732" r="5"/>
<circle cx="976" cy="736" r="5"/>
<circle cx="983" cy="738" r="5"/>
<circle cx="927" cy="743" r="6"/>
<circle cx="940" cy="751" r="4"/>
<circle cx="950" cy="743" r="6"/>
<circle cx="964" cy="751" r="5"/>
<circle cx="982" cy="750" r="4"/>
<circle cx="929" cy="756" r="6"/>
<circle cx="942" cy="760" r="5"/>
<circle cx="959" cy="755" r="5"/>
<circle cx="976" cy="757" r="5"/>
<circle cx="937" cy="769" r="5"/>
<circle cx="954" cy="770" r="4"/>
<circle cx="970" cy="775" r="4"/>
<circle cx="980" cy="773" r="5"/>
<circle cx="930" cy="781" r="5"/>
<circle cx="942" cy="780" r="4"/>
<circle cx="961" cy="783" r="6"/>
<circle cx="976" cy="786" r="4"/>
<circle cx="990" cy="779" r="6"/>
<circle cx="962" cy="793" r="5"/>
<circle cx="979" cy="794" r="5"/>
</g>
<g fill="none" stroke="#923522" stroke-width="1" opacity="0.45">
<circle cx="925" cy="727" r="12" stroke-dasharray="30 45" stroke-dashoffset="72"/>
<circle cx="938" cy="727" r="11" stroke-dasharray="27 41" stroke-dashoffset="51"/>
<circle cx="955" cy="721" r="8" stroke-dasharray="20 31" stroke-dashoffset="12"/>
<circle cx="966" cy="727" r="9" stroke-dasharray="23 34" stroke-dashoffset="18"/>
<circle cx="929" cy="740" r="12" stroke-dasharray="29 43" stroke-dashoffset="14"/>
<circle cx="943" cy="739" r="10" stroke-dasharray="26 39" stroke-dashoffset="23"/>
<circle cx="964" cy="734" r="10" stroke-dasharray="26 38" stroke-dashoffset="2"/>
<circle cx="978" cy="738" r="9" stroke-dasharray="23 35" stroke-dashoffset="43"/>
<circle cx="985" cy="741" r="10" stroke-dasharray="25 37" stroke-dashoffset="35"/>
<circle cx="929" cy="746" r="11" stroke-dasharray="28 42" stroke-dashoffset="30"/>
<circle cx="942" cy="753" r="8" stroke-dasharray="20 30" stroke-dashoffset="45"/>
<circle cx="952" cy="745" r="11" stroke-dasharray="28 41" stroke-dashoffset="23"/>
<circle cx="966" cy="753" r="9" stroke-dasharray="24 36" stroke-dashoffset="35"/>
<circle cx="984" cy="752" r="9" stroke-dasharray="23 34" stroke-dashoffset="52"/>
<circle cx="931" cy="759" r="11" stroke-dasharray="28 42" stroke-dashoffset="39"/>
<circle cx="944" cy="762" r="10" stroke-dasharray="26 39" stroke-dashoffset="39"/>
<circle cx="961" cy="758" r="11" stroke-dasharray="27 40" stroke-dashoffset="25"/>
<circle cx="978" cy="760" r="9" stroke-dasharray="23 35" stroke-dashoffset="58"/>
<circle cx="939" cy="772" r="11" stroke-dasharray="26 40" stroke-dashoffset="50"/>
<circle cx="955" cy="772" r="8" stroke-dasharray="21 31" stroke-dashoffset="16"/>
<circle cx="971" cy="777" r="8" stroke-dasharray="20 30" stroke-dashoffset="18"/>
<circle cx="982" cy="775" r="10" stroke-dasharray="24 36" stroke-dashoffset="36"/>
<circle cx="931" cy="783" r="9" stroke-dasharray="23 34" stroke-dashoffset="29"/>
<circle cx="943" cy="782" r="9" stroke-dasharray="22 33" stroke-dashoffset="29"/>
<circle cx="963" cy="786" r="11" stroke-dasharray="28 42" stroke-dashoffset="14"/>
<circle cx="978" cy="788" r="8" stroke-dasharray="21 31" stroke-dashoffset="30"/>
<circle cx="992" cy="782" r="11" stroke-dasharray="28 42" stroke-dashoffset="49"/>
<circle cx="964" cy="796" r="11" stroke-dasharray="27 41" stroke-dashoffset="52"/>
<circle cx="981" cy="797" r="10" stroke-dasharray="25 37" stroke-dashoffset="28"/>
</g></g>
<path d="M928.0,738.0 C929.5,734.7 932.5,730.9 936.0,728.7 C939.5,726.5 944.4,725.2 949.3,724.7 C954.2,724.2 961.1,724.7 965.3,726.0 C969.5,727.3 972.5,729.8 974.7,732.7 C976.9,735.6 978.5,739.8 978.7,743.3 C978.9,746.8 975.3,750.4 976.0,754.0 C976.7,757.6 980.9,761.2 982.7,764.7 C984.5,768.2 986.5,771.8 986.7,775.3 C986.9,778.8 986.2,782.9 984.0,786.0 C981.8,789.1 977.3,792.5 973.3,794.0 C969.3,795.5 963.5,796.2 960.0,795.3 C956.5,794.4 955.1,790.7 952.0,788.7 C948.9,786.7 944.8,785.5 941.3,783.3 C937.8,781.1 933.4,778.8 930.7,775.3 C928.0,771.8 926.0,766.4 925.3,762.0 C924.6,757.6 926.2,752.7 926.7,748.7 C927.2,744.7 926.5,741.3 928.0,738.0Z" fill="none" stroke="#923522" stroke-width="1.4" stroke-opacity="0.9"/>
<clipPath id="clp14"><path d="M1050.7,732.7 C1053.6,728.7 1057.8,722.5 1061.3,719.3 C1064.8,716.1 1068.0,713.9 1072.0,713.5 C1076.0,713.1 1081.8,714.4 1085.3,716.7 C1088.8,719.0 1091.5,722.9 1093.3,727.3 C1095.1,731.7 1094.7,738.0 1096.0,743.3 C1097.3,748.6 1099.1,753.5 1101.3,759.3 C1103.5,765.1 1106.4,772.2 1109.3,778.0 C1112.2,783.8 1116.7,789.1 1118.7,794.0 C1120.7,798.9 1122.0,802.4 1121.3,807.3 C1120.6,812.2 1117.1,818.4 1114.7,823.3 C1112.3,828.2 1110.3,833.1 1106.7,836.7 C1103.1,840.3 1098.6,843.2 1093.3,844.7 C1088.0,846.2 1080.9,846.5 1074.7,846.0 C1068.5,845.5 1061.1,844.5 1056.0,842.0 C1050.9,839.5 1046.2,836.2 1044.0,831.3 C1041.8,826.4 1042.2,818.5 1042.7,812.7 C1043.2,806.9 1046.3,802.5 1046.7,796.7 C1047.1,790.9 1046.0,784.2 1045.3,778.0 C1044.6,771.8 1042.9,765.1 1042.7,759.3 C1042.5,753.5 1042.7,747.7 1044.0,743.3 C1045.3,738.9 1047.8,736.7 1050.7,732.7Z"/></clipPath>
<circle cx="1059.8" cy="729.0" r="9.2" fill="#923522"/>
<circle cx="1068.7" cy="720.3" r="8.5" fill="#923522"/>
<circle cx="1077.5" cy="719.8" r="9.2" fill="#923522"/>
<circle cx="1085.5" cy="724.9" r="9.2" fill="#923522"/>
<circle cx="1089.9" cy="736.1" r="9.2" fill="#923522"/>
<circle cx="1094.1" cy="752.8" r="9.2" fill="#923522"/>
<circle cx="1100.9" cy="770.5" r="9.2" fill="#923522"/>
<circle cx="1109.9" cy="788.4" r="9.2" fill="#923522"/>
<circle cx="1115.3" cy="801.6" r="9.2" fill="#923522"/>
<circle cx="1113.6" cy="813.5" r="9.2" fill="#923522"/>
<circle cx="1106.6" cy="827.5" r="9.2" fill="#923522"/>
<circle cx="1097.5" cy="836.6" r="9.2" fill="#923522"/>
<circle cx="1083.7" cy="840.6" r="9.2" fill="#923522"/>
<circle cx="1066.4" cy="839.3" r="9.2" fill="#923522"/>
<circle cx="1053.2" cy="833.1" r="9.2" fill="#923522"/>
<circle cx="1048.1" cy="821.7" r="9.2" fill="#923522"/>
<circle cx="1049.4" cy="805.9" r="9.2" fill="#923522"/>
<circle cx="1050.8" cy="787.0" r="9.2" fill="#923522"/>
<circle cx="1048.8" cy="768.0" r="9.2" fill="#923522"/>
<circle cx="1048.1" cy="751.7" r="9.2" fill="#923522"/>
<circle cx="1051.2" cy="740.4" r="8.7" fill="#923522"/>
<circle cx="1059.8" cy="729.0" r="8.0" fill="url(#s_rd)"/>
<circle cx="1068.7" cy="720.3" r="7.3" fill="url(#s_rd)"/>
<circle cx="1077.5" cy="719.8" r="8.0" fill="url(#s_rd)"/>
<circle cx="1085.5" cy="724.9" r="8.0" fill="url(#s_rd)"/>
<circle cx="1089.9" cy="736.1" r="8.0" fill="url(#s_rd)"/>
<circle cx="1094.1" cy="752.8" r="8.0" fill="url(#s_rd)"/>
<circle cx="1100.9" cy="770.5" r="8.0" fill="url(#s_rd)"/>
<circle cx="1109.9" cy="788.4" r="8.0" fill="url(#s_rd)"/>
<circle cx="1115.3" cy="801.6" r="8.0" fill="url(#s_rd)"/>
<circle cx="1113.6" cy="813.5" r="8.0" fill="url(#s_rd)"/>
<circle cx="1106.6" cy="827.5" r="8.0" fill="url(#s_rd)"/>
<circle cx="1097.5" cy="836.6" r="8.0" fill="url(#s_rd)"/>
<circle cx="1083.7" cy="840.6" r="8.0" fill="url(#s_rd)"/>
<circle cx="1066.4" cy="839.3" r="8.0" fill="url(#s_rd)"/>
<circle cx="1053.2" cy="833.1" r="8.0" fill="url(#s_rd)"/>
<circle cx="1048.1" cy="821.7" r="8.0" fill="url(#s_rd)"/>
<circle cx="1049.4" cy="805.9" r="8.0" fill="url(#s_rd)"/>
<circle cx="1050.8" cy="787.0" r="8.0" fill="url(#s_rd)"/>
<circle cx="1048.8" cy="768.0" r="8.0" fill="url(#s_rd)"/>
<circle cx="1048.1" cy="751.7" r="8.0" fill="url(#s_rd)"/>
<circle cx="1051.2" cy="740.4" r="7.5" fill="url(#s_rd)"/>
<path d="M1050.7,732.7 C1053.6,728.7 1057.8,722.5 1061.3,719.3 C1064.8,716.1 1068.0,713.9 1072.0,713.5 C1076.0,713.1 1081.8,714.4 1085.3,716.7 C1088.8,719.0 1091.5,722.9 1093.3,727.3 C1095.1,731.7 1094.7,738.0 1096.0,743.3 C1097.3,748.6 1099.1,753.5 1101.3,759.3 C1103.5,765.1 1106.4,772.2 1109.3,778.0 C1112.2,783.8 1116.7,789.1 1118.7,794.0 C1120.7,798.9 1122.0,802.4 1121.3,807.3 C1120.6,812.2 1117.1,818.4 1114.7,823.3 C1112.3,828.2 1110.3,833.1 1106.7,836.7 C1103.1,840.3 1098.6,843.2 1093.3,844.7 C1088.0,846.2 1080.9,846.5 1074.7,846.0 C1068.5,845.5 1061.1,844.5 1056.0,842.0 C1050.9,839.5 1046.2,836.2 1044.0,831.3 C1041.8,826.4 1042.2,818.5 1042.7,812.7 C1043.2,806.9 1046.3,802.5 1046.7,796.7 C1047.1,790.9 1046.0,784.2 1045.3,778.0 C1044.6,771.8 1042.9,765.1 1042.7,759.3 C1042.5,753.5 1042.7,747.7 1044.0,743.3 C1045.3,738.9 1047.8,736.7 1050.7,732.7Z" fill="#dc5f3e"/>
<g clip-path="url(#clp14)">
<g filter="url(#blur3)" opacity="0.35" fill="#923522">
<circle cx="1059" cy="718" r="8"/>
<circle cx="1076" cy="717" r="7"/>
<circle cx="1089" cy="719" r="7"/>
<circle cx="1056" cy="735" r="9"/>
<circle cx="1065" cy="728" r="6"/>
<circle cx="1089" cy="729" r="9"/>
<circle cx="1099" cy="732" r="8"/>
<circle cx="1043" cy="746" r="8"/>
<circle cx="1059" cy="742" r="9"/>
<circle cx="1076" cy="743" r="8"/>
<circle cx="1088" cy="746" r="8"/>
<circle cx="1107" cy="743" r="9"/>
<circle cx="1055" cy="757" r="7"/>
<circle cx="1073" cy="759" r="9"/>
<circle cx="1087" cy="759" r="8"/>
<circle cx="1104" cy="754" r="9"/>
<circle cx="1045" cy="771" r="7"/>
<circle cx="1060" cy="773" r="7"/>
<circle cx="1073" cy="774" r="8"/>
<circle cx="1086" cy="770" r="7"/>
<circle cx="1104" cy="772" r="8"/>
<circle cx="1056" cy="782" r="8"/>
<circle cx="1070" cy="783" r="8"/>
<circle cx="1087" cy="786" r="7"/>
<circle cx="1097" cy="786" r="10"/>
<circle cx="1115" cy="780" r="6"/>
<circle cx="1049" cy="800" r="8"/>
<circle cx="1065" cy="793" r="6"/>
<circle cx="1080" cy="798" r="9"/>
<circle cx="1088" cy="794" r="8"/>
<circle cx="1103" cy="795" r="8"/>
<circle cx="1125" cy="798" r="7"/>
<circle cx="1059" cy="806" r="9"/>
<circle cx="1071" cy="804" r="7"/>
<circle cx="1081" cy="806" r="7"/>
<circle cx="1095" cy="811" r="8"/>
<circle cx="1111" cy="813" r="9"/>
<circle cx="1127" cy="813" r="9"/>
<circle cx="1047" cy="819" r="9"/>
<circle cx="1066" cy="826" r="10"/>
<circle cx="1073" cy="826" r="6"/>
<circle cx="1090" cy="823" r="8"/>
<circle cx="1107" cy="826" r="9"/>
<circle cx="1125" cy="824" r="8"/>
<circle cx="1050" cy="839" r="6"/>
<circle cx="1068" cy="838" r="9"/>
<circle cx="1084" cy="833" r="7"/>
<circle cx="1095" cy="835" r="6"/>
<circle cx="1110" cy="837" r="8"/>
<circle cx="1125" cy="835" r="9"/>
<circle cx="1061" cy="845" r="7"/>
<circle cx="1073" cy="850" r="9"/>
<circle cx="1091" cy="849" r="7"/>
<circle cx="1112" cy="847" r="9"/>
<circle cx="1118" cy="850" r="9"/>
</g>
<g filter="url(#blur3)" opacity="0.55" fill="#f08a64">
<circle cx="1053" cy="711" r="5"/>
<circle cx="1071" cy="711" r="5"/>
<circle cx="1084" cy="713" r="5"/>
<circle cx="1049" cy="727" r="6"/>
<circle cx="1061" cy="723" r="4"/>
<circle cx="1082" cy="721" r="6"/>
<circle cx="1093" cy="725" r="5"/>
<circle cx="1037" cy="738" r="6"/>
<circle cx="1052" cy="734" r="6"/>
<circle cx="1070" cy="736" r="5"/>
<circle cx="1082" cy="739" r="5"/>
<circle cx="1101" cy="735" r="6"/>
<circle cx="1050" cy="751" r="5"/>
<circle cx="1067" cy="751" r="6"/>
<circle cx="1081" cy="752" r="5"/>
<circle cx="1097" cy="746" r="6"/>
<circle cx="1040" cy="765" r="4"/>
<circle cx="1054" cy="766" r="5"/>
<circle cx="1067" cy="767" r="5"/>
<circle cx="1082" cy="764" r="4"/>
<circle cx="1097" cy="765" r="6"/>
<circle cx="1051" cy="776" r="5"/>
<circle cx="1064" cy="776" r="5"/>
<circle cx="1082" cy="780" r="4"/>
<circle cx="1090" cy="778" r="6"/>
<circle cx="1111" cy="775" r="4"/>
<circle cx="1043" cy="793" r="5"/>
<circle cx="1060" cy="788" r="4"/>
<circle cx="1073" cy="791" r="6"/>
<circle cx="1082" cy="787" r="5"/>
<circle cx="1097" cy="788" r="6"/>
<circle cx="1120" cy="791" r="5"/>
<circle cx="1052" cy="797" r="6"/>
<circle cx="1066" cy="798" r="5"/>
<circle cx="1076" cy="800" r="4"/>
<circle cx="1090" cy="804" r="5"/>
<circle cx="1104" cy="805" r="6"/>
<circle cx="1121" cy="805" r="6"/>
<circle cx="1041" cy="811" r="6"/>
<circle cx="1059" cy="818" r="6"/>
<circle cx="1068" cy="820" r="4"/>
<circle cx="1084" cy="815" r="6"/>
<circle cx="1101" cy="819" r="6"/>
<circle cx="1119" cy="817" r="5"/>
<circle cx="1046" cy="833" r="4"/>
<circle cx="1062" cy="830" r="6"/>
<circle cx="1079" cy="827" r="5"/>
<circle cx="1090" cy="830" r="4"/>
<circle cx="1105" cy="830" r="5"/>
<circle cx="1118" cy="827" r="6"/>
<circle cx="1056" cy="839" r="5"/>
<circle cx="1066" cy="842" r="6"/>
<circle cx="1086" cy="843" r="5"/>
<circle cx="1105" cy="839" r="6"/>
<circle cx="1111" cy="842" r="6"/>
</g>
<g fill="none" stroke="#923522" stroke-width="1" opacity="0.45">
<circle cx="1055" cy="713" r="10" stroke-dasharray="26 39" stroke-dashoffset="55"/>
<circle cx="1073" cy="713" r="9" stroke-dasharray="23 35" stroke-dashoffset="19"/>
<circle cx="1085" cy="715" r="10" stroke-dasharray="24 36" stroke-dashoffset="56"/>
<circle cx="1052" cy="730" r="12" stroke-dasharray="31 46" stroke-dashoffset="53"/>
<circle cx="1063" cy="725" r="8" stroke-dasharray="20 30" stroke-dashoffset="27"/>
<circle cx="1084" cy="724" r="12" stroke-dasharray="29 44" stroke-dashoffset="65"/>
<circle cx="1096" cy="727" r="11" stroke-dasharray="27 40" stroke-dashoffset="25"/>
<circle cx="1040" cy="741" r="11" stroke-dasharray="28 42" stroke-dashoffset="2"/>
<circle cx="1055" cy="737" r="11" stroke-dasharray="29 43" stroke-dashoffset="47"/>
<circle cx="1072" cy="739" r="10" stroke-dasharray="26 39" stroke-dashoffset="4"/>
<circle cx="1084" cy="741" r="11" stroke-dasharray="27 41" stroke-dashoffset="64"/>
<circle cx="1103" cy="738" r="12" stroke-dasharray="30 45" stroke-dashoffset="74"/>
<circle cx="1052" cy="753" r="9" stroke-dasharray="23 34" stroke-dashoffset="22"/>
<circle cx="1069" cy="754" r="12" stroke-dasharray="30 45" stroke-dashoffset="7"/>
<circle cx="1083" cy="754" r="11" stroke-dasharray="27 40" stroke-dashoffset="64"/>
<circle cx="1100" cy="749" r="11" stroke-dasharray="29 43" stroke-dashoffset="19"/>
<circle cx="1042" cy="768" r="9" stroke-dasharray="22 33" stroke-dashoffset="53"/>
<circle cx="1056" cy="769" r="10" stroke-dasharray="24 36" stroke-dashoffset="28"/>
<circle cx="1069" cy="770" r="11" stroke-dasharray="27 40" stroke-dashoffset="60"/>
<circle cx="1083" cy="766" r="9" stroke-dasharray="22 33" stroke-dashoffset="48"/>
<circle cx="1100" cy="768" r="11" stroke-dasharray="28 42" stroke-dashoffset="11"/>
<circle cx="1053" cy="778" r="10" stroke-dasharray="25 38" stroke-dashoffset="21"/>
<circle cx="1066" cy="778" r="10" stroke-dasharray="25 38" stroke-dashoffset="27"/>
<circle cx="1084" cy="782" r="9" stroke-dasharray="22 33" stroke-dashoffset="11"/>
<circle cx="1092" cy="781" r="13" stroke-dasharray="32 48" stroke-dashoffset="75"/>
<circle cx="1112" cy="777" r="8" stroke-dasharray="21 31" stroke-dashoffset="11"/>
<circle cx="1045" cy="796" r="11" stroke-dasharray="27 40" stroke-dashoffset="16"/>
<circle cx="1062" cy="790" r="8" stroke-dasharray="21 32" stroke-dashoffset="10"/>
<circle cx="1076" cy="794" r="12" stroke-dasharray="30 45" stroke-dashoffset="11"/>
<circle cx="1084" cy="790" r="11" stroke-dasharray="27 41" stroke-dashoffset="56"/>
<circle cx="1099" cy="790" r="11" stroke-dasharray="28 42" stroke-dashoffset="14"/>
<circle cx="1122" cy="794" r="10" stroke-dasharray="25 38" stroke-dashoffset="37"/>
<circle cx="1055" cy="800" r="13" stroke-dasharray="32 48" stroke-dashoffset="10"/>
<circle cx="1068" cy="801" r="9" stroke-dasharray="23 35" stroke-dashoffset="47"/>
<circle cx="1078" cy="802" r="9" stroke-dasharray="22 33" stroke-dashoffset="43"/>
<circle cx="1092" cy="806" r="10" stroke-dasharray="26 38" stroke-dashoffset="60"/>
<circle cx="1107" cy="808" r="12" stroke-dasharray="31 46" stroke-dashoffset="4"/>
<circle cx="1123" cy="808" r="12" stroke-dasharray="30 45" stroke-dashoffset="50"/>
<circle cx="1043" cy="814" r="12" stroke-dasharray="29 44" stroke-dashoffset="53"/>
<circle cx="1061" cy="821" r="13" stroke-dasharray="32 48" stroke-dashoffset="27"/>
<circle cx="1070" cy="822" r="8" stroke-dasharray="21 32" stroke-dashoffset="37"/>
<circle cx="1086" cy="818" r="11" stroke-dasharray="28 42" stroke-dashoffset="23"/>
<circle cx="1103" cy="822" r="12" stroke-dasharray="30 45" stroke-dashoffset="44"/>
<circle cx="1121" cy="819" r="10" stroke-dasharray="26 39" stroke-dashoffset="55"/>
<circle cx="1047" cy="835" r="8" stroke-dasharray="20 30" stroke-dashoffset="42"/>
<circle cx="1064" cy="833" r="12" stroke-dasharray="29 44" stroke-dashoffset="24"/>
<circle cx="1081" cy="829" r="9" stroke-dasharray="23 35" stroke-dashoffset="15"/>
<circle cx="1092" cy="832" r="8" stroke-dasharray="20 31" stroke-dashoffset="48"/>
<circle cx="1107" cy="833" r="10" stroke-dasharray="26 39" stroke-dashoffset="15"/>
<circle cx="1121" cy="830" r="13" stroke-dasharray="32 48" stroke-dashoffset="37"/>
<circle cx="1058" cy="842" r="9" stroke-dasharray="24 35" stroke-dashoffset="25"/>
<circle cx="1069" cy="845" r="12" stroke-dasharray="30 45" stroke-dashoffset="27"/>
<circle cx="1088" cy="845" r="9" stroke-dasharray="24 36" stroke-dashoffset="32"/>
<circle cx="1107" cy="842" r="13" stroke-dasharray="32 47" stroke-dashoffset="9"/>
<circle cx="1113" cy="845" r="12" stroke-dasharray="31 47" stroke-dashoffset="36"/>
</g></g>
<path d="M1050.7,732.7 C1053.6,728.7 1057.8,722.5 1061.3,719.3 C1064.8,716.1 1068.0,713.9 1072.0,713.5 C1076.0,713.1 1081.8,714.4 1085.3,716.7 C1088.8,719.0 1091.5,722.9 1093.3,727.3 C1095.1,731.7 1094.7,738.0 1096.0,743.3 C1097.3,748.6 1099.1,753.5 1101.3,759.3 C1103.5,765.1 1106.4,772.2 1109.3,778.0 C1112.2,783.8 1116.7,789.1 1118.7,794.0 C1120.7,798.9 1122.0,802.4 1121.3,807.3 C1120.6,812.2 1117.1,818.4 1114.7,823.3 C1112.3,828.2 1110.3,833.1 1106.7,836.7 C1103.1,840.3 1098.6,843.2 1093.3,844.7 C1088.0,846.2 1080.9,846.5 1074.7,846.0 C1068.5,845.5 1061.1,844.5 1056.0,842.0 C1050.9,839.5 1046.2,836.2 1044.0,831.3 C1041.8,826.4 1042.2,818.5 1042.7,812.7 C1043.2,806.9 1046.3,802.5 1046.7,796.7 C1047.1,790.9 1046.0,784.2 1045.3,778.0 C1044.6,771.8 1042.9,765.1 1042.7,759.3 C1042.5,753.5 1042.7,747.7 1044.0,743.3 C1045.3,738.9 1047.8,736.7 1050.7,732.7Z" fill="none" stroke="#923522" stroke-width="1.4" stroke-opacity="0.9"/>
<polyline points="956.9,749.5 957.9,750.8 958.6,751.9 958.9,752.7 959.0,753.0 958.9,752.7 958.8,751.9 958.7,750.5 958.9,748.9 959.4,747.2 960.2,745.6 961.3,744.4 962.7,743.7 964.2,743.5 965.8,744.0 967.3,744.9 968.6,746.1 969.6,747.4 970.3,748.6 970.6,749.4 970.7,749.7 970.6,749.4 970.5,748.5 970.4,747.2 970.6,745.5 971.0,743.8 971.8,742.3 972.9,741.0 974.3,740.3 975.9,740.2 977.5,740.6 979.0,741.6 980.3,742.8 981.3,744.1 981.9,745.2 982.3,746.1 982.3,746.3 982.3,746.1 982.1,745.2 982.1,743.9 982.2,742.2 982.7,740.5 983.5,738.9 984.6,737.7 986.0,737.0 987.5,736.9 989.1,737.3 990.6,738.2 991.9,739.5" fill="none" stroke="#6c767c" stroke-width="2.0" stroke-linejoin="round" stroke-linecap="round" />
<polyline points="1061.6,761.9 1060.8,763.8 1060.0,765.3 1059.3,766.3 1059.2,766.6 1059.5,766.5 1060.6,766.0 1062.1,765.4 1064.2,764.8 1066.5,764.5 1068.8,764.7 1070.9,765.4 1072.5,766.7 1073.6,768.5 1074.0,770.7 1073.9,773.0 1073.3,775.2 1072.5,777.2 1071.6,778.7 1071.0,779.6 1070.8,780.0 1071.2,779.8 1072.2,779.3 1073.8,778.7 1075.9,778.1 1078.1,777.8 1080.5,778.0 1082.5,778.7 1084.2,780.0 1085.3,781.8 1085.7,784.0 1085.6,786.3 1085.0,788.5 1084.1,790.5 1083.3,792.0 1082.7,792.9 1082.5,793.3 1082.9,793.2 1083.9,792.7 1085.5,792.0 1087.5,791.5 1089.8,791.2 1092.1,791.3 1094.2,792.1 1095.8,793.4 1096.9,795.2 1097.4,797.3 1097.2,799.6 1096.6,801.9" fill="none" stroke="#6c767c" stroke-width="2.0" stroke-linejoin="round" stroke-linecap="round" />
<polyline points="1042.0,899.6 1043.0,901.0 1043.6,902.2 1044.0,903.0 1044.2,903.3 1044.2,903.0 1044.3,902.1 1044.5,900.7 1044.9,899.1 1045.6,897.4 1046.7,895.9 1048.0,894.8 1049.6,894.2 1051.3,894.2 1052.9,894.8 1054.4,895.8 1055.7,897.1 1056.7,898.5 1057.4,899.7 1057.7,900.5 1057.9,900.8 1058.0,900.5 1058.0,899.6 1058.2,898.2 1058.7,896.6 1059.4,894.9 1060.4,893.4 1061.8,892.3 1063.3,891.7 1065.0,891.7 1066.7,892.3 1068.2,893.3 1069.5,894.6 1070.5,896.0 1071.1,897.2 1071.5,898.0 1071.7,898.3 1071.7,898.0 1071.8,897.1 1072.0,895.7 1072.4,894.1 1073.1,892.4 1074.2,890.9 1075.5,889.8 1077.1,889.2 1078.8,889.2 1080.4,889.8 1081.9,890.8 1083.2,892.1 1084.2,893.5 1084.9,894.7 1085.2,895.5 1085.4,895.8 1085.5,895.5 1085.5,894.6 1085.7,893.2 1086.2,891.6 1086.9,889.9 1087.9,888.4 1089.3,887.3 1090.8,886.7 1092.5,886.7 1094.2,887.3 1095.7,888.3 1097.0,889.6 1098.0,891.0 1098.6,892.2 1099.0,893.0 1099.2,893.3 1099.2,893.0 1099.3,892.1 1099.5,890.7 1099.9,889.1 1100.6,887.4 1101.7,885.9 1103.0,884.8 1104.6,884.2 1106.3,884.2 1107.9,884.8 1109.4,885.8 1110.7,887.1 1111.7,888.5 1112.4,889.7 1112.7,890.5 1112.9,890.8 1113.0,890.5 1113.0,889.6 1113.2,888.2 1113.7,886.6 1114.4,884.9 1115.4,883.4 1116.8,882.3 1118.3,881.7 1120.0,881.7 1121.7,882.3 1123.2,883.3 1124.5,884.6 1125.5,886.0 1126.1,887.2 1126.5,888.0 1126.7,888.3 1126.7,888.0 1126.8,887.1 1127.0,885.7 1127.4,884.1 1128.1,882.4 1129.2,880.9 1130.5,879.8 1132.1,879.2 1133.8,879.2 1135.4,879.8 1136.9,880.8 1138.2,882.1 1139.2,883.5 1139.9,884.7 1140.2,885.5 1140.4,885.8 1140.5,885.5 1140.5,884.6 1140.7,883.2 1141.2,881.6 1141.9,879.9 1142.9,878.4 1144.3,877.3 1145.8,876.7 1147.5,876.7 1149.2,877.3 1150.7,878.3 1152.0,879.6" fill="none" stroke="#5f6a71" stroke-width="2.0" stroke-linejoin="round" stroke-linecap="round" />
<polyline points="942.0,994.8 943.1,996.3 944.0,997.5 944.5,998.3 944.9,998.6 945.3,998.2 945.7,997.3 946.3,996.0 947.2,994.3 948.3,992.7 949.8,991.3 951.5,990.2 953.4,989.8 955.3,989.9 957.2,990.6 958.9,991.7 960.3,993.2 961.5,994.6 962.3,995.8 962.9,996.6 963.3,996.9 963.6,996.6 964.1,995.7 964.7,994.3 965.5,992.7 966.7,991.0 968.1,989.6 969.8,988.6 971.7,988.1 973.7,988.2 975.5,988.9 977.2,990.1 978.7,991.5 979.8,992.9 980.6,994.1 981.2,995.0 981.6,995.2 982.0,994.9 982.4,994.0 983.0,992.6 983.8,991.0 985.0,989.4 986.5,987.9 988.2,986.9 990.1,986.4 992.0,986.6 993.9,987.3 995.6,988.4 997.0,989.8 998.1,991.3 999.0,992.5 999.5,993.3 999.9,993.6 1000.3,993.2 1000.7,992.3 1001.3,991.0 1002.2,989.3 1003.3,987.7 1004.8,986.3 1006.5,985.2 1008.4,984.8 1010.3,984.9 1012.2,985.6 1013.9,986.7 1015.3,988.2 1016.5,989.6 1017.3,990.8 1017.9,991.6 1018.3,991.9 1018.6,991.6 1019.1,990.7 1019.7,989.3 1020.5,987.7 1021.7,986.0 1023.1,984.6 1024.8,983.6 1026.7,983.1 1028.7,983.2 1030.5,983.9 1032.2,985.1 1033.7,986.5 1034.8,987.9 1035.6,989.1 1036.2,990.0 1036.6,990.2 1037.0,989.9 1037.4,989.0 1038.0,987.6 1038.8,986.0 1040.0,984.4 1041.5,982.9 1043.2,981.9 1045.1,981.4 1047.0,981.6 1048.9,982.3 1050.6,983.4 1052.0,984.8" fill="none" stroke="#5f6a71" stroke-width="2.0" stroke-linejoin="round" stroke-linecap="round" />
<polyline points="1000.0,1040.0 1040.0,1045.0 1080.0,1040.0 1120.0,1035.0" fill="none" stroke="#6c767c" stroke-width="1.4" stroke-linejoin="round" stroke-linecap="round" />
<polyline points="901.9,929.5 903.1,930.8 903.9,931.9 904.5,932.7 904.7,932.9 904.8,932.6 904.9,931.7 905.1,930.3 905.6,928.6 906.3,926.9 907.3,925.3 908.7,924.0 910.3,923.3 912.0,923.2 913.8,923.6 915.5,924.6 916.9,925.8 918.1,927.1 918.9,928.2 919.5,928.9 919.7,929.2 919.8,928.8 919.9,927.9 920.1,926.5 920.6,924.9 921.3,923.1 922.3,921.5 923.7,920.3 925.3,919.6 927.0,919.4 928.8,919.9 930.5,920.8 931.9,922.0 933.1,923.3 933.9,924.4 934.5,925.2 934.7,925.4 934.8,925.1 934.9,924.2 935.1,922.8 935.6,921.1 936.3,919.4 937.3,917.8 938.7,916.5 940.3,915.8 942.0,915.7 943.8,916.1 945.5,917.1 946.9,918.3 948.1,919.6 948.9,920.7 949.5,921.4 949.7,921.7 949.8,921.3 949.9,920.4 950.1,919.0 950.6,917.4 951.3,915.6 952.3,914.0 953.7,912.8 955.3,912.1 957.0,911.9 958.8,912.4 960.5,913.3 961.9,914.5" fill="none" stroke="#66727a" stroke-width="1.8" stroke-linejoin="round" stroke-linecap="round" />
<polyline points="962.0,999.8 962.9,1001.2 963.4,1002.4 963.7,1003.3 963.8,1003.6 963.9,1003.2 963.9,1002.4 964.2,1001.0 964.7,999.4 965.5,997.8 966.6,996.3 967.9,995.3 969.5,994.8 971.1,994.9 972.7,995.6 974.1,996.7 975.3,998.1 976.2,999.5 976.8,1000.8 977.1,1001.6 977.2,1001.9 977.2,1001.6 977.3,1000.7 977.5,999.4 978.0,997.7 978.8,996.1 979.9,994.7 981.3,993.6 982.8,993.1 984.5,993.2 986.1,993.9 987.5,995.0 988.7,996.4 989.5,997.9 990.1,999.1 990.4,999.9 990.5,1000.2 990.5,999.9 990.6,999.0 990.9,997.7 991.3,996.1 992.1,994.4 993.2,993.0 994.6,991.9 996.2,991.4 997.8,991.6 999.4,992.2 1000.8,993.4 1002.0,994.8" fill="none" stroke="#66727a" stroke-width="1.8" stroke-linejoin="round" stroke-linecap="round" />
<polyline points="1102.0,874.8 1103.0,876.2 1103.6,877.4 1104.0,878.3 1104.2,878.5 1104.4,878.2 1104.5,877.3 1104.9,876.0 1105.5,874.4 1106.4,872.7 1107.6,871.3 1109.1,870.2 1110.8,869.7 1112.5,869.8 1114.2,870.5 1115.7,871.6 1117.0,873.0 1118.0,874.4 1118.6,875.7 1119.0,876.5 1119.2,876.8 1119.4,876.5 1119.5,875.6 1119.9,874.2 1120.5,872.6 1121.4,871.0 1122.6,869.5 1124.1,868.5 1125.8,868.0 1127.5,868.1 1129.2,868.7 1130.7,869.9 1132.0,871.3 1133.0,872.7 1133.6,873.9 1134.0,874.8 1134.2,875.0 1134.4,874.7 1134.5,873.8 1134.9,872.5 1135.5,870.9 1136.4,869.2 1137.6,867.8 1139.1,866.7 1140.8,866.2 1142.5,866.3 1144.2,867.0 1145.7,868.1 1147.0,869.5 1148.0,870.9 1148.6,872.2 1149.0,873.0 1149.2,873.3 1149.4,873.0 1149.5,872.1 1149.9,870.7 1150.5,869.1 1151.4,867.5 1152.6,866.0 1154.1,865.0 1155.8,864.5 1157.5,864.6 1159.2,865.2 1160.7,866.4 1162.0,867.8" fill="none" stroke="#66727a" stroke-width="1.8" stroke-linejoin="round" stroke-linecap="round" />
<polyline points="1111.6,933.8 1113.2,934.5 1114.5,935.2 1115.3,935.6 1115.7,935.7 1115.8,935.3 1115.6,934.4 1115.3,933.0 1115.1,931.2 1115.1,929.3 1115.5,927.3 1116.3,925.6 1117.6,924.3 1119.2,923.5 1121.1,923.1 1123.1,923.3 1124.9,923.8 1126.6,924.5 1127.8,925.2 1128.7,925.6 1129.1,925.7 1129.1,925.3 1128.9,924.4 1128.6,923.0 1128.4,921.2 1128.4,919.3 1128.8,917.3 1129.7,915.6 1130.9,914.3 1132.6,913.5 1134.4,913.1 1136.4,913.3 1138.3,913.8 1139.9,914.5 1141.2,915.2 1142.0,915.6 1142.4,915.7 1142.4,915.3 1142.2,914.4 1141.9,913.0 1141.7,911.2 1141.8,909.3 1142.2,907.3 1143.0,905.6 1144.3,904.3 1145.9,903.5 1147.8,903.1 1149.7,903.3 1151.6,903.8" fill="none" stroke="#66727a" stroke-width="1.8" stroke-linejoin="round" stroke-linecap="round" />
<polyline points="1020.9,881.8 1020.0,883.4 1019.1,884.6 1018.6,885.5 1018.5,886.0 1019.0,886.2 1020.0,886.2 1021.5,886.3 1023.3,886.5 1025.2,887.0 1027.1,887.9 1028.7,889.1 1029.8,890.7 1030.4,892.6 1030.5,894.6 1030.0,896.6 1029.2,898.5 1028.3,900.0 1027.5,901.3 1026.9,902.1 1026.8,902.6 1027.3,902.8 1028.3,902.9 1029.8,903.0 1031.6,903.2 1033.6,903.7 1035.4,904.6 1037.0,905.8 1038.2,907.4 1038.8,909.2 1038.8,911.2 1038.3,913.3 1037.6,915.1 1036.6,916.7 1035.8,917.9 1035.3,918.8 1035.2,919.3 1035.6,919.5 1036.6,919.6 1038.1,919.7 1039.9,919.9 1041.9,920.4 1043.8,921.2 1045.4,922.5 1046.5,924.0 1047.1,925.9 1047.1,927.9 1046.7,929.9 1045.9,931.8" fill="none" stroke="#66727a" stroke-width="1.8" stroke-linejoin="round" stroke-linecap="round" />
<polyline points="1065.0,1005.0 1085.0,1010.0 1100.0,1020.0 1120.0,1027.0 1130.0,1035.0" fill="none" stroke="#66727a" stroke-width="1.4" stroke-linejoin="round" stroke-linecap="round" />
<polyline points="1180.0,885.0 1192.0,890.0 1195.0,900.0 1188.0,905.0" fill="none" stroke="#66727a" stroke-width="1.4" stroke-linejoin="round" stroke-linecap="round" />
<line x1="901.2" y1="725.4" x2="901.2" y2="799.6" stroke="#464b50" stroke-width="2.2" />
<line x1="893.0" y1="725.4" x2="908.8" y2="725.4" stroke="#464b50" stroke-width="2.2" />
<line x1="893.0" y1="799.6" x2="908.8" y2="799.6" stroke="#464b50" stroke-width="2.2" />
<line x1="901.2" y1="738.6" x2="950.6" y2="709.0" stroke="#464b50" stroke-width="2.2" />
<line x1="1133.5" y1="713.9" x2="1133.5" y2="840.8" stroke="#464b50" stroke-width="2.2" />
<line x1="1126.9" y1="713.9" x2="1141.7" y2="713.9" stroke="#464b50" stroke-width="2.2" />
<line x1="1126.9" y1="840.8" x2="1141.7" y2="840.8" stroke="#464b50" stroke-width="2.2" />
<line x1="1133.5" y1="737.0" x2="1098.9" y2="706.3" stroke="#464b50" stroke-width="2.2" />
<line x1="1017.5" y1="710.6" x2="1080.1" y2="901.7" stroke="#464b50" stroke-width="2.2" />
<line x1="1082.7" y1="850.6" x2="1082.7" y2="901.7" stroke="#464b50" stroke-width="2.2" />
<line x1="1076.0" y1="850.6" x2="1089.0" y2="850.6" stroke="#464b50" stroke-width="2.2" />
<line x1="1076.0" y1="901.7" x2="1089.0" y2="901.7" stroke="#464b50" stroke-width="2.2" />
<text transform="translate(0.5,1124.8) scale(1,1.04)" font-size="25" text-anchor="start" fill="#231f20" font-weight="bold" >E</text>
<text transform="translate(302.3,1141) scale(1,1.04)" font-size="21.8" text-anchor="start" fill="#000" font-weight="normal" >MS Peptide Mapping &amp; Correlation to Olink - MASP1 isoform 2</text>
<line x1="197.70" y1="1158.5" x2="197.70" y2="1412" stroke="#e0e0de" stroke-width="1.4" />
<line x1="292.57" y1="1158.5" x2="292.57" y2="1412" stroke="#e0e0de" stroke-width="1.4" />
<line x1="387.44" y1="1158.5" x2="387.44" y2="1412" stroke="#e0e0de" stroke-width="1.4" />
<line x1="482.31" y1="1158.5" x2="482.31" y2="1412" stroke="#e0e0de" stroke-width="1.4" />
<line x1="576.01" y1="1158.5" x2="576.01" y2="1412" stroke="#e0e0de" stroke-width="1.4" />
<line x1="670.89" y1="1158.5" x2="670.89" y2="1412" stroke="#e0e0de" stroke-width="1.4" />
<line x1="765.76" y1="1158.5" x2="765.76" y2="1412" stroke="#e0e0de" stroke-width="1.4" />
<line x1="860.63" y1="1158.5" x2="860.63" y2="1412" stroke="#e0e0de" stroke-width="1.4" />
<line x1="104" y1="1180.9" x2="956.2" y2="1180.9" stroke="#e0e0de" stroke-width="1.4" />
<line x1="104" y1="1209" x2="956.2" y2="1209" stroke="#e0e0de" stroke-width="1.4" />
<line x1="104" y1="1237.2" x2="956.2" y2="1237.2" stroke="#e0e0de" stroke-width="1.4" />
<line x1="104" y1="1265" x2="956.2" y2="1265" stroke="#e0e0de" stroke-width="1.4" />
<line x1="104" y1="1292.6" x2="956.2" y2="1292.6" stroke="#e0e0de" stroke-width="1.4" />
<line x1="104" y1="1308.3" x2="956.2" y2="1308.3" stroke="#e0e0de" stroke-width="1.4" />
<line x1="104" y1="1325.8" x2="956.2" y2="1325.8" stroke="#e0e0de" stroke-width="1.4" />
<line x1="104" y1="1352.5" x2="956.2" y2="1352.5" stroke="#e0e0de" stroke-width="1.4" />
<line x1="104" y1="1387.8" x2="956.2" y2="1387.8" stroke="#e0e0de" stroke-width="1.4" />
<path d="M174.3,1292.7 L174.3,1229.3 C177.47,1225.53 185.68,1212.97 193.30,1206.70 C200.92,1200.43 212.22,1195.15 220.00,1191.70 C227.78,1188.25 232.78,1186.00 240.00,1186.00 C247.22,1186.00 254.42,1188.53 263.30,1191.70 C272.18,1194.87 281.63,1199.45 293.30,1205.00 C304.97,1210.55 322.18,1220.72 333.30,1225.00 C344.42,1229.28 350.00,1230.98 360.00,1230.70 C370.00,1230.42 382.18,1226.47 393.30,1223.30 C404.42,1220.13 416.70,1212.53 426.70,1211.70 C436.70,1210.87 444.42,1213.58 453.30,1218.30 C462.18,1223.02 470.55,1231.93 480.00,1240.00 C489.45,1248.07 499.45,1259.75 510.00,1266.70 C520.55,1273.65 532.47,1277.82 543.30,1281.70 C554.13,1285.58 563.88,1288.25 575.00,1290.00 C586.12,1291.75 589.17,1291.80 610.00,1292.20 C630.83,1292.60 671.67,1292.50 700.00,1292.40 C728.33,1292.30 760.00,1292.00 780.00,1291.60 C800.00,1291.20 809.17,1290.68 820.00,1290.00 C830.83,1289.32 838.12,1288.43 845.00,1287.50 C851.88,1286.57 856.04,1285.86 861.25,1284.40 C866.46,1282.94 870.62,1280.94 876.25,1278.75 C881.88,1276.56 889.38,1273.33 895.00,1271.25 C900.62,1269.17 905.42,1267.81 910.00,1266.25 C914.58,1264.69 917.71,1263.04 922.50,1261.90 C927.29,1260.76 935.00,1259.72 938.75,1259.40 C942.50,1259.08 942.16,1259.69 945.00,1260.00 C947.84,1260.31 954.00,1261.04 955.80,1261.25 L955.8,1292.7 Z" fill="#9d9d9d" fill-opacity="0.5" stroke="none"/>
<path d="M174.3,1292.7 L174.3,1229.3 C177.47,1225.53 185.68,1212.97 193.30,1206.70 C200.92,1200.43 212.22,1195.15 220.00,1191.70 C227.78,1188.25 232.78,1186.00 240.00,1186.00 C247.22,1186.00 254.42,1188.53 263.30,1191.70 C272.18,1194.87 281.63,1199.45 293.30,1205.00 C304.97,1210.55 322.18,1220.72 333.30,1225.00 C344.42,1229.28 350.00,1230.98 360.00,1230.70 C370.00,1230.42 382.18,1226.47 393.30,1223.30 C404.42,1220.13 416.70,1212.53 426.70,1211.70 C436.70,1210.87 444.42,1213.58 453.30,1218.30 C462.18,1223.02 470.55,1231.93 480.00,1240.00 C489.45,1248.07 499.45,1259.75 510.00,1266.70 C520.55,1273.65 532.47,1277.82 543.30,1281.70 C554.13,1285.58 563.88,1288.25 575.00,1290.00 C586.12,1291.75 589.17,1291.80 610.00,1292.20 C630.83,1292.60 671.67,1292.50 700.00,1292.40 C728.33,1292.30 760.00,1292.00 780.00,1291.60 C800.00,1291.20 809.17,1290.68 820.00,1290.00 C830.83,1289.32 838.12,1288.43 845.00,1287.50 C851.88,1286.57 856.04,1285.86 861.25,1284.40 C866.46,1282.94 870.62,1280.94 876.25,1278.75 C881.88,1276.56 889.38,1273.33 895.00,1271.25 C900.62,1269.17 905.42,1267.81 910.00,1266.25 C914.58,1264.69 917.71,1263.04 922.50,1261.90 C927.29,1260.76 935.00,1259.72 938.75,1259.40 C942.50,1259.08 942.16,1259.69 945.00,1260.00 C947.84,1260.31 954.00,1261.04 955.80,1261.25 L955.8,1292.7 Z" fill="none" stroke="#474747" stroke-width="2.7" stroke-linejoin="round"/>
<path d="M174.3,1292.7 L174.3,1259.3 C180.25,1257.75 199.60,1252.00 210.00,1250.00 C220.40,1248.00 228.92,1247.58 236.70,1247.30 C244.48,1247.02 247.27,1246.73 256.70,1248.30 C266.13,1249.87 278.30,1253.63 293.30,1256.70 C308.30,1259.77 332.80,1264.93 346.70,1266.70 C360.60,1268.47 367.82,1267.70 376.70,1267.30 C385.58,1266.90 391.67,1266.35 400.00,1264.30 C408.33,1262.25 416.70,1258.22 426.70,1255.00 C436.70,1251.78 450.57,1247.50 460.00,1245.00 C469.43,1242.50 475.52,1241.22 483.30,1240.00 C491.08,1238.78 499.47,1237.98 506.70,1237.70 C513.93,1237.42 521.15,1237.75 526.70,1238.30 C532.25,1238.85 531.95,1239.22 540.00,1241.00 C548.05,1242.78 563.33,1247.08 575.00,1249.00 C586.67,1250.92 598.33,1252.38 610.00,1252.50 C621.67,1252.62 633.33,1251.96 645.00,1249.75 C656.67,1247.54 668.33,1242.92 680.00,1239.25 C691.67,1235.58 704.79,1230.21 715.00,1227.70 C725.21,1225.19 732.50,1224.03 741.25,1224.20 C750.00,1224.38 759.04,1225.95 767.50,1228.75 C775.96,1231.55 783.25,1236.62 792.00,1241.00 C800.75,1245.38 810.67,1250.33 820.00,1255.00 C829.33,1259.67 841.12,1265.67 848.00,1269.00 C854.88,1272.33 855.50,1273.17 861.25,1275.00 C867.00,1276.83 874.79,1278.65 882.50,1280.00 C890.21,1281.35 899.17,1282.17 907.50,1283.10 C915.83,1284.03 924.45,1284.87 932.50,1285.60 C940.55,1286.33 951.92,1287.18 955.80,1287.50 L955.8,1292.7 Z" fill="#6cb4d6" fill-opacity="0.5" stroke="none"/>
<path d="M174.3,1292.7 L174.3,1259.3 C180.25,1257.75 199.60,1252.00 210.00,1250.00 C220.40,1248.00 228.92,1247.58 236.70,1247.30 C244.48,1247.02 247.27,1246.73 256.70,1248.30 C266.13,1249.87 278.30,1253.63 293.30,1256.70 C308.30,1259.77 332.80,1264.93 346.70,1266.70 C360.60,1268.47 367.82,1267.70 376.70,1267.30 C385.58,1266.90 391.67,1266.35 400.00,1264.30 C408.33,1262.25 416.70,1258.22 426.70,1255.00 C436.70,1251.78 450.57,1247.50 460.00,1245.00 C469.43,1242.50 475.52,1241.22 483.30,1240.00 C491.08,1238.78 499.47,1237.98 506.70,1237.70 C513.93,1237.42 521.15,1237.75 526.70,1238.30 C532.25,1238.85 531.95,1239.22 540.00,1241.00 C548.05,1242.78 563.33,1247.08 575.00,1249.00 C586.67,1250.92 598.33,1252.38 610.00,1252.50 C621.67,1252.62 633.33,1251.96 645.00,1249.75 C656.67,1247.54 668.33,1242.92 680.00,1239.25 C691.67,1235.58 704.79,1230.21 715.00,1227.70 C725.21,1225.19 732.50,1224.03 741.25,1224.20 C750.00,1224.38 759.04,1225.95 767.50,1228.75 C775.96,1231.55 783.25,1236.62 792.00,1241.00 C800.75,1245.38 810.67,1250.33 820.00,1255.00 C829.33,1259.67 841.12,1265.67 848.00,1269.00 C854.88,1272.33 855.50,1273.17 861.25,1275.00 C867.00,1276.83 874.79,1278.65 882.50,1280.00 C890.21,1281.35 899.17,1282.17 907.50,1283.10 C915.83,1284.03 924.45,1284.87 932.50,1285.60 C940.55,1286.33 951.92,1287.18 955.80,1287.50 L955.8,1292.7 Z" fill="none" stroke="#474747" stroke-width="2.7" stroke-linejoin="round"/>
<path d="M174.3,1292.7 L174.3,1292.5 C218.58,1292.47 388.50,1292.52 440.00,1292.30 C491.50,1292.08 471.63,1291.83 483.30,1291.20 C494.97,1290.57 502.77,1289.53 510.00,1288.50 C517.23,1287.47 521.70,1286.50 526.70,1285.00 C531.70,1283.50 534.87,1283.04 540.00,1279.50 C545.13,1275.96 551.67,1270.17 557.50,1263.75 C563.33,1257.33 567.42,1251.21 575.00,1241.00 C582.58,1230.79 595.42,1212.12 603.00,1202.50 C610.58,1192.88 614.78,1187.80 620.50,1183.25 C626.22,1178.70 630.88,1175.20 637.30,1175.20 C643.72,1175.20 651.88,1178.12 659.00,1183.25 C666.12,1188.38 672.42,1197.54 680.00,1206.00 C687.58,1214.46 696.33,1225.54 704.50,1234.00 C712.67,1242.46 722.25,1251.75 729.00,1256.75 C735.75,1261.75 740.33,1262.38 745.00,1264.00 C749.67,1265.62 752.83,1266.50 757.00,1266.50 C761.17,1266.50 765.33,1265.92 770.00,1264.00 C774.67,1262.08 779.00,1260.00 785.00,1255.00 C791.00,1250.00 800.17,1240.88 806.00,1234.00 C811.83,1227.12 815.17,1220.46 820.00,1213.75 C824.83,1207.04 830.00,1199.79 835.00,1193.75 C840.00,1187.71 845.21,1181.78 850.00,1177.50 C854.79,1173.22 859.38,1170.28 863.75,1168.10 C868.12,1165.92 872.50,1164.96 876.25,1164.40 C880.00,1163.84 882.71,1163.82 886.25,1164.75 C889.79,1165.68 893.54,1167.04 897.50,1170.00 C901.46,1172.96 905.21,1176.04 910.00,1182.50 C914.79,1188.96 920.83,1200.00 926.25,1208.75 C931.67,1217.50 937.58,1228.12 942.50,1235.00 C947.42,1241.88 953.58,1247.50 955.80,1250.00 L955.8,1292.7 Z" fill="#3d7ca3" fill-opacity="0.5" stroke="none"/>
<path d="M174.3,1292.7 L174.3,1292.5 C218.58,1292.47 388.50,1292.52 440.00,1292.30 C491.50,1292.08 471.63,1291.83 483.30,1291.20 C494.97,1290.57 502.77,1289.53 510.00,1288.50 C517.23,1287.47 521.70,1286.50 526.70,1285.00 C531.70,1283.50 534.87,1283.04 540.00,1279.50 C545.13,1275.96 551.67,1270.17 557.50,1263.75 C563.33,1257.33 567.42,1251.21 575.00,1241.00 C582.58,1230.79 595.42,1212.12 603.00,1202.50 C610.58,1192.88 614.78,1187.80 620.50,1183.25 C626.22,1178.70 630.88,1175.20 637.30,1175.20 C643.72,1175.20 651.88,1178.12 659.00,1183.25 C666.12,1188.38 672.42,1197.54 680.00,1206.00 C687.58,1214.46 696.33,1225.54 704.50,1234.00 C712.67,1242.46 722.25,1251.75 729.00,1256.75 C735.75,1261.75 740.33,1262.38 745.00,1264.00 C749.67,1265.62 752.83,1266.50 757.00,1266.50 C761.17,1266.50 765.33,1265.92 770.00,1264.00 C774.67,1262.08 779.00,1260.00 785.00,1255.00 C791.00,1250.00 800.17,1240.88 806.00,1234.00 C811.83,1227.12 815.17,1220.46 820.00,1213.75 C824.83,1207.04 830.00,1199.79 835.00,1193.75 C840.00,1187.71 845.21,1181.78 850.00,1177.50 C854.79,1173.22 859.38,1170.28 863.75,1168.10 C868.12,1165.92 872.50,1164.96 876.25,1164.40 C880.00,1163.84 882.71,1163.82 886.25,1164.75 C889.79,1165.68 893.54,1167.04 897.50,1170.00 C901.46,1172.96 905.21,1176.04 910.00,1182.50 C914.79,1188.96 920.83,1200.00 926.25,1208.75 C931.67,1217.50 937.58,1228.12 942.50,1235.00 C947.42,1241.88 953.58,1247.50 955.80,1250.00 L955.8,1292.7 Z" fill="none" stroke="#474747" stroke-width="2.7" stroke-linejoin="round"/>
<line x1="173.5" y1="1292.7" x2="956.2" y2="1292.7" stroke="#111" stroke-width="2.6" />
<rect x="104.00" y="1299.60" width="507.00" height="19.00" fill="#7ab8d3" />
<rect x="611.30" y="1318.60" width="344.20" height="15.90" fill="#0a71b3" />
<line x1="959.5" y1="1308.3" x2="968.5" y2="1308.3" stroke="#333" stroke-width="1.8" />
<line x1="959.5" y1="1325.8" x2="968.5" y2="1325.8" stroke="#333" stroke-width="1.8" />
<text transform="translate(973.7,1313.7) scale(1,1.04)" font-size="16.2" text-anchor="start" fill="#1a1a1a" font-weight="normal" >Multiple isoforms</text>
<text transform="translate(973.7,1331.3) scale(1,1.04)" font-size="16.2" text-anchor="start" fill="#1a1a1a" font-weight="normal" >Isoform 2</text>
<rect x="172.00" y="1335.30" width="22.50" height="35.50" fill="#e49a63" />
<rect x="194.50" y="1335.30" width="16.75" height="35.50" fill="#eaa767" />
<rect x="211.25" y="1335.30" width="30.75" height="35.50" fill="#d4dba1" />
<rect x="250.50" y="1335.30" width="20.25" height="35.50" fill="#ebad6b" />
<rect x="270.75" y="1335.30" width="29.25" height="35.50" fill="#edc479" />
<rect x="300.00" y="1335.30" width="11.75" height="35.50" fill="#f4df87" />
<rect x="316.75" y="1335.30" width="12.00" height="35.50" fill="#e4925f" />
<rect x="328.75" y="1335.30" width="16.75" height="35.50" fill="#eec276" />
<rect x="401.25" y="1335.30" width="9.50" height="35.50" fill="#ebae6b" />
<rect x="410.75" y="1335.30" width="29.25" height="35.50" fill="#edc77a" />
<rect x="448.75" y="1335.30" width="18.25" height="35.50" fill="#e5955f" />
<rect x="467.00" y="1335.30" width="8.50" height="35.50" fill="#e48f5f" />
<rect x="479.50" y="1335.30" width="14.50" height="35.50" fill="#ebb06b" />
<rect x="498.25" y="1335.30" width="14.75" height="35.50" fill="#ebac67" />
<rect x="513.00" y="1335.30" width="10.00" height="35.50" fill="#eaa866" />
<rect x="533.25" y="1335.30" width="18.50" height="35.50" fill="#e5935f" />
<rect x="564.25" y="1335.30" width="10.25" height="35.50" fill="#e48f5f" />
<rect x="603.25" y="1335.30" width="16.25" height="35.50" fill="#df6b4d" />
<rect x="619.50" y="1335.30" width="8.50" height="35.50" fill="#e37e56" />
<rect x="634.25" y="1335.30" width="22.50" height="35.50" fill="#e27a52" />
<rect x="692.00" y="1335.30" width="10.00" height="35.50" fill="#e37c57" />
<rect x="702.00" y="1335.30" width="16.75" height="35.50" fill="#e48b5c" />
<rect x="733.25" y="1335.30" width="43.00" height="35.50" fill="#e48a5b" />
<rect x="818.00" y="1335.30" width="12.00" height="35.50" fill="#e4775a" />
<rect x="830.00" y="1335.30" width="10.75" height="35.50" fill="#e16a55" />
<rect x="871.75" y="1335.30" width="25.75" height="35.50" fill="#e06450" />
<rect x="897.50" y="1335.30" width="19.25" height="35.50" fill="#df584b" />
<rect x="916.75" y="1335.30" width="8.25" height="35.50" fill="#e8985f" />
<rect x="925.00" y="1335.30" width="29.25" height="35.50" fill="#eec57a" />
<rect x="172.00" y="1370.20" width="22.50" height="35.00" fill="#f2e08f" />
<rect x="211.25" y="1370.20" width="30.75" height="35.00" fill="#f3d583" />
<rect x="250.50" y="1370.20" width="20.25" height="35.00" fill="#ebae6b" />
<rect x="411.25" y="1370.20" width="33.00" height="35.00" fill="#eee79c" />
<rect x="498.25" y="1370.20" width="16.25" height="35.00" fill="#e68f5d" />
<rect x="634.25" y="1370.20" width="28.75" height="35.00" fill="#e89a61" />
<rect x="733.25" y="1370.20" width="43.00" height="35.00" fill="#e89a62" />
<text transform="translate(105.30,1423.3) scale(1,1.04)" font-size="16" text-anchor="middle" fill="#4d4d4d" font-weight="normal" >1</text>
<text transform="translate(197.30,1423.3) scale(1,1.04)" font-size="16" text-anchor="middle" fill="#4d4d4d" font-weight="normal" >81</text>
<text transform="translate(292.17,1423.3) scale(1,1.04)" font-size="16" text-anchor="middle" fill="#4d4d4d" font-weight="normal" >162</text>
<text transform="translate(387.04,1423.3) scale(1,1.04)" font-size="16" text-anchor="middle" fill="#4d4d4d" font-weight="normal" >243</text>
<text transform="translate(481.91,1423.3) scale(1,1.04)" font-size="16" text-anchor="middle" fill="#4d4d4d" font-weight="normal" >324</text>
<text transform="translate(575.61,1423.3) scale(1,1.04)" font-size="16" text-anchor="middle" fill="#4d4d4d" font-weight="normal" >404</text>
<text transform="translate(670.49,1423.3) scale(1,1.04)" font-size="16" text-anchor="middle" fill="#4d4d4d" font-weight="normal" >485</text>
<text transform="translate(765.36,1423.3) scale(1,1.04)" font-size="16" text-anchor="middle" fill="#4d4d4d" font-weight="normal" >566</text>
<text transform="translate(860.23,1423.3) scale(1,1.04)" font-size="16" text-anchor="middle" fill="#4d4d4d" font-weight="normal" >647</text>
<text transform="translate(955.10,1423.3) scale(1,1.04)" font-size="16" text-anchor="middle" fill="#4d4d4d" font-weight="normal" >728</text>
<text transform="translate(524,1453.5) scale(1,1.04)" font-size="18.4" text-anchor="middle" fill="#000" font-weight="normal" >Sequence Position</text>
<text x="0" y="0" font-size="17" text-anchor="middle" fill="#000" transform="translate(88.8,1235.6) rotate(-90)">Density</text>
<text x="0" y="0" font-size="14.6" text-anchor="middle" fill="#000" transform="translate(87.8,1304.9) rotate(-90)">Features</text>
<text x="0" y="0" font-size="17" text-anchor="middle" fill="#000" transform="translate(88,1391.2) rotate(-90)">Peptides</text>
</svg></body></html>
